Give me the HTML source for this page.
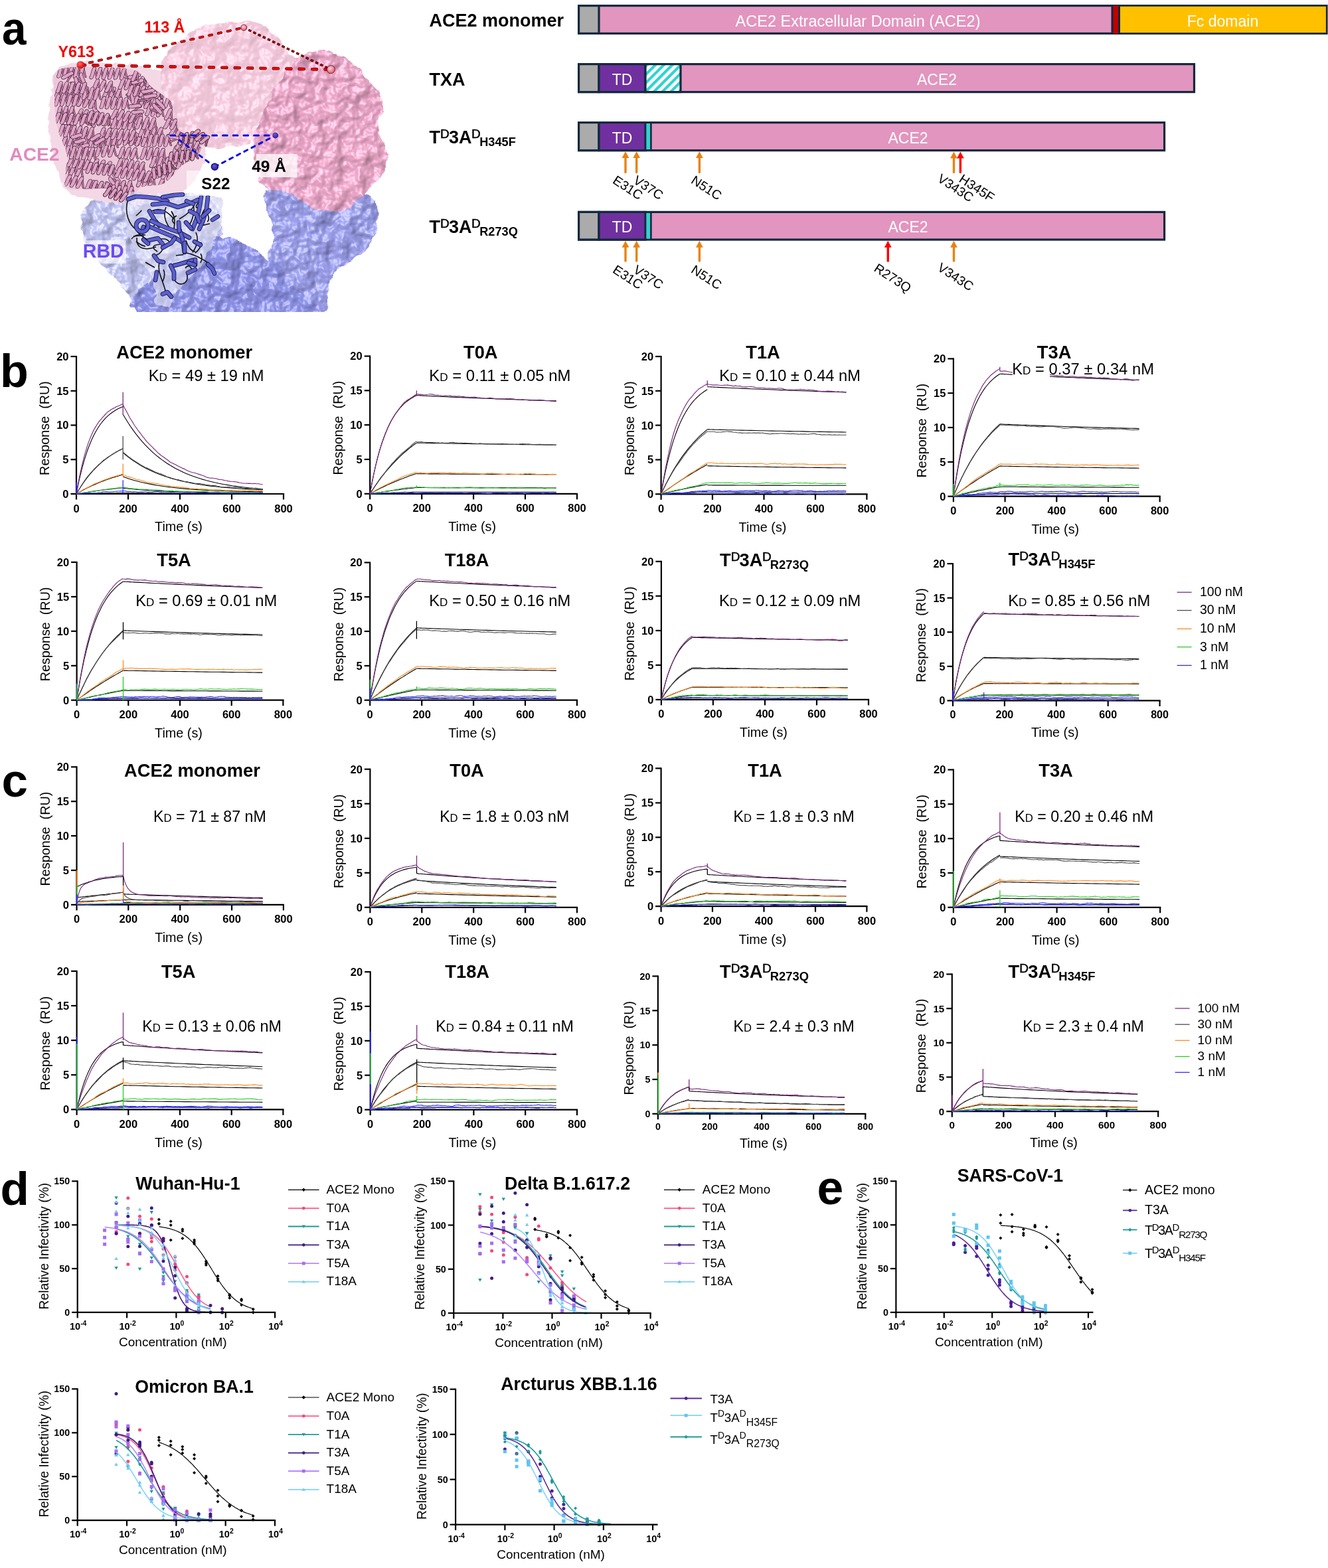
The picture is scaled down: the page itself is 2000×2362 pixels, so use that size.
<!DOCTYPE html>
<html><head><meta charset="utf-8"><title>Figure</title>
<style>html,body{margin:0;padding:0;background:#fff;} svg{display:block;}</style></head>
<body><svg width="2000" height="2362" viewBox="0 0 2000 2362" font-family="'Liberation Sans', Arial, Helvetica, sans-serif"><defs>
<pattern id="hatch" patternUnits="userSpaceOnUse" width="9" height="9" patternTransform="rotate(45)">
<rect width="9" height="9" fill="#fff"/><rect width="4.2" height="9" fill="#2FD2CF"/></pattern>
</defs><defs>
<filter id="surf" x="-10%" y="-10%" width="120%" height="120%">
 <feTurbulence type="fractalNoise" baseFrequency="0.07" numOctaves="2" seed="4" result="n"/>
 <feDisplacementMap in="SourceGraphic" in2="n" scale="10" xChannelSelector="R" yChannelSelector="G" result="shape"/>
 <feTurbulence type="fractalNoise" baseFrequency="0.045" numOctaves="3" seed="9" result="n2"/>
 <feGaussianBlur in="n2" stdDeviation="1.0" result="n3"/>
 <feSpecularLighting in="n3" surfaceScale="9" specularConstant="0.9" specularExponent="35" lighting-color="#ffffff" result="spec">
   <feDistantLight azimuth="225" elevation="50"/></feSpecularLighting>
 <feComposite in="spec" in2="shape" operator="in" result="spec2"/>
 <feDiffuseLighting in="n3" surfaceScale="10" diffuseConstant="1.0" lighting-color="#ffffff" result="diff">
   <feDistantLight azimuth="225" elevation="58"/></feDiffuseLighting>
 <feComposite in="shape" in2="diff" operator="arithmetic" k1="0.75" k2="0.32" k3="0" k4="0" result="lit"/>
 <feComposite in="lit" in2="shape" operator="in" result="lit2"/>
 <feComposite in="spec2" in2="lit2" operator="arithmetic" k1="0" k2="0.35" k3="1" k4="0"/>
</filter>
<filter id="surf2" x="-10%" y="-10%" width="120%" height="120%">
 <feTurbulence type="fractalNoise" baseFrequency="0.07" numOctaves="2" seed="4" result="n"/>
 <feDisplacementMap in="SourceGraphic" in2="n" scale="10" xChannelSelector="R" yChannelSelector="G" result="shape"/>
 <feTurbulence type="fractalNoise" baseFrequency="0.045" numOctaves="3" seed="17" result="n2"/>
 <feGaussianBlur in="n2" stdDeviation="1.0" result="n3"/>
 <feSpecularLighting in="n3" surfaceScale="8" specularConstant="0.8" specularExponent="30" lighting-color="#ffffff" result="spec">
   <feDistantLight azimuth="225" elevation="50"/></feSpecularLighting>
 <feComposite in="spec" in2="shape" operator="in" result="spec2"/>
 <feDiffuseLighting in="n3" surfaceScale="6" diffuseConstant="1.0" lighting-color="#ffffff" result="diff">
   <feDistantLight azimuth="225" elevation="62"/></feDiffuseLighting>
 <feComposite in="shape" in2="diff" operator="arithmetic" k1="0.45" k2="0.58" k3="0" k4="0" result="lit"/>
 <feComposite in="lit" in2="shape" operator="in" result="lit2"/>
 <feComposite in="spec2" in2="lit2" operator="arithmetic" k1="0" k2="0.3" k3="1" k4="0"/>
</filter>
<filter id="wob" x="-10%" y="-10%" width="120%" height="120%">
 <feTurbulence type="fractalNoise" baseFrequency="0.09" numOctaves="2" seed="4" result="n"/>
 <feDisplacementMap in="SourceGraphic" in2="n" scale="9" xChannelSelector="R" yChannelSelector="G"/>
</filter>
</defs>
<path d="M398.0,292.0C400.7,285.0 408.0,279.7 420.0,278.0C432.0,276.3 453.3,280.0 470.0,282.0C486.7,284.0 504.7,287.0 520.0,290.0C535.3,293.0 554.0,291.7 562.0,300.0C570.0,308.3 569.0,328.3 568.0,340.0C567.0,351.7 562.3,361.3 556.0,370.0C549.7,378.7 538.5,385.3 530.0,392.0C521.5,398.7 511.0,402.0 505.0,410.0C499.0,418.0 496.8,430.0 494.0,440.0C491.2,450.0 500.3,465.0 488.0,470.0C475.7,475.0 433.8,483.3 420.0,470.0C406.2,456.7 406.3,409.0 405.0,390.0C403.7,371.0 412.2,367.7 412.0,356.0C411.8,344.3 406.3,330.7 404.0,320.0C401.7,309.3 395.3,299.0 398.0,292.0Z" fill="#9EA1EC" filter="url(#surf)"/>
<path d="M122.0,330.0C123.0,318.3 129.2,308.7 138.0,302.0C146.8,295.3 162.2,293.2 175.0,290.0C187.8,286.8 202.5,283.8 215.0,283.0C227.5,282.2 237.5,283.5 250.0,285.0C262.5,286.5 278.3,289.5 290.0,292.0C301.7,294.5 313.3,293.7 320.0,300.0C326.7,306.3 328.0,320.7 330.0,330.0C332.0,339.3 337.0,347.7 332.0,356.0C327.0,364.3 312.0,369.3 300.0,380.0C288.0,390.7 271.7,408.3 260.0,420.0C248.3,431.7 238.3,441.7 230.0,450.0C221.7,458.3 216.7,471.7 210.0,470.0C203.3,468.3 198.3,450.8 190.0,440.0C181.7,429.2 169.7,416.3 160.0,405.0C150.3,393.7 138.3,384.5 132.0,372.0C125.7,359.5 121.0,341.7 122.0,330.0Z" fill="#C3C6F4" filter="url(#surf)"/>
<path d="M212.0,470.0C171.3,461.7 218.8,434.2 226.0,420.0C233.2,405.8 242.7,395.0 255.0,385.0C267.3,375.0 287.5,364.8 300.0,360.0C312.5,355.2 320.0,355.7 330.0,356.0C340.0,356.3 349.2,357.2 360.0,362.0C370.8,366.8 385.0,378.7 395.0,385.0C405.0,391.3 412.5,392.5 420.0,400.0C427.5,407.5 431.7,418.3 440.0,430.0C448.3,441.7 508.0,463.3 470.0,470.0C432.0,476.7 252.7,478.3 212.0,470.0Z" fill="#9094E8" filter="url(#surf)"/>
<rect x="150" y="470" width="450" height="12" fill="#fff"/>
<path d="M78.0,140.0C79.7,126.7 78.3,117.0 82.0,110.0C85.7,103.0 92.0,101.0 100.0,98.0C108.0,95.0 118.3,92.5 130.0,92.0C141.7,91.5 155.8,93.7 170.0,95.0C184.2,96.3 202.5,97.2 215.0,100.0C227.5,102.8 237.2,105.3 245.0,112.0C252.8,118.7 255.3,130.3 262.0,140.0C268.7,149.7 278.7,160.0 285.0,170.0C291.3,180.0 295.8,189.7 300.0,200.0C304.2,210.3 310.0,221.7 310.0,232.0C310.0,242.3 305.0,253.2 300.0,262.0C295.0,270.8 288.3,278.7 280.0,285.0C271.7,291.3 260.8,296.2 250.0,300.0C239.2,303.8 227.5,307.0 215.0,308.0C202.5,309.0 187.5,307.3 175.0,306.0C162.5,304.7 151.7,302.7 140.0,300.0C128.3,297.3 113.7,296.3 105.0,290.0C96.3,283.7 92.2,272.0 88.0,262.0C83.8,252.0 82.7,242.0 80.0,230.0C77.3,218.0 72.3,205.0 72.0,190.0C71.7,175.0 76.3,153.3 78.0,140.0Z" fill="#F4D8E5" filter="url(#wob)"/>
<path d="M242.0,118.0C241.7,107.7 241.7,97.0 246.0,88.0C250.3,79.0 259.0,71.7 268.0,64.0C277.0,56.3 289.7,47.0 300.0,42.0C310.3,37.0 320.0,35.7 330.0,34.0C340.0,32.3 350.0,31.7 360.0,32.0C370.0,32.3 381.0,32.7 390.0,36.0C399.0,39.3 406.3,44.7 414.0,52.0C421.7,59.3 429.2,72.7 436.0,80.0C442.8,87.3 456.0,89.7 455.0,96.0C454.0,102.3 437.5,110.3 430.0,118.0C422.5,125.7 415.7,133.0 410.0,142.0C404.3,151.0 400.0,162.3 396.0,172.0C392.0,181.7 390.3,192.3 386.0,200.0C381.7,207.7 377.7,214.3 370.0,218.0C362.3,221.7 350.0,221.3 340.0,222.0C330.0,222.7 318.3,223.2 310.0,222.0C301.7,220.8 296.7,218.7 290.0,215.0C283.3,211.3 275.7,206.7 270.0,200.0C264.3,193.3 259.7,183.3 256.0,175.0C252.3,166.7 250.3,159.5 248.0,150.0C245.7,140.5 242.3,128.3 242.0,118.0Z" fill="#F5CBDD" filter="url(#surf2)"/>
<path d="M428.0,112.0C435.8,101.3 441.7,92.0 452.0,86.0C462.3,80.0 477.8,75.0 490.0,76.0C502.2,77.0 513.7,84.3 525.0,92.0C536.3,99.7 549.2,111.3 558.0,122.0C566.8,132.7 576.3,144.3 578.0,156.0C579.7,167.7 567.3,181.0 568.0,192.0C568.7,203.0 580.0,211.7 582.0,222.0C584.0,232.3 583.7,244.3 580.0,254.0C576.3,263.7 566.7,272.3 560.0,280.0C553.3,287.7 546.7,293.7 540.0,300.0C533.3,306.3 528.3,315.0 520.0,318.0C511.7,321.0 498.3,318.7 490.0,318.0C481.7,317.3 476.3,317.0 470.0,314.0C463.7,311.0 458.7,304.0 452.0,300.0C445.3,296.0 436.7,292.3 430.0,290.0C423.3,287.7 418.3,288.3 412.0,286.0C405.7,283.7 396.8,282.0 392.0,276.0C387.2,270.0 384.5,261.0 383.0,250.0C381.5,239.0 381.5,221.7 383.0,210.0C384.5,198.3 388.3,190.0 392.0,180.0C395.7,170.0 399.0,161.3 405.0,150.0C411.0,138.7 420.2,122.7 428.0,112.0Z" fill="#EEAACB" filter="url(#surf)"/>
<clipPath id="ribclip"><path d="M87.0,106.0C97.5,99.5 125.3,100.8 145.0,101.0C164.7,101.2 191.2,102.0 205.0,107.0C218.8,112.0 218.2,122.2 228.0,131.0C237.8,139.8 257.2,149.2 264.0,160.0C270.8,170.8 262.8,187.8 269.0,196.0C275.2,204.2 296.2,202.8 301.0,209.0C305.8,215.2 302.7,226.2 298.0,233.0C293.3,239.8 281.5,242.8 273.0,250.0C264.5,257.2 257.0,270.7 247.0,276.0C237.0,281.3 222.0,277.3 213.0,282.0C204.0,286.7 201.0,300.8 193.0,304.0C185.0,307.2 170.2,304.3 165.0,301.0C159.8,297.7 172.3,286.8 162.0,284.0C151.7,281.2 113.5,288.2 103.0,284.0C92.5,279.8 99.3,267.5 99.0,259.0C98.7,250.5 103.2,244.5 101.0,233.0C98.8,221.5 89.2,205.5 86.0,190.0C82.8,174.5 81.8,154.0 82.0,140.0C82.2,126.0 76.5,112.5 87.0,106.0Z"/></clipPath>
<path d="M87.0,106.0C97.5,99.5 125.3,100.8 145.0,101.0C164.7,101.2 191.2,102.0 205.0,107.0C218.8,112.0 218.2,122.2 228.0,131.0C237.8,139.8 257.2,149.2 264.0,160.0C270.8,170.8 262.8,187.8 269.0,196.0C275.2,204.2 296.2,202.8 301.0,209.0C305.8,215.2 302.7,226.2 298.0,233.0C293.3,239.8 281.5,242.8 273.0,250.0C264.5,257.2 257.0,270.7 247.0,276.0C237.0,281.3 222.0,277.3 213.0,282.0C204.0,286.7 201.0,300.8 193.0,304.0C185.0,307.2 170.2,304.3 165.0,301.0C159.8,297.7 172.3,286.8 162.0,284.0C151.7,281.2 113.5,288.2 103.0,284.0C92.5,279.8 99.3,267.5 99.0,259.0C98.7,250.5 103.2,244.5 101.0,233.0C98.8,221.5 89.2,205.5 86.0,190.0C82.8,174.5 81.8,154.0 82.0,140.0C82.2,126.0 76.5,112.5 87.0,106.0Z" fill="#E8C0D6" opacity="0.7"/>
<g clip-path="url(#ribclip)">
<path d="M226.7 158.7c1.3 0.1 1.5 14.1 2.8 14.2M234.9 159.5c1.3 0.1 1.5 14.1 2.8 14.2M243.2 160.3c1.3 0.1 1.5 14.1 2.8 14.2" fill="none" stroke="#3a2030" stroke-width="3.3" stroke-linecap="round"/>
<path d="M226.7 158.7c1.3 0.1 1.5 14.1 2.8 14.2M234.9 159.5c1.3 0.1 1.5 14.1 2.8 14.2M243.2 160.3c1.3 0.1 1.5 14.1 2.8 14.2" fill="none" stroke="#C27BA2" stroke-width="2.1" stroke-linecap="round"/>
<path d="M221.2 172.2c1.3 0.1 4.1 -13.5 5.4 -13.4M229.5 172.9c1.3 0.1 4.1 -13.5 5.4 -13.4M237.8 173.7c1.3 0.1 4.1 -13.5 5.4 -13.4" fill="none" stroke="#3a2030" stroke-width="5.9" stroke-linecap="round"/>
<path d="M221.2 172.2c1.3 0.1 4.1 -13.5 5.4 -13.4M229.5 172.9c1.3 0.1 4.1 -13.5 5.4 -13.4M237.8 173.7c1.3 0.1 4.1 -13.5 5.4 -13.4" fill="none" stroke="#E2A3C8" stroke-width="4.6" stroke-linecap="round"/>
<path d="M207.0 147.1c1.5 0.2 1.5 13.0 2.9 13.2M216.1 148.3c1.5 0.2 1.5 13.0 2.9 13.2M225.2 149.4c1.5 0.2 1.5 13.0 2.9 13.2M234.2 150.6c1.5 0.2 1.5 13.0 2.9 13.2M243.3 151.7c1.5 0.2 1.5 13.0 2.9 13.2" fill="none" stroke="#3a2030" stroke-width="3.3" stroke-linecap="round"/>
<path d="M207.0 147.1c1.5 0.2 1.5 13.0 2.9 13.2M216.1 148.3c1.5 0.2 1.5 13.0 2.9 13.2M225.2 149.4c1.5 0.2 1.5 13.0 2.9 13.2M234.2 150.6c1.5 0.2 1.5 13.0 2.9 13.2M243.3 151.7c1.5 0.2 1.5 13.0 2.9 13.2" fill="none" stroke="#C27BA2" stroke-width="2.1" stroke-linecap="round"/>
<path d="M200.9 159.1c1.5 0.2 4.7 -12.2 6.1 -12.0M210.0 160.3c1.5 0.2 4.7 -12.2 6.1 -12.0M219.0 161.4c1.5 0.2 4.7 -12.2 6.1 -12.0M228.1 162.6c1.5 0.2 4.7 -12.2 6.1 -12.0M237.2 163.7c1.5 0.2 4.7 -12.2 6.1 -12.0" fill="none" stroke="#3a2030" stroke-width="5.9" stroke-linecap="round"/>
<path d="M200.9 159.1c1.5 0.2 4.7 -12.2 6.1 -12.0M210.0 160.3c1.5 0.2 4.7 -12.2 6.1 -12.0M219.0 161.4c1.5 0.2 4.7 -12.2 6.1 -12.0M228.1 162.6c1.5 0.2 4.7 -12.2 6.1 -12.0M237.2 163.7c1.5 0.2 4.7 -12.2 6.1 -12.0" fill="none" stroke="#E2A3C8" stroke-width="4.6" stroke-linecap="round"/>
<path d="M146.4 241.3c1.6 0.3 0.5 14.3 2.1 14.6M156.2 243.3c1.6 0.3 0.5 14.3 2.1 14.6M165.9 245.3c1.6 0.3 0.5 14.3 2.1 14.6" fill="none" stroke="#3a2030" stroke-width="3.3" stroke-linecap="round"/>
<path d="M146.4 241.3c1.6 0.3 0.5 14.3 2.1 14.6M156.2 243.3c1.6 0.3 0.5 14.3 2.1 14.6M165.9 245.3c1.6 0.3 0.5 14.3 2.1 14.6" fill="none" stroke="#C27BA2" stroke-width="2.1" stroke-linecap="round"/>
<path d="M138.8 254.0c1.6 0.3 6.1 -13.0 7.7 -12.6M148.5 256.0c1.6 0.3 6.1 -13.0 7.7 -12.6M158.2 258.0c1.6 0.3 6.1 -13.0 7.7 -12.6" fill="none" stroke="#3a2030" stroke-width="5.9" stroke-linecap="round"/>
<path d="M138.8 254.0c1.6 0.3 6.1 -13.0 7.7 -12.6M148.5 256.0c1.6 0.3 6.1 -13.0 7.7 -12.6M158.2 258.0c1.6 0.3 6.1 -13.0 7.7 -12.6" fill="none" stroke="#E2A3C8" stroke-width="4.6" stroke-linecap="round"/>
<path d="M245.4 271.0c1.5 0.2 1.8 12.4 3.4 12.6" fill="none" stroke="#3a2030" stroke-width="3.3" stroke-linecap="round"/>
<path d="M245.4 271.0c1.5 0.2 1.8 12.4 3.4 12.6" fill="none" stroke="#C27BA2" stroke-width="2.1" stroke-linecap="round"/>
<path d="M239.0 282.5c1.5 0.2 4.8 -11.6 6.3 -11.4" fill="none" stroke="#3a2030" stroke-width="5.9" stroke-linecap="round"/>
<path d="M239.0 282.5c1.5 0.2 4.8 -11.6 6.3 -11.4" fill="none" stroke="#E2A3C8" stroke-width="4.6" stroke-linecap="round"/>
<path d="M149.7 285.4c-0.8 1.0 -12.2 -5.8 -13.0 -4.8M144.8 291.8c-0.8 1.0 -12.2 -5.8 -13.0 -4.8M139.9 298.2c-0.8 1.0 -12.2 -5.8 -13.0 -4.8" fill="none" stroke="#3a2030" stroke-width="3.3" stroke-linecap="round"/>
<path d="M149.7 285.4c-0.8 1.0 -12.2 -5.8 -13.0 -4.8M144.8 291.8c-0.8 1.0 -12.2 -5.8 -13.0 -4.8M139.9 298.2c-0.8 1.0 -12.2 -5.8 -13.0 -4.8" fill="none" stroke="#C27BA2" stroke-width="2.1" stroke-linecap="round"/>
<path d="M141.6 274.2c-0.8 1.0 8.9 10.2 8.1 11.2M136.7 280.6c-0.8 1.0 8.9 10.2 8.1 11.2M131.8 287.0c-0.8 1.0 8.9 10.2 8.1 11.2" fill="none" stroke="#3a2030" stroke-width="5.9" stroke-linecap="round"/>
<path d="M141.6 274.2c-0.8 1.0 8.9 10.2 8.1 11.2M136.7 280.6c-0.8 1.0 8.9 10.2 8.1 11.2M131.8 287.0c-0.8 1.0 8.9 10.2 8.1 11.2" fill="none" stroke="#E2A3C8" stroke-width="4.6" stroke-linecap="round"/>
<path d="M211.2 208.0c-0.6 1.4 -13.4 -2.4 -13.9 -1.0M207.6 216.5c-0.6 1.4 -13.4 -2.4 -13.9 -1.0" fill="none" stroke="#3a2030" stroke-width="3.3" stroke-linecap="round"/>
<path d="M211.2 208.0c-0.6 1.4 -13.4 -2.4 -13.9 -1.0M207.6 216.5c-0.6 1.4 -13.4 -2.4 -13.9 -1.0" fill="none" stroke="#C27BA2" stroke-width="2.1" stroke-linecap="round"/>
<path d="M200.9 198.6c-0.6 1.4 10.9 8.1 10.3 9.5M197.3 207.0c-0.6 1.4 10.9 8.1 10.3 9.5" fill="none" stroke="#3a2030" stroke-width="5.9" stroke-linecap="round"/>
<path d="M200.9 198.6c-0.6 1.4 10.9 8.1 10.3 9.5M197.3 207.0c-0.6 1.4 10.9 8.1 10.3 9.5" fill="none" stroke="#E2A3C8" stroke-width="4.6" stroke-linecap="round"/>
<path d="M99.4 207.3c1.4 0.1 1.5 13.3 2.9 13.5M108.1 208.2c1.4 0.1 1.5 13.3 2.9 13.5M116.7 209.1c1.4 0.1 1.5 13.3 2.9 13.5" fill="none" stroke="#3a2030" stroke-width="3.3" stroke-linecap="round"/>
<path d="M99.4 207.3c1.4 0.1 1.5 13.3 2.9 13.5M108.1 208.2c1.4 0.1 1.5 13.3 2.9 13.5M116.7 209.1c1.4 0.1 1.5 13.3 2.9 13.5" fill="none" stroke="#C27BA2" stroke-width="2.1" stroke-linecap="round"/>
<path d="M93.7 219.8c1.4 0.1 4.3 -12.7 5.7 -12.6M102.4 220.8c1.4 0.1 4.3 -12.7 5.7 -12.6M111.0 221.7c1.4 0.1 4.3 -12.7 5.7 -12.6" fill="none" stroke="#3a2030" stroke-width="5.9" stroke-linecap="round"/>
<path d="M93.7 219.8c1.4 0.1 4.3 -12.7 5.7 -12.6M102.4 220.8c1.4 0.1 4.3 -12.7 5.7 -12.6M111.0 221.7c1.4 0.1 4.3 -12.7 5.7 -12.6" fill="none" stroke="#E2A3C8" stroke-width="4.6" stroke-linecap="round"/>
<path d="M163.1 132.3c1.4 0.2 0.7 14.7 2.1 15.0M171.8 133.7c1.4 0.2 0.7 14.7 2.1 15.0M180.6 135.0c1.4 0.2 0.7 14.7 2.1 15.0" fill="none" stroke="#3a2030" stroke-width="3.3" stroke-linecap="round"/>
<path d="M163.1 132.3c1.4 0.2 0.7 14.7 2.1 15.0M171.8 133.7c1.4 0.2 0.7 14.7 2.1 15.0M180.6 135.0c1.4 0.2 0.7 14.7 2.1 15.0" fill="none" stroke="#C27BA2" stroke-width="2.1" stroke-linecap="round"/>
<path d="M156.5 145.9c1.4 0.2 5.2 -13.8 6.6 -13.6M165.2 147.2c1.4 0.2 5.2 -13.8 6.6 -13.6M174.0 148.6c1.4 0.2 5.2 -13.8 6.6 -13.6" fill="none" stroke="#3a2030" stroke-width="5.9" stroke-linecap="round"/>
<path d="M156.5 145.9c1.4 0.2 5.2 -13.8 6.6 -13.6M165.2 147.2c1.4 0.2 5.2 -13.8 6.6 -13.6M174.0 148.6c1.4 0.2 5.2 -13.8 6.6 -13.6" fill="none" stroke="#E2A3C8" stroke-width="4.6" stroke-linecap="round"/>
<path d="M151.3 175.7c-0.8 1.1 -13.6 -6.6 -14.5 -5.5M146.2 182.5c-0.8 1.1 -13.6 -6.6 -14.5 -5.5M141.1 189.3c-0.8 1.1 -13.6 -6.6 -14.5 -5.5" fill="none" stroke="#3a2030" stroke-width="3.3" stroke-linecap="round"/>
<path d="M151.3 175.7c-0.8 1.1 -13.6 -6.6 -14.5 -5.5M146.2 182.5c-0.8 1.1 -13.6 -6.6 -14.5 -5.5M141.1 189.3c-0.8 1.1 -13.6 -6.6 -14.5 -5.5" fill="none" stroke="#C27BA2" stroke-width="2.1" stroke-linecap="round"/>
<path d="M142.0 163.3c-0.8 1.1 10.2 11.2 9.3 12.3M136.9 170.1c-0.8 1.1 10.2 11.2 9.3 12.3M131.8 177.0c-0.8 1.1 10.2 11.2 9.3 12.3" fill="none" stroke="#3a2030" stroke-width="5.9" stroke-linecap="round"/>
<path d="M142.0 163.3c-0.8 1.1 10.2 11.2 9.3 12.3M136.9 170.1c-0.8 1.1 10.2 11.2 9.3 12.3M131.8 177.0c-0.8 1.1 10.2 11.2 9.3 12.3" fill="none" stroke="#E2A3C8" stroke-width="4.6" stroke-linecap="round"/>
<path d="M184.2 204.1c1.4 0.1 2.3 12.5 3.7 12.5M193.2 204.6c1.4 0.1 2.3 12.5 3.7 12.5M202.1 205.2c1.4 0.1 2.3 12.5 3.7 12.5M211.1 205.7c1.4 0.1 2.3 12.5 3.7 12.5M220.0 206.3c1.4 0.1 2.3 12.5 3.7 12.5" fill="none" stroke="#3a2030" stroke-width="3.3" stroke-linecap="round"/>
<path d="M184.2 204.1c1.4 0.1 2.3 12.5 3.7 12.5M193.2 204.6c1.4 0.1 2.3 12.5 3.7 12.5M202.1 205.2c1.4 0.1 2.3 12.5 3.7 12.5M211.1 205.7c1.4 0.1 2.3 12.5 3.7 12.5M220.0 206.3c1.4 0.1 2.3 12.5 3.7 12.5" fill="none" stroke="#C27BA2" stroke-width="2.1" stroke-linecap="round"/>
<path d="M179.0 216.1c1.4 0.1 3.8 -12.1 5.2 -12.0M187.9 216.6c1.4 0.1 3.8 -12.1 5.2 -12.0M196.9 217.2c1.4 0.1 3.8 -12.1 5.2 -12.0M205.8 217.7c1.4 0.1 3.8 -12.1 5.2 -12.0M214.8 218.3c1.4 0.1 3.8 -12.1 5.2 -12.0" fill="none" stroke="#3a2030" stroke-width="5.9" stroke-linecap="round"/>
<path d="M179.0 216.1c1.4 0.1 3.8 -12.1 5.2 -12.0M187.9 216.6c1.4 0.1 3.8 -12.1 5.2 -12.0M196.9 217.2c1.4 0.1 3.8 -12.1 5.2 -12.0M205.8 217.7c1.4 0.1 3.8 -12.1 5.2 -12.0M214.8 218.3c1.4 0.1 3.8 -12.1 5.2 -12.0" fill="none" stroke="#E2A3C8" stroke-width="4.6" stroke-linecap="round"/>
<path d="M217.1 190.4c1.4 0.2 0.8 14.5 2.2 14.7M225.7 191.7c1.4 0.2 0.8 14.5 2.2 14.7M234.3 193.0c1.4 0.2 0.8 14.5 2.2 14.7M242.9 194.3c1.4 0.2 0.8 14.5 2.2 14.7" fill="none" stroke="#3a2030" stroke-width="3.3" stroke-linecap="round"/>
<path d="M217.1 190.4c1.4 0.2 0.8 14.5 2.2 14.7M225.7 191.7c1.4 0.2 0.8 14.5 2.2 14.7M234.3 193.0c1.4 0.2 0.8 14.5 2.2 14.7M242.9 194.3c1.4 0.2 0.8 14.5 2.2 14.7" fill="none" stroke="#C27BA2" stroke-width="2.1" stroke-linecap="round"/>
<path d="M210.7 203.8c1.4 0.2 5.0 -13.6 6.4 -13.4M219.3 205.1c1.4 0.2 5.0 -13.6 6.4 -13.4M227.9 206.4c1.4 0.2 5.0 -13.6 6.4 -13.4M236.5 207.7c1.4 0.2 5.0 -13.6 6.4 -13.4" fill="none" stroke="#3a2030" stroke-width="5.9" stroke-linecap="round"/>
<path d="M210.7 203.8c1.4 0.2 5.0 -13.6 6.4 -13.4M219.3 205.1c1.4 0.2 5.0 -13.6 6.4 -13.4M227.9 206.4c1.4 0.2 5.0 -13.6 6.4 -13.4M236.5 207.7c1.4 0.2 5.0 -13.6 6.4 -13.4" fill="none" stroke="#E2A3C8" stroke-width="4.6" stroke-linecap="round"/>
<path d="M145.1 173.8c1.5 0.1 2.1 12.9 3.6 13.1M154.2 174.5c1.5 0.1 2.1 12.9 3.6 13.1M163.3 175.2c1.5 0.1 2.1 12.9 3.6 13.1" fill="none" stroke="#3a2030" stroke-width="3.3" stroke-linecap="round"/>
<path d="M145.1 173.8c1.5 0.1 2.1 12.9 3.6 13.1M154.2 174.5c1.5 0.1 2.1 12.9 3.6 13.1M163.3 175.2c1.5 0.1 2.1 12.9 3.6 13.1" fill="none" stroke="#C27BA2" stroke-width="2.1" stroke-linecap="round"/>
<path d="M139.6 186.1c1.5 0.1 4.1 -12.5 5.5 -12.3M148.7 186.9c1.5 0.1 4.1 -12.5 5.5 -12.3M157.8 187.6c1.5 0.1 4.1 -12.5 5.5 -12.3" fill="none" stroke="#3a2030" stroke-width="5.9" stroke-linecap="round"/>
<path d="M139.6 186.1c1.5 0.1 4.1 -12.5 5.5 -12.3M148.7 186.9c1.5 0.1 4.1 -12.5 5.5 -12.3M157.8 187.6c1.5 0.1 4.1 -12.5 5.5 -12.3" fill="none" stroke="#E2A3C8" stroke-width="4.6" stroke-linecap="round"/>
<path d="M265.8 221.4c1.5 0.1 1.9 14.7 3.3 14.8M274.9 222.1c1.5 0.1 1.9 14.7 3.3 14.8M284.1 222.9c1.5 0.1 1.9 14.7 3.3 14.8M293.2 223.7c1.5 0.1 1.9 14.7 3.3 14.8" fill="none" stroke="#3a2030" stroke-width="3.3" stroke-linecap="round"/>
<path d="M265.8 221.4c1.5 0.1 1.9 14.7 3.3 14.8M274.9 222.1c1.5 0.1 1.9 14.7 3.3 14.8M284.1 222.9c1.5 0.1 1.9 14.7 3.3 14.8M293.2 223.7c1.5 0.1 1.9 14.7 3.3 14.8" fill="none" stroke="#C27BA2" stroke-width="2.1" stroke-linecap="round"/>
<path d="M260.0 235.4c1.5 0.1 4.3 -14.1 5.8 -14.0M269.1 236.2c1.5 0.1 4.3 -14.1 5.8 -14.0M278.3 237.0c1.5 0.1 4.3 -14.1 5.8 -14.0M287.4 237.7c1.5 0.1 4.3 -14.1 5.8 -14.0" fill="none" stroke="#3a2030" stroke-width="5.9" stroke-linecap="round"/>
<path d="M260.0 235.4c1.5 0.1 4.3 -14.1 5.8 -14.0M269.1 236.2c1.5 0.1 4.3 -14.1 5.8 -14.0M278.3 237.0c1.5 0.1 4.3 -14.1 5.8 -14.0M287.4 237.7c1.5 0.1 4.3 -14.1 5.8 -14.0" fill="none" stroke="#E2A3C8" stroke-width="4.6" stroke-linecap="round"/>
<path d="M179.6 274.5c-0.9 1.1 -12.6 -6.4 -13.5 -5.4M174.0 281.3c-0.9 1.1 -12.6 -6.4 -13.5 -5.4M168.5 288.1c-0.9 1.1 -12.6 -6.4 -13.5 -5.4" fill="none" stroke="#3a2030" stroke-width="3.3" stroke-linecap="round"/>
<path d="M179.6 274.5c-0.9 1.1 -12.6 -6.4 -13.5 -5.4M174.0 281.3c-0.9 1.1 -12.6 -6.4 -13.5 -5.4M168.5 288.1c-0.9 1.1 -12.6 -6.4 -13.5 -5.4" fill="none" stroke="#C27BA2" stroke-width="2.1" stroke-linecap="round"/>
<path d="M171.7 262.4c-0.9 1.1 8.8 11.1 7.9 12.2M166.1 269.2c-0.9 1.1 8.8 11.1 7.9 12.2M160.6 276.0c-0.9 1.1 8.8 11.1 7.9 12.2" fill="none" stroke="#3a2030" stroke-width="5.9" stroke-linecap="round"/>
<path d="M171.7 262.4c-0.9 1.1 8.8 11.1 7.9 12.2M166.1 269.2c-0.9 1.1 8.8 11.1 7.9 12.2M160.6 276.0c-0.9 1.1 8.8 11.1 7.9 12.2" fill="none" stroke="#E2A3C8" stroke-width="4.6" stroke-linecap="round"/>
<path d="M143.9 229.6c0.7 1.4 -11.2 8.9 -10.6 10.3" fill="none" stroke="#3a2030" stroke-width="3.3" stroke-linecap="round"/>
<path d="M143.9 229.6c0.7 1.4 -11.2 8.9 -10.6 10.3" fill="none" stroke="#C27BA2" stroke-width="2.1" stroke-linecap="round"/>
<path d="M129.2 231.3c0.7 1.4 14.0 -3.0 14.7 -1.7" fill="none" stroke="#3a2030" stroke-width="5.9" stroke-linecap="round"/>
<path d="M129.2 231.3c0.7 1.4 14.0 -3.0 14.7 -1.7" fill="none" stroke="#E2A3C8" stroke-width="4.6" stroke-linecap="round"/>
<path d="M218.6 118.0c1.6 0.1 2.9 12.4 4.5 12.4" fill="none" stroke="#3a2030" stroke-width="3.3" stroke-linecap="round"/>
<path d="M218.6 118.0c1.6 0.1 2.9 12.4 4.5 12.4" fill="none" stroke="#C27BA2" stroke-width="2.1" stroke-linecap="round"/>
<path d="M213.1 130.0c1.6 0.1 3.9 -12.1 5.5 -12.0" fill="none" stroke="#3a2030" stroke-width="5.9" stroke-linecap="round"/>
<path d="M213.1 130.0c1.6 0.1 3.9 -12.1 5.5 -12.0" fill="none" stroke="#E2A3C8" stroke-width="4.6" stroke-linecap="round"/>
<path d="M186.4 119.3c1.4 0.1 1.6 13.5 3.1 13.7M195.2 120.2c1.4 0.1 1.6 13.5 3.1 13.7M204.1 121.2c1.4 0.1 1.6 13.5 3.1 13.7" fill="none" stroke="#3a2030" stroke-width="3.3" stroke-linecap="round"/>
<path d="M186.4 119.3c1.4 0.1 1.6 13.5 3.1 13.7M195.2 120.2c1.4 0.1 1.6 13.5 3.1 13.7M204.1 121.2c1.4 0.1 1.6 13.5 3.1 13.7" fill="none" stroke="#C27BA2" stroke-width="2.1" stroke-linecap="round"/>
<path d="M180.6 132.1c1.4 0.1 4.4 -12.9 5.8 -12.8M189.4 133.0c1.4 0.1 4.4 -12.9 5.8 -12.8M198.3 133.9c1.4 0.1 4.4 -12.9 5.8 -12.8" fill="none" stroke="#3a2030" stroke-width="5.9" stroke-linecap="round"/>
<path d="M180.6 132.1c1.4 0.1 4.4 -12.9 5.8 -12.8M189.4 133.0c1.4 0.1 4.4 -12.9 5.8 -12.8M198.3 133.9c1.4 0.1 4.4 -12.9 5.8 -12.8" fill="none" stroke="#E2A3C8" stroke-width="4.6" stroke-linecap="round"/>
<path d="M89.1 134.6c1.5 0.1 2.1 13.7 3.6 13.8M98.6 135.4c1.5 0.1 2.1 13.7 3.6 13.8M108.0 136.2c1.5 0.1 2.1 13.7 3.6 13.8M117.4 137.0c1.5 0.1 2.1 13.7 3.6 13.8" fill="none" stroke="#3a2030" stroke-width="3.3" stroke-linecap="round"/>
<path d="M89.1 134.6c1.5 0.1 2.1 13.7 3.6 13.8M98.6 135.4c1.5 0.1 2.1 13.7 3.6 13.8M108.0 136.2c1.5 0.1 2.1 13.7 3.6 13.8M117.4 137.0c1.5 0.1 2.1 13.7 3.6 13.8" fill="none" stroke="#C27BA2" stroke-width="2.1" stroke-linecap="round"/>
<path d="M83.3 147.6c1.5 0.1 4.3 -13.2 5.9 -13.0M92.7 148.4c1.5 0.1 4.3 -13.2 5.9 -13.0M102.1 149.2c1.5 0.1 4.3 -13.2 5.9 -13.0M111.6 150.0c1.5 0.1 4.3 -13.2 5.9 -13.0" fill="none" stroke="#3a2030" stroke-width="5.9" stroke-linecap="round"/>
<path d="M83.3 147.6c1.5 0.1 4.3 -13.2 5.9 -13.0M92.7 148.4c1.5 0.1 4.3 -13.2 5.9 -13.0M102.1 149.2c1.5 0.1 4.3 -13.2 5.9 -13.0M111.6 150.0c1.5 0.1 4.3 -13.2 5.9 -13.0" fill="none" stroke="#E2A3C8" stroke-width="4.6" stroke-linecap="round"/>
<path d="M185.6 223.3c1.5 0.1 1.9 13.6 3.4 13.8M194.7 224.1c1.5 0.1 1.9 13.6 3.4 13.8M203.9 225.0c1.5 0.1 1.9 13.6 3.4 13.8" fill="none" stroke="#3a2030" stroke-width="3.3" stroke-linecap="round"/>
<path d="M185.6 223.3c1.5 0.1 1.9 13.6 3.4 13.8M194.7 224.1c1.5 0.1 1.9 13.6 3.4 13.8M203.9 225.0c1.5 0.1 1.9 13.6 3.4 13.8" fill="none" stroke="#C27BA2" stroke-width="2.1" stroke-linecap="round"/>
<path d="M179.8 236.2c1.5 0.1 4.3 -13.1 5.8 -12.9M188.9 237.1c1.5 0.1 4.3 -13.1 5.8 -12.9M198.1 237.9c1.5 0.1 4.3 -13.1 5.8 -12.9" fill="none" stroke="#3a2030" stroke-width="5.9" stroke-linecap="round"/>
<path d="M179.8 236.2c1.5 0.1 4.3 -13.1 5.8 -12.9M188.9 237.1c1.5 0.1 4.3 -13.1 5.8 -12.9M198.1 237.9c1.5 0.1 4.3 -13.1 5.8 -12.9" fill="none" stroke="#E2A3C8" stroke-width="4.6" stroke-linecap="round"/>
<path d="M131.1 206.8c1.4 0.1 2.4 13.0 3.7 13.1M139.6 207.1c1.4 0.1 2.4 13.0 3.7 13.1M148.1 207.5c1.4 0.1 2.4 13.0 3.7 13.1M156.6 207.8c1.4 0.1 2.4 13.0 3.7 13.1M165.1 208.2c1.4 0.1 2.4 13.0 3.7 13.1M173.6 208.6c1.4 0.1 2.4 13.0 3.7 13.1" fill="none" stroke="#3a2030" stroke-width="3.3" stroke-linecap="round"/>
<path d="M131.1 206.8c1.4 0.1 2.4 13.0 3.7 13.1M139.6 207.1c1.4 0.1 2.4 13.0 3.7 13.1M148.1 207.5c1.4 0.1 2.4 13.0 3.7 13.1M156.6 207.8c1.4 0.1 2.4 13.0 3.7 13.1M165.1 208.2c1.4 0.1 2.4 13.0 3.7 13.1M173.6 208.6c1.4 0.1 2.4 13.0 3.7 13.1" fill="none" stroke="#C27BA2" stroke-width="2.1" stroke-linecap="round"/>
<path d="M126.4 219.5c1.4 0.1 3.4 -12.8 4.8 -12.7M134.9 219.8c1.4 0.1 3.4 -12.8 4.8 -12.7M143.4 220.2c1.4 0.1 3.4 -12.8 4.8 -12.7M151.9 220.6c1.4 0.1 3.4 -12.8 4.8 -12.7M160.4 220.9c1.4 0.1 3.4 -12.8 4.8 -12.7M168.9 221.3c1.4 0.1 3.4 -12.8 4.8 -12.7" fill="none" stroke="#3a2030" stroke-width="5.9" stroke-linecap="round"/>
<path d="M126.4 219.5c1.4 0.1 3.4 -12.8 4.8 -12.7M134.9 219.8c1.4 0.1 3.4 -12.8 4.8 -12.7M143.4 220.2c1.4 0.1 3.4 -12.8 4.8 -12.7M151.9 220.6c1.4 0.1 3.4 -12.8 4.8 -12.7M160.4 220.9c1.4 0.1 3.4 -12.8 4.8 -12.7M168.9 221.3c1.4 0.1 3.4 -12.8 4.8 -12.7" fill="none" stroke="#E2A3C8" stroke-width="4.6" stroke-linecap="round"/>
<path d="M174.9 178.2c1.3 0.1 1.4 13.8 2.7 13.9M183.1 179.1c1.3 0.1 1.4 13.8 2.7 13.9M191.3 179.9c1.3 0.1 1.4 13.8 2.7 13.9M199.5 180.8c1.3 0.1 1.4 13.8 2.7 13.9" fill="none" stroke="#3a2030" stroke-width="3.3" stroke-linecap="round"/>
<path d="M174.9 178.2c1.3 0.1 1.4 13.8 2.7 13.9M183.1 179.1c1.3 0.1 1.4 13.8 2.7 13.9M191.3 179.9c1.3 0.1 1.4 13.8 2.7 13.9M199.5 180.8c1.3 0.1 1.4 13.8 2.7 13.9" fill="none" stroke="#C27BA2" stroke-width="2.1" stroke-linecap="round"/>
<path d="M169.4 191.3c1.3 0.1 4.2 -13.2 5.5 -13.0M177.6 192.1c1.3 0.1 4.2 -13.2 5.5 -13.0M185.8 193.0c1.3 0.1 4.2 -13.2 5.5 -13.0M194.0 193.8c1.3 0.1 4.2 -13.2 5.5 -13.0" fill="none" stroke="#3a2030" stroke-width="5.9" stroke-linecap="round"/>
<path d="M169.4 191.3c1.3 0.1 4.2 -13.2 5.5 -13.0M177.6 192.1c1.3 0.1 4.2 -13.2 5.5 -13.0M185.8 193.0c1.3 0.1 4.2 -13.2 5.5 -13.0M194.0 193.8c1.3 0.1 4.2 -13.2 5.5 -13.0" fill="none" stroke="#E2A3C8" stroke-width="4.6" stroke-linecap="round"/>
<path d="M222.0 128.6c-1.5 0.3 -5.6 -11.2 -7.1 -10.9M212.7 130.5c-1.5 0.3 -5.6 -11.2 -7.1 -10.9" fill="none" stroke="#3a2030" stroke-width="3.3" stroke-linecap="round"/>
<path d="M222.0 128.6c-1.5 0.3 -5.6 -11.2 -7.1 -10.9M212.7 130.5c-1.5 0.3 -5.6 -11.2 -7.1 -10.9" fill="none" stroke="#C27BA2" stroke-width="2.1" stroke-linecap="round"/>
<path d="M224.1 115.8c-1.5 0.3 -0.7 12.5 -2.1 12.8M214.9 117.7c-1.5 0.3 -0.7 12.5 -2.1 12.8" fill="none" stroke="#3a2030" stroke-width="5.9" stroke-linecap="round"/>
<path d="M224.1 115.8c-1.5 0.3 -0.7 12.5 -2.1 12.8M214.9 117.7c-1.5 0.3 -0.7 12.5 -2.1 12.8" fill="none" stroke="#E2A3C8" stroke-width="4.6" stroke-linecap="round"/>
<path d="M175.8 166.1c1.5 0.3 0.6 12.8 2.1 13.1M184.9 168.0c1.5 0.3 0.6 12.8 2.1 13.1M193.9 169.8c1.5 0.3 0.6 12.8 2.1 13.1M203.0 171.6c1.5 0.3 0.6 12.8 2.1 13.1M212.1 173.4c1.5 0.3 0.6 12.8 2.1 13.1" fill="none" stroke="#3a2030" stroke-width="3.3" stroke-linecap="round"/>
<path d="M175.8 166.1c1.5 0.3 0.6 12.8 2.1 13.1M184.9 168.0c1.5 0.3 0.6 12.8 2.1 13.1M193.9 169.8c1.5 0.3 0.6 12.8 2.1 13.1M203.0 171.6c1.5 0.3 0.6 12.8 2.1 13.1M212.1 173.4c1.5 0.3 0.6 12.8 2.1 13.1" fill="none" stroke="#C27BA2" stroke-width="2.1" stroke-linecap="round"/>
<path d="M168.8 177.4c1.5 0.3 5.5 -11.6 7.0 -11.3M177.9 179.2c1.5 0.3 5.5 -11.6 7.0 -11.3M186.9 181.1c1.5 0.3 5.5 -11.6 7.0 -11.3M196.0 182.9c1.5 0.3 5.5 -11.6 7.0 -11.3M205.1 184.7c1.5 0.3 5.5 -11.6 7.0 -11.3" fill="none" stroke="#3a2030" stroke-width="5.9" stroke-linecap="round"/>
<path d="M168.8 177.4c1.5 0.3 5.5 -11.6 7.0 -11.3M177.9 179.2c1.5 0.3 5.5 -11.6 7.0 -11.3M186.9 181.1c1.5 0.3 5.5 -11.6 7.0 -11.3M196.0 182.9c1.5 0.3 5.5 -11.6 7.0 -11.3M205.1 184.7c1.5 0.3 5.5 -11.6 7.0 -11.3" fill="none" stroke="#E2A3C8" stroke-width="4.6" stroke-linecap="round"/>
<path d="M103.1 247.7c1.5 0.3 0.8 15.1 2.3 15.4M112.6 249.3c1.5 0.3 0.8 15.1 2.3 15.4M122.2 250.9c1.5 0.3 0.8 15.1 2.3 15.4" fill="none" stroke="#3a2030" stroke-width="3.3" stroke-linecap="round"/>
<path d="M103.1 247.7c1.5 0.3 0.8 15.1 2.3 15.4M112.6 249.3c1.5 0.3 0.8 15.1 2.3 15.4M122.2 250.9c1.5 0.3 0.8 15.1 2.3 15.4" fill="none" stroke="#C27BA2" stroke-width="2.1" stroke-linecap="round"/>
<path d="M95.9 261.5c1.5 0.3 5.7 -14.0 7.2 -13.8M105.5 263.1c1.5 0.3 5.7 -14.0 7.2 -13.8M115.0 264.7c1.5 0.3 5.7 -14.0 7.2 -13.8" fill="none" stroke="#3a2030" stroke-width="5.9" stroke-linecap="round"/>
<path d="M95.9 261.5c1.5 0.3 5.7 -14.0 7.2 -13.8M105.5 263.1c1.5 0.3 5.7 -14.0 7.2 -13.8M115.0 264.7c1.5 0.3 5.7 -14.0 7.2 -13.8" fill="none" stroke="#E2A3C8" stroke-width="4.6" stroke-linecap="round"/>
<path d="M111.9 187.9c-0.3 1.4 -12.7 0.7 -12.9 2.2M110.3 196.7c-0.3 1.4 -12.7 0.7 -12.9 2.2" fill="none" stroke="#3a2030" stroke-width="3.3" stroke-linecap="round"/>
<path d="M111.9 187.9c-0.3 1.4 -12.7 0.7 -12.9 2.2M110.3 196.7c-0.3 1.4 -12.7 0.7 -12.9 2.2" fill="none" stroke="#C27BA2" stroke-width="2.1" stroke-linecap="round"/>
<path d="M100.6 181.3c-0.3 1.4 11.6 5.2 11.3 6.6M99.0 190.0c-0.3 1.4 11.6 5.2 11.3 6.6" fill="none" stroke="#3a2030" stroke-width="5.9" stroke-linecap="round"/>
<path d="M100.6 181.3c-0.3 1.4 11.6 5.2 11.3 6.6M99.0 190.0c-0.3 1.4 11.6 5.2 11.3 6.6" fill="none" stroke="#E2A3C8" stroke-width="4.6" stroke-linecap="round"/>
<path d="M212.8 265.8c1.4 0.1 2.3 13.8 3.7 13.8M221.5 266.2c1.4 0.1 2.3 13.8 3.7 13.8M230.1 266.6c1.4 0.1 2.3 13.8 3.7 13.8" fill="none" stroke="#3a2030" stroke-width="3.3" stroke-linecap="round"/>
<path d="M212.8 265.8c1.4 0.1 2.3 13.8 3.7 13.8M221.5 266.2c1.4 0.1 2.3 13.8 3.7 13.8M230.1 266.6c1.4 0.1 2.3 13.8 3.7 13.8" fill="none" stroke="#C27BA2" stroke-width="2.1" stroke-linecap="round"/>
<path d="M207.8 279.2c1.4 0.1 3.6 -13.5 5.0 -13.4M216.5 279.6c1.4 0.1 3.6 -13.5 5.0 -13.4M225.2 280.0c1.4 0.1 3.6 -13.5 5.0 -13.4" fill="none" stroke="#3a2030" stroke-width="5.9" stroke-linecap="round"/>
<path d="M207.8 279.2c1.4 0.1 3.6 -13.5 5.0 -13.4M216.5 279.6c1.4 0.1 3.6 -13.5 5.0 -13.4M225.2 280.0c1.4 0.1 3.6 -13.5 5.0 -13.4" fill="none" stroke="#E2A3C8" stroke-width="4.6" stroke-linecap="round"/>
<path d="M150.5 221.1c1.6 0.0 3.3 13.1 4.9 13.1M160.4 221.2c1.6 0.0 3.3 13.1 4.9 13.1M170.3 221.2c1.6 0.0 3.3 13.1 4.9 13.1" fill="none" stroke="#3a2030" stroke-width="3.3" stroke-linecap="round"/>
<path d="M150.5 221.1c1.6 0.0 3.3 13.1 4.9 13.1M160.4 221.2c1.6 0.0 3.3 13.1 4.9 13.1M170.3 221.2c1.6 0.0 3.3 13.1 4.9 13.1" fill="none" stroke="#C27BA2" stroke-width="2.1" stroke-linecap="round"/>
<path d="M145.4 234.2c1.6 0.0 3.4 -13.1 5.0 -13.1M155.3 234.2c1.6 0.0 3.4 -13.1 5.0 -13.1M165.2 234.3c1.6 0.0 3.4 -13.1 5.0 -13.1" fill="none" stroke="#3a2030" stroke-width="5.9" stroke-linecap="round"/>
<path d="M145.4 234.2c1.6 0.0 3.4 -13.1 5.0 -13.1M155.3 234.2c1.6 0.0 3.4 -13.1 5.0 -13.1M165.2 234.3c1.6 0.0 3.4 -13.1 5.0 -13.1" fill="none" stroke="#E2A3C8" stroke-width="4.6" stroke-linecap="round"/>
<path d="M253.9 148.6c1.5 0.1 2.6 12.6 4.1 12.7" fill="none" stroke="#3a2030" stroke-width="3.3" stroke-linecap="round"/>
<path d="M253.9 148.6c1.5 0.1 2.6 12.6 4.1 12.7" fill="none" stroke="#C27BA2" stroke-width="2.1" stroke-linecap="round"/>
<path d="M248.4 160.7c1.5 0.1 4.0 -12.3 5.5 -12.2" fill="none" stroke="#3a2030" stroke-width="5.9" stroke-linecap="round"/>
<path d="M248.4 160.7c1.5 0.1 4.0 -12.3 5.5 -12.2" fill="none" stroke="#E2A3C8" stroke-width="4.6" stroke-linecap="round"/>
<path d="M182.7 240.4c1.3 0.2 0.3 14.6 1.7 14.9M190.9 241.9c1.3 0.2 0.3 14.6 1.7 14.9M199.2 243.3c1.3 0.2 0.3 14.6 1.7 14.9M207.4 244.8c1.3 0.2 0.3 14.6 1.7 14.9M215.7 246.2c1.3 0.2 0.3 14.6 1.7 14.9" fill="none" stroke="#3a2030" stroke-width="3.3" stroke-linecap="round"/>
<path d="M182.7 240.4c1.3 0.2 0.3 14.6 1.7 14.9M190.9 241.9c1.3 0.2 0.3 14.6 1.7 14.9M199.2 243.3c1.3 0.2 0.3 14.6 1.7 14.9M207.4 244.8c1.3 0.2 0.3 14.6 1.7 14.9M215.7 246.2c1.3 0.2 0.3 14.6 1.7 14.9" fill="none" stroke="#C27BA2" stroke-width="2.1" stroke-linecap="round"/>
<path d="M176.1 253.9c1.3 0.2 5.3 -13.6 6.6 -13.4M184.4 255.3c1.3 0.2 5.3 -13.6 6.6 -13.4M192.6 256.7c1.3 0.2 5.3 -13.6 6.6 -13.4M200.8 258.2c1.3 0.2 5.3 -13.6 6.6 -13.4M209.1 259.6c1.3 0.2 5.3 -13.6 6.6 -13.4" fill="none" stroke="#3a2030" stroke-width="5.9" stroke-linecap="round"/>
<path d="M176.1 253.9c1.3 0.2 5.3 -13.6 6.6 -13.4M184.4 255.3c1.3 0.2 5.3 -13.6 6.6 -13.4M192.6 256.7c1.3 0.2 5.3 -13.6 6.6 -13.4M200.8 258.2c1.3 0.2 5.3 -13.6 6.6 -13.4M209.1 259.6c1.3 0.2 5.3 -13.6 6.6 -13.4" fill="none" stroke="#E2A3C8" stroke-width="4.6" stroke-linecap="round"/>
<path d="M142.3 103.6c1.4 0.0 2.8 13.2 4.2 13.2M151.3 103.8c1.4 0.0 2.8 13.2 4.2 13.2M160.4 104.0c1.4 0.0 2.8 13.2 4.2 13.2M169.4 104.2c1.4 0.0 2.8 13.2 4.2 13.2M178.5 104.4c1.4 0.0 2.8 13.2 4.2 13.2M187.5 104.7c1.4 0.0 2.8 13.2 4.2 13.2" fill="none" stroke="#3a2030" stroke-width="3.3" stroke-linecap="round"/>
<path d="M142.3 103.6c1.4 0.0 2.8 13.2 4.2 13.2M151.3 103.8c1.4 0.0 2.8 13.2 4.2 13.2M160.4 104.0c1.4 0.0 2.8 13.2 4.2 13.2M169.4 104.2c1.4 0.0 2.8 13.2 4.2 13.2M178.5 104.4c1.4 0.0 2.8 13.2 4.2 13.2M187.5 104.7c1.4 0.0 2.8 13.2 4.2 13.2" fill="none" stroke="#C27BA2" stroke-width="2.1" stroke-linecap="round"/>
<path d="M137.4 116.5c1.4 0.0 3.4 -13.0 4.8 -13.0M146.5 116.8c1.4 0.0 3.4 -13.0 4.8 -13.0M155.5 117.0c1.4 0.0 3.4 -13.0 4.8 -13.0M164.6 117.2c1.4 0.0 3.4 -13.0 4.8 -13.0M173.6 117.4c1.4 0.0 3.4 -13.0 4.8 -13.0M182.7 117.7c1.4 0.0 3.4 -13.0 4.8 -13.0" fill="none" stroke="#3a2030" stroke-width="5.9" stroke-linecap="round"/>
<path d="M137.4 116.5c1.4 0.0 3.4 -13.0 4.8 -13.0M146.5 116.8c1.4 0.0 3.4 -13.0 4.8 -13.0M155.5 117.0c1.4 0.0 3.4 -13.0 4.8 -13.0M164.6 117.2c1.4 0.0 3.4 -13.0 4.8 -13.0M173.6 117.4c1.4 0.0 3.4 -13.0 4.8 -13.0M182.7 117.7c1.4 0.0 3.4 -13.0 4.8 -13.0" fill="none" stroke="#E2A3C8" stroke-width="4.6" stroke-linecap="round"/>
<path d="M122.8 166.1c1.3 0.2 0.0 15.0 1.3 15.2M130.6 167.6c1.3 0.2 0.0 15.0 1.3 15.2M138.5 169.0c1.3 0.2 0.0 15.0 1.3 15.2M146.4 170.4c1.3 0.2 0.0 15.0 1.3 15.2M154.2 171.9c1.3 0.2 0.0 15.0 1.3 15.2M162.1 173.3c1.3 0.2 0.0 15.0 1.3 15.2" fill="none" stroke="#3a2030" stroke-width="3.3" stroke-linecap="round"/>
<path d="M122.8 166.1c1.3 0.2 0.0 15.0 1.3 15.2M130.6 167.6c1.3 0.2 0.0 15.0 1.3 15.2M138.5 169.0c1.3 0.2 0.0 15.0 1.3 15.2M146.4 170.4c1.3 0.2 0.0 15.0 1.3 15.2M154.2 171.9c1.3 0.2 0.0 15.0 1.3 15.2M162.1 173.3c1.3 0.2 0.0 15.0 1.3 15.2" fill="none" stroke="#C27BA2" stroke-width="2.1" stroke-linecap="round"/>
<path d="M116.2 179.9c1.3 0.2 5.3 -14.0 6.6 -13.8M124.1 181.3c1.3 0.2 5.3 -14.0 6.6 -13.8M131.9 182.7c1.3 0.2 5.3 -14.0 6.6 -13.8M139.8 184.2c1.3 0.2 5.3 -14.0 6.6 -13.8M147.7 185.6c1.3 0.2 5.3 -14.0 6.6 -13.8M155.5 187.0c1.3 0.2 5.3 -14.0 6.6 -13.8" fill="none" stroke="#3a2030" stroke-width="5.9" stroke-linecap="round"/>
<path d="M116.2 179.9c1.3 0.2 5.3 -14.0 6.6 -13.8M124.1 181.3c1.3 0.2 5.3 -14.0 6.6 -13.8M131.9 182.7c1.3 0.2 5.3 -14.0 6.6 -13.8M139.8 184.2c1.3 0.2 5.3 -14.0 6.6 -13.8M147.7 185.6c1.3 0.2 5.3 -14.0 6.6 -13.8M155.5 187.0c1.3 0.2 5.3 -14.0 6.6 -13.8" fill="none" stroke="#E2A3C8" stroke-width="4.6" stroke-linecap="round"/>
<path d="M92.6 100.3c1.3 0.0 2.5 14.7 3.8 14.8M100.7 100.4c1.3 0.0 2.5 14.7 3.8 14.8M108.8 100.6c1.3 0.0 2.5 14.7 3.8 14.8M116.9 100.7c1.3 0.0 2.5 14.7 3.8 14.8M125.0 100.9c1.3 0.0 2.5 14.7 3.8 14.8" fill="none" stroke="#3a2030" stroke-width="3.3" stroke-linecap="round"/>
<path d="M92.6 100.3c1.3 0.0 2.5 14.7 3.8 14.8M100.7 100.4c1.3 0.0 2.5 14.7 3.8 14.8M108.8 100.6c1.3 0.0 2.5 14.7 3.8 14.8M116.9 100.7c1.3 0.0 2.5 14.7 3.8 14.8M125.0 100.9c1.3 0.0 2.5 14.7 3.8 14.8" fill="none" stroke="#C27BA2" stroke-width="2.1" stroke-linecap="round"/>
<path d="M88.2 114.9c1.3 0.0 3.0 -14.6 4.3 -14.6M96.3 115.0c1.3 0.0 3.0 -14.6 4.3 -14.6M104.4 115.2c1.3 0.0 3.0 -14.6 4.3 -14.6M112.6 115.4c1.3 0.0 3.0 -14.6 4.3 -14.6M120.7 115.5c1.3 0.0 3.0 -14.6 4.3 -14.6" fill="none" stroke="#3a2030" stroke-width="5.9" stroke-linecap="round"/>
<path d="M88.2 114.9c1.3 0.0 3.0 -14.6 4.3 -14.6M96.3 115.0c1.3 0.0 3.0 -14.6 4.3 -14.6M104.4 115.2c1.3 0.0 3.0 -14.6 4.3 -14.6M112.6 115.4c1.3 0.0 3.0 -14.6 4.3 -14.6M120.7 115.5c1.3 0.0 3.0 -14.6 4.3 -14.6" fill="none" stroke="#E2A3C8" stroke-width="4.6" stroke-linecap="round"/>
<path d="M283.6 241.5c1.3 0.1 1.7 13.1 3.0 13.2" fill="none" stroke="#3a2030" stroke-width="3.3" stroke-linecap="round"/>
<path d="M283.6 241.5c1.3 0.1 1.7 13.1 3.0 13.2" fill="none" stroke="#C27BA2" stroke-width="2.1" stroke-linecap="round"/>
<path d="M278.7 254.0c1.3 0.1 3.7 -12.7 5.0 -12.6" fill="none" stroke="#3a2030" stroke-width="5.9" stroke-linecap="round"/>
<path d="M278.7 254.0c1.3 0.1 3.7 -12.7 5.0 -12.6" fill="none" stroke="#E2A3C8" stroke-width="4.6" stroke-linecap="round"/>
<path d="M212.4 177.7c1.6 0.1 2.1 15.1 3.7 15.3M222.3 178.5c1.6 0.1 2.1 15.1 3.7 15.3M232.2 179.3c1.6 0.1 2.1 15.1 3.7 15.3" fill="none" stroke="#3a2030" stroke-width="3.3" stroke-linecap="round"/>
<path d="M212.4 177.7c1.6 0.1 2.1 15.1 3.7 15.3M222.3 178.5c1.6 0.1 2.1 15.1 3.7 15.3M232.2 179.3c1.6 0.1 2.1 15.1 3.7 15.3" fill="none" stroke="#C27BA2" stroke-width="2.1" stroke-linecap="round"/>
<path d="M206.2 192.1c1.6 0.1 4.6 -14.6 6.2 -14.4M216.1 193.0c1.6 0.1 4.6 -14.6 6.2 -14.4M226.0 193.8c1.6 0.1 4.6 -14.6 6.2 -14.4" fill="none" stroke="#3a2030" stroke-width="5.9" stroke-linecap="round"/>
<path d="M206.2 192.1c1.6 0.1 4.6 -14.6 6.2 -14.4M216.1 193.0c1.6 0.1 4.6 -14.6 6.2 -14.4M226.0 193.8c1.6 0.1 4.6 -14.6 6.2 -14.4" fill="none" stroke="#E2A3C8" stroke-width="4.6" stroke-linecap="round"/>
<path d="M208.9 113.3c0.8 1.3 -9.5 9.8 -8.7 11.1M213.9 121.3c0.8 1.3 -9.5 9.8 -8.7 11.1" fill="none" stroke="#3a2030" stroke-width="3.3" stroke-linecap="round"/>
<path d="M208.9 113.3c0.8 1.3 -9.5 9.8 -8.7 11.1M213.9 121.3c0.8 1.3 -9.5 9.8 -8.7 11.1" fill="none" stroke="#C27BA2" stroke-width="2.1" stroke-linecap="round"/>
<path d="M195.1 116.4c0.8 1.3 13.0 -4.4 13.8 -3.1M200.1 124.4c0.8 1.3 13.0 -4.4 13.8 -3.1" fill="none" stroke="#3a2030" stroke-width="5.9" stroke-linecap="round"/>
<path d="M195.1 116.4c0.8 1.3 13.0 -4.4 13.8 -3.1M200.1 124.4c0.8 1.3 13.0 -4.4 13.8 -3.1" fill="none" stroke="#E2A3C8" stroke-width="4.6" stroke-linecap="round"/>
<path d="M156.5 194.6c1.5 0.1 2.1 12.4 3.6 12.5M165.6 195.3c1.5 0.1 2.1 12.4 3.6 12.5M174.7 196.0c1.5 0.1 2.1 12.4 3.6 12.5M183.7 196.7c1.5 0.1 2.1 12.4 3.6 12.5M192.8 197.4c1.5 0.1 2.1 12.4 3.6 12.5M201.9 198.1c1.5 0.1 2.1 12.4 3.6 12.5" fill="none" stroke="#3a2030" stroke-width="3.3" stroke-linecap="round"/>
<path d="M156.5 194.6c1.5 0.1 2.1 12.4 3.6 12.5M165.6 195.3c1.5 0.1 2.1 12.4 3.6 12.5M174.7 196.0c1.5 0.1 2.1 12.4 3.6 12.5M183.7 196.7c1.5 0.1 2.1 12.4 3.6 12.5M192.8 197.4c1.5 0.1 2.1 12.4 3.6 12.5M201.9 198.1c1.5 0.1 2.1 12.4 3.6 12.5" fill="none" stroke="#C27BA2" stroke-width="2.1" stroke-linecap="round"/>
<path d="M151.0 206.3c1.5 0.1 4.0 -11.9 5.5 -11.8M160.1 207.0c1.5 0.1 4.0 -11.9 5.5 -11.8M169.2 207.7c1.5 0.1 4.0 -11.9 5.5 -11.8M178.3 208.5c1.5 0.1 4.0 -11.9 5.5 -11.8M187.3 209.2c1.5 0.1 4.0 -11.9 5.5 -11.8M196.4 209.9c1.5 0.1 4.0 -11.9 5.5 -11.8" fill="none" stroke="#3a2030" stroke-width="5.9" stroke-linecap="round"/>
<path d="M151.0 206.3c1.5 0.1 4.0 -11.9 5.5 -11.8M160.1 207.0c1.5 0.1 4.0 -11.9 5.5 -11.8M169.2 207.7c1.5 0.1 4.0 -11.9 5.5 -11.8M178.3 208.5c1.5 0.1 4.0 -11.9 5.5 -11.8M187.3 209.2c1.5 0.1 4.0 -11.9 5.5 -11.8M196.4 209.9c1.5 0.1 4.0 -11.9 5.5 -11.8" fill="none" stroke="#E2A3C8" stroke-width="4.6" stroke-linecap="round"/>
<path d="M284.8 189.0c0.7 1.3 -10.0 8.9 -9.3 10.2M289.1 197.0c0.7 1.3 -10.0 8.9 -9.3 10.2M293.4 205.0c0.7 1.3 -10.0 8.9 -9.3 10.2" fill="none" stroke="#3a2030" stroke-width="3.3" stroke-linecap="round"/>
<path d="M284.8 189.0c0.7 1.3 -10.0 8.9 -9.3 10.2M289.1 197.0c0.7 1.3 -10.0 8.9 -9.3 10.2M293.4 205.0c0.7 1.3 -10.0 8.9 -9.3 10.2" fill="none" stroke="#C27BA2" stroke-width="2.1" stroke-linecap="round"/>
<path d="M271.2 191.1c0.7 1.3 13.0 -3.4 13.6 -2.1M275.5 199.1c0.7 1.3 13.0 -3.4 13.6 -2.1M279.8 207.2c0.7 1.3 13.0 -3.4 13.6 -2.1" fill="none" stroke="#3a2030" stroke-width="5.9" stroke-linecap="round"/>
<path d="M271.2 191.1c0.7 1.3 13.0 -3.4 13.6 -2.1M275.5 199.1c0.7 1.3 13.0 -3.4 13.6 -2.1M279.8 207.2c0.7 1.3 13.0 -3.4 13.6 -2.1" fill="none" stroke="#E2A3C8" stroke-width="4.6" stroke-linecap="round"/>
<path d="M243.7 146.5c-1.4 0.5 -7.6 -10.9 -9.0 -10.4" fill="none" stroke="#3a2030" stroke-width="3.3" stroke-linecap="round"/>
<path d="M243.7 146.5c-1.4 0.5 -7.6 -10.9 -9.0 -10.4" fill="none" stroke="#C27BA2" stroke-width="2.1" stroke-linecap="round"/>
<path d="M243.4 132.8c-1.4 0.5 1.6 13.2 0.3 13.7" fill="none" stroke="#3a2030" stroke-width="5.9" stroke-linecap="round"/>
<path d="M243.4 132.8c-1.4 0.5 1.6 13.2 0.3 13.7" fill="none" stroke="#E2A3C8" stroke-width="4.6" stroke-linecap="round"/>
<path d="M91.3 162.1c1.4 0.0 3.0 13.4 4.4 13.5M100.3 162.1c1.4 0.0 3.0 13.4 4.4 13.5M109.3 162.1c1.4 0.0 3.0 13.4 4.4 13.5" fill="none" stroke="#3a2030" stroke-width="3.3" stroke-linecap="round"/>
<path d="M91.3 162.1c1.4 0.0 3.0 13.4 4.4 13.5M100.3 162.1c1.4 0.0 3.0 13.4 4.4 13.5M109.3 162.1c1.4 0.0 3.0 13.4 4.4 13.5" fill="none" stroke="#C27BA2" stroke-width="2.1" stroke-linecap="round"/>
<path d="M86.8 175.5c1.4 0.0 3.1 -13.4 4.5 -13.4M95.8 175.5c1.4 0.0 3.1 -13.4 4.5 -13.4M104.7 175.6c1.4 0.0 3.1 -13.4 4.5 -13.4" fill="none" stroke="#3a2030" stroke-width="5.9" stroke-linecap="round"/>
<path d="M86.8 175.5c1.4 0.0 3.1 -13.4 4.5 -13.4M95.8 175.5c1.4 0.0 3.1 -13.4 4.5 -13.4M104.7 175.6c1.4 0.0 3.1 -13.4 4.5 -13.4" fill="none" stroke="#E2A3C8" stroke-width="4.6" stroke-linecap="round"/>
<path d="M199.9 153.5c-1.3 0.5 -7.8 -11.4 -9.1 -10.8" fill="none" stroke="#3a2030" stroke-width="3.3" stroke-linecap="round"/>
<path d="M199.9 153.5c-1.3 0.5 -7.8 -11.4 -9.1 -10.8" fill="none" stroke="#C27BA2" stroke-width="2.1" stroke-linecap="round"/>
<path d="M198.8 139.4c-1.3 0.5 2.3 13.6 1.0 14.1" fill="none" stroke="#3a2030" stroke-width="5.9" stroke-linecap="round"/>
<path d="M198.8 139.4c-1.3 0.5 2.3 13.6 1.0 14.1" fill="none" stroke="#E2A3C8" stroke-width="4.6" stroke-linecap="round"/>
<path d="M177.4 274.1c1.5 0.0 3.1 13.6 4.6 13.6M186.8 274.2c1.5 0.0 3.1 13.6 4.6 13.6M196.2 274.2c1.5 0.0 3.1 13.6 4.6 13.6" fill="none" stroke="#3a2030" stroke-width="3.3" stroke-linecap="round"/>
<path d="M177.4 274.1c1.5 0.0 3.1 13.6 4.6 13.6M186.8 274.2c1.5 0.0 3.1 13.6 4.6 13.6M196.2 274.2c1.5 0.0 3.1 13.6 4.6 13.6" fill="none" stroke="#C27BA2" stroke-width="2.1" stroke-linecap="round"/>
<path d="M172.5 287.6c1.5 0.0 3.3 -13.5 4.8 -13.5M182.0 287.7c1.5 0.0 3.3 -13.5 4.8 -13.5M191.4 287.7c1.5 0.0 3.3 -13.5 4.8 -13.5" fill="none" stroke="#3a2030" stroke-width="5.9" stroke-linecap="round"/>
<path d="M172.5 287.6c1.5 0.0 3.3 -13.5 4.8 -13.5M182.0 287.7c1.5 0.0 3.3 -13.5 4.8 -13.5M191.4 287.7c1.5 0.0 3.3 -13.5 4.8 -13.5" fill="none" stroke="#E2A3C8" stroke-width="4.6" stroke-linecap="round"/>
<path d="M242.6 133.0c1.3 0.3 -0.2 14.2 1.1 14.5" fill="none" stroke="#3a2030" stroke-width="3.3" stroke-linecap="round"/>
<path d="M242.6 133.0c1.3 0.3 -0.2 14.2 1.1 14.5" fill="none" stroke="#C27BA2" stroke-width="2.1" stroke-linecap="round"/>
<path d="M235.7 145.7c1.3 0.3 5.7 -13.0 7.0 -12.7" fill="none" stroke="#3a2030" stroke-width="5.9" stroke-linecap="round"/>
<path d="M235.7 145.7c1.3 0.3 5.7 -13.0 7.0 -12.7" fill="none" stroke="#E2A3C8" stroke-width="4.6" stroke-linecap="round"/>
<path d="M228.1 204.6c1.3 0.0 2.8 14.0 4.1 14.0M236.5 204.6c1.3 0.0 2.8 14.0 4.1 14.0M244.9 204.7c1.3 0.0 2.8 14.0 4.1 14.0M253.3 204.7c1.3 0.0 2.8 14.0 4.1 14.0" fill="none" stroke="#3a2030" stroke-width="3.3" stroke-linecap="round"/>
<path d="M228.1 204.6c1.3 0.0 2.8 14.0 4.1 14.0M236.5 204.6c1.3 0.0 2.8 14.0 4.1 14.0M244.9 204.7c1.3 0.0 2.8 14.0 4.1 14.0M253.3 204.7c1.3 0.0 2.8 14.0 4.1 14.0" fill="none" stroke="#C27BA2" stroke-width="2.1" stroke-linecap="round"/>
<path d="M223.8 218.5c1.3 0.0 2.9 -14.0 4.3 -14.0M232.2 218.6c1.3 0.0 2.9 -14.0 4.3 -14.0M240.6 218.6c1.3 0.0 2.9 -14.0 4.3 -14.0M249.0 218.7c1.3 0.0 2.9 -14.0 4.3 -14.0" fill="none" stroke="#3a2030" stroke-width="5.9" stroke-linecap="round"/>
<path d="M223.8 218.5c1.3 0.0 2.9 -14.0 4.3 -14.0M232.2 218.6c1.3 0.0 2.9 -14.0 4.3 -14.0M240.6 218.6c1.3 0.0 2.9 -14.0 4.3 -14.0M249.0 218.7c1.3 0.0 2.9 -14.0 4.3 -14.0" fill="none" stroke="#E2A3C8" stroke-width="4.6" stroke-linecap="round"/>
<path d="M257.0 165.6c1.5 0.3 0.8 14.3 2.3 14.5" fill="none" stroke="#3a2030" stroke-width="3.3" stroke-linecap="round"/>
<path d="M257.0 165.6c1.5 0.3 0.8 14.3 2.3 14.5" fill="none" stroke="#C27BA2" stroke-width="2.1" stroke-linecap="round"/>
<path d="M250.0 178.6c1.5 0.3 5.5 -13.2 7.0 -13.0" fill="none" stroke="#3a2030" stroke-width="5.9" stroke-linecap="round"/>
<path d="M250.0 178.6c1.5 0.3 5.5 -13.2 7.0 -13.0" fill="none" stroke="#E2A3C8" stroke-width="4.6" stroke-linecap="round"/>
<path d="M224.4 139.9c-0.2 1.5 -14.3 1.2 -14.5 2.7M223.0 149.4c-0.2 1.5 -14.3 1.2 -14.5 2.7" fill="none" stroke="#3a2030" stroke-width="3.3" stroke-linecap="round"/>
<path d="M224.4 139.9c-0.2 1.5 -14.3 1.2 -14.5 2.7M223.0 149.4c-0.2 1.5 -14.3 1.2 -14.5 2.7" fill="none" stroke="#C27BA2" stroke-width="2.1" stroke-linecap="round"/>
<path d="M211.4 133.1c-0.2 1.5 13.3 5.3 13.1 6.8M209.9 142.6c-0.2 1.5 13.3 5.3 13.1 6.8" fill="none" stroke="#3a2030" stroke-width="5.9" stroke-linecap="round"/>
<path d="M211.4 133.1c-0.2 1.5 13.3 5.3 13.1 6.8M209.9 142.6c-0.2 1.5 13.3 5.3 13.1 6.8" fill="none" stroke="#E2A3C8" stroke-width="4.6" stroke-linecap="round"/>
<path d="M147.4 121.6c1.6 0.2 1.5 13.6 3.1 13.8M157.3 123.0c1.6 0.2 1.5 13.6 3.1 13.8M167.2 124.4c1.6 0.2 1.5 13.6 3.1 13.8" fill="none" stroke="#3a2030" stroke-width="3.3" stroke-linecap="round"/>
<path d="M147.4 121.6c1.6 0.2 1.5 13.6 3.1 13.8M157.3 123.0c1.6 0.2 1.5 13.6 3.1 13.8M167.2 124.4c1.6 0.2 1.5 13.6 3.1 13.8" fill="none" stroke="#C27BA2" stroke-width="2.1" stroke-linecap="round"/>
<path d="M140.6 134.0c1.6 0.2 5.2 -12.6 6.8 -12.4M150.4 135.4c1.6 0.2 5.2 -12.6 6.8 -12.4M160.3 136.8c1.6 0.2 5.2 -12.6 6.8 -12.4" fill="none" stroke="#3a2030" stroke-width="5.9" stroke-linecap="round"/>
<path d="M140.6 134.0c1.6 0.2 5.2 -12.6 6.8 -12.4M150.4 135.4c1.6 0.2 5.2 -12.6 6.8 -12.4M160.3 136.8c1.6 0.2 5.2 -12.6 6.8 -12.4" fill="none" stroke="#E2A3C8" stroke-width="4.6" stroke-linecap="round"/>
<path d="M171.5 280.9c1.4 0.1 1.8 14.9 3.2 15.0M180.5 281.7c1.4 0.1 1.8 14.9 3.2 15.0M189.5 282.5c1.4 0.1 1.8 14.9 3.2 15.0M198.5 283.3c1.4 0.1 1.8 14.9 3.2 15.0" fill="none" stroke="#3a2030" stroke-width="3.3" stroke-linecap="round"/>
<path d="M171.5 280.9c1.4 0.1 1.8 14.9 3.2 15.0M180.5 281.7c1.4 0.1 1.8 14.9 3.2 15.0M189.5 282.5c1.4 0.1 1.8 14.9 3.2 15.0M198.5 283.3c1.4 0.1 1.8 14.9 3.2 15.0" fill="none" stroke="#C27BA2" stroke-width="2.1" stroke-linecap="round"/>
<path d="M165.7 295.1c1.4 0.1 4.3 -14.3 5.8 -14.2M174.7 295.9c1.4 0.1 4.3 -14.3 5.8 -14.2M183.7 296.7c1.4 0.1 4.3 -14.3 5.8 -14.2M192.7 297.5c1.4 0.1 4.3 -14.3 5.8 -14.2" fill="none" stroke="#3a2030" stroke-width="5.9" stroke-linecap="round"/>
<path d="M165.7 295.1c1.4 0.1 4.3 -14.3 5.8 -14.2M174.7 295.9c1.4 0.1 4.3 -14.3 5.8 -14.2M183.7 296.7c1.4 0.1 4.3 -14.3 5.8 -14.2M192.7 297.5c1.4 0.1 4.3 -14.3 5.8 -14.2" fill="none" stroke="#E2A3C8" stroke-width="4.6" stroke-linecap="round"/>
<path d="M88.9 171.6c1.6 0.1 2.6 13.1 4.1 13.2M98.8 172.2c1.6 0.1 2.6 13.1 4.1 13.2M108.6 172.8c1.6 0.1 2.6 13.1 4.1 13.2M118.5 173.5c1.6 0.1 2.6 13.1 4.1 13.2M128.3 174.1c1.6 0.1 2.6 13.1 4.1 13.2" fill="none" stroke="#3a2030" stroke-width="3.3" stroke-linecap="round"/>
<path d="M88.9 171.6c1.6 0.1 2.6 13.1 4.1 13.2M98.8 172.2c1.6 0.1 2.6 13.1 4.1 13.2M108.6 172.8c1.6 0.1 2.6 13.1 4.1 13.2M118.5 173.5c1.6 0.1 2.6 13.1 4.1 13.2M128.3 174.1c1.6 0.1 2.6 13.1 4.1 13.2" fill="none" stroke="#C27BA2" stroke-width="2.1" stroke-linecap="round"/>
<path d="M83.2 184.2c1.6 0.1 4.1 -12.7 5.7 -12.6M93.1 184.8c1.6 0.1 4.1 -12.7 5.7 -12.6M102.9 185.4c1.6 0.1 4.1 -12.7 5.7 -12.6M112.8 186.0c1.6 0.1 4.1 -12.7 5.7 -12.6M122.6 186.6c1.6 0.1 4.1 -12.7 5.7 -12.6" fill="none" stroke="#3a2030" stroke-width="5.9" stroke-linecap="round"/>
<path d="M83.2 184.2c1.6 0.1 4.1 -12.7 5.7 -12.6M93.1 184.8c1.6 0.1 4.1 -12.7 5.7 -12.6M102.9 185.4c1.6 0.1 4.1 -12.7 5.7 -12.6M112.8 186.0c1.6 0.1 4.1 -12.7 5.7 -12.6M122.6 186.6c1.6 0.1 4.1 -12.7 5.7 -12.6" fill="none" stroke="#E2A3C8" stroke-width="4.6" stroke-linecap="round"/>
<path d="M157.2 147.9c1.3 0.1 2.3 13.8 3.6 13.9M165.5 148.2c1.3 0.1 2.3 13.8 3.6 13.9M173.7 148.5c1.3 0.1 2.3 13.8 3.6 13.9M182.0 148.8c1.3 0.1 2.3 13.8 3.6 13.9M190.3 149.1c1.3 0.1 2.3 13.8 3.6 13.9" fill="none" stroke="#3a2030" stroke-width="3.3" stroke-linecap="round"/>
<path d="M157.2 147.9c1.3 0.1 2.3 13.8 3.6 13.9M165.5 148.2c1.3 0.1 2.3 13.8 3.6 13.9M173.7 148.5c1.3 0.1 2.3 13.8 3.6 13.9M182.0 148.8c1.3 0.1 2.3 13.8 3.6 13.9M190.3 149.1c1.3 0.1 2.3 13.8 3.6 13.9" fill="none" stroke="#C27BA2" stroke-width="2.1" stroke-linecap="round"/>
<path d="M152.5 161.4c1.3 0.1 3.3 -13.6 4.7 -13.6M160.8 161.7c1.3 0.1 3.3 -13.6 4.7 -13.6M169.1 162.1c1.3 0.1 3.3 -13.6 4.7 -13.6M177.4 162.4c1.3 0.1 3.3 -13.6 4.7 -13.6M185.6 162.7c1.3 0.1 3.3 -13.6 4.7 -13.6" fill="none" stroke="#3a2030" stroke-width="5.9" stroke-linecap="round"/>
<path d="M152.5 161.4c1.3 0.1 3.3 -13.6 4.7 -13.6M160.8 161.7c1.3 0.1 3.3 -13.6 4.7 -13.6M169.1 162.1c1.3 0.1 3.3 -13.6 4.7 -13.6M177.4 162.4c1.3 0.1 3.3 -13.6 4.7 -13.6M185.6 162.7c1.3 0.1 3.3 -13.6 4.7 -13.6" fill="none" stroke="#E2A3C8" stroke-width="4.6" stroke-linecap="round"/>
<path d="M109.3 236.8c1.3 0.2 0.4 13.5 1.7 13.8M117.4 238.3c1.3 0.2 0.4 13.5 1.7 13.8M125.5 239.7c1.3 0.2 0.4 13.5 1.7 13.8M133.6 241.2c1.3 0.2 0.4 13.5 1.7 13.8" fill="none" stroke="#3a2030" stroke-width="3.3" stroke-linecap="round"/>
<path d="M109.3 236.8c1.3 0.2 0.4 13.5 1.7 13.8M117.4 238.3c1.3 0.2 0.4 13.5 1.7 13.8M125.5 239.7c1.3 0.2 0.4 13.5 1.7 13.8M133.6 241.2c1.3 0.2 0.4 13.5 1.7 13.8" fill="none" stroke="#C27BA2" stroke-width="2.1" stroke-linecap="round"/>
<path d="M102.9 249.0c1.3 0.2 5.2 -12.5 6.4 -12.3M111.0 250.5c1.3 0.2 5.2 -12.5 6.4 -12.3M119.1 252.0c1.3 0.2 5.2 -12.5 6.4 -12.3M127.2 253.5c1.3 0.2 5.2 -12.5 6.4 -12.3" fill="none" stroke="#3a2030" stroke-width="5.9" stroke-linecap="round"/>
<path d="M102.9 249.0c1.3 0.2 5.2 -12.5 6.4 -12.3M111.0 250.5c1.3 0.2 5.2 -12.5 6.4 -12.3M119.1 252.0c1.3 0.2 5.2 -12.5 6.4 -12.3M127.2 253.5c1.3 0.2 5.2 -12.5 6.4 -12.3" fill="none" stroke="#E2A3C8" stroke-width="4.6" stroke-linecap="round"/>
<path d="M272.8 210.4c1.3 0.2 0.5 13.8 1.8 14.0M281.2 211.9c1.3 0.2 0.5 13.8 1.8 14.0M289.6 213.4c1.3 0.2 0.5 13.8 1.8 14.0M298.0 214.9c1.3 0.2 0.5 13.8 1.8 14.0" fill="none" stroke="#3a2030" stroke-width="3.3" stroke-linecap="round"/>
<path d="M272.8 210.4c1.3 0.2 0.5 13.8 1.8 14.0M281.2 211.9c1.3 0.2 0.5 13.8 1.8 14.0M289.6 213.4c1.3 0.2 0.5 13.8 1.8 14.0M298.0 214.9c1.3 0.2 0.5 13.8 1.8 14.0" fill="none" stroke="#C27BA2" stroke-width="2.1" stroke-linecap="round"/>
<path d="M266.3 222.9c1.3 0.2 5.2 -12.8 6.6 -12.5M274.7 224.4c1.3 0.2 5.2 -12.8 6.6 -12.5M283.1 225.9c1.3 0.2 5.2 -12.8 6.6 -12.5M291.5 227.4c1.3 0.2 5.2 -12.8 6.6 -12.5" fill="none" stroke="#3a2030" stroke-width="5.9" stroke-linecap="round"/>
<path d="M266.3 222.9c1.3 0.2 5.2 -12.8 6.6 -12.5M274.7 224.4c1.3 0.2 5.2 -12.8 6.6 -12.5M283.1 225.9c1.3 0.2 5.2 -12.8 6.6 -12.5M291.5 227.4c1.3 0.2 5.2 -12.8 6.6 -12.5" fill="none" stroke="#E2A3C8" stroke-width="4.6" stroke-linecap="round"/>
<path d="M268.2 208.0c0.2 1.5 -12.0 4.6 -11.9 6.1" fill="none" stroke="#3a2030" stroke-width="3.3" stroke-linecap="round"/>
<path d="M268.2 208.0c0.2 1.5 -12.0 4.6 -11.9 6.1" fill="none" stroke="#C27BA2" stroke-width="2.1" stroke-linecap="round"/>
<path d="M255.3 204.7c0.2 1.5 12.7 1.9 12.9 3.4" fill="none" stroke="#3a2030" stroke-width="5.9" stroke-linecap="round"/>
<path d="M255.3 204.7c0.2 1.5 12.7 1.9 12.9 3.4" fill="none" stroke="#E2A3C8" stroke-width="4.6" stroke-linecap="round"/>
<path d="M210.2 159.3c0.7 1.4 -10.3 8.5 -9.7 9.9M214.4 168.3c0.7 1.4 -10.3 8.5 -9.7 9.9" fill="none" stroke="#3a2030" stroke-width="3.3" stroke-linecap="round"/>
<path d="M210.2 159.3c0.7 1.4 -10.3 8.5 -9.7 9.9M214.4 168.3c0.7 1.4 -10.3 8.5 -9.7 9.9" fill="none" stroke="#C27BA2" stroke-width="2.1" stroke-linecap="round"/>
<path d="M196.4 160.2c0.7 1.4 13.2 -2.3 13.8 -0.9M200.5 169.2c0.7 1.4 13.2 -2.3 13.8 -0.9" fill="none" stroke="#3a2030" stroke-width="5.9" stroke-linecap="round"/>
<path d="M196.4 160.2c0.7 1.4 13.2 -2.3 13.8 -0.9M200.5 169.2c0.7 1.4 13.2 -2.3 13.8 -0.9" fill="none" stroke="#E2A3C8" stroke-width="4.6" stroke-linecap="round"/>
<path d="M95.1 189.8c1.4 0.1 1.7 14.3 3.1 14.4M103.8 190.6c1.4 0.1 1.7 14.3 3.1 14.4M112.6 191.4c1.4 0.1 1.7 14.3 3.1 14.4M121.3 192.2c1.4 0.1 1.7 14.3 3.1 14.4M130.0 193.0c1.4 0.1 1.7 14.3 3.1 14.4M138.8 193.9c1.4 0.1 1.7 14.3 3.1 14.4" fill="none" stroke="#3a2030" stroke-width="3.3" stroke-linecap="round"/>
<path d="M95.1 189.8c1.4 0.1 1.7 14.3 3.1 14.4M103.8 190.6c1.4 0.1 1.7 14.3 3.1 14.4M112.6 191.4c1.4 0.1 1.7 14.3 3.1 14.4M121.3 192.2c1.4 0.1 1.7 14.3 3.1 14.4M130.0 193.0c1.4 0.1 1.7 14.3 3.1 14.4M138.8 193.9c1.4 0.1 1.7 14.3 3.1 14.4" fill="none" stroke="#C27BA2" stroke-width="2.1" stroke-linecap="round"/>
<path d="M89.4 203.4c1.4 0.1 4.3 -13.7 5.7 -13.6M98.1 204.2c1.4 0.1 4.3 -13.7 5.7 -13.6M106.9 205.0c1.4 0.1 4.3 -13.7 5.7 -13.6M115.6 205.8c1.4 0.1 4.3 -13.7 5.7 -13.6M124.3 206.6c1.4 0.1 4.3 -13.7 5.7 -13.6M133.1 207.5c1.4 0.1 4.3 -13.7 5.7 -13.6" fill="none" stroke="#3a2030" stroke-width="5.9" stroke-linecap="round"/>
<path d="M89.4 203.4c1.4 0.1 4.3 -13.7 5.7 -13.6M98.1 204.2c1.4 0.1 4.3 -13.7 5.7 -13.6M106.9 205.0c1.4 0.1 4.3 -13.7 5.7 -13.6M115.6 205.8c1.4 0.1 4.3 -13.7 5.7 -13.6M124.3 206.6c1.4 0.1 4.3 -13.7 5.7 -13.6M133.1 207.5c1.4 0.1 4.3 -13.7 5.7 -13.6" fill="none" stroke="#E2A3C8" stroke-width="4.6" stroke-linecap="round"/>
<path d="M235.5 252.5c1.3 0.3 0.2 13.2 1.5 13.4M243.6 254.1c1.3 0.3 0.2 13.2 1.5 13.4M251.7 255.8c1.3 0.3 0.2 13.2 1.5 13.4M259.8 257.4c1.3 0.3 0.2 13.2 1.5 13.4" fill="none" stroke="#3a2030" stroke-width="3.3" stroke-linecap="round"/>
<path d="M235.5 252.5c1.3 0.3 0.2 13.2 1.5 13.4M243.6 254.1c1.3 0.3 0.2 13.2 1.5 13.4M251.7 255.8c1.3 0.3 0.2 13.2 1.5 13.4M259.8 257.4c1.3 0.3 0.2 13.2 1.5 13.4" fill="none" stroke="#C27BA2" stroke-width="2.1" stroke-linecap="round"/>
<path d="M228.9 264.3c1.3 0.3 5.3 -12.1 6.6 -11.8M237.0 265.9c1.3 0.3 5.3 -12.1 6.6 -11.8M245.1 267.5c1.3 0.3 5.3 -12.1 6.6 -11.8M253.2 269.2c1.3 0.3 5.3 -12.1 6.6 -11.8" fill="none" stroke="#3a2030" stroke-width="5.9" stroke-linecap="round"/>
<path d="M228.9 264.3c1.3 0.3 5.3 -12.1 6.6 -11.8M237.0 265.9c1.3 0.3 5.3 -12.1 6.6 -11.8M245.1 267.5c1.3 0.3 5.3 -12.1 6.6 -11.8M253.2 269.2c1.3 0.3 5.3 -12.1 6.6 -11.8" fill="none" stroke="#E2A3C8" stroke-width="4.6" stroke-linecap="round"/>
<path d="M88.3 144.5c1.5 0.0 3.0 13.1 4.5 13.1M97.5 144.6c1.5 0.0 3.0 13.1 4.5 13.1M106.6 144.6c1.5 0.0 3.0 13.1 4.5 13.1M115.7 144.7c1.5 0.0 3.0 13.1 4.5 13.1" fill="none" stroke="#3a2030" stroke-width="3.3" stroke-linecap="round"/>
<path d="M88.3 144.5c1.5 0.0 3.0 13.1 4.5 13.1M97.5 144.6c1.5 0.0 3.0 13.1 4.5 13.1M106.6 144.6c1.5 0.0 3.0 13.1 4.5 13.1M115.7 144.7c1.5 0.0 3.0 13.1 4.5 13.1" fill="none" stroke="#C27BA2" stroke-width="2.1" stroke-linecap="round"/>
<path d="M83.7 157.6c1.5 0.0 3.1 -13.0 4.6 -13.0M92.8 157.6c1.5 0.0 3.1 -13.0 4.6 -13.0M102.0 157.7c1.5 0.0 3.1 -13.0 4.6 -13.0M111.1 157.7c1.5 0.0 3.1 -13.0 4.6 -13.0" fill="none" stroke="#3a2030" stroke-width="5.9" stroke-linecap="round"/>
<path d="M83.7 157.6c1.5 0.0 3.1 -13.0 4.6 -13.0M92.8 157.6c1.5 0.0 3.1 -13.0 4.6 -13.0M102.0 157.7c1.5 0.0 3.1 -13.0 4.6 -13.0M111.1 157.7c1.5 0.0 3.1 -13.0 4.6 -13.0" fill="none" stroke="#E2A3C8" stroke-width="4.6" stroke-linecap="round"/>
<path d="M121.7 203.5c0.8 1.2 -8.2 9.3 -7.4 10.6M126.8 211.0c0.8 1.2 -8.2 9.3 -7.4 10.6M131.9 218.6c0.8 1.2 -8.2 9.3 -7.4 10.6" fill="none" stroke="#3a2030" stroke-width="3.3" stroke-linecap="round"/>
<path d="M121.7 203.5c0.8 1.2 -8.2 9.3 -7.4 10.6M126.8 211.0c0.8 1.2 -8.2 9.3 -7.4 10.6M131.9 218.6c0.8 1.2 -8.2 9.3 -7.4 10.6" fill="none" stroke="#C27BA2" stroke-width="2.1" stroke-linecap="round"/>
<path d="M109.1 206.5c0.8 1.2 11.7 -4.2 12.5 -3.0M114.3 214.0c0.8 1.2 11.7 -4.2 12.5 -3.0M119.4 221.6c0.8 1.2 11.7 -4.2 12.5 -3.0" fill="none" stroke="#3a2030" stroke-width="5.9" stroke-linecap="round"/>
<path d="M109.1 206.5c0.8 1.2 11.7 -4.2 12.5 -3.0M114.3 214.0c0.8 1.2 11.7 -4.2 12.5 -3.0M119.4 221.6c0.8 1.2 11.7 -4.2 12.5 -3.0" fill="none" stroke="#E2A3C8" stroke-width="4.6" stroke-linecap="round"/>
<path d="M137.1 246.7c1.3 0.1 1.4 12.9 2.8 13.0M145.4 247.6c1.3 0.1 1.4 12.9 2.8 13.0M153.7 248.6c1.3 0.1 1.4 12.9 2.8 13.0M161.9 249.5c1.3 0.1 1.4 12.9 2.8 13.0M170.2 250.4c1.3 0.1 1.4 12.9 2.8 13.0" fill="none" stroke="#3a2030" stroke-width="3.3" stroke-linecap="round"/>
<path d="M137.1 246.7c1.3 0.1 1.4 12.9 2.8 13.0M145.4 247.6c1.3 0.1 1.4 12.9 2.8 13.0M153.7 248.6c1.3 0.1 1.4 12.9 2.8 13.0M161.9 249.5c1.3 0.1 1.4 12.9 2.8 13.0M170.2 250.4c1.3 0.1 1.4 12.9 2.8 13.0" fill="none" stroke="#C27BA2" stroke-width="2.1" stroke-linecap="round"/>
<path d="M131.6 258.8c1.3 0.1 4.2 -12.3 5.5 -12.1M139.9 259.8c1.3 0.1 4.2 -12.3 5.5 -12.1M148.1 260.7c1.3 0.1 4.2 -12.3 5.5 -12.1M156.4 261.6c1.3 0.1 4.2 -12.3 5.5 -12.1M164.7 262.5c1.3 0.1 4.2 -12.3 5.5 -12.1" fill="none" stroke="#3a2030" stroke-width="5.9" stroke-linecap="round"/>
<path d="M131.6 258.8c1.3 0.1 4.2 -12.3 5.5 -12.1M139.9 259.8c1.3 0.1 4.2 -12.3 5.5 -12.1M148.1 260.7c1.3 0.1 4.2 -12.3 5.5 -12.1M156.4 261.6c1.3 0.1 4.2 -12.3 5.5 -12.1M164.7 262.5c1.3 0.1 4.2 -12.3 5.5 -12.1" fill="none" stroke="#E2A3C8" stroke-width="4.6" stroke-linecap="round"/>
<path d="M264.3 190.1c1.3 0.3 0.4 12.8 1.7 13.1M272.7 191.8c1.3 0.3 0.4 12.8 1.7 13.1" fill="none" stroke="#3a2030" stroke-width="3.3" stroke-linecap="round"/>
<path d="M264.3 190.1c1.3 0.3 0.4 12.8 1.7 13.1M272.7 191.8c1.3 0.3 0.4 12.8 1.7 13.1" fill="none" stroke="#C27BA2" stroke-width="2.1" stroke-linecap="round"/>
<path d="M257.6 201.5c1.3 0.3 5.3 -11.6 6.7 -11.4M266.0 203.2c1.3 0.3 5.3 -11.6 6.7 -11.4" fill="none" stroke="#3a2030" stroke-width="5.9" stroke-linecap="round"/>
<path d="M257.6 201.5c1.3 0.3 5.3 -11.6 6.7 -11.4M266.0 203.2c1.3 0.3 5.3 -11.6 6.7 -11.4" fill="none" stroke="#E2A3C8" stroke-width="4.6" stroke-linecap="round"/>
<path d="M205.9 107.2c1.3 0.2 0.8 14.1 2.2 14.3" fill="none" stroke="#3a2030" stroke-width="3.3" stroke-linecap="round"/>
<path d="M205.9 107.2c1.3 0.2 0.8 14.1 2.2 14.3" fill="none" stroke="#C27BA2" stroke-width="2.1" stroke-linecap="round"/>
<path d="M199.7 120.3c1.3 0.2 4.9 -13.3 6.2 -13.1" fill="none" stroke="#3a2030" stroke-width="5.9" stroke-linecap="round"/>
<path d="M199.7 120.3c1.3 0.2 4.9 -13.3 6.2 -13.1" fill="none" stroke="#E2A3C8" stroke-width="4.6" stroke-linecap="round"/>
<path d="M125.1 145.1c1.4 0.3 0.3 14.3 1.7 14.6M133.9 146.8c1.4 0.3 0.3 14.3 1.7 14.6M142.8 148.5c1.4 0.3 0.3 14.3 1.7 14.6" fill="none" stroke="#3a2030" stroke-width="3.3" stroke-linecap="round"/>
<path d="M125.1 145.1c1.4 0.3 0.3 14.3 1.7 14.6M133.9 146.8c1.4 0.3 0.3 14.3 1.7 14.6M142.8 148.5c1.4 0.3 0.3 14.3 1.7 14.6" fill="none" stroke="#C27BA2" stroke-width="2.1" stroke-linecap="round"/>
<path d="M118.0 158.0c1.4 0.3 5.7 -13.2 7.1 -12.9M126.9 159.7c1.4 0.3 5.7 -13.2 7.1 -12.9M135.7 161.4c1.4 0.3 5.7 -13.2 7.1 -12.9" fill="none" stroke="#3a2030" stroke-width="5.9" stroke-linecap="round"/>
<path d="M118.0 158.0c1.4 0.3 5.7 -13.2 7.1 -12.9M126.9 159.7c1.4 0.3 5.7 -13.2 7.1 -12.9M135.7 161.4c1.4 0.3 5.7 -13.2 7.1 -12.9" fill="none" stroke="#E2A3C8" stroke-width="4.6" stroke-linecap="round"/>
<path d="M126.3 125.6c-1.2 1.0 -10.7 -8.2 -12.0 -7.2M118.5 131.7c-1.2 1.0 -10.7 -8.2 -12.0 -7.2" fill="none" stroke="#3a2030" stroke-width="3.3" stroke-linecap="round"/>
<path d="M126.3 125.6c-1.2 1.0 -10.7 -8.2 -12.0 -7.2M118.5 131.7c-1.2 1.0 -10.7 -8.2 -12.0 -7.2" fill="none" stroke="#C27BA2" stroke-width="2.1" stroke-linecap="round"/>
<path d="M122.1 112.3c-1.2 1.0 5.4 12.4 4.2 13.3M114.3 118.4c-1.2 1.0 5.4 12.4 4.2 13.3" fill="none" stroke="#3a2030" stroke-width="5.9" stroke-linecap="round"/>
<path d="M122.1 112.3c-1.2 1.0 5.4 12.4 4.2 13.3M114.3 118.4c-1.2 1.0 5.4 12.4 4.2 13.3" fill="none" stroke="#E2A3C8" stroke-width="4.6" stroke-linecap="round"/>
<path d="M131.0 133.0c1.3 0.1 2.0 14.9 3.3 15.0M139.4 133.6c1.3 0.1 2.0 14.9 3.3 15.0M147.8 134.1c1.3 0.1 2.0 14.9 3.3 15.0" fill="none" stroke="#3a2030" stroke-width="3.3" stroke-linecap="round"/>
<path d="M131.0 133.0c1.3 0.1 2.0 14.9 3.3 15.0M139.4 133.6c1.3 0.1 2.0 14.9 3.3 15.0M147.8 134.1c1.3 0.1 2.0 14.9 3.3 15.0" fill="none" stroke="#C27BA2" stroke-width="2.1" stroke-linecap="round"/>
<path d="M125.9 147.6c1.3 0.1 3.8 -14.6 5.1 -14.5M134.3 148.1c1.3 0.1 3.8 -14.6 5.1 -14.5M142.7 148.6c1.3 0.1 3.8 -14.6 5.1 -14.5" fill="none" stroke="#3a2030" stroke-width="5.9" stroke-linecap="round"/>
<path d="M125.9 147.6c1.3 0.1 3.8 -14.6 5.1 -14.5M134.3 148.1c1.3 0.1 3.8 -14.6 5.1 -14.5M142.7 148.6c1.3 0.1 3.8 -14.6 5.1 -14.5" fill="none" stroke="#E2A3C8" stroke-width="4.6" stroke-linecap="round"/>
<path d="M105.4 265.7c1.4 0.3 0.8 13.7 2.2 14.0M114.4 267.2c1.4 0.3 0.8 13.7 2.2 14.0M123.4 268.8c1.4 0.3 0.8 13.7 2.2 14.0" fill="none" stroke="#3a2030" stroke-width="3.3" stroke-linecap="round"/>
<path d="M105.4 265.7c1.4 0.3 0.8 13.7 2.2 14.0M114.4 267.2c1.4 0.3 0.8 13.7 2.2 14.0M123.4 268.8c1.4 0.3 0.8 13.7 2.2 14.0" fill="none" stroke="#C27BA2" stroke-width="2.1" stroke-linecap="round"/>
<path d="M98.6 278.1c1.4 0.3 5.4 -12.7 6.8 -12.4M107.6 279.6c1.4 0.3 5.4 -12.7 6.8 -12.4M116.6 281.2c1.4 0.3 5.4 -12.7 6.8 -12.4" fill="none" stroke="#3a2030" stroke-width="5.9" stroke-linecap="round"/>
<path d="M98.6 278.1c1.4 0.3 5.4 -12.7 6.8 -12.4M107.6 279.6c1.4 0.3 5.4 -12.7 6.8 -12.4M116.6 281.2c1.4 0.3 5.4 -12.7 6.8 -12.4" fill="none" stroke="#E2A3C8" stroke-width="4.6" stroke-linecap="round"/>
<path d="M181.8 252.8c1.4 0.2 0.8 13.4 2.2 13.6M190.4 254.2c1.4 0.2 0.8 13.4 2.2 13.6M199.0 255.6c1.4 0.2 0.8 13.4 2.2 13.6M207.6 257.0c1.4 0.2 0.8 13.4 2.2 13.6M216.2 258.5c1.4 0.2 0.8 13.4 2.2 13.6M224.9 259.9c1.4 0.2 0.8 13.4 2.2 13.6" fill="none" stroke="#3a2030" stroke-width="3.3" stroke-linecap="round"/>
<path d="M181.8 252.8c1.4 0.2 0.8 13.4 2.2 13.6M190.4 254.2c1.4 0.2 0.8 13.4 2.2 13.6M199.0 255.6c1.4 0.2 0.8 13.4 2.2 13.6M207.6 257.0c1.4 0.2 0.8 13.4 2.2 13.6M216.2 258.5c1.4 0.2 0.8 13.4 2.2 13.6M224.9 259.9c1.4 0.2 0.8 13.4 2.2 13.6" fill="none" stroke="#C27BA2" stroke-width="2.1" stroke-linecap="round"/>
<path d="M175.3 265.0c1.4 0.2 5.0 -12.4 6.4 -12.2M184.0 266.4c1.4 0.2 5.0 -12.4 6.4 -12.2M192.6 267.8c1.4 0.2 5.0 -12.4 6.4 -12.2M201.2 269.2c1.4 0.2 5.0 -12.4 6.4 -12.2M209.8 270.6c1.4 0.2 5.0 -12.4 6.4 -12.2M218.4 272.0c1.4 0.2 5.0 -12.4 6.4 -12.2" fill="none" stroke="#3a2030" stroke-width="5.9" stroke-linecap="round"/>
<path d="M175.3 265.0c1.4 0.2 5.0 -12.4 6.4 -12.2M184.0 266.4c1.4 0.2 5.0 -12.4 6.4 -12.2M192.6 267.8c1.4 0.2 5.0 -12.4 6.4 -12.2M201.2 269.2c1.4 0.2 5.0 -12.4 6.4 -12.2M209.8 270.6c1.4 0.2 5.0 -12.4 6.4 -12.2M218.4 272.0c1.4 0.2 5.0 -12.4 6.4 -12.2" fill="none" stroke="#E2A3C8" stroke-width="4.6" stroke-linecap="round"/>
<path d="M103.3 222.0c1.5 0.1 2.2 15.0 3.6 15.1M112.5 222.6c1.5 0.1 2.2 15.0 3.6 15.1M121.6 223.2c1.5 0.1 2.2 15.0 3.6 15.1M130.8 223.8c1.5 0.1 2.2 15.0 3.6 15.1M140.0 224.4c1.5 0.1 2.2 15.0 3.6 15.1" fill="none" stroke="#3a2030" stroke-width="3.3" stroke-linecap="round"/>
<path d="M103.3 222.0c1.5 0.1 2.2 15.0 3.6 15.1M112.5 222.6c1.5 0.1 2.2 15.0 3.6 15.1M121.6 223.2c1.5 0.1 2.2 15.0 3.6 15.1M130.8 223.8c1.5 0.1 2.2 15.0 3.6 15.1M140.0 224.4c1.5 0.1 2.2 15.0 3.6 15.1" fill="none" stroke="#C27BA2" stroke-width="2.1" stroke-linecap="round"/>
<path d="M97.8 236.5c1.5 0.1 4.1 -14.6 5.5 -14.6M106.9 237.1c1.5 0.1 4.1 -14.6 5.5 -14.6M116.1 237.7c1.5 0.1 4.1 -14.6 5.5 -14.6M125.3 238.3c1.5 0.1 4.1 -14.6 5.5 -14.6M134.4 238.9c1.5 0.1 4.1 -14.6 5.5 -14.6" fill="none" stroke="#3a2030" stroke-width="5.9" stroke-linecap="round"/>
<path d="M97.8 236.5c1.5 0.1 4.1 -14.6 5.5 -14.6M106.9 237.1c1.5 0.1 4.1 -14.6 5.5 -14.6M116.1 237.7c1.5 0.1 4.1 -14.6 5.5 -14.6M125.3 238.3c1.5 0.1 4.1 -14.6 5.5 -14.6M134.4 238.9c1.5 0.1 4.1 -14.6 5.5 -14.6" fill="none" stroke="#E2A3C8" stroke-width="4.6" stroke-linecap="round"/>
<path d="M239.0 129.0c-1.4 0.3 -5.7 -14.0 -7.1 -13.7M230.5 130.7c-1.4 0.3 -5.7 -14.0 -7.1 -13.7" fill="none" stroke="#3a2030" stroke-width="3.3" stroke-linecap="round"/>
<path d="M239.0 129.0c-1.4 0.3 -5.7 -14.0 -7.1 -13.7M230.5 130.7c-1.4 0.3 -5.7 -14.0 -7.1 -13.7" fill="none" stroke="#C27BA2" stroke-width="2.1" stroke-linecap="round"/>
<path d="M240.4 113.6c-1.4 0.3 -0.1 15.1 -1.4 15.4M231.9 115.3c-1.4 0.3 -0.1 15.1 -1.4 15.4" fill="none" stroke="#3a2030" stroke-width="5.9" stroke-linecap="round"/>
<path d="M240.4 113.6c-1.4 0.3 -0.1 15.1 -1.4 15.4M231.9 115.3c-1.4 0.3 -0.1 15.1 -1.4 15.4" fill="none" stroke="#E2A3C8" stroke-width="4.6" stroke-linecap="round"/>
<path d="M108.3 110.3c1.0 1.0 -7.8 11.9 -6.8 13.0" fill="none" stroke="#3a2030" stroke-width="3.3" stroke-linecap="round"/>
<path d="M108.3 110.3c1.0 1.0 -7.8 11.9 -6.8 13.0" fill="none" stroke="#C27BA2" stroke-width="2.1" stroke-linecap="round"/>
<path d="M95.1 116.8c1.0 1.0 12.2 -7.5 13.2 -6.5" fill="none" stroke="#3a2030" stroke-width="5.9" stroke-linecap="round"/>
<path d="M95.1 116.8c1.0 1.0 12.2 -7.5 13.2 -6.5" fill="none" stroke="#E2A3C8" stroke-width="4.6" stroke-linecap="round"/>
<path d="M246.3 162.4c-0.7 1.1 -13.6 -5.4 -14.4 -4.3M241.7 169.5c-0.7 1.1 -13.6 -5.4 -14.4 -4.3" fill="none" stroke="#3a2030" stroke-width="3.3" stroke-linecap="round"/>
<path d="M246.3 162.4c-0.7 1.1 -13.6 -5.4 -14.4 -4.3M241.7 169.5c-0.7 1.1 -13.6 -5.4 -14.4 -4.3" fill="none" stroke="#C27BA2" stroke-width="2.1" stroke-linecap="round"/>
<path d="M236.5 151.1c-0.7 1.1 10.5 10.2 9.8 11.3M231.9 158.1c-0.7 1.1 10.5 10.2 9.8 11.3" fill="none" stroke="#3a2030" stroke-width="5.9" stroke-linecap="round"/>
<path d="M236.5 151.1c-0.7 1.1 10.5 10.2 9.8 11.3M231.9 158.1c-0.7 1.1 10.5 10.2 9.8 11.3" fill="none" stroke="#E2A3C8" stroke-width="4.6" stroke-linecap="round"/>
<path d="M255.0 180.3c1.5 0.2 1.7 12.4 3.2 12.6M264.5 181.5c1.5 0.2 1.7 12.4 3.2 12.6" fill="none" stroke="#3a2030" stroke-width="3.3" stroke-linecap="round"/>
<path d="M255.0 180.3c1.5 0.2 1.7 12.4 3.2 12.6M264.5 181.5c1.5 0.2 1.7 12.4 3.2 12.6" fill="none" stroke="#C27BA2" stroke-width="2.1" stroke-linecap="round"/>
<path d="M248.7 191.7c1.5 0.2 4.8 -11.6 6.3 -11.4M258.2 192.9c1.5 0.2 4.8 -11.6 6.3 -11.4" fill="none" stroke="#3a2030" stroke-width="5.9" stroke-linecap="round"/>
<path d="M248.7 191.7c1.5 0.2 4.8 -11.6 6.3 -11.4M258.2 192.9c1.5 0.2 4.8 -11.6 6.3 -11.4" fill="none" stroke="#E2A3C8" stroke-width="4.6" stroke-linecap="round"/>
<path d="M302.6 224.4c1.3 0.1 1.5 14.9 2.8 15.0" fill="none" stroke="#3a2030" stroke-width="3.3" stroke-linecap="round"/>
<path d="M302.6 224.4c1.3 0.1 1.5 14.9 2.8 15.0" fill="none" stroke="#C27BA2" stroke-width="2.1" stroke-linecap="round"/>
<path d="M297.3 238.7c1.3 0.1 4.0 -14.4 5.3 -14.3" fill="none" stroke="#3a2030" stroke-width="5.9" stroke-linecap="round"/>
<path d="M297.3 238.7c1.3 0.1 4.0 -14.4 5.3 -14.3" fill="none" stroke="#E2A3C8" stroke-width="4.6" stroke-linecap="round"/>
<path d="M219.1 223.5c1.4 0.1 1.8 14.8 3.3 15.0M228.0 224.3c1.4 0.1 1.8 14.8 3.3 15.0M236.9 225.0c1.4 0.1 1.8 14.8 3.3 15.0M245.9 225.7c1.4 0.1 1.8 14.8 3.3 15.0" fill="none" stroke="#3a2030" stroke-width="3.3" stroke-linecap="round"/>
<path d="M219.1 223.5c1.4 0.1 1.8 14.8 3.3 15.0M228.0 224.3c1.4 0.1 1.8 14.8 3.3 15.0M236.9 225.0c1.4 0.1 1.8 14.8 3.3 15.0M245.9 225.7c1.4 0.1 1.8 14.8 3.3 15.0" fill="none" stroke="#C27BA2" stroke-width="2.1" stroke-linecap="round"/>
<path d="M213.4 237.8c1.4 0.1 4.2 -14.3 5.7 -14.2M222.3 238.5c1.4 0.1 4.2 -14.3 5.7 -14.2M231.3 239.2c1.4 0.1 4.2 -14.3 5.7 -14.2M240.2 239.9c1.4 0.1 4.2 -14.3 5.7 -14.2" fill="none" stroke="#3a2030" stroke-width="5.9" stroke-linecap="round"/>
<path d="M213.4 237.8c1.4 0.1 4.2 -14.3 5.7 -14.2M222.3 238.5c1.4 0.1 4.2 -14.3 5.7 -14.2M231.3 239.2c1.4 0.1 4.2 -14.3 5.7 -14.2M240.2 239.9c1.4 0.1 4.2 -14.3 5.7 -14.2" fill="none" stroke="#E2A3C8" stroke-width="4.6" stroke-linecap="round"/>
<path d="M149.4 203.8c1.0 0.9 -6.0 11.0 -5.0 11.9M155.7 209.5c1.0 0.9 -6.0 11.0 -5.0 11.9" fill="none" stroke="#3a2030" stroke-width="3.3" stroke-linecap="round"/>
<path d="M149.4 203.8c1.0 0.9 -6.0 11.0 -5.0 11.9M155.7 209.5c1.0 0.9 -6.0 11.0 -5.0 11.9" fill="none" stroke="#C27BA2" stroke-width="2.1" stroke-linecap="round"/>
<path d="M138.1 210.1c1.0 0.9 10.3 -7.2 11.3 -6.3M144.4 215.8c1.0 0.9 10.3 -7.2 11.3 -6.3" fill="none" stroke="#3a2030" stroke-width="5.9" stroke-linecap="round"/>
<path d="M138.1 210.1c1.0 0.9 10.3 -7.2 11.3 -6.3M144.4 215.8c1.0 0.9 10.3 -7.2 11.3 -6.3" fill="none" stroke="#E2A3C8" stroke-width="4.6" stroke-linecap="round"/>
<path d="M198.9 130.2c1.4 0.1 2.3 12.7 3.8 12.7M207.9 130.7c1.4 0.1 2.3 12.7 3.8 12.7M217.0 131.2c1.4 0.1 2.3 12.7 3.8 12.7M226.0 131.8c1.4 0.1 2.3 12.7 3.8 12.7" fill="none" stroke="#3a2030" stroke-width="3.3" stroke-linecap="round"/>
<path d="M198.9 130.2c1.4 0.1 2.3 12.7 3.8 12.7M207.9 130.7c1.4 0.1 2.3 12.7 3.8 12.7M217.0 131.2c1.4 0.1 2.3 12.7 3.8 12.7M226.0 131.8c1.4 0.1 2.3 12.7 3.8 12.7" fill="none" stroke="#C27BA2" stroke-width="2.1" stroke-linecap="round"/>
<path d="M193.7 142.4c1.4 0.1 3.8 -12.3 5.2 -12.2M202.7 142.9c1.4 0.1 3.8 -12.3 5.2 -12.2M211.7 143.5c1.4 0.1 3.8 -12.3 5.2 -12.2M220.8 144.0c1.4 0.1 3.8 -12.3 5.2 -12.2" fill="none" stroke="#3a2030" stroke-width="5.9" stroke-linecap="round"/>
<path d="M193.7 142.4c1.4 0.1 3.8 -12.3 5.2 -12.2M202.7 142.9c1.4 0.1 3.8 -12.3 5.2 -12.2M211.7 143.5c1.4 0.1 3.8 -12.3 5.2 -12.2M220.8 144.0c1.4 0.1 3.8 -12.3 5.2 -12.2" fill="none" stroke="#E2A3C8" stroke-width="4.6" stroke-linecap="round"/>
<path d="M136.1 272.7c1.4 0.2 0.5 15.3 1.9 15.5M144.7 274.1c1.4 0.2 0.5 15.3 1.9 15.5M153.4 275.5c1.4 0.2 0.5 15.3 1.9 15.5M162.1 276.9c1.4 0.2 0.5 15.3 1.9 15.5" fill="none" stroke="#3a2030" stroke-width="3.3" stroke-linecap="round"/>
<path d="M136.1 272.7c1.4 0.2 0.5 15.3 1.9 15.5M144.7 274.1c1.4 0.2 0.5 15.3 1.9 15.5M153.4 275.5c1.4 0.2 0.5 15.3 1.9 15.5M162.1 276.9c1.4 0.2 0.5 15.3 1.9 15.5" fill="none" stroke="#C27BA2" stroke-width="2.1" stroke-linecap="round"/>
<path d="M129.3 286.7c1.4 0.2 5.4 -14.3 6.8 -14.1M138.0 288.2c1.4 0.2 5.4 -14.3 6.8 -14.1M146.6 289.6c1.4 0.2 5.4 -14.3 6.8 -14.1M155.3 291.0c1.4 0.2 5.4 -14.3 6.8 -14.1" fill="none" stroke="#3a2030" stroke-width="5.9" stroke-linecap="round"/>
<path d="M129.3 286.7c1.4 0.2 5.4 -14.3 6.8 -14.1M138.0 288.2c1.4 0.2 5.4 -14.3 6.8 -14.1M146.6 289.6c1.4 0.2 5.4 -14.3 6.8 -14.1M155.3 291.0c1.4 0.2 5.4 -14.3 6.8 -14.1" fill="none" stroke="#E2A3C8" stroke-width="4.6" stroke-linecap="round"/>
<path d="M277.9 278.1c-0.9 1.0 -12.4 -7.2 -13.3 -6.2M272.2 284.5c-0.9 1.0 -12.4 -7.2 -13.3 -6.2M266.4 290.9c-0.9 1.0 -12.4 -7.2 -13.3 -6.2" fill="none" stroke="#3a2030" stroke-width="3.3" stroke-linecap="round"/>
<path d="M277.9 278.1c-0.9 1.0 -12.4 -7.2 -13.3 -6.2M272.2 284.5c-0.9 1.0 -12.4 -7.2 -13.3 -6.2M266.4 290.9c-0.9 1.0 -12.4 -7.2 -13.3 -6.2" fill="none" stroke="#C27BA2" stroke-width="2.1" stroke-linecap="round"/>
<path d="M270.3 265.5c-0.9 1.0 8.5 11.6 7.6 12.6M264.6 271.9c-0.9 1.0 8.5 11.6 7.6 12.6M258.8 278.3c-0.9 1.0 8.5 11.6 7.6 12.6" fill="none" stroke="#3a2030" stroke-width="5.9" stroke-linecap="round"/>
<path d="M270.3 265.5c-0.9 1.0 8.5 11.6 7.6 12.6M264.6 271.9c-0.9 1.0 8.5 11.6 7.6 12.6M258.8 278.3c-0.9 1.0 8.5 11.6 7.6 12.6" fill="none" stroke="#E2A3C8" stroke-width="4.6" stroke-linecap="round"/>
<path d="M233.4 237.9c1.6 0.1 2.7 12.6 4.3 12.6M243.4 238.4c1.6 0.1 2.7 12.6 4.3 12.6M253.3 238.9c1.6 0.1 2.7 12.6 4.3 12.6M263.2 239.4c1.6 0.1 2.7 12.6 4.3 12.6M273.2 239.9c1.6 0.1 2.7 12.6 4.3 12.6" fill="none" stroke="#3a2030" stroke-width="3.3" stroke-linecap="round"/>
<path d="M233.4 237.9c1.6 0.1 2.7 12.6 4.3 12.6M243.4 238.4c1.6 0.1 2.7 12.6 4.3 12.6M253.3 238.9c1.6 0.1 2.7 12.6 4.3 12.6M263.2 239.4c1.6 0.1 2.7 12.6 4.3 12.6M273.2 239.9c1.6 0.1 2.7 12.6 4.3 12.6" fill="none" stroke="#C27BA2" stroke-width="2.1" stroke-linecap="round"/>
<path d="M227.8 250.0c1.6 0.1 4.0 -12.2 5.6 -12.1M237.7 250.5c1.6 0.1 4.0 -12.2 5.6 -12.1M247.7 251.1c1.6 0.1 4.0 -12.2 5.6 -12.1M257.6 251.6c1.6 0.1 4.0 -12.2 5.6 -12.1M267.6 252.1c1.6 0.1 4.0 -12.2 5.6 -12.1" fill="none" stroke="#3a2030" stroke-width="5.9" stroke-linecap="round"/>
<path d="M227.8 250.0c1.6 0.1 4.0 -12.2 5.6 -12.1M237.7 250.5c1.6 0.1 4.0 -12.2 5.6 -12.1M247.7 251.1c1.6 0.1 4.0 -12.2 5.6 -12.1M257.6 251.6c1.6 0.1 4.0 -12.2 5.6 -12.1M267.6 252.1c1.6 0.1 4.0 -12.2 5.6 -12.1" fill="none" stroke="#E2A3C8" stroke-width="4.6" stroke-linecap="round"/>
<path d="M230.5 136.3c0.5 1.2 -12.4 8.2 -11.9 9.4M233.7 143.8c0.5 1.2 -12.4 8.2 -11.9 9.4" fill="none" stroke="#3a2030" stroke-width="3.3" stroke-linecap="round"/>
<path d="M230.5 136.3c0.5 1.2 -12.4 8.2 -11.9 9.4M233.7 143.8c0.5 1.2 -12.4 8.2 -11.9 9.4" fill="none" stroke="#C27BA2" stroke-width="2.1" stroke-linecap="round"/>
<path d="M215.4 138.2c0.5 1.2 14.6 -3.1 15.1 -1.9M218.6 145.7c0.5 1.2 14.6 -3.1 15.1 -1.9" fill="none" stroke="#3a2030" stroke-width="5.9" stroke-linecap="round"/>
<path d="M215.4 138.2c0.5 1.2 14.6 -3.1 15.1 -1.9M218.6 145.7c0.5 1.2 14.6 -3.1 15.1 -1.9" fill="none" stroke="#E2A3C8" stroke-width="4.6" stroke-linecap="round"/>
<path d="M91.7 125.1c1.5 0.1 2.6 12.9 4.0 12.9M100.8 125.5c1.5 0.1 2.6 12.9 4.0 12.9M109.9 125.8c1.5 0.1 2.6 12.9 4.0 12.9M118.9 126.2c1.5 0.1 2.6 12.9 4.0 12.9M128.0 126.6c1.5 0.1 2.6 12.9 4.0 12.9" fill="none" stroke="#3a2030" stroke-width="3.3" stroke-linecap="round"/>
<path d="M91.7 125.1c1.5 0.1 2.6 12.9 4.0 12.9M100.8 125.5c1.5 0.1 2.6 12.9 4.0 12.9M109.9 125.8c1.5 0.1 2.6 12.9 4.0 12.9M118.9 126.2c1.5 0.1 2.6 12.9 4.0 12.9M128.0 126.6c1.5 0.1 2.6 12.9 4.0 12.9" fill="none" stroke="#C27BA2" stroke-width="2.1" stroke-linecap="round"/>
<path d="M86.7 137.7c1.5 0.1 3.6 -12.6 5.1 -12.6M95.7 138.0c1.5 0.1 3.6 -12.6 5.1 -12.6M104.8 138.4c1.5 0.1 3.6 -12.6 5.1 -12.6M113.9 138.8c1.5 0.1 3.6 -12.6 5.1 -12.6M123.0 139.1c1.5 0.1 3.6 -12.6 5.1 -12.6" fill="none" stroke="#3a2030" stroke-width="5.9" stroke-linecap="round"/>
<path d="M86.7 137.7c1.5 0.1 3.6 -12.6 5.1 -12.6M95.7 138.0c1.5 0.1 3.6 -12.6 5.1 -12.6M104.8 138.4c1.5 0.1 3.6 -12.6 5.1 -12.6M113.9 138.8c1.5 0.1 3.6 -12.6 5.1 -12.6M123.0 139.1c1.5 0.1 3.6 -12.6 5.1 -12.6" fill="none" stroke="#E2A3C8" stroke-width="4.6" stroke-linecap="round"/>
</g>
<path d="M258.4 231.5c1.3 -0.2 4.5 11.5 5.8 11.3M266.8 230.4c1.3 -0.2 4.5 11.5 5.8 11.3M275.3 229.2c1.3 -0.2 4.5 11.5 5.8 11.3M283.7 228.1c1.3 -0.2 4.5 11.5 5.8 11.3M292.1 227.0c1.3 -0.2 4.5 11.5 5.8 11.3" fill="none" stroke="#2a1822" stroke-width="3.6" stroke-linecap="round"/>
<path d="M258.4 231.5c1.3 -0.2 4.5 11.5 5.8 11.3M266.8 230.4c1.3 -0.2 4.5 11.5 5.8 11.3M275.3 229.2c1.3 -0.2 4.5 11.5 5.8 11.3M283.7 228.1c1.3 -0.2 4.5 11.5 5.8 11.3M292.1 227.0c1.3 -0.2 4.5 11.5 5.8 11.3" fill="none" stroke="#A8628A" stroke-width="2.2" stroke-linecap="round"/>
<path d="M255.8 243.9c1.3 -0.2 1.3 -12.3 2.6 -12.5M264.2 242.8c1.3 -0.2 1.3 -12.3 2.6 -12.5M272.6 241.7c1.3 -0.2 1.3 -12.3 2.6 -12.5M281.1 240.6c1.3 -0.2 1.3 -12.3 2.6 -12.5M289.5 239.5c1.3 -0.2 1.3 -12.3 2.6 -12.5" fill="none" stroke="#2a1822" stroke-width="6.2" stroke-linecap="round"/>
<path d="M255.8 243.9c1.3 -0.2 1.3 -12.3 2.6 -12.5M264.2 242.8c1.3 -0.2 1.3 -12.3 2.6 -12.5M272.6 241.7c1.3 -0.2 1.3 -12.3 2.6 -12.5M281.1 240.6c1.3 -0.2 1.3 -12.3 2.6 -12.5M289.5 239.5c1.3 -0.2 1.3 -12.3 2.6 -12.5" fill="none" stroke="#DE9DC3" stroke-width="4.6" stroke-linecap="round"/>
<path d="M231.6 254.8c1.3 -0.5 7.3 9.9 8.6 9.4M239.4 251.5c1.3 -0.5 7.3 9.9 8.6 9.4M247.3 248.2c1.3 -0.5 7.3 9.9 8.6 9.4M255.1 244.9c1.3 -0.5 7.3 9.9 8.6 9.4" fill="none" stroke="#2a1822" stroke-width="3.6" stroke-linecap="round"/>
<path d="M231.6 254.8c1.3 -0.5 7.3 9.9 8.6 9.4M239.4 251.5c1.3 -0.5 7.3 9.9 8.6 9.4M247.3 248.2c1.3 -0.5 7.3 9.9 8.6 9.4M255.1 244.9c1.3 -0.5 7.3 9.9 8.6 9.4" fill="none" stroke="#A8628A" stroke-width="2.2" stroke-linecap="round"/>
<path d="M232.3 267.5c1.3 -0.5 -2.0 -12.2 -0.7 -12.7M240.2 264.2c1.3 -0.5 -2.0 -12.2 -0.7 -12.7M248.0 260.9c1.3 -0.5 -2.0 -12.2 -0.7 -12.7M255.8 257.6c1.3 -0.5 -2.0 -12.2 -0.7 -12.7" fill="none" stroke="#2a1822" stroke-width="6.2" stroke-linecap="round"/>
<path d="M232.3 267.5c1.3 -0.5 -2.0 -12.2 -0.7 -12.7M240.2 264.2c1.3 -0.5 -2.0 -12.2 -0.7 -12.7M248.0 260.9c1.3 -0.5 -2.0 -12.2 -0.7 -12.7M255.8 257.6c1.3 -0.5 -2.0 -12.2 -0.7 -12.7" fill="none" stroke="#DE9DC3" stroke-width="4.6" stroke-linecap="round"/>
<path d="M273.2 203.4c1.3 -0.2 4.8 11.4 6.2 11.1M281.6 202.0c1.3 -0.2 4.8 11.4 6.2 11.1M290.0 200.6c1.3 -0.2 4.8 11.4 6.2 11.1" fill="none" stroke="#2a1822" stroke-width="3.6" stroke-linecap="round"/>
<path d="M273.2 203.4c1.3 -0.2 4.8 11.4 6.2 11.1M281.6 202.0c1.3 -0.2 4.8 11.4 6.2 11.1M290.0 200.6c1.3 -0.2 4.8 11.4 6.2 11.1" fill="none" stroke="#A8628A" stroke-width="2.2" stroke-linecap="round"/>
<path d="M271.0 215.9c1.3 -0.2 0.9 -12.3 2.2 -12.5M279.4 214.5c1.3 -0.2 0.9 -12.3 2.2 -12.5M287.8 213.1c1.3 -0.2 0.9 -12.3 2.2 -12.5" fill="none" stroke="#2a1822" stroke-width="6.2" stroke-linecap="round"/>
<path d="M271.0 215.9c1.3 -0.2 0.9 -12.3 2.2 -12.5M279.4 214.5c1.3 -0.2 0.9 -12.3 2.2 -12.5M287.8 213.1c1.3 -0.2 0.9 -12.3 2.2 -12.5" fill="none" stroke="#DE9DC3" stroke-width="4.6" stroke-linecap="round"/>
<path d="M166.0 283.7c1.3 0.4 -1.2 12.3 0.1 12.7M174.0 286.5c1.3 0.4 -1.2 12.3 0.1 12.7M182.0 289.2c1.3 0.4 -1.2 12.3 0.1 12.7M190.1 292.0c1.3 0.4 -1.2 12.3 0.1 12.7" fill="none" stroke="#2a1822" stroke-width="3.6" stroke-linecap="round"/>
<path d="M166.0 283.7c1.3 0.4 -1.2 12.3 0.1 12.7M174.0 286.5c1.3 0.4 -1.2 12.3 0.1 12.7M182.0 289.2c1.3 0.4 -1.2 12.3 0.1 12.7M190.1 292.0c1.3 0.4 -1.2 12.3 0.1 12.7" fill="none" stroke="#A8628A" stroke-width="2.2" stroke-linecap="round"/>
<path d="M158.1 293.7c1.3 0.4 6.6 -10.4 7.9 -10.0M166.1 296.4c1.3 0.4 6.6 -10.4 7.9 -10.0M174.1 299.2c1.3 0.4 6.6 -10.4 7.9 -10.0M182.2 301.9c1.3 0.4 6.6 -10.4 7.9 -10.0" fill="none" stroke="#2a1822" stroke-width="6.2" stroke-linecap="round"/>
<path d="M158.1 293.7c1.3 0.4 6.6 -10.4 7.9 -10.0M166.1 296.4c1.3 0.4 6.6 -10.4 7.9 -10.0M174.1 299.2c1.3 0.4 6.6 -10.4 7.9 -10.0M182.2 301.9c1.3 0.4 6.6 -10.4 7.9 -10.0" fill="none" stroke="#DE9DC3" stroke-width="4.6" stroke-linecap="round"/>
<path d="M298.8 197.3c1.1 0.7 -4.1 11.6 -3.0 12.4M306.0 201.9c1.1 0.7 -4.1 11.6 -3.0 12.4M313.1 206.6c1.1 0.7 -4.1 11.6 -3.0 12.4" fill="none" stroke="#2a1822" stroke-width="3.6" stroke-linecap="round"/>
<path d="M298.8 197.3c1.1 0.7 -4.1 11.6 -3.0 12.4M306.0 201.9c1.1 0.7 -4.1 11.6 -3.0 12.4M313.1 206.6c1.1 0.7 -4.1 11.6 -3.0 12.4" fill="none" stroke="#A8628A" stroke-width="2.2" stroke-linecap="round"/>
<path d="M288.7 205.0c1.1 0.7 9.0 -8.5 10.1 -7.7M295.8 209.7c1.1 0.7 9.0 -8.5 10.1 -7.7M303.0 214.3c1.1 0.7 9.0 -8.5 10.1 -7.7" fill="none" stroke="#2a1822" stroke-width="6.2" stroke-linecap="round"/>
<path d="M288.7 205.0c1.1 0.7 9.0 -8.5 10.1 -7.7M295.8 209.7c1.1 0.7 9.0 -8.5 10.1 -7.7M303.0 214.3c1.1 0.7 9.0 -8.5 10.1 -7.7" fill="none" stroke="#DE9DC3" stroke-width="4.6" stroke-linecap="round"/>
<path d="M190.0,296.0C197.0,289.3 216.3,291.7 230.0,291.0C243.7,290.3 259.5,291.3 272.0,292.0C284.5,292.7 294.8,293.7 305.0,295.0C315.2,296.3 328.7,292.3 333.0,300.0C337.3,307.7 334.3,327.3 331.0,341.0C327.7,354.7 320.3,369.2 313.0,382.0C305.7,394.8 295.5,407.8 287.0,418.0C278.5,428.2 267.0,436.0 262.0,443.0C257.0,450.0 261.3,457.3 257.0,460.0C252.7,462.7 240.3,465.2 236.0,459.0C231.7,452.8 235.2,434.2 231.0,423.0C226.8,411.8 216.8,402.2 211.0,392.0C205.2,381.8 199.8,372.2 196.0,362.0C192.2,351.8 189.0,342.0 188.0,331.0C187.0,320.0 183.0,302.7 190.0,296.0Z" fill="#DADCF4" opacity="0.72" filter="url(#surf2)"/>
<path d="M193,300 C186,320 195,340 206,346" fill="none" stroke="#111" stroke-width="1.6"/>
<path d="M206,358 C205,372 214,379 235,372" fill="none" stroke="#111" stroke-width="1.6"/>
<path d="M240,395 C236,410 246,422 250,442" fill="none" stroke="#111" stroke-width="1.6"/>
<path d="M262,420 C268,434 287,428 281,412" fill="none" stroke="#111" stroke-width="1.6"/>
<path d="M276,380 C290,382 306,390 319,400" fill="none" stroke="#111" stroke-width="1.6"/>
<path d="M258,318 C266,330 262,340 262,346" fill="none" stroke="#111" stroke-width="1.6"/>
<path d="M290,305 C296,320 287,336 285,340" fill="none" stroke="#111" stroke-width="1.6"/>
<path d="M250,312 C244,326 252,340 258,346" fill="none" stroke="#111" stroke-width="1.6"/>
<path d="M270,330 C284,322 290,315 293,308" fill="none" stroke="#111" stroke-width="1.6"/>
<path d="M280,362 C284,374 288,378 294,379" fill="none" stroke="#111" stroke-width="1.6"/>
<path d="M206,348 C212,356 220,360 224,362" fill="none" stroke="#111" stroke-width="1.6"/>
<path d="M295,350 C300,362 296,372 290,380" fill="none" stroke="#111" stroke-width="1.6"/>
<path d="M228,318 C240,312 252,318 262,330" fill="none" stroke="#111" stroke-width="1.6"/>
<path d="M246,369 C246,378 240,384 232,385" fill="none" stroke="#111" stroke-width="1.6"/>
<path d="M302,382 Q306,388 302,396" fill="none" stroke="#111" stroke-width="1.6"/>
<path d="M304,307 Q296,324 290,321" fill="none" stroke="#111" stroke-width="1.6"/>
<path d="M209,351 Q222,339 224,335" fill="none" stroke="#111" stroke-width="1.6"/>
<path d="M315,318 Q310,315 307,330" fill="none" stroke="#111" stroke-width="1.6"/>
<path d="M201,356 Q218,354 216,356" fill="none" stroke="#111" stroke-width="1.6"/>
<path d="M305,326 Q302,323 310,313" fill="none" stroke="#111" stroke-width="1.6"/>
<path d="M219,395 Q224,398 233,403" fill="none" stroke="#111" stroke-width="1.6"/>
<path d="M205,364 Q213,370 219,371" fill="none" stroke="#111" stroke-width="1.6"/>
<path d="M257,442 Q249,437 244,443" fill="none" stroke="#111" stroke-width="1.6"/>
<path d="M312,334 Q316,332 313,323" fill="none" stroke="#111" stroke-width="1.6"/>
<path d="M298,342 Q309,338 316,337" fill="none" stroke="#111" stroke-width="1.6"/>
<path d="M224,344 Q238,338 237,332" fill="none" stroke="#111" stroke-width="1.6"/>
<path d="M256,366 Q252,357 236,361" fill="none" stroke="#111" stroke-width="1.6"/>
<path d="M303,300 Q289,315 301,313" fill="none" stroke="#111" stroke-width="1.6"/>
<path d="M219,354 Q205,351 198,360" fill="none" stroke="#111" stroke-width="1.6"/>
<path d="M241,368 Q223,370 237,379" fill="none" stroke="#111" stroke-width="1.6"/>
<path d="M294,381 Q303,374 303,365" fill="none" stroke="#111" stroke-width="1.6"/>
<path d="M212,318 Q216,315 205,325" fill="none" stroke="#111" stroke-width="1.6"/>
<path d="M263,337 Q255,331 266,325" fill="none" stroke="#111" stroke-width="1.6"/>
<path d="M279,404 Q285,396 289,407" fill="none" stroke="#111" stroke-width="1.6"/>
<path d="M245,424 Q250,413 246,406" fill="none" stroke="#111" stroke-width="1.6"/>
<path d="M265,385 Q278,383 275,384" fill="none" stroke="#111" stroke-width="1.6"/>
<path d="M193,300 L205,296 L222,297 L238,299 L252,303" fill="none" stroke="#15153a" stroke-width="6.6" stroke-linejoin="round" stroke-linecap="round"/>
<path d="M193,300 L205,296 L222,297 L238,299 L252,303" fill="none" stroke="#5B5FD2" stroke-width="4.8" stroke-linejoin="round" stroke-linecap="round"/>
<path d="M245,297 L262,294 L275,293" fill="none" stroke="#15153a" stroke-width="6.6" stroke-linejoin="round" stroke-linecap="round"/>
<path d="M245,297 L262,294 L275,293" fill="none" stroke="#5B5FD2" stroke-width="4.8" stroke-linejoin="round" stroke-linecap="round"/>
<path d="M230,308 L250,306 L268,312 L290,305 L298,301" fill="none" stroke="#15153a" stroke-width="6.6" stroke-linejoin="round" stroke-linecap="round"/>
<path d="M230,308 L250,306 L268,312 L290,305 L298,301" fill="none" stroke="#5B5FD2" stroke-width="4.8" stroke-linejoin="round" stroke-linecap="round"/>
<path d="M225,318 L233,332 L240,340" fill="none" stroke="#15153a" stroke-width="6.6" stroke-linejoin="round" stroke-linecap="round"/>
<path d="M225,318 L233,332 L240,340" fill="none" stroke="#5B5FD2" stroke-width="4.8" stroke-linejoin="round" stroke-linecap="round"/>
<path d="M222,340 L245,350 L262,357 L275,365" fill="none" stroke="#15153a" stroke-width="6.6" stroke-linejoin="round" stroke-linecap="round"/>
<path d="M222,340 L245,350 L262,357 L275,365" fill="none" stroke="#5B5FD2" stroke-width="4.8" stroke-linejoin="round" stroke-linecap="round"/>
<path d="M228,333 L250,343 L270,350 L285,358" fill="none" stroke="#15153a" stroke-width="6.6" stroke-linejoin="round" stroke-linecap="round"/>
<path d="M228,333 L250,343 L270,350 L285,358" fill="none" stroke="#5B5FD2" stroke-width="4.8" stroke-linejoin="round" stroke-linecap="round"/>
<path d="M303,297 L300,315 L296,330 L290,345" fill="none" stroke="#15153a" stroke-width="6.6" stroke-linejoin="round" stroke-linecap="round"/>
<path d="M303,297 L300,315 L296,330 L290,345" fill="none" stroke="#5B5FD2" stroke-width="4.8" stroke-linejoin="round" stroke-linecap="round"/>
<path d="M313,297 L311,315 L306,332 L300,345" fill="none" stroke="#15153a" stroke-width="6.6" stroke-linejoin="round" stroke-linecap="round"/>
<path d="M313,297 L311,315 L306,332 L300,345" fill="none" stroke="#5B5FD2" stroke-width="4.8" stroke-linejoin="round" stroke-linecap="round"/>
<path d="M270,345 L275,360 L278,380" fill="none" stroke="#15153a" stroke-width="6.6" stroke-linejoin="round" stroke-linecap="round"/>
<path d="M270,345 L275,360 L278,380" fill="none" stroke="#5B5FD2" stroke-width="4.8" stroke-linejoin="round" stroke-linecap="round"/>
<path d="M224,362 L238,359 L246,369" fill="none" stroke="#15153a" stroke-width="6.6" stroke-linejoin="round" stroke-linecap="round"/>
<path d="M224,362 L238,359 L246,369" fill="none" stroke="#5B5FD2" stroke-width="4.8" stroke-linejoin="round" stroke-linecap="round"/>
<path d="M245,373 L258,366 L263,359" fill="none" stroke="#15153a" stroke-width="6.6" stroke-linejoin="round" stroke-linecap="round"/>
<path d="M245,373 L258,366 L263,359" fill="none" stroke="#5B5FD2" stroke-width="4.8" stroke-linejoin="round" stroke-linecap="round"/>
<path d="M232,385 L238,393 L246,395" fill="none" stroke="#15153a" stroke-width="6.6" stroke-linejoin="round" stroke-linecap="round"/>
<path d="M232,385 L238,393 L246,395" fill="none" stroke="#5B5FD2" stroke-width="4.8" stroke-linejoin="round" stroke-linecap="round"/>
<path d="M262,400 L270,398 L280,395 L290,392" fill="none" stroke="#15153a" stroke-width="6.6" stroke-linejoin="round" stroke-linecap="round"/>
<path d="M262,400 L270,398 L280,395 L290,392" fill="none" stroke="#5B5FD2" stroke-width="4.8" stroke-linejoin="round" stroke-linecap="round"/>
<path d="M257,400 L262,410 L262,420" fill="none" stroke="#15153a" stroke-width="6.6" stroke-linejoin="round" stroke-linecap="round"/>
<path d="M257,400 L262,410 L262,420" fill="none" stroke="#5B5FD2" stroke-width="4.8" stroke-linejoin="round" stroke-linecap="round"/>
<path d="M313,398 L320,405 L323,412" fill="none" stroke="#15153a" stroke-width="6.6" stroke-linejoin="round" stroke-linecap="round"/>
<path d="M313,398 L320,405 L323,412" fill="none" stroke="#5B5FD2" stroke-width="4.8" stroke-linejoin="round" stroke-linecap="round"/>
<path d="M245,443 L252,440 L258,447" fill="none" stroke="#15153a" stroke-width="6.6" stroke-linejoin="round" stroke-linecap="round"/>
<path d="M245,443 L252,440 L258,447" fill="none" stroke="#5B5FD2" stroke-width="4.8" stroke-linejoin="round" stroke-linecap="round"/>
<path d="M286,318 L296,323 L300,334" fill="none" stroke="#15153a" stroke-width="6.6" stroke-linejoin="round" stroke-linecap="round"/>
<path d="M286,318 L296,323 L300,334" fill="none" stroke="#5B5FD2" stroke-width="4.8" stroke-linejoin="round" stroke-linecap="round"/>
<path d="M294,406 L283,411" fill="none" stroke="#15153a" stroke-width="6.6" stroke-linejoin="round" stroke-linecap="round"/>
<path d="M294,406 L283,411" fill="none" stroke="#5B5FD2" stroke-width="4.8" stroke-linejoin="round" stroke-linecap="round"/>
<path d="M269,335 L270,348" fill="none" stroke="#15153a" stroke-width="6.6" stroke-linejoin="round" stroke-linecap="round"/>
<path d="M269,335 L270,348" fill="none" stroke="#5B5FD2" stroke-width="4.8" stroke-linejoin="round" stroke-linecap="round"/>
<path d="M223,367 L216,361" fill="none" stroke="#15153a" stroke-width="6.6" stroke-linejoin="round" stroke-linecap="round"/>
<path d="M223,367 L216,361" fill="none" stroke="#5B5FD2" stroke-width="4.8" stroke-linejoin="round" stroke-linecap="round"/>
<path d="M294,399 L294,391" fill="none" stroke="#15153a" stroke-width="6.6" stroke-linejoin="round" stroke-linecap="round"/>
<path d="M294,399 L294,391" fill="none" stroke="#5B5FD2" stroke-width="4.8" stroke-linejoin="round" stroke-linecap="round"/>
<path d="M320,331 L328,326" fill="none" stroke="#15153a" stroke-width="6.6" stroke-linejoin="round" stroke-linecap="round"/>
<path d="M320,331 L328,326" fill="none" stroke="#5B5FD2" stroke-width="4.8" stroke-linejoin="round" stroke-linecap="round"/>
<path d="M288,344 L280,335" fill="none" stroke="#15153a" stroke-width="6.6" stroke-linejoin="round" stroke-linecap="round"/>
<path d="M288,344 L280,335" fill="none" stroke="#5B5FD2" stroke-width="4.8" stroke-linejoin="round" stroke-linecap="round"/>
<path d="M302,369 L293,364" fill="none" stroke="#15153a" stroke-width="6.6" stroke-linejoin="round" stroke-linecap="round"/>
<path d="M302,369 L293,364" fill="none" stroke="#5B5FD2" stroke-width="4.8" stroke-linejoin="round" stroke-linecap="round"/>
<path d="M284,396 L293,399" fill="none" stroke="#15153a" stroke-width="6.6" stroke-linejoin="round" stroke-linecap="round"/>
<path d="M284,396 L293,399" fill="none" stroke="#5B5FD2" stroke-width="4.8" stroke-linejoin="round" stroke-linecap="round"/>
<path d="M216,342 L213,351" fill="none" stroke="#15153a" stroke-width="6.6" stroke-linejoin="round" stroke-linecap="round"/>
<path d="M216,342 L213,351" fill="none" stroke="#5B5FD2" stroke-width="4.8" stroke-linejoin="round" stroke-linecap="round"/>
<path d="M236,410 L234,422" fill="none" stroke="#15153a" stroke-width="6.6" stroke-linejoin="round" stroke-linecap="round"/>
<path d="M236,410 L234,422" fill="none" stroke="#5B5FD2" stroke-width="4.8" stroke-linejoin="round" stroke-linecap="round"/>
<path d="M246,319 L234,319" fill="none" stroke="#15153a" stroke-width="6.6" stroke-linejoin="round" stroke-linecap="round"/>
<path d="M246,319 L234,319" fill="none" stroke="#5B5FD2" stroke-width="4.8" stroke-linejoin="round" stroke-linecap="round"/>
<path d="M278,366 L278,379" fill="none" stroke="#15153a" stroke-width="6.6" stroke-linejoin="round" stroke-linecap="round"/>
<path d="M278,366 L278,379" fill="none" stroke="#5B5FD2" stroke-width="4.8" stroke-linejoin="round" stroke-linecap="round"/>
<path d="M291,307 L281,303" fill="none" stroke="#15153a" stroke-width="6.6" stroke-linejoin="round" stroke-linecap="round"/>
<path d="M291,307 L281,303" fill="none" stroke="#5B5FD2" stroke-width="4.8" stroke-linejoin="round" stroke-linecap="round"/>
<path d="M315,317 L305,326" fill="none" stroke="#15153a" stroke-width="6.6" stroke-linejoin="round" stroke-linecap="round"/>
<path d="M315,317 L305,326" fill="none" stroke="#5B5FD2" stroke-width="4.8" stroke-linejoin="round" stroke-linecap="round"/>
<circle cx="214" cy="340" r="9" fill="none" stroke="#15153a" stroke-width="6.6"/><circle cx="214" cy="340" r="9" fill="none" stroke="#5B5FD2" stroke-width="4.8"/>
<rect x="281" y="257" width="53" height="38" fill="#fff" opacity="0.6"/>
<rect x="385.6" y="232" width="62" height="35" fill="#fff" opacity="0.75"/>
<rect x="119.5" y="362" width="70" height="35" fill="#fff" opacity="0.6"/>
<line x1="121" y1="97.5" x2="367" y2="41.5" stroke="#400" stroke-width="3.8" stroke-dasharray="4.6 9.6" stroke-linecap="round"/>
<line x1="121" y1="97.5" x2="367" y2="41.5" stroke="#E00" stroke-width="2.6" stroke-dasharray="4.6 9.6" stroke-linecap="round"/>
<line x1="121" y1="98" x2="498" y2="104.7" stroke="#400" stroke-width="4.6" stroke-dasharray="7 12.4" stroke-linecap="round"/>
<line x1="121" y1="98" x2="498" y2="104.7" stroke="#E00" stroke-width="3.4" stroke-dasharray="7 12.4" stroke-linecap="round"/>
<line x1="367" y1="41.5" x2="498" y2="104.7" stroke="#200" stroke-width="3.4" stroke-dasharray="4.5 3.5"/>
<line x1="367" y1="41.5" x2="498" y2="104.7" stroke="#A00" stroke-width="2" stroke-dasharray="4.5 3.5"/>
<line x1="257" y1="204" x2="414.8" y2="204" stroke="#1010E0" stroke-width="3" stroke-dasharray="6.8 8.9" stroke-linecap="round"/>
<line x1="270" y1="211" x2="323.4" y2="251.3" stroke="#1010E0" stroke-width="3" stroke-dasharray="5.5 7" stroke-linecap="round"/>
<line x1="323.4" y1="251.3" x2="414.8" y2="204" stroke="#1010E0" stroke-width="3" stroke-dasharray="5.5 7" stroke-linecap="round"/>
<defs><radialGradient id="sr" cx="0.4" cy="0.35" r="0.7"><stop offset="0" stop-color="#ff6a6a"/><stop offset="1" stop-color="#c00"/></radialGradient><radialGradient id="sp" cx="0.4" cy="0.35" r="0.7"><stop offset="0" stop-color="#ffd0dc"/><stop offset="1" stop-color="#e05070"/></radialGradient><radialGradient id="sb" cx="0.4" cy="0.35" r="0.7"><stop offset="0" stop-color="#6a5acd"/><stop offset="1" stop-color="#2a1a8a"/></radialGradient></defs>
<circle cx="121.3" cy="97.7" r="5.8" fill="url(#sr)"/>
<circle cx="367.3" cy="41.5" r="4.5" fill="url(#sp)" stroke="#600" stroke-width="0.8"/>
<circle cx="498.4" cy="104.7" r="6" fill="url(#sp)" stroke="#600" stroke-width="0.8"/>
<circle cx="414.8" cy="203.9" r="4.5" fill="url(#sb)"/>
<circle cx="323.4" cy="251.3" r="5" fill="url(#sb)" stroke="#1010a0" stroke-width="1.5"/>
<text x="87.5" y="86.1" font-size="23.3" font-weight="bold" fill="#F00000">Y613</text>
<text x="217.5" y="49.2" font-size="23.3" font-weight="bold" fill="#F00000">113 Å</text>
<text x="14.3" y="241.8" font-size="28.2" font-weight="bold" fill="#E08CBE">ACE2</text>
<text x="124.8" y="387.7" font-size="28.6" font-weight="bold" fill="#6D4CF0">RBD</text>
<text x="303.3" y="284.5" font-size="24.2" font-weight="bold">S22</text>
<text x="379.2" y="259.4" font-size="24.5" font-weight="bold">49 Å</text>
<text x="646.5" y="39.5" font-size="27" font-weight="bold">ACE2 monomer</text>
<text x="646.5" y="129" font-size="27" font-weight="bold">TXA</text>
<text x="646.5" y="215.8" font-size="27" font-weight="bold">T<tspan font-size="19" font-weight="normal" stroke="#000" stroke-width="0.45" dy="-8">D</tspan><tspan dy="8" dx="-0.8">3A</tspan><tspan font-size="19" font-weight="normal" stroke="#000" stroke-width="0.45" dy="-8" dx="-0.5">D</tspan><tspan font-size="18.2" dy="11.8" dx="-1.5">H345F</tspan></text>
<text x="646.5" y="350.8" font-size="27" font-weight="bold">T<tspan font-size="19" font-weight="normal" stroke="#000" stroke-width="0.45" dy="-8">D</tspan><tspan dy="8" dx="-0.8">3A</tspan><tspan font-size="19" font-weight="normal" stroke="#000" stroke-width="0.45" dy="-8" dx="-0.5">D</tspan><tspan font-size="18.2" dy="11.8" dx="-1.5">R273Q</tspan></text>
<rect x="871.6" y="8.6" width="1126.4" height="41.8" fill="#E295BF" stroke="#13293D" stroke-width="3.2"/>
<rect x="871.6" y="8.6" width="30.4" height="41.8" fill="#ABABAB" stroke="#13293D" stroke-width="3.2"/>
<rect x="1676" y="8.6" width="8" height="41.8" fill="#C00000"/>
<line x1="1675" y1="8.6" x2="1675" y2="50.4" stroke="#13293D" stroke-width="3"/>
<line x1="1685.5" y1="8.6" x2="1685.5" y2="50.4" stroke="#13293D" stroke-width="3"/>
<rect x="1687" y="9.8" width="309.8" height="39.4" fill="#FFC000"/>
<text x="1292" y="39.8" font-size="23" fill="#fff" text-anchor="middle" textLength="369" lengthAdjust="spacingAndGlyphs">ACE2 Extracellular Domain (ACE2)</text>
<text x="1841.5" y="39.8" font-size="23" fill="#fff" text-anchor="middle" textLength="107.5" lengthAdjust="spacingAndGlyphs">Fc domain</text>
<rect x="871.6" y="96.6" width="926.9" height="42" fill="#E295BF" stroke="#13293D" stroke-width="3.2"/>
<rect x="871.6" y="96.6" width="30.4" height="42" fill="#ABABAB" stroke="#13293D" stroke-width="3.2"/>
<rect x="902" y="96.6" width="70" height="42" fill="#7030A0" stroke="#13293D" stroke-width="3.2"/>
<rect x="972" y="96.6" width="53" height="42.0" fill="url(#hatch)" stroke="#13293D" stroke-width="3.2"/>
<text x="937" y="128" font-size="23" fill="#fff" text-anchor="middle">TD</text>
<text x="1411" y="128" font-size="23" fill="#fff" text-anchor="middle">ACE2</text>
<rect x="871.6" y="184.6" width="882" height="42" fill="#E295BF" stroke="#13293D" stroke-width="3.2"/>
<rect x="871.6" y="184.6" width="30.4" height="42" fill="#ABABAB" stroke="#13293D" stroke-width="3.2"/>
<rect x="902" y="184.6" width="70" height="42" fill="#7030A0" stroke="#13293D" stroke-width="3.2"/>
<rect x="973.6" y="186.2" width="5.4" height="38.8" fill="#2FD2CF"/>
<line x1="980.4" y1="184.6" x2="980.4" y2="226.6" stroke="#13293D" stroke-width="2.6"/>
<text x="937" y="216" font-size="23" fill="#fff" text-anchor="middle">TD</text>
<text x="1367.5" y="216" font-size="23" fill="#fff" text-anchor="middle">ACE2</text>
<rect x="871.6" y="319.4" width="882" height="41.6" fill="#E295BF" stroke="#13293D" stroke-width="3.2"/>
<rect x="871.6" y="319.4" width="30.4" height="41.6" fill="#ABABAB" stroke="#13293D" stroke-width="3.2"/>
<rect x="902" y="319.4" width="70" height="41.6" fill="#7030A0" stroke="#13293D" stroke-width="3.2"/>
<rect x="973.6" y="321" width="5.4" height="38.4" fill="#2FD2CF"/>
<line x1="980.4" y1="319.4" x2="980.4" y2="361" stroke="#13293D" stroke-width="2.6"/>
<text x="937" y="350.4" font-size="23" fill="#fff" text-anchor="middle">TD</text>
<text x="1367.5" y="350.4" font-size="23" fill="#fff" text-anchor="middle">ACE2</text>
<path d="M936.6,238.0 L942.0,228.0 L947.4,238.0 Z" fill="#E8820F"/>
<line x1="942.0" y1="235.0" x2="942.0" y2="259.5" stroke="#E8820F" stroke-width="3.4" stroke-linecap="round"/>
<path d="M953.3000000000001,238.0 L958.7,228.0 L964.1,238.0 Z" fill="#E8820F"/>
<line x1="958.7" y1="235.0" x2="958.7" y2="259.5" stroke="#E8820F" stroke-width="3.4" stroke-linecap="round"/>
<path d="M1048.0,238.0 L1053.4,228.0 L1058.8000000000002,238.0 Z" fill="#E8820F"/>
<line x1="1053.4" y1="235.0" x2="1053.4" y2="259.5" stroke="#E8820F" stroke-width="3.4" stroke-linecap="round"/>
<path d="M936.6,372.8 L942.0,362.8 L947.4,372.8 Z" fill="#E8820F"/>
<line x1="942.0" y1="369.8" x2="942.0" y2="393.0" stroke="#E8820F" stroke-width="3.4" stroke-linecap="round"/>
<path d="M953.3000000000001,372.8 L958.7,362.8 L964.1,372.8 Z" fill="#E8820F"/>
<line x1="958.7" y1="369.8" x2="958.7" y2="393.0" stroke="#E8820F" stroke-width="3.4" stroke-linecap="round"/>
<path d="M1048.0,372.8 L1053.4,362.8 L1058.8000000000002,372.8 Z" fill="#E8820F"/>
<line x1="1053.4" y1="369.8" x2="1053.4" y2="393.0" stroke="#E8820F" stroke-width="3.4" stroke-linecap="round"/>
<path d="M1431.1,238.5 L1436.5,228.5 L1441.9,238.5 Z" fill="#E8820F"/>
<line x1="1436.5" y1="235.5" x2="1436.5" y2="259.5" stroke="#E8820F" stroke-width="3.4" stroke-linecap="round"/>
<path d="M1441.0,238.5 L1446.4,228.5 L1451.8000000000002,238.5 Z" fill="#FF0000"/>
<line x1="1446.4" y1="235.5" x2="1446.4" y2="259.5" stroke="#FF0000" stroke-width="3.4" stroke-linecap="round"/>
<path d="M1331.8999999999999,372.8 L1337.3,362.8 L1342.7,372.8 Z" fill="#FF0000"/>
<line x1="1337.3" y1="369.8" x2="1337.3" y2="393.0" stroke="#FF0000" stroke-width="3.4" stroke-linecap="round"/>
<path d="M1431.1,372.8 L1436.5,362.8 L1441.9,372.8 Z" fill="#E8820F"/>
<line x1="1436.5" y1="369.8" x2="1436.5" y2="393.0" stroke="#E8820F" stroke-width="3.4" stroke-linecap="round"/>
<text x="921.5" y="275" font-size="19.5" transform="rotate(33 921.5 275)">E31C</text>
<text x="952.5" y="275" font-size="19.5" transform="rotate(33 952.5 275)">V37C</text>
<text x="1039.5" y="275" font-size="19.5" transform="rotate(33 1039.5 275)">N51C</text>
<text x="921.5" y="409.8" font-size="19.5" transform="rotate(33 921.5 409.8)">E31C</text>
<text x="952.5" y="409.8" font-size="19.5" transform="rotate(33 952.5 409.8)">V37C</text>
<text x="1039.5" y="409.8" font-size="19.5" transform="rotate(33 1039.5 409.8)">N51C</text>
<text x="1410.5" y="272.5" font-size="19.5" transform="rotate(33 1410.5 272.5)">V343C</text>
<text x="1443" y="273" font-size="19.5" transform="rotate(33 1443 273)">H345F</text>
<text x="1315" y="407.5" font-size="19.5" transform="rotate(33 1315 407.5)">R273Q</text>
<text x="1410.5" y="406.5" font-size="19.5" transform="rotate(33 1410.5 406.5)">V343C</text>
<line x1="115" y1="536" x2="115" y2="745.1" stroke="#000" stroke-width="2.2"/>
<line x1="113.9" y1="744" x2="428.1" y2="744" stroke="#000" stroke-width="2.2"/>
<line x1="106.5" y1="744" x2="115" y2="744" stroke="#000" stroke-width="2.2"/>
<text x="103.5" y="749.9" font-size="16.5" font-weight="bold" text-anchor="end">0</text>
<line x1="106.5" y1="692.2" x2="115" y2="692.2" stroke="#000" stroke-width="2.2"/>
<text x="103.5" y="698.2" font-size="16.5" font-weight="bold" text-anchor="end">5</text>
<line x1="106.5" y1="640.5" x2="115" y2="640.5" stroke="#000" stroke-width="2.2"/>
<text x="103.5" y="646.4" font-size="16.5" font-weight="bold" text-anchor="end">10</text>
<line x1="106.5" y1="588.8" x2="115" y2="588.8" stroke="#000" stroke-width="2.2"/>
<text x="103.5" y="594.7" font-size="16.5" font-weight="bold" text-anchor="end">15</text>
<line x1="106.5" y1="537" x2="115" y2="537" stroke="#000" stroke-width="2.2"/>
<text x="103.5" y="542.9" font-size="16.5" font-weight="bold" text-anchor="end">20</text>
<line x1="115" y1="744" x2="115" y2="752.5" stroke="#000" stroke-width="2.2"/>
<text x="115" y="771.5" font-size="16.5" font-weight="bold" text-anchor="middle">0</text>
<line x1="193" y1="744" x2="193" y2="752.5" stroke="#000" stroke-width="2.2"/>
<text x="193" y="771.5" font-size="16.5" font-weight="bold" text-anchor="middle">200</text>
<line x1="271" y1="744" x2="271" y2="752.5" stroke="#000" stroke-width="2.2"/>
<text x="271" y="771.5" font-size="16.5" font-weight="bold" text-anchor="middle">400</text>
<line x1="349" y1="744" x2="349" y2="752.5" stroke="#000" stroke-width="2.2"/>
<text x="349" y="771.5" font-size="16.5" font-weight="bold" text-anchor="middle">600</text>
<line x1="427" y1="744" x2="427" y2="752.5" stroke="#000" stroke-width="2.2"/>
<text x="427" y="771.5" font-size="16.5" font-weight="bold" text-anchor="middle">800</text>
<text x="269" y="800.3" font-size="19.8" text-anchor="middle">Time (s)</text>
<text x="74.3" y="645" font-size="19.8" text-anchor="middle" transform="rotate(-90 74.3 645)">Response  (RU)</text>
<path d="M115 744l1.4-7.2 1.4-6.8 1.4-6.5 1.4-6.2 1.4-5.8 1.4-5.6 3-10.7 2.9-9.6 2.9-8.6 3-7.8 2.9-6.9 3-6.2 2.9-5.6 3-5 2.9-4.5 2.9-4 3-3.6 2.9-3.3 3-2.9 2.9-2.6 2.9-2.3 3-2.1 2.9-1.9 3-1.7 2.9-1.5 3-1.3 2.9-1.2" fill="none" stroke="#000" stroke-width="1.1" stroke-linejoin="round"/>
<path d="M185.2 623.9l1.4 2.5 1.4 2.4 1.5 2.4 1.4 2.3 1.4 2.2 1.4 2.3 1.4 2.1 1.4 2.2 1.5 2 1.4 2.1 1.4 2 3.9 5.2 6.6 8.3 6.6 7.4 6.6 6.8 6.6 6.2 6.5 5.5 6.6 5.1 6.6 4.6 6.6 4.1 6.6 3.8 6.6 3.4 6.6 3.1 6.6 2.8 6.6 2.5 6.6 2.3 6.5 2.1 6.6 1.9 6.6 1.7 6.6 1.6 6.6 1.4 6.6 1.3 6.6 1.1 6.6 1.1 6.6 .9 6.6 .9 6.5 .8 6.6 .7 6.6 .6 6.6 .6 6.6 .6" fill="none" stroke="#000" stroke-width="1.1" stroke-linejoin="round"/>
<path d="M115 744l1.4-2.4 1.4-2.4 1.4-2.2 1.4-2.3 1.4-2.1 1.4-2.2 3-4.2 2.9-4.1 2.9-3.8 3-3.6 2.9-3.4 3-3.3 2.9-3 3-2.9 2.9-2.8 2.9-2.6 3-2.5 2.9-2.3 3-2.2 2.9-2.1 2.9-2 3-1.9 2.9-1.8 3-1.7 2.9-1.6 3-1.5 2.9-1.4" fill="none" stroke="#000" stroke-width="1.1" stroke-linejoin="round"/>
<path d="M185.2 681.9l1.4 1.2 1.4 1.2 1.5 1.2 1.4 1.1 1.4 1.1 1.4 1.1 1.4 1.1 1.4 1.1 1.5 1 1.4 1 1.4 1 3.9 2.6 6.6 4.1 6.6 3.7 6.6 3.4 6.6 3 6.5 2.8 6.6 2.5 6.6 2.2 6.6 2.1 6.6 1.8 6.6 1.7 6.6 1.6 6.6 1.3 6.6 1.3 6.6 1.2 6.5 1 6.6 .9 6.6 .9 6.6 .7 6.6 .7 6.6 .7 6.6 .6 6.6 .5 6.6 .4 6.6 .5 6.5 .4 6.6 .3 6.6 .3 6.6 .3 6.6 .3" fill="none" stroke="#000" stroke-width="1.1" stroke-linejoin="round"/>
<path d="M115 744l1.4-.8 1.4-.9 1.4-.8 1.4-.8 1.4-.7 1.4-.8 3-1.6 2.9-1.5 2.9-1.5 3-1.4 2.9-1.4 3-1.3 2.9-1.3 3-1.3 2.9-1.2 2.9-1.1 3-1.2 2.9-1.1 3-1 2.9-1 2.9-1 3-1 2.9-.9 3-.9 2.9-.8 3-.9 2.9-.8" fill="none" stroke="#000" stroke-width="1.1" stroke-linejoin="round"/>
<path d="M185.2 718.1l1.4 .5 1.4 .5 1.5 .5 1.4 .5 1.4 .5 1.4 .4 1.4 .5 1.4 .4 1.5 .5 1.4 .4 1.4 .4 3.9 1.1 6.6 1.7 6.6 1.5 6.6 1.4 6.6 1.2 6.5 1.1 6.6 1.1 6.6 .9 6.6 .8 6.6 .8 6.6 .7 6.6 .6 6.6 .5 6.6 .5 6.6 .5 6.5 .4 6.6 .4 6.6 .3 6.6 .3 6.6 .3 6.6 .2 6.6 .2 6.6 .2 6.6 .2 6.6 .2 6.5 .1 6.6 .2 6.6 .1 6.6 .1 6.6 .1" fill="none" stroke="#000" stroke-width="1.1" stroke-linejoin="round"/>
<path d="M115 744l1.4-.2 1.4-.3 1.4-.2 1.4-.2 1.4-.3 1.4-.2 3-.4 2.9-.5 2.9-.4 3-.5 2.9-.4 3-.4 2.9-.4 3-.4 2.9-.4 2.9-.4 3-.4 2.9-.3 3-.4 2.9-.3 2.9-.4 3-.3 2.9-.4 3-.3 2.9-.3 3-.3 2.9-.3" fill="none" stroke="#000" stroke-width="1.1" stroke-linejoin="round"/>
<path d="M185.2 735.2l1.4 .2 1.4 .1 1.5 .2 1.4 .1 1.4 .2 1.4 .1 1.4 .2 1.4 .1 1.5 .1 1.4 .2 1.4 .1 3.9 .4 6.6 .5 6.6 .5 6.6 .4 6.6 .4 6.5 .4 6.6 .3 6.6 .3 6.6 .3 6.6 .2 6.6 .2 6.6 .2 6.6 .2 6.6 .1 6.6 .2 6.5 .1 6.6 .1 6.6 .1 6.6 .1 6.6 .1 6.6 .1 6.6 .1 6.6 0 6.6 .1 6.6 .1 6.5 0 6.6 0 6.6 .1 6.6 0 6.6 0" fill="none" stroke="#000" stroke-width="1.1" stroke-linejoin="round"/>
<path d="M115 744l1.4 0 1.4-.1 1.4 0 1.4-.1 1.4 0 1.4 0 3-.1 2.9-.1 2.9-.1 3 0 2.9-.1 3-.1 2.9 0 3-.1 2.9-.1 2.9 0 3-.1 2.9-.1 3 0 2.9-.1 2.9 0 3-.1 2.9 0 3-.1 2.9-.1 3 0 2.9-.1" fill="none" stroke="#000" stroke-width="1.1" stroke-linejoin="round"/>
<path d="M185.2 742.4l1.4 .1 1.4 0 1.5 0 1.4 0 1.4 0 1.4 .1 1.4 0 1.4 0 1.5 0 1.4 0 1.4 0 3.9 .1 6.6 .1 6.6 0 6.6 .1 6.6 0 6.5 .1 6.6 0 6.6 .1 6.6 0 6.6 .1 6.6 0 6.6 0 6.6 0 6.6 .1 6.6 0 6.5 0 6.6 0 6.6 .1 6.6 0 6.6 0 6.6 0 6.6 0 6.6 0 6.6 0 6.6 0 6.5 .1 6.6 0 6.6 0 6.6 0 6.6 0" fill="none" stroke="#000" stroke-width="1.1" stroke-linejoin="round"/>
<path d="M115 744l2.1-11.9 2-10.9 2.1-10 2.1-9.2 2-8.7 2.1-7.9 2.1-7 2-6.8 2.1-6 2-5.2 2.1-4.9 2.1-4.7 2-4.2 2.1-3.5 2.1-3.4 2-3.1 2.1-2.7 2.1-2.2 2-2.7 2.1-2.1 2.1-2.4 2-2.2 2.1-2 2.1-1.2 2-1.6 2.1-1.2 2-1.2 2.1-.9 2.1-1.4 2-.8 2.1-.8 2.1-.9 2-1 2.1-.8" fill="none" stroke="#7E2A82" stroke-width="1.15" stroke-linejoin="round"/>
<path d="M185.2 609.4l2 4.3 2.1 3.9 2 3.7 2 3.7 2 4 2.1 3.3 2 3.1 2 3.6 2 3 2.1 2.7 2 3.1 2 2.7 2 2.3 2.1 3.1 2 2.5 2 2.3 2 2.8 2.1 2.3 2 2 2 2.1 2 1.9 2.1 2.1 2 2.1 2 1.9 2 2 2.1 2.2 2 1.7 2 1.7 2 1.4 2.1 1.3 2 1.5 2 1.5 2 1.3 2.1 1.8 2 1.6 2 1.1 2 .8 2.1 1.2 2 .8 2 1.1 2 1.1 2.1 1 2 1.2 2 .9 2 .8 2.1 .9 2 1.2 2 1 2 .7 2.1 1 2 .5 2 .6 2 .5 2.1 .5 2 .7 2 .6 2 .8 2.1 .5 2 .9 2 .4 2 1.1 2 .9 2.1 .7 2 .4 2 .5 2-.3 2.1 .2 2 .5 2 .2 2 .4 2.1 .8 2 .3 2 .1 2 .3 2.1 .6 2 .3 2 .3 2 .6 2.1 .3 2 .3 2 .1 2 .2 2.1 .1 2 .4 2 .1 2 .8 2.1 .4 2 .2 2 .5 2 0 2.1 .2 2-.2 2 .4 2-.3 2.1 .3 2 .1 2 .1 2-.3 2.1 .3 2 .2 2-.1 2 .6 2.1 .4 2 .1" fill="none" stroke="#7E2A82" stroke-width="1.15" stroke-linejoin="round"/>
<path d="M115 743.9l2.1-3.5 2-3.4 2.1-3 2.1-3.5 2-3.1 2.1-3.3 2.1-2.9 2-2.9 2.1-2.3 2-2.5 2.1-2.3 2.1-2.2 2-2.3 2.1-2 2.1-2 2-2.3 2.1-1.8 2.1-1.7 2-2 2.1-2 2.1-1.2 2-1.6 2.1-1.5 2.1-1.1 2-1.3 2.1-1.5 2-1.3 2.1-1.2 2.1-1.5 2-.9 2.1-1 2.1-.9 2-1.1 2.1-.8" fill="none" stroke="#4D4D4D" stroke-width="1.15" stroke-linejoin="round"/>
<path d="M185.2 680.9l2 1.7 2.1 1.8 2 1.5 2 1.9 2 1.4 2.1 1.6 2 1.5 2 1.3 2 1.1 2.1 1.4 2 1.1 2 1.4 2 1.4 2.1 1.2 2 1.1 2 1.2 2 .9 2.1 .7 2 1 2 1 2 1 2.1 .8 2 1.2 2 .9 2 .9 2.1 .6 2 .7 2 .3 2 1.1 2.1 1 2 .7 2 1.2 2 .9 2.1 .3 2 .6 2 1 2 .4 2.1 .6 2 .7 2 .2 2 .3 2.1 .8 2 .5 2 .6 2 .7 2.1 .2 2 .2 2 .4 2 .4 2.1 .2 2 .6 2 .5 2 .4 2.1 .3 2 .1 2 .1 2-.1 2.1 .5 2 .1 2 .3 2 .4 2 .8 2.1 .1 2 .2 2 .3 2 .2 2.1 0 2 0 2 .3 2 .6 2.1 .3 2 .5 2 .9 2 .2 2.1-.4 2 .1 2 0 2-.2 2.1-.1 2 .4 2 .1 2 0 2.1-.1 2 .2 2 .1 2 .1 2.1 .3 2 0 2 .4 2 0 2.1 .3 2 0 2 .2 2 .2 2.1 0 2-.4 2 .2 2-.1 2.1-.2 2 .8 2 .3 2 0 2.1 .2 2 .1" fill="none" stroke="#4D4D4D" stroke-width="1.15" stroke-linejoin="round"/>
<path d="M115 744.2l2.1-1.3 2-1.4 2.1-1.2 2.1-1.3 2-1.4 2.1-1.1 2.1-.9 2-.8 2.1-1.2 2-1 2.1-1.2 2.1-1.1 2-1.2 2.1-.8 2.1-.7 2-.8 2.1-.8 2.1-1 2-.9 2.1-.8 2.1-.8 2-.6 2.1-.8 2.1-.7 2-.8 2.1-.7 2-.6 2.1-.5 2.1-.7 2-.6 2.1-.6 2.1-.7 2-.6 2.1-.5" fill="none" stroke="#FF8A1F" stroke-width="1.15" stroke-linejoin="round"/>
<path d="M185.2 715.3l2 .9 2.1 .6 2 .9 2 .4 2 .5 2.1 .6 2 .8 2 .5 2 .7 2.1 1 2 .5 2 .2 2 .6 2.1 .5 2 .5 2 .6 2 .9 2.1 .6 2 .2 2 .4 2 .4 2.1 0 2 .2 2 .5 2 0 2.1 .5 2 .7 2 .5 2 .4 2.1 .4 2 .2 2 .3 2 .2 2.1 .4 2 .4 2 .5 2 .1 2.1 0 2 .3 2 .2 2 .2 2.1 .3 2 .2 2-.1 2 .1 2.1 .2 2 .4 2 .2 2 .7 2.1 .5 2 0 2-.2 2 .3 2.1 .1 2 0 2 .4 2 .1 2.1-.2 2-.1 2 .2 2 .1 2 .3 2.1 .4 2 .3 2 0 2 .1 2.1-.1 2 0 2-.2 2 .1 2.1-.1 2 .2 2 .3 2 .3 2.1 .2 2 .3 2 0 2 0 2.1 0 2-.2 2 .1 2 .3 2.1 0 2 0 2 .3 2-.4 2.1 0 2 .2 2 .2 2-.1 2.1 .1 2 .4 2-.3 2-.2 2.1 0 2 .1 2-.1 2 .3 2.1-.2 2 .2 2-.2 2 .1 2.1-.1 2 .4" fill="none" stroke="#FF8A1F" stroke-width="1.15" stroke-linejoin="round"/>
<path d="M115 744.3l2.1-.5 2-.2 2.1-.5 2.1-.6 2-.3 2.1-.1 2.1-.5 2-.1 2.1-.2 2-.4 2.1-.3 2.1-.3 2-.1 2.1-.4 2.1-.5 2-.1 2.1-.5 2.1-.3 2-.2 2.1-.3 2.1-.4 2-.4 2.1-.3 2.1-.4 2-.1 2.1-.3 2-.1 2.1-.3 2.1-.3 2-.2 2.1-.2 2.1-.2 2-.2 2.1-.2" fill="none" stroke="#2DC92D" stroke-width="1.15" stroke-linejoin="round"/>
<path d="M185.2 734.2l2 .2 2.1 .4 2 .1 2 .5 2 .3 2.1 .2 2-.2 2 .5 2 .2 2.1 0 2 .3 2 .3 2 0 2.1 .1 2 0 2 .1 2 .1 2.1 .2 2 .2 2 .4 2-.2 2.1 .2 2 0 2-.1 2-.1 2.1 .3 2-.2 2 .3 2 .3 2.1 .3 2 .3 2 .2 2-.1 2.1 0 2 .1 2 0 2 0 2.1 .6 2-.2 2 .1 2-.2 2.1 .5 2-.3 2 .3 2 .1 2.1 0 2-.2 2 .1 2 0 2.1 .1 2 .3 2 .2 2 0 2.1 0 2-.1 2 0 2 .1 2.1-.2 2-.2 2-.1 2 .2 2 0 2.1 .3 2 .4 2 .1 2 0 2.1 0 2-.1 2-.1 2 .1 2.1 0 2 .2 2 .1 2 .1 2.1 0 2-.1 2 .1 2 0 2.1 .1 2 .2 2 .1 2 .1 2.1 0 2-.2 2 0 2 0 2.1-.2 2 .2 2 .1 2 0 2.1 0 2 .1 2-.1 2-.1 2.1 0 2 .1 2-.2 2 .2 2.1 0 2 0 2-.1 2 0 2.1-.2 2 .1" fill="none" stroke="#2DC92D" stroke-width="1.15" stroke-linejoin="round"/>
<path d="M115 744l2.1-.2 2-.2 2.1 0 2.1-.2 2-.3 2.1-.2 2.1-.1 2-.2 2.1-.1 2 0 2.1 .3 2.1-.1 2-.1 2.1 .1 2.1 0 2-.7 2.1 0 2.1-.3 2-.6 2.1-.4 2.1 .1 2-.2 2.1 .1 2.1 .3 2 0 2.1-.2 2-.1 2.1-.4 2.1-.1 2 0 2.1-.2 2.1-.2 2 .1 2.1-.2" fill="none" stroke="#2F2FFF" stroke-width="1.15" stroke-linejoin="round"/>
<path d="M185.2 739.7l2 0 2.1 .2 2 .5 2 0 2 0 2.1 .1 2 .2 2-.1 2 .2 2.1 .2 2 .4 2-.2 2-.1 2.1-.1 2 .1 2-.3 2-.1 2.1 .6 2 .1 2-.1 2-.1 2.1-.1 2-.4 2-.1 2 .1 2.1 0 2 .4 2 .2 2 0 2.1-.2 2 .1 2 0 2 0 2.1 0 2 .3 2-.2 2 .2 2.1 .1 2 .2 2-.1 2 .1 2.1 .1 2 .1 2 0 2 .2 2.1 .4 2-.3 2-.2 2 0 2.1 0 2-.3 2 .2 2-.1 2.1 .3 2 0 2 .2 2 .1 2.1 0 2-.1 2 0 2 .1 2-.1 2.1 0 2 .2 2-.1 2-.1 2.1-.4 2-.1 2-.1 2 0 2.1-.1 2 .4 2 .4 2 0 2.1 0 2 .3 2 .3 2 0 2.1 0 2 .2 2-.1 2-.3 2.1-.2 2 .1 2-.1 2 .1 2.1 .1 2 .2 2-.2 2 .1 2.1 0 2 0 2-.1 2 .1 2.1 .2 2 0 2 0 2-.3 2.1 0 2-.2 2-.3 2-.3 2.1 .4 2 .1" fill="none" stroke="#2F2FFF" stroke-width="1.15" stroke-linejoin="round"/>
<line x1="185.2" y1="625" x2="185.2" y2="590.8" stroke="#7E2A82" stroke-width="1.3"/>
<line x1="185.2" y1="692.2" x2="185.2" y2="657.1" stroke="#4D4D4D" stroke-width="1.3"/>
<line x1="185.2" y1="718.1" x2="185.2" y2="698.5" stroke="#FF8A1F" stroke-width="1.3"/>
<line x1="185.2" y1="744" x2="185.2" y2="723.3" stroke="#2F2FFF" stroke-width="1.3"/>
<line x1="115.4" y1="744" x2="115.4" y2="726.4" stroke="#2F2FFF" stroke-width="1.6"/>
<text x="277.7" y="539.6" font-size="27.3" font-weight="bold" text-anchor="middle">ACE2 monomer</text>
<text x="223.8" y="573.8" font-size="23.2" textLength="173.7" lengthAdjust="spacingAndGlyphs">K<tspan font-size="16.7">D</tspan> = 49 ± 19 nM</text>
<line x1="557.2" y1="535.5" x2="557.2" y2="744.9" stroke="#000" stroke-width="2.2"/>
<line x1="556.1" y1="743.8" x2="870.1" y2="743.8" stroke="#000" stroke-width="2.2"/>
<line x1="548.7" y1="743.8" x2="557.2" y2="743.8" stroke="#000" stroke-width="2.2"/>
<text x="545.7" y="749.7" font-size="16.5" font-weight="bold" text-anchor="end">0</text>
<line x1="548.7" y1="692" x2="557.2" y2="692" stroke="#000" stroke-width="2.2"/>
<text x="545.7" y="697.9" font-size="16.5" font-weight="bold" text-anchor="end">5</text>
<line x1="548.7" y1="640.1" x2="557.2" y2="640.1" stroke="#000" stroke-width="2.2"/>
<text x="545.7" y="646.1" font-size="16.5" font-weight="bold" text-anchor="end">10</text>
<line x1="548.7" y1="588.3" x2="557.2" y2="588.3" stroke="#000" stroke-width="2.2"/>
<text x="545.7" y="594.3" font-size="16.5" font-weight="bold" text-anchor="end">15</text>
<line x1="548.7" y1="536.5" x2="557.2" y2="536.5" stroke="#000" stroke-width="2.2"/>
<text x="545.7" y="542.4" font-size="16.5" font-weight="bold" text-anchor="end">20</text>
<line x1="557.2" y1="743.8" x2="557.2" y2="752.3" stroke="#000" stroke-width="2.2"/>
<text x="557.2" y="771.3" font-size="16.5" font-weight="bold" text-anchor="middle">0</text>
<line x1="635.2" y1="743.8" x2="635.2" y2="752.3" stroke="#000" stroke-width="2.2"/>
<text x="635.2" y="771.3" font-size="16.5" font-weight="bold" text-anchor="middle">200</text>
<line x1="713.1" y1="743.8" x2="713.1" y2="752.3" stroke="#000" stroke-width="2.2"/>
<text x="713.1" y="771.3" font-size="16.5" font-weight="bold" text-anchor="middle">400</text>
<line x1="791" y1="743.8" x2="791" y2="752.3" stroke="#000" stroke-width="2.2"/>
<text x="791" y="771.3" font-size="16.5" font-weight="bold" text-anchor="middle">600</text>
<line x1="869" y1="743.8" x2="869" y2="752.3" stroke="#000" stroke-width="2.2"/>
<text x="869" y="771.3" font-size="16.5" font-weight="bold" text-anchor="middle">800</text>
<text x="711.1" y="800.1" font-size="19.8" text-anchor="middle">Time (s)</text>
<text x="516.5" y="644.6" font-size="19.8" text-anchor="middle" transform="rotate(-90 516.5 644.6)">Response  (RU)</text>
<path d="M557.2 743.8l1.4-7.9 1.4-7.5 1.4-7.1 1.4-6.8 1.4-6.4 1.4-6.2 3-11.8 2.9-10.8 2.9-9.6 3-8.7 2.9-7.8 3-7.1 2.9-6.3 2.9-5.7 3-5.2 2.9-4.6 3-4.2 2.9-3.7 2.9-3.4 3-3.1 2.9-2.7 3-2.5 2.9-2.2 2.9-2 3-1.8 2.9-1.7 3-1.4" fill="none" stroke="#000" stroke-width="1.1" stroke-linejoin="round"/>
<path d="M627.4 595.6l1.4 .1 1.4 0 1.4 .1 1.4 .1 1.4 0 1.5 .1 1.4 .1 1.4 .1 1.4 0 1.4 .1 1.4 .1 3.9 .1 6.6 .4 6.6 .3 6.6 .3 6.6 .3 6.6 .3 6.6 .3 6.5 .3 6.6 .2 6.6 .3 6.6 .3 6.6 .3 6.6 .2 6.6 .3 6.5 .2 6.6 .3 6.6 .2 6.6 .3 6.6 .2 6.6 .2 6.6 .3 6.5 .2 6.6 .2 6.6 .2 6.6 .3 6.6 .2 6.6 .2 6.5 .2 6.6 .2 6.6 .2" fill="none" stroke="#000" stroke-width="1.1" stroke-linejoin="round"/>
<path d="M557.2 743.8l1.4-2.2 1.4-2.2 1.4-2.1 1.4-2.1 1.4-2.1 1.4-2 3-4.2 2.9-4.1 2.9-3.9 3-3.7 2.9-3.7 3-3.5 2.9-3.4 2.9-3.3 3-3.2 2.9-3.1 3-3 2.9-2.9 2.9-2.7 3-2.7 2.9-2.7 3-2.5 2.9-2.4 2.9-2.4 3-2.3 2.9-2.2 3-2.1" fill="none" stroke="#000" stroke-width="1.1" stroke-linejoin="round"/>
<path d="M627.4 667.1l1.4 0 1.4 .1 1.4 0 1.4 0 1.4 0 1.5 .1 1.4 0 1.4 0 1.4 0 1.4 .1 1.4 0 3.9 .1 6.6 .1 6.6 .1 6.6 .1 6.6 .1 6.6 .1 6.6 .1 6.5 .2 6.6 .1 6.6 .1 6.6 .1 6.6 .1 6.6 .1 6.6 .1 6.5 .1 6.6 0 6.6 .1 6.6 .1 6.6 .1 6.6 .1 6.6 .1 6.5 .1 6.6 .1 6.6 0 6.6 .1 6.6 .1 6.6 .1 6.5 .1 6.6 0 6.6 .1" fill="none" stroke="#000" stroke-width="1.1" stroke-linejoin="round"/>
<path d="M557.2 743.8l1.4-.8 1.4-.7 1.4-.8 1.4-.7 1.4-.8 1.4-.7 3-1.5 2.9-1.5 2.9-1.5 3-1.4 2.9-1.4 3-1.4 2.9-1.3 2.9-1.3 3-1.3 2.9-1.3 3-1.2 2.9-1.2 2.9-1.2 3-1.1 2.9-1.2 3-1.1 2.9-1.1 2.9-1 3-1.1 2.9-1 3-1" fill="none" stroke="#000" stroke-width="1.1" stroke-linejoin="round"/>
<path d="M627.4 713.7l1.4 .1 1.4 0 1.4 0 1.4 0 1.4 0 1.5 0 1.4 0 1.4 0 1.4 0 1.4 0 1.4 0 3.9 .1 6.6 0 6.6 0 6.6 .1 6.6 0 6.6 .1 6.6 0 6.5 0 6.6 .1 6.6 0 6.6 0 6.6 .1 6.6 0 6.6 0 6.5 .1 6.6 0 6.6 0 6.6 .1 6.6 0 6.6 0 6.6 0 6.5 .1 6.6 0 6.6 0 6.6 .1 6.6 0 6.6 0 6.5 0 6.6 .1 6.6 0" fill="none" stroke="#000" stroke-width="1.1" stroke-linejoin="round"/>
<path d="M557.2 743.8l1.4-.2 1.4-.2 1.4-.3 1.4-.2 1.4-.2 1.4-.2 3-.5 2.9-.4 2.9-.4 3-.5 2.9-.4 3-.4 2.9-.4 2.9-.4 3-.4 2.9-.4 3-.4 2.9-.3 2.9-.4 3-.4 2.9-.3 3-.4 2.9-.3 2.9-.4 3-.3 2.9-.3 3-.3" fill="none" stroke="#000" stroke-width="1.1" stroke-linejoin="round"/>
<path d="M627.4 734.5l1.4 0 1.4 0 1.4 0 1.4 0 1.4 0 1.5 0 1.4 0 1.4 0 1.4 0 1.4 0 1.4 0 3.9 0 6.6 .1 6.6 0 6.6 0 6.6 0 6.6 0 6.6 0 6.5 .1 6.6 0 6.6 0 6.6 0 6.6 0 6.6 0 6.6 .1 6.5 0 6.6 0 6.6 0 6.6 0 6.6 0 6.6 .1 6.6 0 6.5 0 6.6 0 6.6 0 6.6 0 6.6 0 6.6 .1 6.5 0 6.6 0 6.6 0" fill="none" stroke="#000" stroke-width="1.1" stroke-linejoin="round"/>
<path d="M557.2 743.8l1.4-.1 1.4 0 1.4-.1 1.4 0 1.4-.1 1.4-.1 3-.1 2.9-.1 2.9-.1 3-.1 2.9-.1 3-.2 2.9-.1 2.9-.1 3-.1 2.9-.1 3-.1 2.9-.1 2.9-.1 3-.1 2.9-.1 3-.1 2.9-.1 2.9-.1 3-.1 2.9-.1 3-.1" fill="none" stroke="#000" stroke-width="1.1" stroke-linejoin="round"/>
<path d="M627.4 741.2l1.4 0 1.4 0 1.4 0 1.4 0 1.4 0 1.5 0 1.4 0 1.4 0 1.4 0 1.4 0 1.4 0 3.9 0 6.6 0 6.6 0 6.6 0 6.6 0 6.6 0 6.6 0 6.5 0 6.6 0 6.6 0 6.6 0 6.6 0 6.6 0 6.6 0 6.5 0 6.6 0 6.6 0 6.6 0 6.6 0 6.6 0 6.6 0 6.5 0 6.6 0 6.6 0 6.6 0 6.6 0 6.6 0 6.5 0 6.6 0 6.6 0" fill="none" stroke="#000" stroke-width="1.1" stroke-linejoin="round"/>
<path d="M557.2 743.7l2.1-11.4 2-10.6 2.1-9.7 2.1-9.6 2-8.5 2.1-8 2-7.3 2.1-6.6 2.1-6.2 2-5.6 2.1-5.6 2.1-5.1 2-5.2 2.1-4.1 2.1-4.3 2-3.6 2.1-3.5 2-3.3 2.1-3.5 2.1-2.4 2-3.1 2.1-2.7 2.1-2.7 2-2.6 2.1-2.5 2-1.4 2.1-1.6 2.1-1.2 2-1.1 2.1-1.5 2.1-1.3 2-1.5 2.1-1.4 2.1-1.2" fill="none" stroke="#7E2A82" stroke-width="1.15" stroke-linejoin="round"/>
<path d="M627.4 593.7l2 .2 2 .2 2-.1 2 .3 2.1 .4 2 .1 2-.2 2-.4 2.1-.2 2-.3 2 .2 2 .2 2.1 .5 2 .4 2 .3 2 0 2.1 .4 2 .2 2 .3 2 .1 2.1-.3 2 .1 2 .1 2-.2 2-.1 2.1 .8 2 .1 2-.1 2 .2 2.1 .2 2-.4 2 .2 2 .3 2.1 .2 2-.1 2 .7 2 .1 2.1 .3 2-.2 2 .3 2-.5 2.1 .3 2-.2 2 .3 2 .4 2 .2 2.1 0 2 .6 2 .1 2 .3 2.1 .3 2-.1 2-.4 2-.2 2.1-.2 2 .3 2 .3 2 .3 2.1 .6 2 0 2-.1 2 .3 2-.2 2.1-.1 2 .1 2 0 2-.4 2.1 .2 2-.1 2 0 2 .1 2.1 .1 2 .4 2 .3 2 .2 2.1 .1 2 .4 2-.4 2 0 2.1 .3 2 .4 2-.1 2 .4 2 .2 2.1-.1 2-.1 2-.1 2 .2 2.1-.1 2 0 2-.5 2 .3 2.1 0 2 .3 2 .1 2 .7 2.1 0 2 0 2 .1 2 .4 2 0 2.1 .3 2 .1 2-.1" fill="none" stroke="#7E2A82" stroke-width="1.15" stroke-linejoin="round"/>
<path d="M557.2 744.1l2.1-3.3 2-3 2.1-3.3 2.1-3.3 2-3.1 2.1-3 2-3 2.1-3 2.1-2.5 2-2.5 2.1-2.5 2.1-2.9 2-2.5 2.1-2.7 2.1-2.5 2-2.6 2.1-2 2-2.1 2.1-2.4 2.1-2.3 2-1.9 2.1-2.1 2.1-2.1 2-1.7 2.1-1.7 2-1.6 2.1-1.8 2.1-1.7 2-1.6 2.1-1.9 2.1-2 2-1.8 2.1-1.6 2.1-1.5" fill="none" stroke="#4D4D4D" stroke-width="1.15" stroke-linejoin="round"/>
<path d="M627.4 665.8l2-.1 2 0 2-.1 2-.1 2.1 .5 2 .2 2 0 2 0 2.1 .4 2-.2 2 .1 2 .1 2.1 .2 2 .1 2 .1 2-.1 2.1 .2 2 .1 2-.3 2 .3 2.1 .1 2 .1 2-.2 2-.2 2-.5 2.1 .1 2-.2 2 .2 2 .4 2.1 .1 2 .2 2 0 2 .1 2.1-.2 2 .3 2-.1 2 .2 2.1-.1 2 .3 2 0 2 0 2.1 .4 2 0 2 0 2 .1 2-.1 2.1-.4 2 .2 2 .3 2 .1 2.1-.2 2 .5 2-.3 2 .1 2.1 .2 2 0 2-.2 2 .4 2.1 0 2-.2 2 0 2 .1 2-.2 2.1-.2 2 .3 2 .2 2 0 2.1 .1 2 .3 2-.1 2 .1 2.1 .1 2 0 2-.2 2 0 2.1-.1 2-.2 2-.2 2-.1 2.1 .2 2 0 2 .3 2-.2 2 .2 2.1 .2 2 .3 2-.1 2 .2 2.1 .2 2-.3 2-.2 2 0 2.1 .2 2 0 2 .4 2 0 2.1 .3 2-.2 2 .3 2-.2 2 0 2.1 .1 2 .1 2 0" fill="none" stroke="#4D4D4D" stroke-width="1.15" stroke-linejoin="round"/>
<path d="M557.2 744.2l2.1-1.3 2-1.4 2.1-1.3 2.1-1.6 2-1.2 2.1-1 2-1.1 2.1-1.3 2.1-.8 2-1.1 2.1-1 2.1-1 2-.7 2.1-1.3 2.1-.9 2-1.1 2.1-.8 2-1.2 2.1-.8 2.1-1 2-1.1 2.1-1.1 2.1-1.2 2-.9 2.1-.8 2-.5 2.1-.9 2.1-.5 2-.7 2.1-.9 2.1-.5 2-.7 2.1-.7 2.1-.8" fill="none" stroke="#FF8A1F" stroke-width="1.15" stroke-linejoin="round"/>
<path d="M627.4 712.1l2 .1 2 .1 2-.4 2 .4 2.1 .2 2 .1 2 .3 2 .2 2.1-.4 2-.1 2-.2 2-.1 2.1-.2 2 .4 2-.1 2 0 2.1-.5 2 .1 2 0 2 .1 2.1 .1 2 .3 2 0 2 0 2-.4 2.1 .5 2 0 2 0 2 .1 2.1 .4 2-.2 2 .2 2 .2 2.1-.4 2-.3 2 .1 2 0 2.1 .1 2 .3 2 .3 2 0 2.1-.3 2-.1 2 .2 2 .1 2 .2 2.1 .2 2 .6 2-.2 2 0 2.1-.3 2-.4 2-.5 2 .3 2.1-.2 2-.1 2 .5 2 .3 2.1-.1 2 .4 2 0 2 .3 2 0 2.1 .1 2-.2 2 .2 2-.4 2.1-.1 2-.2 2 .4 2 0 2.1 .2 2 0 2 .1 2-.1 2.1 .1 2-.2 2 0 2 .2 2.1-.5 2-.4 2 .3 2 .1 2-.5 2.1 .2 2 .4 2-.2 2 .2 2.1 .4 2 .3 2-.1 2 .1 2.1 0 2 .1 2 0 2 .3 2.1 0 2-.3 2-.2 2 0 2-.2 2.1 0 2 .2 2 0" fill="none" stroke="#FF8A1F" stroke-width="1.15" stroke-linejoin="round"/>
<path d="M557.2 743.7l2.1-.1 2-.6 2.1-.4 2.1-.3 2-.1 2.1-.5 2-.1 2.1-.2 2.1-.7 2-.2 2.1-.1 2.1-.2 2-.1 2.1-.1 2.1-.6 2-.8 2.1-.2 2-.5 2.1-.6 2.1-.2 2-.2 2.1-.7 2.1-.7 2-.3 2.1-.2 2-.3 2.1-.2 2.1 .2 2 .1 2.1-.2 2.1-.1 2-.1 2.1-.4 2.1-.4" fill="none" stroke="#2DC92D" stroke-width="1.15" stroke-linejoin="round"/>
<path d="M627.4 733.7l2 0 2 .1 2-.1 2 .3 2.1-.1 2 .2 2 .2 2 .3 2.1 .1 2-.1 2 0 2-.1 2.1-.2 2 0 2 .2 2-.1 2.1 .2 2 .2 2-.1 2 .2 2.1 .1 2-.4 2-.1 2 .4 2-.3 2.1 0 2 .1 2 .2 2-.1 2.1 .2 2 .1 2-.1 2-.4 2.1-.1 2 0 2-.3 2-.1 2.1-.1 2 0 2-.1 2 .2 2.1 .1 2 .4 2 .2 2 .1 2 0 2.1 .5 2-.1 2 .1 2-.3 2.1-.2 2-.2 2-.1 2 .1 2.1 .1 2 .2 2-.1 2-.2 2.1-.2 2 .4 2 .1 2 .3 2 .5 2.1-.2 2-.3 2 .2 2-.4 2.1-.3 2 .2 2 .2 2-.2 2.1 .1 2 .1 2-.2 2-.3 2.1-.3 2-.1 2 0 2 .4 2.1 .3 2 .1 2 .3 2 0 2-.2 2.1 .2 2-.2 2-.2 2 .2 2.1-.2 2-.3 2 .1 2 .6 2.1 .1 2 .2 2 .4 2 0 2.1-.6 2 0 2 .1 2-.4 2 .1 2.1 .4 2-.1 2-.1" fill="none" stroke="#2DC92D" stroke-width="1.15" stroke-linejoin="round"/>
<path d="M557.2 743.8l2.1-.2 2 0 2.1 .1 2.1 0 2-.3 2.1 .1 2-.2 2.1-.2 2.1-.4 2 .1 2.1-.4 2.1 0 2 0 2.1 .3 2.1-.4 2 0 2.1-.1 2 0 2.1 .1 2.1 0 2 .1 2.1-.2 2.1-.3 2-.3 2.1-.2 2 0 2.1 .4 2.1 .2 2 .4 2.1-.1 2.1 .1 2-.5 2.1-.2 2.1-.3" fill="none" stroke="#2F2FFF" stroke-width="1.15" stroke-linejoin="round"/>
<path d="M627.4 741.7l2 0 2 .1 2 .1 2 .2 2.1 .3 2 0 2-.3 2 .3 2.1 0 2 0 2 0 2 .1 2.1-.2 2-.1 2 .1 2-.1 2.1 .2 2-.1 2 .1 2 .2 2.1 .3 2-.2 2-.1 2 0 2-.5 2.1 .2 2-.2 2-.1 2 .1 2.1 .1 2 0 2 .1 2-.1 2.1-.1 2-.3 2-.3 2 .3 2.1 .2 2 .3 2 .3 2 0 2.1-.3 2 .2 2-.3 2 .1 2 .3 2.1 .1 2 .2 2 .3 2 0 2.1-.1 2 .3 2 .1 2 .1 2.1-.2 2-.2 2-.6 2 .1 2.1-.2 2-.1 2 .1 2 .4 2-.5 2.1-.1 2 .4 2 .1 2-.1 2.1 .3 2 .1 2 0 2-.3 2.1 0 2 .1 2-.3 2-.2 2.1 .4 2 .1 2-.2 2 .2 2.1 .5 2-.3 2-.1 2-.2 2 .2 2.1-.7 2 .1 2 0 2 .1 2.1-.5 2 .4 2 0 2 0 2.1 .3 2 .6 2-.4 2-.3 2.1-.2 2 0 2-.6 2 .2 2-.1 2.1 .3 2-.2 2 .3" fill="none" stroke="#2F2FFF" stroke-width="1.15" stroke-linejoin="round"/>
<line x1="627.4" y1="596.6" x2="627.4" y2="588.3" stroke="#7E2A82" stroke-width="1.3"/>
<line x1="627.4" y1="735.5" x2="627.4" y2="731.4" stroke="#2DC92D" stroke-width="1.3"/>
<text x="723.8" y="539.6" font-size="27.3" font-weight="bold" text-anchor="middle">T0A</text>
<text x="646.2" y="573.8" font-size="23.2" textLength="213.3" lengthAdjust="spacingAndGlyphs">K<tspan font-size="16.7">D</tspan> = 0.11 ± 0.05 nM</text>
<line x1="995.6" y1="536" x2="995.6" y2="745.4" stroke="#000" stroke-width="2.2"/>
<line x1="994.5" y1="744.3" x2="1306.5" y2="744.3" stroke="#000" stroke-width="2.2"/>
<line x1="987.1" y1="744.3" x2="995.6" y2="744.3" stroke="#000" stroke-width="2.2"/>
<text x="984.1" y="750.2" font-size="16.5" font-weight="bold" text-anchor="end">0</text>
<line x1="987.1" y1="692.5" x2="995.6" y2="692.5" stroke="#000" stroke-width="2.2"/>
<text x="984.1" y="698.4" font-size="16.5" font-weight="bold" text-anchor="end">5</text>
<line x1="987.1" y1="640.6" x2="995.6" y2="640.6" stroke="#000" stroke-width="2.2"/>
<text x="984.1" y="646.6" font-size="16.5" font-weight="bold" text-anchor="end">10</text>
<line x1="987.1" y1="588.8" x2="995.6" y2="588.8" stroke="#000" stroke-width="2.2"/>
<text x="984.1" y="594.8" font-size="16.5" font-weight="bold" text-anchor="end">15</text>
<line x1="987.1" y1="537" x2="995.6" y2="537" stroke="#000" stroke-width="2.2"/>
<text x="984.1" y="542.9" font-size="16.5" font-weight="bold" text-anchor="end">20</text>
<line x1="995.6" y1="744.3" x2="995.6" y2="752.8" stroke="#000" stroke-width="2.2"/>
<text x="995.6" y="771.8" font-size="16.5" font-weight="bold" text-anchor="middle">0</text>
<line x1="1073" y1="744.3" x2="1073" y2="752.8" stroke="#000" stroke-width="2.2"/>
<text x="1073" y="771.8" font-size="16.5" font-weight="bold" text-anchor="middle">200</text>
<line x1="1150.5" y1="744.3" x2="1150.5" y2="752.8" stroke="#000" stroke-width="2.2"/>
<text x="1150.5" y="771.8" font-size="16.5" font-weight="bold" text-anchor="middle">400</text>
<line x1="1228" y1="744.3" x2="1228" y2="752.8" stroke="#000" stroke-width="2.2"/>
<text x="1228" y="771.8" font-size="16.5" font-weight="bold" text-anchor="middle">600</text>
<line x1="1305.4" y1="744.3" x2="1305.4" y2="752.8" stroke="#000" stroke-width="2.2"/>
<text x="1305.4" y="771.8" font-size="16.5" font-weight="bold" text-anchor="middle">800</text>
<text x="1148.5" y="800.6" font-size="19.8" text-anchor="middle">Time (s)</text>
<text x="954.9" y="645.1" font-size="19.8" text-anchor="middle" transform="rotate(-90 954.9 645.1)">Response  (RU)</text>
<path d="M995.6 744.3l1.4-7.9 1.4-7.5 1.4-7.2 1.4-6.8 1.4-6.6 1.4-6.2 2.9-12.2 2.9-11.1 2.9-10.1 2.9-9.1 3-8.3 2.9-7.6 2.9-6.8 2.9-6.2 3-5.7 2.9-5.1 2.9-4.7 2.9-4.2 2.9-3.8 3-3.5 2.9-3.2 2.9-2.9 2.9-2.6 2.9-2.4 3-2.1 2.9-2 2.9-1.7" fill="none" stroke="#000" stroke-width="1.1" stroke-linejoin="round"/>
<path d="M1065.3 582.6l1.4 .1 1.4 .1 1.4 0 1.4 .1 1.4 .1 1.5 0 1.4 .1 1.4 .1 1.4 0 1.4 .1 1.4 .1 3.9 .2 6.5 .3 6.6 .3 6.5 .3 6.5 .3 6.6 .3 6.5 .3 6.6 .3 6.5 .3 6.6 .2 6.5 .3 6.5 .3 6.6 .2 6.5 .3 6.6 .3 6.5 .2 6.6 .3 6.5 .2 6.5 .2 6.6 .3 6.5 .2 6.6 .2 6.5 .2 6.6 .3 6.5 .2 6.5 .2 6.6 .2 6.5 .2 6.6 .2 6.5 .2" fill="none" stroke="#000" stroke-width="1.1" stroke-linejoin="round"/>
<path d="M995.6 744.3l1.4-3.1 1.4-2.9 1.4-3 1.4-2.9 1.4-2.8 1.4-2.7 2.9-5.6 2.9-5.4 2.9-5.2 2.9-4.9 3-4.8 2.9-4.5 2.9-4.4 2.9-4.2 3-4 2.9-3.8 2.9-3.7 2.9-3.6 2.9-3.3 3-3.3 2.9-3.1 2.9-3 2.9-2.9 2.9-2.7 3-2.7 2.9-2.5 2.9-2.4" fill="none" stroke="#000" stroke-width="1.1" stroke-linejoin="round"/>
<path d="M1065.3 646.9l1.4 0 1.4 0 1.4 .1 1.4 0 1.4 0 1.5 .1 1.4 0 1.4 .1 1.4 0 1.4 0 1.4 .1 3.9 .1 6.5 .1 6.6 .2 6.5 .1 6.5 .2 6.6 .1 6.5 .2 6.6 .1 6.5 .1 6.6 .2 6.5 .1 6.5 .2 6.6 .1 6.5 .1 6.6 .1 6.5 .2 6.6 .1 6.5 .1 6.5 .1 6.6 .1 6.5 .2 6.6 .1 6.5 .1 6.6 .1 6.5 .1 6.5 .1 6.6 .1 6.5 .1 6.6 .1 6.5 .1" fill="none" stroke="#000" stroke-width="1.1" stroke-linejoin="round"/>
<path d="M995.6 744.3l1.4-1 1.4-1.1 1.4-1 1.4-1 1.4-1 1.4-1 2.9-2.1 2.9-2 2.9-2 2.9-2 3-2 2.9-1.9 2.9-2 2.9-1.9 3-1.8 2.9-1.9 2.9-1.8 2.9-1.8 2.9-1.8 3-1.8 2.9-1.7 2.9-1.7 2.9-1.7 2.9-1.7 3-1.6 2.9-1.7 2.9-1.6" fill="none" stroke="#000" stroke-width="1.1" stroke-linejoin="round"/>
<path d="M1065.3 701.8l1.4 0 1.4 .1 1.4 0 1.4 0 1.4 0 1.5 .1 1.4 0 1.4 0 1.4 0 1.4 .1 1.4 0 3.9 .1 6.5 .1 6.6 .1 6.5 .1 6.5 .1 6.6 .1 6.5 .2 6.6 .1 6.5 .1 6.6 .1 6.5 .1 6.5 .1 6.6 .1 6.5 .1 6.6 .1 6.5 .1 6.6 0 6.5 .1 6.5 .1 6.6 .1 6.5 .1 6.6 .1 6.5 .1 6.6 0 6.5 .1 6.5 .1 6.6 .1 6.5 .1 6.6 0 6.5 .1" fill="none" stroke="#000" stroke-width="1.1" stroke-linejoin="round"/>
<path d="M995.6 744.3l1.4-.3 1.4-.4 1.4-.3 1.4-.3 1.4-.4 1.4-.3 2.9-.7 2.9-.6 2.9-.7 2.9-.6 3-.7 2.9-.6 2.9-.6 2.9-.6 3-.7 2.9-.6 2.9-.6 2.9-.5 2.9-.6 3-.6 2.9-.6 2.9-.5 2.9-.6 2.9-.5 3-.6 2.9-.5 2.9-.5" fill="none" stroke="#000" stroke-width="1.1" stroke-linejoin="round"/>
<path d="M1065.3 730.8l1.4 0 1.4 0 1.4 0 1.4 0 1.4 0 1.5 .1 1.4 0 1.4 0 1.4 0 1.4 0 1.4 0 3.9 0 6.5 0 6.6 0 6.5 0 6.5 .1 6.6 0 6.5 0 6.6 0 6.5 0 6.6 .1 6.5 0 6.5 0 6.6 0 6.5 0 6.6 0 6.5 .1 6.6 0 6.5 0 6.5 0 6.6 0 6.5 0 6.6 0 6.5 .1 6.6 0 6.5 0 6.5 0 6.6 0 6.5 0 6.6 0 6.5 0" fill="none" stroke="#000" stroke-width="1.1" stroke-linejoin="round"/>
<path d="M995.6 744.3l1.4-.1 1.4-.1 1.4 0 1.4-.1 1.4-.1 1.4-.1 2.9-.2 2.9-.1 2.9-.2 2.9-.2 3-.1 2.9-.2 2.9-.1 2.9-.2 3-.1 2.9-.2 2.9-.1 2.9-.2 2.9-.1 3-.2 2.9-.1 2.9-.2 2.9-.1 2.9-.1 3-.2 2.9-.1 2.9-.1" fill="none" stroke="#000" stroke-width="1.1" stroke-linejoin="round"/>
<path d="M1065.3 741.2l1.4 0 1.4 0 1.4 0 1.4 0 1.4 0 1.5 0 1.4 0 1.4 0 1.4 0 1.4 0 1.4 0 3.9 0 6.5 0 6.6 0 6.5 0 6.5 0 6.6 0 6.5 0 6.6 0 6.5 0 6.6 0 6.5 0 6.5 0 6.6 0 6.5 0 6.6 0 6.5 0 6.6 0 6.5 0 6.5 0 6.6 0 6.5 0 6.6 0 6.5 0 6.6 0 6.5 0 6.5 0 6.6 0 6.5 0 6.6 0 6.5 0" fill="none" stroke="#000" stroke-width="1.1" stroke-linejoin="round"/>
<path d="M995.6 744.8l2.1-13.1 2.1-12.6 2.1-11.6 2.1-10.7 2.2-10.3 2.1-9.8 2.1-8.7 2.1-8 2.1-7.5 2.1-6.5 2.1-5.8 2.1-5.6 2.2-5.1 2.1-4.6 2.1-4.4 2.1-4.2 2.1-4 2.1-3.7 2.1-3.3 2.1-3.1 2.2-2.6 2.1-2.1 2.1-2.8 2.1-2.6 2.1-2.3 2.1-2 2.1-2.1 2.1-1.3 2.2-1.2 2.1-1.3 2.1-1.5 2.1-1 2.1-1.2" fill="none" stroke="#7E2A82" stroke-width="1.15" stroke-linejoin="round"/>
<path d="M1065.3 578.5l2 .5 2.1 .2 2 .6 2 0 2.1 .3 2-.2 2 0 2 .1 2.1 .3 2 .2 2 0 2.1-.1 2-.3 2 .1 2.1-.3 2 .6 2 .1 2 .5 2.1 .5 2 0 2-.5 2.1 .7 2-.1 2-.3 2.1 .6 2 .7 2 .1 2.1 .1 2 0 2-.1 2-.1 2.1-.4 2 .3 2 .1 2.1 .7 2 .4 2 .3 2.1 .2 2 .1 2-.2 2 .1 2.1 .4 2 0 2 .3 2.1 0 2-.2 2 .2 2.1 .2 2 0 2 .3 2 0 2.1-.5 2-.2 2 .2 2.1 .1 2 .5 2 .8 2.1 .4 2 .2 2 .2 2-.2 2.1 0 2 0 2 .2 2.1-.2 2 .1 2-.3 2.1 0 2-.4 2 .4 2.1 .1 2-.1 2 .5 2 .2 2.1-.3 2 .2 2 .4 2.1-.3 2 .4 2 .4 2.1 .3 2 .4 2 .4 2 0 2.1 .2 2-.2 2 .3 2.1-.4 2-.2 2 0 2.1 .3 2-.2 2 .4 2 .2 2.1 .6 2-.1 2-.5 2.1 .5 2 0 2-.3 2.1 .3 2 .6 2-.2" fill="none" stroke="#7E2A82" stroke-width="1.15" stroke-linejoin="round"/>
<path d="M995.6 744.2l2.1-4.7 2.1-4.3 2.1-3.8 2.1-4.3 2.2-3.9 2.1-3.8 2.1-3.6 2.1-3.8 2.1-3.3 2.1-3.6 2.1-3 2.1-2.8 2.2-3 2.1-3 2.1-2.7 2.1-3.1 2.1-3.1 2.1-2.4 2.1-3.1 2.1-2.6 2.2-2.4 2.1-2.6 2.1-2.4 2.1-1.9 2.1-2.4 2.1-1.9 2.1-2 2.1-2.1 2.2-1.9 2.1-1.6 2.1-1.9 2.1-1.8 2.1-1.7" fill="none" stroke="#4D4D4D" stroke-width="1.15" stroke-linejoin="round"/>
<path d="M1065.3 650.3l2-.1 2.1 0 2 0 2 0 2.1 0 2 .5 2 .4 2-.1 2.1 0 2 0 2-.4 2.1-.3 2 .2 2-.5 2.1 0 2 .4 2 0 2 0 2.1 .6 2 .2 2 0 2.1 .6 2 .2 2-.1 2.1 .2 2 .3 2-.2 2.1 0 2 0 2 .2 2-.4 2.1 .2 2 .1 2-.2 2.1 0 2 .3 2-.4 2.1 .1 2 .3 2-.1 2-.2 2.1 .6 2 .2 2 .2 2.1 .3 2 .4 2-.2 2.1-.2 2 0 2-.2 2-.1 2.1 0 2 .1 2-.5 2.1 .1 2 .2 2-.1 2.1 .3 2 .3 2-.1 2 .1 2.1 .1 2-.4 2 .2 2.1 .2 2 .1 2 .2 2.1 .3 2-.4 2 .1 2.1 0 2 0 2-.1 2 .4 2.1-.1 2-.4 2-.1 2.1-.3 2 .1 2 0 2.1 .7 2 .1 2 .3 2 .1 2.1 .6 2-.4 2 .1 2.1 .1 2 0 2-.3 2.1 .2 2 .2 2 .1 2-.1 2.1 0 2 .2 2-.1 2.1 0 2 .1 2-.1 2.1 .1 2 0 2-.2" fill="none" stroke="#4D4D4D" stroke-width="1.15" stroke-linejoin="round"/>
<path d="M995.6 744l2.1-1.8 2.1-1.4 2.1-1 2.1-1.2 2.2-1.5 2.1-1.4 2.1-1.7 2.1-1.9 2.1-1.3 2.1-1.7 2.1-1.3 2.1-1.4 2.2-1.4 2.1-1.6 2.1-1.1 2.1-1.5 2.1-1.5 2.1-1.6 2.1-1.7 2.1-1.5 2.2-1.4 2.1-1.1 2.1-1.3 2.1-.9 2.1-1.7 2.1-1.4 2.1-1.3 2.1-1.2 2.2-1.9 2.1-1 2.1-1.6 2.1-1.3 2.1-1.2" fill="none" stroke="#FF8A1F" stroke-width="1.15" stroke-linejoin="round"/>
<path d="M1065.3 697.2l2 0 2.1-.2 2 0 2 .2 2.1 .5 2 0 2 .2 2 .3 2.1-.1 2-.2 2-.1 2.1 .6 2-.2 2 0 2.1 .2 2 .1 2 0 2-.1 2.1 .3 2-.3 2 .4 2.1-.6 2 .2 2-.2 2.1 .3 2-.2 2-.2 2.1 .1 2 .3 2-.1 2 .1 2.1 .2 2-.4 2 0 2.1 .3 2-.4 2 0 2.1 .2 2-.3 2-.1 2 .2 2.1 .5 2 .4 2 .1 2.1 0 2-.4 2-.3 2.1-.1 2 0 2-.4 2 .4 2.1 .2 2-.1 2-.1 2.1 .4 2 .3 2-.4 2.1 0 2 .5 2 0 2 0 2.1 .2 2 0 2-.4 2.1-.2 2 .2 2 0 2.1-.1 2 .1 2 0 2.1-.2 2 .3 2 0 2 .3 2.1 .6 2-.3 2 0 2.1 .2 2 .1 2-.1 2.1 .4 2-.1 2-.1 2 .2 2.1-.4 2 .1 2 .1 2.1 0 2-.4 2 .4 2.1-.5 2-.1 2 .1 2 0 2.1-.5 2 .4 2-.3 2.1 .2 2-.2 2 .5 2.1 0 2 .2 2-.2" fill="none" stroke="#FF8A1F" stroke-width="1.15" stroke-linejoin="round"/>
<path d="M995.6 743.9l2.1-1 2.1-.7 2.1 0 2.1-.7 2.2-.3 2.1-.3 2.1-.7 2.1-.6 2.1-.3 2.1-.8 2.1-.3 2.1-.2 2.2-.7 2.1-.2 2.1-.4 2.1-.5 2.1-.6 2.1-.4 2.1-.7 2.1-.7 2.2-.5 2.1-.4 2.1-.2 2.1-.4 2.1-.5 2.1-.3 2.1-.6 2.1-.9 2.2-.8 2.1-.7 2.1-.5 2.1-.5 2.1-.2" fill="none" stroke="#2DC92D" stroke-width="1.15" stroke-linejoin="round"/>
<path d="M1065.3 727.7l2-.2 2.1 0 2-.4 2 0 2.1-.1 2 .2 2-.1 2 .2 2.1 .1 2 0 2 .1 2.1-.2 2 .1 2-.2 2.1 .2 2 0 2 0 2 0 2.1 .4 2 .1 2 .1 2.1-.1 2-.1 2-.4 2.1 .1 2-.1 2 .3 2.1-.3 2 .3 2-.3 2 0 2.1 .3 2 .4 2-.1 2.1 .5 2 0 2-.3 2.1 .1 2 .2 2-.7 2 .1 2.1-.1 2-.4 2-.1 2.1 .1 2 .1 2 .2 2.1 .3 2-.1 2 0 2-.1 2.1 0 2 .1 2-.1 2.1 .4 2 .1 2 0 2.1 0 2 .1 2 0 2-.5 2.1-.2 2-.2 2 0 2.1-.5 2 .3 2 .3 2.1 0 2-.1 2 .2 2.1 .1 2-.4 2 .2 2-.1 2.1 .5 2-.4 2 .5 2.1-.2 2 0 2-.4 2.1 .5 2 0 2 .3 2 .1 2.1 .3 2-.2 2 .1 2.1-.2 2 .2 2-.1 2.1-.4 2 .3 2-.1 2 0 2.1 0 2 .4 2-.3 2.1 .2 2-.2 2 .1 2.1-.2 2 0 2-.2" fill="none" stroke="#2DC92D" stroke-width="1.15" stroke-linejoin="round"/>
<path d="M995.6 744.6l2.1-.3 2.1-.3 2.1 0 2.1-.4 2.2-.7 2.1 .1 2.1 0 2.1-.4 2.1-.3 2.1 .2 2.1-.2 2.1-.1 2.2 .2 2.1 .4 2.1-.3 2.1-.2 2.1 0 2.1-.4 2.1-.4 2.1-.1 2.2-.5 2.1-.5 2.1 .1 2.1-.3 2.1 0 2.1-.4 2.1-.1 2.1 0 2.2-.1 2.1-.4 2.1 .1 2.1-.1 2.1-.3" fill="none" stroke="#2F2FFF" stroke-width="1.15" stroke-linejoin="round"/>
<path d="M1065.3 738.6l2 .1 2.1 .2 2 .3 2 .2 2.1-.6 2 0 2 .2 2 .1 2.1 0 2 .8 2 .2 2.1-.4 2-.1 2 0 2.1 0 2-.3 2 0 2 .2 2.1 .2 2 0 2 0 2.1 .2 2-.1 2-.3 2.1-.1 2 .1 2-.1 2.1-.3 2 0 2-.1 2 .3 2.1 0 2 .1 2-.1 2.1 0 2-.6 2 0 2.1 .2 2 .3 2 0 2 .5 2.1-.3 2-.2 2 .2 2.1 .3 2-.3 2 .3 2.1 .6 2-.3 2-.3 2 .2 2.1-.5 2-.5 2 .3 2.1 0 2 .1 2 .6 2.1-.1 2 0 2 .1 2-.5 2.1-.3 2-.1 2-.2 2.1-.1 2 0 2 .2 2.1-.2 2 .3 2 .1 2.1 .5 2 .1 2 .3 2-.5 2.1 .1 2-.3 2 .1 2.1 .2 2 .5 2-.2 2.1 .4 2-.1 2-.1 2-.1 2.1 .2 2-.1 2-.3 2.1 .2 2-.4 2-.3 2.1-.1 2 .5 2-.4 2 0 2.1 .2 2 0 2-.4 2.1 .2 2-.1 2 0 2.1-.2 2 .2 2 .1" fill="none" stroke="#2F2FFF" stroke-width="1.15" stroke-linejoin="round"/>
<path d="M995.6 744.3l2.1 .3 2.1-.1 2.1-.3 2.1-.1 2.2-.2 2.1-.5 2.1-.2 2.1-.4 2.1 .2 2.1-.3 2.1-.2 2.1 .1 2.2 .1 2.1-.1 2.1 .3 2.1-.2 2.1 .1 2.1-.3 2.1-.3 2.1-.2 2.2 .2 2.1-.3 2.1 .1 2.1-.1 2.1-.1 2.1-.4 2.1-.1 2.1 0 2.2 .3 2.1-.1 2.1 0 2.1-.2 2.1 0" fill="none" stroke="#2F2FFF" stroke-width="1.15" stroke-linejoin="round"/>
<path d="M1065.3 740.9l2 .6 2.1 0 2 .2 2 .1 2.1-.3 2-.4 2 .1 2-.2 2.1 .1 2 .4 2-.3 2.1 .3 2-.3 2 .2 2.1 .1 2 .1 2-.3 2 .5 2.1 0 2 .2 2 .2 2.1 0 2 .1 2-.2 2.1-.2 2 0 2 .1 2.1-.5 2 .1 2 0 2 0 2.1-.2 2 .6 2-.1 2.1 .3 2 .2 2 .5 2.1 0 2 .4 2 .1 2-.1 2.1 .1 2-.6 2-.1 2.1 0 2 .2 2-.1 2.1 .5 2 .2 2 0 2-.1 2.1 .2 2-.2 2 .1 2.1 0 2-.3 2-.4 2.1 .1 2 .1 2 .4 2 .6 2.1 0 2 .2 2-.3 2.1-.1 2-.3 2-.1 2.1 0 2 .1 2 0 2.1-.1 2 .5 2 .1 2 .2 2.1 .2 2 .1 2-.7 2.1 0 2-.4 2-.2 2.1 .3 2 .5 2-.1 2 .3 2.1-.3 2 .2 2-.1 2.1-.1 2 0 2 .4 2.1-.5 2 .1 2 0 2-.2 2.1 .4 2-.1 2-.4 2.1 0 2-.1 2-.1 2.1 .4 2 .4 2 .2" fill="none" stroke="#2F2FFF" stroke-width="1.15" stroke-linejoin="round"/>
<line x1="1065.3" y1="581.6" x2="1065.3" y2="573.3" stroke="#7E2A82" stroke-width="1.3"/>
<text x="1149" y="539.6" font-size="27.3" font-weight="bold" text-anchor="middle">T1A</text>
<text x="1083.2" y="573.8" font-size="23.2" textLength="212.7" lengthAdjust="spacingAndGlyphs">K<tspan font-size="16.7">D</tspan> = 0.10 ± 0.44 nM</text>
<line x1="1435.9" y1="539.4" x2="1435.9" y2="748.8" stroke="#000" stroke-width="2.2"/>
<line x1="1434.8" y1="747.7" x2="1747.8" y2="747.7" stroke="#000" stroke-width="2.2"/>
<line x1="1427.4" y1="747.7" x2="1435.9" y2="747.7" stroke="#000" stroke-width="2.2"/>
<text x="1424.4" y="753.6" font-size="16.5" font-weight="bold" text-anchor="end">0</text>
<line x1="1427.4" y1="695.9" x2="1435.9" y2="695.9" stroke="#000" stroke-width="2.2"/>
<text x="1424.4" y="701.8" font-size="16.5" font-weight="bold" text-anchor="end">5</text>
<line x1="1427.4" y1="644" x2="1435.9" y2="644" stroke="#000" stroke-width="2.2"/>
<text x="1424.4" y="650" font-size="16.5" font-weight="bold" text-anchor="end">10</text>
<line x1="1427.4" y1="592.2" x2="1435.9" y2="592.2" stroke="#000" stroke-width="2.2"/>
<text x="1424.4" y="598.2" font-size="16.5" font-weight="bold" text-anchor="end">15</text>
<line x1="1427.4" y1="540.4" x2="1435.9" y2="540.4" stroke="#000" stroke-width="2.2"/>
<text x="1424.4" y="546.3" font-size="16.5" font-weight="bold" text-anchor="end">20</text>
<line x1="1435.9" y1="747.7" x2="1435.9" y2="756.2" stroke="#000" stroke-width="2.2"/>
<text x="1435.9" y="775.2" font-size="16.5" font-weight="bold" text-anchor="middle">0</text>
<line x1="1513.6" y1="747.7" x2="1513.6" y2="756.2" stroke="#000" stroke-width="2.2"/>
<text x="1513.6" y="775.2" font-size="16.5" font-weight="bold" text-anchor="middle">200</text>
<line x1="1591.3" y1="747.7" x2="1591.3" y2="756.2" stroke="#000" stroke-width="2.2"/>
<text x="1591.3" y="775.2" font-size="16.5" font-weight="bold" text-anchor="middle">400</text>
<line x1="1669" y1="747.7" x2="1669" y2="756.2" stroke="#000" stroke-width="2.2"/>
<text x="1669" y="775.2" font-size="16.5" font-weight="bold" text-anchor="middle">600</text>
<line x1="1746.7" y1="747.7" x2="1746.7" y2="756.2" stroke="#000" stroke-width="2.2"/>
<text x="1746.7" y="775.2" font-size="16.5" font-weight="bold" text-anchor="middle">800</text>
<text x="1589.3" y="804" font-size="19.8" text-anchor="middle">Time (s)</text>
<text x="1395.2" y="648.5" font-size="19.8" text-anchor="middle" transform="rotate(-90 1395.2 648.5)">Response  (RU)</text>
<path d="M1435.9 747.7l1.4-9.5 1.4-9.1 1.4-8.6 1.4-8.2 1.4-7.9 1.4-7.5 2.9-14.5 3-13.2 2.9-11.9 2.9-10.8 2.9-9.7 3-8.8 2.9-8 2.9-7.2 3-6.5 2.9-5.9 2.9-5.3 3-4.8 2.9-4.4 2.9-3.9 2.9-3.5 3-3.3 2.9-2.9 2.9-2.6 3-2.4 2.9-2.1 2.9-2" fill="none" stroke="#000" stroke-width="1.1" stroke-linejoin="round"/>
<path d="M1505.8 563.2l1.4 .1 1.5 .1 1.4 0 1.4 .1 1.4 .1 1.4 .1 1.4 .1 1.4 0 1.4 .1 1.5 .1 1.4 .1 3.9 .2 6.5 .3 6.6 .4 6.5 .3 6.6 .4 6.6 .3 6.5 .3 6.6 .4 6.6 .3 6.5 .3 6.6 .3 6.6 .3 6.5 .3 6.6 .3 6.6 .3 6.5 .3 6.6 .2 6.5 .3 6.6 .3 6.6 .2 6.5 .3 6.6 .2 6.6 .3 6.5 .2 6.6 .3 6.6 .2 6.5 .3 6.6 .2 6.6 .2 6.5 .2" fill="none" stroke="#000" stroke-width="1.1" stroke-linejoin="round"/>
<path d="M1435.9 747.7l1.4-3.4 1.4-3.4 1.4-3.2 1.4-3.2 1.4-3.2 1.4-3.1 2.9-6.2 3-6 2.9-5.8 2.9-5.5 2.9-5.3 3-5.1 2.9-4.9 2.9-4.7 3-4.4 2.9-4.3 2.9-4.2 3-3.9 2.9-3.8 2.9-3.6 2.9-3.5 3-3.4 2.9-3.2 2.9-3 3-3 2.9-2.8 2.9-2.7" fill="none" stroke="#000" stroke-width="1.1" stroke-linejoin="round"/>
<path d="M1505.8 638.9l1.4 0 1.5 .1 1.4 0 1.4 .1 1.4 .1 1.4 0 1.4 .1 1.4 0 1.4 .1 1.5 0 1.4 .1 3.9 .2 6.5 .2 6.6 .3 6.5 .2 6.6 .3 6.6 .2 6.5 .2 6.6 .3 6.6 .2 6.5 .2 6.6 .2 6.6 .3 6.5 .2 6.6 .2 6.6 .2 6.5 .2 6.6 .2 6.5 .2 6.6 .2 6.6 .2 6.5 .2 6.6 .1 6.6 .2 6.5 .2 6.6 .2 6.6 .1 6.5 .2 6.6 .2 6.6 .1 6.5 .2" fill="none" stroke="#000" stroke-width="1.1" stroke-linejoin="round"/>
<path d="M1435.9 747.7l1.4-1.1 1.4-1 1.4-1 1.4-1.1 1.4-1 1.4-1 2.9-2.1 3-2.1 2.9-2.1 2.9-2 2.9-2.1 3-2 2.9-1.9 2.9-2 3-1.9 2.9-1.9 2.9-1.8 3-1.9 2.9-1.8 2.9-1.8 2.9-1.8 3-1.7 2.9-1.8 2.9-1.7 3-1.7 2.9-1.7 2.9-1.6" fill="none" stroke="#000" stroke-width="1.1" stroke-linejoin="round"/>
<path d="M1505.8 702.1l1.4 0 1.5 0 1.4 .1 1.4 0 1.4 0 1.4 .1 1.4 0 1.4 0 1.4 0 1.5 .1 1.4 0 3.9 .1 6.5 .1 6.6 .1 6.5 .1 6.6 .1 6.6 .1 6.5 .1 6.6 .1 6.6 .2 6.5 .1 6.6 .1 6.6 .1 6.5 .1 6.6 .1 6.6 .1 6.5 0 6.6 .1 6.5 .1 6.6 .1 6.6 .1 6.5 .1 6.6 .1 6.6 .1 6.5 0 6.6 .1 6.6 .1 6.5 .1 6.6 .1 6.6 0 6.5 .1" fill="none" stroke="#000" stroke-width="1.1" stroke-linejoin="round"/>
<path d="M1435.9 747.7l1.4-.3 1.4-.4 1.4-.3 1.4-.3 1.4-.4 1.4-.3 2.9-.7 3-.6 2.9-.7 2.9-.6 2.9-.7 3-.6 2.9-.6 2.9-.6 3-.7 2.9-.6 2.9-.6 3-.5 2.9-.6 2.9-.6 2.9-.6 3-.5 2.9-.6 2.9-.5 3-.6 2.9-.5 2.9-.5" fill="none" stroke="#000" stroke-width="1.1" stroke-linejoin="round"/>
<path d="M1505.8 733.2l1.4 0 1.5 0 1.4 0 1.4 0 1.4 0 1.4 0 1.4 .1 1.4 0 1.4 0 1.5 0 1.4 0 3.9 0 6.5 0 6.6 .1 6.5 0 6.6 .1 6.6 0 6.5 0 6.6 .1 6.6 0 6.5 0 6.6 .1 6.6 0 6.5 0 6.6 .1 6.6 0 6.5 0 6.6 .1 6.5 0 6.6 0 6.6 .1 6.5 0 6.6 0 6.6 0 6.5 .1 6.6 0 6.6 0 6.5 .1 6.6 0 6.6 0 6.5 0" fill="none" stroke="#000" stroke-width="1.1" stroke-linejoin="round"/>
<path d="M1435.9 747.7l1.4-.1 1.4-.1 1.4-.1 1.4-.1 1.4-.1 1.4-.1 2.9-.3 3-.2 2.9-.2 2.9-.2 2.9-.2 3-.2 2.9-.2 2.9-.2 3-.2 2.9-.2 2.9-.2 3-.2 2.9-.2 2.9-.1 2.9-.2 3-.2 2.9-.2 2.9-.2 3-.1 2.9-.2 2.9-.2" fill="none" stroke="#000" stroke-width="1.1" stroke-linejoin="round"/>
<path d="M1505.8 743l1.4 0 1.5 0 1.4 0 1.4 .1 1.4 0 1.4 0 1.4 0 1.4 0 1.4 0 1.5 0 1.4 0 3.9 0 6.5 0 6.6 0 6.5 .1 6.6 0 6.6 0 6.5 0 6.6 0 6.6 0 6.5 .1 6.6 0 6.6 0 6.5 0 6.6 0 6.6 0 6.5 .1 6.6 0 6.5 0 6.6 0 6.6 0 6.5 0 6.6 0 6.6 .1 6.5 0 6.6 0 6.6 0 6.5 0 6.6 0 6.6 0 6.5 .1" fill="none" stroke="#000" stroke-width="1.1" stroke-linejoin="round"/>
<path d="M1435.9 747.8l2.1-15.2 2.1-14.2 2.2-12.9 2.1-12.3 2.1-11.2 2.1-10.5 2.1-9.6 2.2-9.7 2.1-8.2 2.1-7.5 2.1-7.2 2.1-7 2.1-6.2 2.2-6 2.1-5.4 2.1-5 2.1-4.5 2.1-3.7 2.2-4.1 2.1-4 2.1-3.5 2.1-3 2.1-3.2 2.2-2.7 2.1-2.1 2.1-2.5 2.1-1.9 2.1-1.7 2.2-1.6 2.1-1.9 2.1-1.2 2.1-1.5 2.1-1.5" fill="none" stroke="#7E2A82" stroke-width="1.15" stroke-linejoin="round"/>
<path d="M1505.8 559.3l2.1-.2 2 0 2-.3 2.1 .1 2 .4 2.1 .5 2 .5 2 .5 2.1 .1 2 .2 2 .4 2.1-.1 2 0 2 0 2.1 .1 2 0 2.1 .2 2 .1 2 .5 2.1 .2 2 0 2 0 2.1-.1 2 .4 2 .1 2.1 .4 2 .2 2.1 .5 2-.1 2-.1 2.1 .1 2 .4 2-.2 2.1-.2 2 .4 2.1 .1 2 0 2 .2 2.1 .4 2 .1 2 .4 2.1 .1 2 .3 2 .1 2.1 0 2 .1 2.1 .7 2 .2 2 .5 2.1 .1 2-.2 2-.6 2.1 .2 2-.2 2.1 .2 2 .5 2 .2 2.1 .3 2-.2 2 .1 2.1-.1 2 0 2 0 2.1 .4 2 0 2.1 .1 2 .1 2 .2 2.1 .2 2-.1 2 .4 2.1 .2 2-.3 2.1-.2 2 .3 2 .1 2.1-.3 2 .3 2 .2 2.1 .2 2 .3 2 .8 2.1 .1 2 .1 2.1 .2 2 0 2 .2 2.1 .2 2 .4 2-.1 2.1-.3 2-.7 2.1-.1 2 0 2 .4 2.1 .9 2 .8 2 .3 2.1-.2 2-.2 2-.6 2.1 0 2 0" fill="none" stroke="#7E2A82" stroke-width="1.15" stroke-linejoin="round"/>
<path d="M1435.9 747.3l2.1-4.9 2.1-4.9 2.2-4.5 2.1-4.8 2.1-4.5 2.1-4.7 2.1-4.1 2.2-4.4 2.1-3.6 2.1-3.7 2.1-3.6 2.1-4 2.1-3.4 2.2-3.6 2.1-3.4 2.1-3.2 2.1-3 2.1-3 2.2-3 2.1-2.8 2.1-2.8 2.1-2.7 2.1-2.4 2.2-2.6 2.1-2.3 2.1-2.4 2.1-2.5 2.1-2.2 2.2-1.8 2.1-2.3 2.1-1.7 2.1-1.9 2.1-2.3" fill="none" stroke="#4D4D4D" stroke-width="1.15" stroke-linejoin="round"/>
<path d="M1505.8 640l2.1 .1 2 .1 2-.1 2.1 .3 2 .1 2.1 0 2 0 2 .3 2.1 .1 2 .1 2 .1 2.1 .2 2 .1 2-.2 2.1-.3 2 .2 2.1 0 2-.1 2 .6 2.1 .5 2 .2 2-.1 2.1 .2 2-.3 2 .2 2.1-.1 2 .5 2.1 0 2 .2 2 .1 2.1 0 2-.4 2-.1 2.1-.2 2-.2 2.1 .1 2 .1 2 0 2.1 .2 2 .2 2 .2 2.1 .4 2 .2 2 .2 2.1 .5 2 .3 2.1 .5 2 .1 2-.1 2.1 0 2-.2 2-.4 2.1 0 2-.2 2.1-.6 2 .4 2 .1 2.1 0 2 .3 2 .2 2.1 0 2 .4 2 .3 2.1 .3 2 .2 2.1 .2 2 .2 2-.2 2.1-.1 2 0 2 .2 2.1 0 2 .3 2.1 0 2 .3 2-.5 2.1-.1 2 0 2 .1 2.1-.2 2 .3 2-.1 2.1-.1 2 .1 2.1 .2 2-.2 2 .1 2.1 0 2 0 2-.1 2.1 .2 2 0 2.1 .2 2 .5 2 0 2.1 .1 2 .5 2 .1 2.1-.2 2-.1 2 0 2.1-.2 2 .1" fill="none" stroke="#4D4D4D" stroke-width="1.15" stroke-linejoin="round"/>
<path d="M1435.9 748l2.1-2.1 2.1-1.5 2.2-1.5 2.1-1.6 2.1-1.6 2.1-1.2 2.1-1.5 2.2-2 2.1-1.9 2.1-1.3 2.1-1.8 2.1-1.9 2.1-1.8 2.2-1.3 2.1-1.8 2.1-1.5 2.1-1.7 2.1-.9 2.2-1.5 2.1-1.4 2.1-.9 2.1-1.6 2.1-1.5 2.2-1.1 2.1-1.5 2.1-1.4 2.1-.8 2.1-1.3 2.2-1.3 2.1-1.3 2.1-1.7 2.1-1.6 2.1-1.3" fill="none" stroke="#FF8A1F" stroke-width="1.15" stroke-linejoin="round"/>
<path d="M1505.8 698.9l2.1 .2 2 0 2 .1 2.1-.1 2 .1 2.1-.2 2 .3 2-.2 2.1 .4 2 0 2 0 2.1-.1 2-.1 2-.2 2.1 .2 2-.2 2.1 0 2 .2 2 .1 2.1 .1 2 .3 2 0 2.1-.3 2-.2 2-.1 2.1-.4 2 0 2.1 .3 2 .1 2-.1 2.1-.1 2 0 2 .3 2.1-.1 2 .2 2.1 .5 2 .6 2-.4 2.1 .1 2-.2 2-.2 2.1-.8 2 .2 2 0 2.1 .3 2 .3 2.1 .1 2 0 2 .4 2.1-.2 2 0 2 .4 2.1 0 2-.2 2.1 .4 2 .2 2-.5 2.1 .4 2-.1 2-.4 2.1-.3 2 .6 2-.2 2.1 0 2 0 2.1 .3 2 0 2-.3 2.1-.1 2 .1 2 0 2.1-.3 2 .2 2.1 .1 2 .3 2-.1 2.1 .1 2 .2 2 .2 2.1-.2 2 .1 2-.1 2.1 .1 2 0 2.1 0 2-.1 2-.2 2.1 0 2 .3 2 .1 2.1-.1 2-.1 2.1-.3 2-.1 2-.1 2.1 .2 2 .7 2-.4 2.1-.2 2 .1 2-.3 2.1-.2 2 .5" fill="none" stroke="#FF8A1F" stroke-width="1.15" stroke-linejoin="round"/>
<path d="M1435.9 747.1l2.1-.4 2.1-.3 2.2-.5 2.1-.8 2.1-.4 2.1-.8 2.1-.8 2.2-.2 2.1-.5 2.1-.6 2.1-.6 2.1-.5 2.1-.9 2.2-.3 2.1-.5 2.1-.2 2.1-.6 2.1-.7 2.2-.3 2.1-.3 2.1-.9 2.1-.5 2.1-.2 2.2-.3 2.1-.6 2.1 0 2.1-.2 2.1-.4 2.2-.7 2.1-.5 2.1-1.2 2.1-.6 2.1-.4" fill="none" stroke="#2DC92D" stroke-width="1.15" stroke-linejoin="round"/>
<path d="M1505.8 730.5l2.1 .1 2 .2 2 .3 2.1 .3 2 0 2.1-.1 2 0 2 .1 2.1 .1 2-.2 2 0 2.1-.4 2-.4 2-.2 2.1-.1 2 .3 2.1-.2 2 0 2 0 2.1 .3 2-.3 2 .7 2.1 .4 2-.2 2-.2 2.1 .2 2-.5 2.1 0 2 .1 2 .1 2.1 .1 2 .1 2 0 2.1-.3 2 0 2.1-.5 2 .3 2-.3 2.1 .6 2 .1 2 .4 2.1-.4 2 .4 2-.4 2.1-.1 2 0 2.1 0 2-.3 2 .6 2.1-.5 2-.1 2 .2 2.1 .3 2 0 2.1 .5 2 0 2 0 2.1 .1 2-.3 2-.5 2.1 .2 2 0 2-.4 2.1-.2 2 .3 2.1 0 2 .2 2 .5 2.1 .2 2 0 2-.2 2.1-.3 2-.3 2.1-.1 2 .1 2 .5 2.1 .2 2 .2 2 .2 2.1-.1 2-.2 2 .1 2.1-.1 2-.2 2.1 .1 2-.3 2-.2 2.1 .2 2 0 2-.5 2.1 .3 2-.3 2.1-.4 2-.3 2 .5 2.1-.5 2 .2 2 .3 2.1 .4 2-.3 2 .4 2.1 0 2-.1" fill="none" stroke="#2DC92D" stroke-width="1.15" stroke-linejoin="round"/>
<path d="M1435.9 747.6l2.1 0 2.1-.4 2.2-.4 2.1-.3 2.1-.1 2.1-.7 2.1-.1 2.2-.5 2.1 .2 2.1-.5 2.1 .1 2.1 .1 2.1 .2 2.2-.6 2.1-.1 2.1-.2 2.1-.6 2.1-.6 2.2-.1 2.1-.2 2.1-.3 2.1-.3 2.1 .1 2.2 .1 2.1-.5 2.1-.5 2.1 .2 2.1 .2 2.2-.1 2.1 .2 2.1 .1 2.1-.4 2.1-.7" fill="none" stroke="#2F2FFF" stroke-width="1.15" stroke-linejoin="round"/>
<path d="M1505.8 740.5l2.1 0 2 .1 2 .2 2.1 .1 2-.6 2.1-.2 2 0 2 .2 2.1 0 2 .8 2 .3 2.1 0 2-.4 2 0 2.1-.1 2 .1 2.1 .1 2 .1 2 0 2.1-.3 2-.2 2-.4 2.1 0 2 0 2 .5 2.1 .2 2 0 2.1-.2 2 0 2-.5 2.1-.2 2 .2 2 .4 2.1-.1 2 .1 2.1-.1 2 0 2-.2 2.1 .2 2 .2 2-.4 2.1-.1 2 .1 2-.2 2.1-.3 2 .3 2.1 0 2 .2 2 .4 2.1 .6 2-.3 2 .5 2.1-.3 2 0 2.1-.2 2 .2 2-.3 2.1 0 2-.5 2-.2 2.1-.2 2 .1 2 0 2.1 .3 2 .2 2.1 .2 2-.1 2 .1 2.1-.1 2 0 2 .2 2.1-.2 2 .4 2.1 .2 2-.4 2 .3 2.1 .3 2-.4 2 .2 2.1-.2 2 0 2-.4 2.1-.2 2-.4 2.1 .5 2-.5 2 .4 2.1 .1 2 .4 2 0 2.1-.1 2 0 2.1 .3 2-.3 2 .2 2.1 0 2-.3 2 .3 2.1 0 2-.1 2 .3 2.1 .1 2-.3" fill="none" stroke="#2F2FFF" stroke-width="1.15" stroke-linejoin="round"/>
<path d="M1435.9 747.6l2.1 0 2.1-.3 2.2-.1 2.1-.4 2.1 .2 2.1-.2 2.1 .3 2.2-.2 2.1-.2 2.1-.6 2.1-.4 2.1-.4 2.1 0 2.2 0 2.1 .3 2.1-.1 2.1-.3 2.1 0 2.2 .1 2.1-.3 2.1 .1 2.1 .1 2.1-.5 2.2-.2 2.1 .2 2.1 .1 2.1 .2 2.1 0 2.2 0 2.1 0 2.1-.1 2.1-.4 2.1 0" fill="none" stroke="#2F2FFF" stroke-width="1.15" stroke-linejoin="round"/>
<path d="M1505.8 743.9l2.1 .4 2 0 2 .5 2.1 0 2-.1 2.1-.2 2-.4 2-.3 2.1 0 2 .1 2 0 2.1 .3 2-.1 2 .4 2.1-.2 2-.1 2.1 .1 2 .1 2 .1 2.1 .4 2-.2 2 .2 2.1 .3 2-.2 2-.1 2.1 .7 2 .5 2.1 0 2 .1 2 0 2.1-.3 2-.4 2-.4 2.1 .5 2 0 2.1 .2 2 .3 2 .2 2.1-.3 2 0 2 .2 2.1-.1 2-.5 2 .2 2.1 .3 2-.3 2.1-.1 2 .3 2 0 2.1-.4 2 .2 2 .3 2.1 .3 2-.2 2.1 .1 2-.2 2-.2 2.1-.3 2 0 2 0 2.1 .4 2 .3 2 .1 2.1 .3 2 .2 2.1-.2 2-.1 2 .2 2.1-.5 2 .5 2-.2 2.1-.5 2 0 2.1 .2 2-.5 2-.2 2.1 .7 2 0 2 .1 2.1 0 2 .4 2-.4 2.1 .2 2-.1 2.1 .3 2 .2 2 .1 2.1 0 2 .3 2-.4 2.1-.1 2 .3 2.1-.2 2-.1 2 .2 2.1 0 2-.3 2 .2 2.1 0 2 .1 2-.3 2.1 .1 2 0" fill="none" stroke="#2F2FFF" stroke-width="1.15" stroke-linejoin="round"/>
<line x1="1505.8" y1="559.1" x2="1505.8" y2="552.8" stroke="#7E2A82" stroke-width="1.3"/>
<line x1="1505.8" y1="735.3" x2="1505.8" y2="727" stroke="#2DC92D" stroke-width="1.3"/>
<line x1="1436.3" y1="747.7" x2="1436.3" y2="729" stroke="#2DC92D" stroke-width="1.6"/>
<rect x="1525" y="543" width="56" height="28" fill="#fff"/>
<text x="1587.6" y="539.6" font-size="27.3" font-weight="bold" text-anchor="middle">T3A</text>
<text x="1524.2" y="563.9" font-size="23.2" textLength="213.8" lengthAdjust="spacingAndGlyphs">K<tspan font-size="16.7">D</tspan> = 0.37 ± 0.34 nM</text>
<line x1="115.6" y1="845.9" x2="115.6" y2="1055.8" stroke="#000" stroke-width="2.2"/>
<line x1="114.5" y1="1054.7" x2="427.5" y2="1054.7" stroke="#000" stroke-width="2.2"/>
<line x1="107.1" y1="1054.7" x2="115.6" y2="1054.7" stroke="#000" stroke-width="2.2"/>
<text x="104.1" y="1060.6" font-size="16.5" font-weight="bold" text-anchor="end">0</text>
<line x1="107.1" y1="1002.8" x2="115.6" y2="1002.8" stroke="#000" stroke-width="2.2"/>
<text x="104.1" y="1008.7" font-size="16.5" font-weight="bold" text-anchor="end">5</text>
<line x1="107.1" y1="950.8" x2="115.6" y2="950.8" stroke="#000" stroke-width="2.2"/>
<text x="104.1" y="956.7" font-size="16.5" font-weight="bold" text-anchor="end">10</text>
<line x1="107.1" y1="898.9" x2="115.6" y2="898.9" stroke="#000" stroke-width="2.2"/>
<text x="104.1" y="904.8" font-size="16.5" font-weight="bold" text-anchor="end">15</text>
<line x1="107.1" y1="846.9" x2="115.6" y2="846.9" stroke="#000" stroke-width="2.2"/>
<text x="104.1" y="852.8" font-size="16.5" font-weight="bold" text-anchor="end">20</text>
<line x1="115.6" y1="1054.7" x2="115.6" y2="1063.2" stroke="#000" stroke-width="2.2"/>
<text x="115.6" y="1082.2" font-size="16.5" font-weight="bold" text-anchor="middle">0</text>
<line x1="193.3" y1="1054.7" x2="193.3" y2="1063.2" stroke="#000" stroke-width="2.2"/>
<text x="193.3" y="1082.2" font-size="16.5" font-weight="bold" text-anchor="middle">200</text>
<line x1="271" y1="1054.7" x2="271" y2="1063.2" stroke="#000" stroke-width="2.2"/>
<text x="271" y="1082.2" font-size="16.5" font-weight="bold" text-anchor="middle">400</text>
<line x1="348.7" y1="1054.7" x2="348.7" y2="1063.2" stroke="#000" stroke-width="2.2"/>
<text x="348.7" y="1082.2" font-size="16.5" font-weight="bold" text-anchor="middle">600</text>
<line x1="426.4" y1="1054.7" x2="426.4" y2="1063.2" stroke="#000" stroke-width="2.2"/>
<text x="426.4" y="1082.2" font-size="16.5" font-weight="bold" text-anchor="middle">800</text>
<text x="269" y="1111" font-size="19.8" text-anchor="middle">Time (s)</text>
<text x="74.9" y="955.3" font-size="19.8" text-anchor="middle" transform="rotate(-90 74.9 955.3)">Response  (RU)</text>
<path d="M115.6 1054.7l1.4-8.9 1.4-8.6 1.4-8.1 1.4-7.8 1.4-7.4 1.4-7.1 2.9-13.9 3-12.5 2.9-11.4 2.9-10.4 2.9-9.4 3-8.6 2.9-7.8 2.9-7 3-6.4 2.9-5.8 2.9-5.3 3-4.8 2.9-4.4 2.9-3.9 2.9-3.6 3-3.3 2.9-2.9 2.9-2.7 3-2.5 2.9-2.2 2.9-2" fill="none" stroke="#000" stroke-width="1.1" stroke-linejoin="round"/>
<path d="M185.5 876l1.4 .1 1.5 .1 1.4 0 1.4 .1 1.4 .1 1.4 .1 1.4 .1 1.4 0 1.4 .1 1.5 .1 1.4 .1 3.9 .2 6.5 .3 6.6 .4 6.5 .3 6.6 .4 6.6 .3 6.5 .3 6.6 .4 6.6 .3 6.5 .3 6.6 .3 6.6 .3 6.5 .3 6.6 .3 6.6 .3 6.5 .3 6.6 .2 6.5 .3 6.6 .3 6.6 .2 6.5 .3 6.6 .3 6.6 .2 6.5 .2 6.6 .3 6.6 .2 6.5 .3 6.6 .2 6.6 .2 6.5 .2" fill="none" stroke="#000" stroke-width="1.1" stroke-linejoin="round"/>
<path d="M115.6 1054.7l1.4-3.3 1.4-3.2 1.4-3.2 1.4-3.1 1.4-3 1.4-3 2.9-6 3-5.8 2.9-5.6 2.9-5.3 2.9-5.1 3-4.9 2.9-4.7 2.9-4.5 3-4.3 2.9-4.2 2.9-4 3-3.8 2.9-3.6 2.9-3.5 2.9-3.4 3-3.2 2.9-3.1 2.9-3 3-2.8 2.9-2.7 2.9-2.6" fill="none" stroke="#000" stroke-width="1.1" stroke-linejoin="round"/>
<path d="M185.5 949.8l1.4 0 1.5 .1 1.4 0 1.4 .1 1.4 0 1.4 .1 1.4 0 1.4 .1 1.4 0 1.5 .1 1.4 0 3.9 .2 6.5 .2 6.6 .3 6.5 .2 6.6 .2 6.6 .2 6.5 .3 6.6 .2 6.6 .2 6.5 .2 6.6 .2 6.6 .2 6.5 .2 6.6 .2 6.6 .2 6.5 .2 6.6 .2 6.5 .1 6.6 .2 6.6 .2 6.5 .2 6.6 .1 6.6 .2 6.5 .2 6.6 .1 6.6 .2 6.5 .1 6.6 .2 6.6 .1 6.5 .2" fill="none" stroke="#000" stroke-width="1.1" stroke-linejoin="round"/>
<path d="M115.6 1054.7l1.4-1 1.4-1.1 1.4-1 1.4-1 1.4-1 1.4-1 2.9-2.1 3-2 2.9-2 2.9-2.1 2.9-1.9 3-2 2.9-1.9 2.9-1.9 3-1.9 2.9-1.8 2.9-1.9 3-1.8 2.9-1.8 2.9-1.7 2.9-1.8 3-1.7 2.9-1.7 2.9-1.7 3-1.6 2.9-1.7 2.9-1.6" fill="none" stroke="#000" stroke-width="1.1" stroke-linejoin="round"/>
<path d="M185.5 1010l1.4 .1 1.5 0 1.4 0 1.4 0 1.4 .1 1.4 0 1.4 0 1.4 0 1.4 .1 1.5 0 1.4 0 3.9 .1 6.5 .1 6.6 .1 6.5 .1 6.6 .2 6.6 .1 6.5 .1 6.6 .1 6.6 .1 6.5 .1 6.6 .1 6.6 .1 6.5 .1 6.6 .1 6.6 .1 6.5 .1 6.6 .1 6.5 .1 6.6 .1 6.6 0 6.5 .1 6.6 .1 6.6 .1 6.5 .1 6.6 .1 6.6 0 6.5 .1 6.6 .1 6.6 .1 6.5 0" fill="none" stroke="#000" stroke-width="1.1" stroke-linejoin="round"/>
<path d="M115.6 1054.7l1.4-.3 1.4-.4 1.4-.3 1.4-.3 1.4-.4 1.4-.3 2.9-.7 3-.6 2.9-.7 2.9-.6 2.9-.7 3-.6 2.9-.6 2.9-.7 3-.6 2.9-.6 2.9-.6 3-.6 2.9-.5 2.9-.6 2.9-.6 3-.5 2.9-.6 2.9-.5 3-.6 2.9-.5 2.9-.5" fill="none" stroke="#000" stroke-width="1.1" stroke-linejoin="round"/>
<path d="M185.5 1040.2l1.4 0 1.5 0 1.4 0 1.4 0 1.4 0 1.4 0 1.4 0 1.4 0 1.4 0 1.5 0 1.4 .1 3.9 0 6.5 0 6.6 .1 6.5 0 6.6 0 6.6 .1 6.5 0 6.6 0 6.6 .1 6.5 0 6.6 0 6.6 .1 6.5 0 6.6 0 6.6 .1 6.5 0 6.6 0 6.5 .1 6.6 0 6.6 0 6.5 .1 6.6 0 6.6 0 6.5 0 6.6 .1 6.6 0 6.5 0 6.6 0 6.6 .1 6.5 0" fill="none" stroke="#000" stroke-width="1.1" stroke-linejoin="round"/>
<path d="M115.6 1054.7l1.4-.1 1.4 0 1.4-.1 1.4-.1 1.4-.1 1.4 0 2.9-.2 3-.1 2.9-.2 2.9-.1 2.9-.1 3-.2 2.9-.1 2.9-.1 3-.2 2.9-.1 2.9-.1 3-.1 2.9-.2 2.9-.1 2.9-.1 3-.1 2.9-.2 2.9-.1 3-.1 2.9-.1 2.9-.1" fill="none" stroke="#000" stroke-width="1.1" stroke-linejoin="round"/>
<path d="M185.5 1051.6l1.4 0 1.5 0 1.4 0 1.4 0 1.4 0 1.4 0 1.4 0 1.4 0 1.4 0 1.5 0 1.4 0 3.9 0 6.5 .1 6.6 0 6.5 0 6.6 0 6.6 0 6.5 .1 6.6 0 6.6 0 6.5 0 6.6 0 6.6 0 6.5 .1 6.6 0 6.6 0 6.5 0 6.6 0 6.5 0 6.6 .1 6.6 0 6.5 0 6.6 0 6.6 0 6.5 0 6.6 0 6.6 .1 6.5 0 6.6 0 6.6 0 6.5 0" fill="none" stroke="#000" stroke-width="1.1" stroke-linejoin="round"/>
<path d="M115.6 1055l2.1-13.9 2.1-12.9 2.2-13 2.1-11.2 2.1-10.9 2.1-10.1 2.1-9.4 2.2-8.1 2.1-8.1 2.1-7.2 2.1-6.8 2.1-6.3 2.1-5.8 2.2-5.7 2.1-5 2.1-4.5 2.1-4.2 2.1-4.2 2.2-3.4 2.1-3.3 2.1-3.3 2.1-3.2 2.1-2.8 2.2-3 2.1-2.5 2.1-2.8 2.1-2.2 2.1-2.5 2.2-1.8 2.1-1.8 2.1-1.2 2.1-1.5 2.1-.7" fill="none" stroke="#7E2A82" stroke-width="1.15" stroke-linejoin="round"/>
<path d="M185.5 872.3l2.1-.1 2 .4 2-.7 2.1 .2 2 0 2.1 1 2-.1 2 .6 2.1 0 2 .2 2 0 2.1 0 2-.1 2 .2 2.1 0 2-.3 2.1 .4 2 .5 2 .5 2.1 .1 2 .2 2 .2 2.1 0 2-.2 2 .4 2.1 .4 2 .3 2.1-.4 2 .1 2 .3 2.1 .3 2 .2 2 .4 2.1 0 2 .1 2.1-.1 2 .1 2 .4 2.1 .1 2 0 2-.3 2.1 .2 2 0 2 .2 2.1 .2 2 .9 2.1 .1 2 .1 2 .3 2.1 .1 2-.3 2-.3 2.1 .1 2 .2 2.1 .2 2 .2 2 .1 2.1 .2 2 0 2 .2 2.1 .5 2 .4 2 0 2.1 .1 2-.2 2.1-.1 2-.3 2 .1 2.1 0 2 .5 2 .2 2.1 .2 2 .5 2.1 .3 2-.2 2 .1 2.1-.2 2 0 2 .2 2.1 .4 2 .1 2 .4 2.1 .1 2-.2 2.1-.1 2-.1 2 .2 2.1 .4 2 .4 2 .4 2.1 0 2 .1 2.1-.5 2 0 2-.2 2.1 .2 2 .1 2 .3 2.1 0 2 .4 2 .1 2.1 .1 2 .2" fill="none" stroke="#7E2A82" stroke-width="1.15" stroke-linejoin="round"/>
<path d="M115.6 1054.3l2.1-4.8 2.1-4.5 2.2-4.3 2.1-4.6 2.1-4.4 2.1-4.7 2.1-4.8 2.2-3.6 2.1-4 2.1-3.8 2.1-3.4 2.1-3.1 2.1-3.6 2.2-3.4 2.1-3.2 2.1-3.1 2.1-3.2 2.1-3.1 2.2-2.6 2.1-2.7 2.1-2.9 2.1-2.5 2.1-2.3 2.2-2.2 2.1-2.3 2.1-1.8 2.1-2.1 2.1-2.3 2.2-1.8 2.1-2.2 2.1-2.2 2.1-1.9 2.1-1.8" fill="none" stroke="#4D4D4D" stroke-width="1.15" stroke-linejoin="round"/>
<path d="M185.5 952.8l2.1 .2 2 .2 2 .3 2.1-.1 2 .1 2.1-.3 2-.2 2 .1 2.1 .1 2 .4 2 .3 2.1 .4 2-.1 2-.2 2.1-.1 2-.1 2.1-.1 2 .3 2 .3 2.1-.2 2 0 2-.1 2.1-.4 2 0 2 0 2.1 .1 2 0 2.1 .2 2 .1 2 .5 2.1 .4 2-.1 2 .2 2.1-.1 2 0 2.1-.5 2 .1 2 .2 2.1-.2 2-.3 2 .3 2.1 .2 2 .1 2 .1 2.1 .3 2-.2 2.1 0 2-.2 2 .3 2.1-.2 2 .3 2-.4 2.1 .3 2 .2 2.1 .5 2 .1 2 .4 2.1-.3 2-.4 2-.2 2.1 .1 2-.2 2 .4 2.1 0 2 .1 2.1-.3 2 .1 2 .3 2.1 .4 2 .3 2 .1 2.1-.1 2-.1 2.1-.1 2-.4 2 .2 2.1 .3 2-.1 2 .1 2.1 .4 2-.3 2-.4 2.1 .3 2-.1 2.1 0 2 .1 2 .4 2.1-.2 2-.2 2 .1 2.1 .1 2 0 2.1-.1 2 .3 2-.3 2.1 0 2 0 2 .1 2.1 .2 2 .4 2 .2 2.1 0 2 .1" fill="none" stroke="#4D4D4D" stroke-width="1.15" stroke-linejoin="round"/>
<path d="M115.6 1055l2.1-1.7 2.1-1.8 2.2-1.3 2.1-2 2.1-1.8 2.1-1.6 2.1-1.6 2.2-1.9 2.1-1.2 2.1-1.9 2.1-1.4 2.1-1.2 2.1-1.7 2.2-1.4 2.1-1 2.1-1.8 2.1-1.9 2.1-1.1 2.2-1.6 2.1-1.5 2.1-1.4 2.1-.7 2.1-1.6 2.2-1.4 2.1-1.3 2.1-1.5 2.1-1.7 2.1-1.3 2.2-1.3 2.1-1 2.1-1.1 2.1-1.1 2.1-1.1" fill="none" stroke="#FF8A1F" stroke-width="1.15" stroke-linejoin="round"/>
<path d="M185.5 1006.9l2.1 .2 2-.3 2-.3 2.1 0 2 0 2.1-.1 2 .1 2 .3 2.1 0 2 .1 2 0 2.1 .4 2 0 2 .2 2.1-.1 2 0 2.1-.4 2 .2 2-.3 2.1 .3 2-.1 2 .3 2.1-.1 2 .2 2-.3 2.1 .5 2 0 2.1 .3 2-.2 2 .6 2.1-.2 2 .4 2-.6 2.1 .5 2-.4 2.1 0 2 0 2 .4 2.1-.3 2 0 2-.2 2.1-.2 2-.1 2 .2 2.1 0 2-.2 2.1-.1 2 0 2 0 2.1 .3 2 .1 2 .2 2.1 .3 2-.1 2.1 0 2-.1 2 .2 2.1-.2 2-.1 2 .1 2.1 .5 2-.5 2-.2 2.1 .3 2 .1 2.1-.2 2-.2 2 .4 2.1 .2 2-.5 2 .2 2.1 .1 2 0 2.1-.4 2 .4 2-.3 2.1 0 2 .4 2 .1 2.1-.4 2 .4 2 .5 2.1-.4 2-.1 2.1 .3 2 .1 2-.2 2.1 .1 2-.1 2 .2 2.1 0 2 0 2.1-.3 2 0 2-.1 2.1-.2 2-.1 2 .1 2.1 0 2-.4 2-.1 2.1 .1 2 .2" fill="none" stroke="#FF8A1F" stroke-width="1.15" stroke-linejoin="round"/>
<path d="M115.6 1054.6l2.1-.6 2.1-.5 2.2-.3 2.1-.3 2.1-.4 2.1-.6 2.1-.7 2.2-.5 2.1-1 2.1-.4 2.1-.4 2.1-.4 2.1-.6 2.2-.2 2.1-.2 2.1-.2 2.1-.1 2.1-.7 2.2-.6 2.1-1 2.1-.6 2.1-.7 2.1-.4 2.2-.4 2.1-.4 2.1-.4 2.1-.4 2.1-.3 2.2-.5 2.1-.3 2.1-.5 2.1-.6 2.1-.4" fill="none" stroke="#2DC92D" stroke-width="1.15" stroke-linejoin="round"/>
<path d="M185.5 1038.4l2.1 .4 2 0 2 .4 2.1 .3 2-.1 2.1-.5 2 .1 2 0 2.1-.2 2-.1 2 .3 2.1 0 2-.5 2-.2 2.1 .1 2-.3 2.1 .2 2 .3 2 0 2.1 .2 2-.1 2-.4 2.1-.2 2 .3 2 0 2.1 .4 2 0 2.1 .1 2-.4 2-.1 2.1-.1 2 .2 2 .1 2.1 .3 2-.2 2.1-.3 2-.1 2 .2 2.1 .3 2 0 2 .1 2.1 .1 2-.1 2-.3 2.1-.2 2 .1 2.1-.1 2 .1 2 0 2.1 .1 2 .1 2 .3 2.1-.1 2-.4 2.1 0 2-.5 2-.2 2.1 0 2 .5 2 .1 2.1 0 2-.1 2-.2 2.1-.3 2-.1 2.1 .2 2 .1 2 0 2.1 0 2-.1 2 0 2.1 .1 2 .2 2.1 .2 2-.1 2 .4 2.1-.1 2-.4 2-.2 2.1 .4 2-.4 2-.2 2.1 .4 2-.2 2.1-.2 2 .1 2-.4 2.1 0 2 .2 2 .1 2.1-.1 2 .4 2.1-.1 2-.1 2 .2 2.1-.1 2 .2 2 .1 2.1 .3 2-.1 2 .2 2.1-.1 2 0" fill="none" stroke="#2DC92D" stroke-width="1.15" stroke-linejoin="round"/>
<path d="M115.6 1055l2.1-.2 2.1 0 2.2-.1 2.1-.3 2.1-.3 2.1 .3 2.1-.3 2.2 0 2.1-.2 2.1-.2 2.1-.5 2.1-.3 2.1-.3 2.2-.6 2.1-.1 2.1-.5 2.1 .1 2.1-.1 2.2 0 2.1 0 2.1 .1 2.1-.4 2.1-.1 2.2-.1 2.1-.2 2.1-.3 2.1 .1 2.1-.5 2.2 .1 2.1-.3 2.1-.2 2.1-.3 2.1 0" fill="none" stroke="#2F2FFF" stroke-width="1.15" stroke-linejoin="round"/>
<path d="M185.5 1049.1l2.1 .5 2-.1 2 .2 2.1 .1 2 .2 2.1-.2 2 .2 2-.1 2.1-.3 2 .1 2-.1 2.1-.3 2 .3 2-.1 2.1-.1 2 0 2.1 .1 2-.5 2 .7 2.1-.3 2-.1 2-.1 2.1 .4 2 .1 2 .2 2.1-.3 2-.1 2.1-.3 2-.4 2 .1 2.1 .3 2 .4 2 .5 2.1 .2 2 .4 2.1-.1 2 0 2-.6 2.1-.2 2-.4 2 0 2.1 .2 2 .6 2 .5 2.1-.4 2 0 2.1 0 2 0 2-.5 2.1 .1 2 .1 2-.1 2.1 .1 2 .2 2.1-.1 2 .3 2 0 2.1-.3 2 .2 2 0 2.1-.2 2-.3 2-.1 2.1-.3 2 0 2.1 .3 2 .3 2 .2 2.1-.2 2-.1 2-.6 2.1-.1 2 0 2.1 .1 2 .3 2 .5 2.1 .2 2-.1 2 .4 2.1-.1 2 .2 2-.3 2.1 .3 2-.3 2.1 .4 2-.2 2 0 2.1 0 2 .1 2-.2 2.1 .4 2 .1 2.1-.2 2 .3 2-.2 2.1-.3 2 .2 2 .1 2.1 0 2-.3 2 .1 2.1-.2 2 0" fill="none" stroke="#2F2FFF" stroke-width="1.15" stroke-linejoin="round"/>
<path d="M115.6 1054.7l2.1 .3 2.1-.3 2.2 .2 2.1 0 2.1-.7 2.1-.4 2.1 .2 2.2 .3 2.1 0 2.1 .2 2.1-.2 2.1-.3 2.1-.4 2.2-.3 2.1-.5 2.1-.2 2.1 .2 2.1-.3 2.2 .3 2.1 .2 2.1 .3 2.1-.4 2.1-.2 2.2-.3 2.1 0 2.1-.6 2.1 0 2.1 .5 2.2 .1 2.1-.2 2.1 0 2.1-.1 2.1-.6" fill="none" stroke="#2F2FFF" stroke-width="1.15" stroke-linejoin="round"/>
<path d="M185.5 1051.8l2.1-.1 2 .1 2 .1 2.1 .1 2-.2 2.1 .2 2 .2 2-.2 2.1 0 2 .1 2-.2 2.1-.5 2-.1 2 0 2.1 .1 2 .3 2.1 0 2 .1 2-.4 2.1 .1 2 .1 2 .1 2.1 0 2 .3 2-.1 2.1-.4 2 .1 2.1 .4 2-.2 2 .1 2.1 .2 2-.2 2-.4 2.1 .2 2 .3 2.1-.1 2 .2 2 .2 2.1 .2 2-.2 2 .3 2.1 .1 2-.2 2-.4 2.1 0 2-.3 2.1 0 2 .2 2 .3 2.1-.6 2 .1 2-.1 2.1 0 2 0 2.1 .7 2 0 2 0 2.1-.5 2-.2 2-.4 2.1 0 2 .3 2 .5 2.1 .1 2 .3 2.1-.2 2 .1 2 .3 2.1 .3 2 .2 2 .4 2.1-.4 2-.3 2.1-.2 2-.5 2-.5 2.1 .4 2-.3 2 0 2.1 .2 2 .1 2 .2 2.1 .4 2 .1 2.1-.1 2 .2 2-.3 2.1-.3 2-.2 2-.1 2.1-.3 2 .1 2.1 .2 2 .3 2 .2 2.1 .3 2-.4 2 0 2.1 .3 2-.2 2-.4 2.1 .3 2 0" fill="none" stroke="#2F2FFF" stroke-width="1.15" stroke-linejoin="round"/>
<line x1="185.5" y1="963.3" x2="185.5" y2="937.3" stroke="#000" stroke-width="1.3"/>
<line x1="185.5" y1="1010" x2="185.5" y2="994.4" stroke="#FF8A1F" stroke-width="1.3"/>
<line x1="185.5" y1="1054.7" x2="185.5" y2="1019.4" stroke="#2DC92D" stroke-width="1.3"/>
<line x1="116" y1="1054.7" x2="116" y2="1028.7" stroke="#2F2FFF" stroke-width="1.6"/>
<line x1="116" y1="1054.7" x2="116" y2="1030.8" stroke="#2DC92D" stroke-width="1.6"/>
<text x="262" y="852.6" font-size="27.3" font-weight="bold" text-anchor="middle">T5A</text>
<text x="204.2" y="913.4" font-size="23.2" textLength="213" lengthAdjust="spacingAndGlyphs">K<tspan font-size="16.7">D</tspan> = 0.69 ± 0.01 nM</text>
<line x1="557.2" y1="846.4" x2="557.2" y2="1055.8" stroke="#000" stroke-width="2.2"/>
<line x1="556.1" y1="1054.7" x2="870.1" y2="1054.7" stroke="#000" stroke-width="2.2"/>
<line x1="548.7" y1="1054.7" x2="557.2" y2="1054.7" stroke="#000" stroke-width="2.2"/>
<text x="545.7" y="1060.6" font-size="16.5" font-weight="bold" text-anchor="end">0</text>
<line x1="548.7" y1="1002.9" x2="557.2" y2="1002.9" stroke="#000" stroke-width="2.2"/>
<text x="545.7" y="1008.8" font-size="16.5" font-weight="bold" text-anchor="end">5</text>
<line x1="548.7" y1="951" x2="557.2" y2="951" stroke="#000" stroke-width="2.2"/>
<text x="545.7" y="957" font-size="16.5" font-weight="bold" text-anchor="end">10</text>
<line x1="548.7" y1="899.2" x2="557.2" y2="899.2" stroke="#000" stroke-width="2.2"/>
<text x="545.7" y="905.2" font-size="16.5" font-weight="bold" text-anchor="end">15</text>
<line x1="548.7" y1="847.4" x2="557.2" y2="847.4" stroke="#000" stroke-width="2.2"/>
<text x="545.7" y="853.3" font-size="16.5" font-weight="bold" text-anchor="end">20</text>
<line x1="557.2" y1="1054.7" x2="557.2" y2="1063.2" stroke="#000" stroke-width="2.2"/>
<text x="557.2" y="1082.2" font-size="16.5" font-weight="bold" text-anchor="middle">0</text>
<line x1="635.2" y1="1054.7" x2="635.2" y2="1063.2" stroke="#000" stroke-width="2.2"/>
<text x="635.2" y="1082.2" font-size="16.5" font-weight="bold" text-anchor="middle">200</text>
<line x1="713.1" y1="1054.7" x2="713.1" y2="1063.2" stroke="#000" stroke-width="2.2"/>
<text x="713.1" y="1082.2" font-size="16.5" font-weight="bold" text-anchor="middle">400</text>
<line x1="791" y1="1054.7" x2="791" y2="1063.2" stroke="#000" stroke-width="2.2"/>
<text x="791" y="1082.2" font-size="16.5" font-weight="bold" text-anchor="middle">600</text>
<line x1="869" y1="1054.7" x2="869" y2="1063.2" stroke="#000" stroke-width="2.2"/>
<text x="869" y="1082.2" font-size="16.5" font-weight="bold" text-anchor="middle">800</text>
<text x="711.1" y="1111" font-size="19.8" text-anchor="middle">Time (s)</text>
<text x="516.5" y="955.5" font-size="19.8" text-anchor="middle" transform="rotate(-90 516.5 955.5)">Response  (RU)</text>
<path d="M557.2 1054.7l1.4-9 1.4-8.5 1.4-8.2 1.4-7.8 1.4-7.4 1.4-7.2 3-13.9 2.9-12.6 2.9-11.4 3-10.4 2.9-9.5 3-8.6 2.9-7.8 2.9-7 3-6.5 2.9-5.8 3-5.3 2.9-4.8 2.9-4.4 3-4 2.9-3.6 3-3.2 2.9-3 2.9-2.7 3-2.5 2.9-2.2 3-2" fill="none" stroke="#000" stroke-width="1.1" stroke-linejoin="round"/>
<path d="M627.4 875.4l1.4 .1 1.4 0 1.4 .1 1.4 .1 1.4 .1 1.5 .1 1.4 0 1.4 .1 1.4 .1 1.4 .1 1.4 .1 3.9 .2 6.6 .3 6.6 .4 6.6 .3 6.6 .4 6.6 .3 6.6 .3 6.5 .3 6.6 .4 6.6 .3 6.6 .3 6.6 .3 6.6 .3 6.6 .3 6.5 .3 6.6 .2 6.6 .3 6.6 .3 6.6 .3 6.6 .2 6.6 .3 6.5 .2 6.6 .3 6.6 .2 6.6 .3 6.6 .2 6.6 .2 6.5 .3 6.6 .2 6.6 .2" fill="none" stroke="#000" stroke-width="1.1" stroke-linejoin="round"/>
<path d="M557.2 1054.7l1.4-3.4 1.4-3.4 1.4-3.2 1.4-3.2 1.4-3.2 1.4-3.1 3-6.2 2.9-6 2.9-5.8 3-5.5 2.9-5.3 3-5.1 2.9-4.9 2.9-4.7 3-4.4 2.9-4.3 3-4.2 2.9-3.9 2.9-3.8 3-3.6 2.9-3.5 3-3.4 2.9-3.2 2.9-3 3-3 2.9-2.8 3-2.7" fill="none" stroke="#000" stroke-width="1.1" stroke-linejoin="round"/>
<path d="M627.4 945.9l1.4 0 1.4 .1 1.4 0 1.4 .1 1.4 0 1.5 .1 1.4 0 1.4 .1 1.4 0 1.4 .1 1.4 .1 3.9 .1 6.6 .2 6.6 .3 6.6 .2 6.6 .2 6.6 .2 6.6 .3 6.5 .2 6.6 .2 6.6 .2 6.6 .2 6.6 .2 6.6 .2 6.6 .2 6.5 .2 6.6 .2 6.6 .2 6.6 .1 6.6 .2 6.6 .2 6.6 .2 6.5 .1 6.6 .2 6.6 .2 6.6 .1 6.6 .2 6.6 .1 6.5 .2 6.6 .1 6.6 .2" fill="none" stroke="#000" stroke-width="1.1" stroke-linejoin="round"/>
<path d="M557.2 1054.7l1.4-1.1 1.4-1.1 1.4-1.1 1.4-1.1 1.4-1 1.4-1.1 3-2.2 2.9-2.2 2.9-2.2 3-2.1 2.9-2.1 3-2.1 2.9-2.1 2.9-2 3-2 2.9-2 3-1.9 2.9-2 2.9-1.9 3-1.8 2.9-1.9 3-1.8 2.9-1.9 2.9-1.7 3-1.8 2.9-1.8 3-1.7" fill="none" stroke="#000" stroke-width="1.1" stroke-linejoin="round"/>
<path d="M627.4 1007l1.4 0 1.4 .1 1.4 0 1.4 0 1.4 .1 1.5 0 1.4 0 1.4 0 1.4 .1 1.4 0 1.4 0 3.9 .1 6.6 .1 6.6 .1 6.6 .1 6.6 .1 6.6 .2 6.6 .1 6.5 .1 6.6 .1 6.6 .1 6.6 .1 6.6 .1 6.6 .1 6.6 .1 6.5 .1 6.6 .1 6.6 .1 6.6 .1 6.6 0 6.6 .1 6.6 .1 6.5 .1 6.6 .1 6.6 .1 6.6 0 6.6 .1 6.6 .1 6.5 .1 6.6 .1 6.6 0" fill="none" stroke="#000" stroke-width="1.1" stroke-linejoin="round"/>
<path d="M557.2 1054.7l1.4-.4 1.4-.3 1.4-.4 1.4-.3 1.4-.4 1.4-.3 3-.7 2.9-.8 2.9-.7 3-.7 2.9-.6 3-.7 2.9-.7 2.9-.7 3-.6 2.9-.7 3-.6 2.9-.6 2.9-.6 3-.7 2.9-.6 3-.6 2.9-.6 2.9-.5 3-.6 2.9-.6 3-.5" fill="none" stroke="#000" stroke-width="1.1" stroke-linejoin="round"/>
<path d="M627.4 1039.2l1.4 0 1.4 0 1.4 0 1.4 0 1.4 0 1.5 0 1.4 0 1.4 0 1.4 0 1.4 0 1.4 0 3.9 .1 6.6 0 6.6 .1 6.6 0 6.6 0 6.6 .1 6.6 0 6.5 0 6.6 .1 6.6 0 6.6 0 6.6 .1 6.6 0 6.6 0 6.5 .1 6.6 0 6.6 0 6.6 .1 6.6 0 6.6 0 6.6 .1 6.5 0 6.6 0 6.6 0 6.6 .1 6.6 0 6.6 0 6.5 0 6.6 .1 6.6 0" fill="none" stroke="#000" stroke-width="1.1" stroke-linejoin="round"/>
<path d="M557.2 1054.7l1.4-.1 1.4-.1 1.4 0 1.4-.1 1.4-.1 1.4-.1 3-.2 2.9-.1 2.9-.2 3-.2 2.9-.1 3-.2 2.9-.1 2.9-.2 3-.1 2.9-.2 3-.1 2.9-.2 2.9-.1 3-.2 2.9-.1 3-.2 2.9-.1 2.9-.1 3-.2 2.9-.1 3-.1" fill="none" stroke="#000" stroke-width="1.1" stroke-linejoin="round"/>
<path d="M627.4 1051.1l1.4 0 1.4 0 1.4 0 1.4 0 1.4 0 1.5 0 1.4 0 1.4 0 1.4 0 1.4 0 1.4 0 3.9 0 6.6 .1 6.6 0 6.6 0 6.6 0 6.6 0 6.6 0 6.5 .1 6.6 0 6.6 0 6.6 0 6.6 0 6.6 0 6.6 .1 6.5 0 6.6 0 6.6 0 6.6 0 6.6 0 6.6 .1 6.6 0 6.5 0 6.6 0 6.6 0 6.6 0 6.6 0 6.6 .1 6.5 0 6.6 0 6.6 0" fill="none" stroke="#000" stroke-width="1.1" stroke-linejoin="round"/>
<path d="M557.2 1054.5l2.1-13.5 2-12.7 2.1-11.8 2.1-11.2 2-10.1 2.1-10 2-8.9 2.1-8.4 2.1-7.6 2-7.5 2.1-6.5 2.1-6.2 2-6 2.1-5.1 2.1-5.4 2-4.7 2.1-4.7 2-3.9 2.1-3.9 2.1-2.9 2-3.5 2.1-3.1 2.1-3.2 2-2.6 2.1-2.7 2-2.4 2.1-2 2.1-1.6 2-2.1 2.1-1.7 2.1-1.3 2-1.9 2.1-1.7 2.1-1.3" fill="none" stroke="#7E2A82" stroke-width="1.15" stroke-linejoin="round"/>
<path d="M627.4 872.4l2-.1 2-.1 2 .1 2 .3 2.1 .2 2 .4 2 .2 2 .3 2.1-.1 2 .3 2 .3 2 .7 2.1-.5 2 .3 2-.1 2 .1 2.1-.4 2 .9 2 .1 2-.2 2.1 .1 2 .3 2-.3 2 .3 2 .5 2.1-.1 2 .1 2 .2 2 0 2.1 .1 2 .3 2-.1 2 .1 2.1 .1 2 .6 2 0 2 .3 2.1 .4 2 .5 2-.2 2 .1 2.1 .5 2 0 2-.3 2-.3 2 .3 2.1 0 2 .1 2-.1 2 .1 2.1 .2 2 .3 2 .2 2 .3 2.1 .4 2 0 2-.2 2-.1 2.1 .1 2-.1 2 .4 2 .2 2-.2 2.1 .4 2 .3 2-.2 2 0 2.1 .7 2 .2 2-.1 2 .1 2.1-.2 2 0 2-.4 2 .4 2.1 .3 2 .5 2 .1 2 .1 2.1-.3 2 .4 2-.3 2 .2 2 .4 2.1 .4 2 .2 2 .3 2-.1 2.1 0 2 0 2-.2 2 .1 2.1 .5 2 0 2 .3 2 .2 2.1 .1 2-.2 2 .4 2 .2 2 .1 2.1 0 2 .1 2-.2" fill="none" stroke="#7E2A82" stroke-width="1.15" stroke-linejoin="round"/>
<path d="M557.2 1054.2l2.1-5 2-4.7 2.1-4.4 2.1-4.1 2-4 2.1-4.2 2-4.2 2.1-4.1 2.1-4.1 2-3.9 2.1-3.6 2.1-3.6 2-3.5 2.1-3.3 2.1-2.9 2-3.2 2.1-3.1 2-2.9 2.1-2.9 2.1-3.4 2-2.5 2.1-2.5 2.1-2.6 2-2.4 2.1-2 2-2.8 2.1-2.5 2.1-2.3 2-2.5 2.1-2 2.1-1.9 2-1.8 2.1-1.8 2.1-1.7" fill="none" stroke="#4D4D4D" stroke-width="1.15" stroke-linejoin="round"/>
<path d="M627.4 948.9l2 0 2-.1 2 .4 2-.1 2.1-.2 2-.1 2 .2 2-.1 2.1 .2 2 .7 2 .2 2 .1 2.1-.2 2-.2 2 .3 2 .2 2.1 .1 2 .5 2 .4 2-.3 2.1 0 2 .2 2-.4 2-.4 2-.1 2.1 .2 2-.2 2 .4 2 .4 2.1 .1 2 0 2-.4 2-.3 2.1 .1 2-.1 2 .4 2 .7 2.1 .3 2 .3 2 .2 2-.1 2.1-.5 2-.3 2-.2 2 .3 2-.1 2.1 .2 2 .5 2 .2 2-.2 2.1 .2 2-.1 2-.4 2 .3 2.1 .2 2 .2 2 .2 2 .5 2.1-.3 2 0 2-.2 2 .1 2 .2 2.1-.1 2 .2 2 0 2-.1 2.1-.3 2 0 2 0 2 0 2.1 .4 2 0 2 .5 2 .1 2.1 .3 2-.3 2-.1 2 .4 2.1 0 2 .2 2-.1 2 .4 2-.4 2.1 .2 2-.2 2 .1 2 0 2.1 .1 2 .3 2 .1 2 0 2.1 .1 2-.1 2 .1 2 .5 2.1 .4 2 .1 2 .2 2-.3 2-.3 2.1-.3 2-.1 2 .1" fill="none" stroke="#4D4D4D" stroke-width="1.15" stroke-linejoin="round"/>
<path d="M557.2 1055.2l2.1-2.1 2-1.2 2.1-1.8 2.1-2.2 2-1.9 2.1-1.1 2-2.1 2.1-1.8 2.1-1.6 2-1.3 2.1-1.9 2.1-1.6 2-1.6 2.1-1.5 2.1-1.7 2-1.1 2.1-1.5 2-1.6 2.1-1.3 2.1-1.6 2-2.1 2.1-1.2 2.1-1.3 2-1.1 2.1-1.4 2-1 2.1-1.8 2.1-1 2-1.4 2.1-1 2.1-1.4 2-1 2.1-1.4 2.1-1.4" fill="none" stroke="#FF8A1F" stroke-width="1.15" stroke-linejoin="round"/>
<path d="M627.4 1004.1l2-.2 2 .1 2 0 2-.2 2.1 0 2 .5 2-.2 2 .2 2.1-.1 2 .3 2 .1 2 .6 2.1 .2 2 .1 2-.5 2-.2 2.1-.4 2-.3 2 .3 2 .1 2.1 0 2 .4 2 .3 2-.3 2 .2 2.1 .1 2-.3 2 .1 2 0 2.1 .1 2 .1 2 .5 2 .1 2.1 .6 2 .3 2-.3 2-.7 2.1 .3 2-.5 2-.4 2 .4 2.1 0 2 0 2 .4 2 .4 2 0 2.1 0 2 0 2 0 2 0 2.1-.2 2 .2 2-.3 2-.1 2.1 .1 2 .2 2-.1 2 .4 2.1-.2 2-.5 2 0 2 .1 2-.4 2.1 .2 2 .5 2 .1 2 0 2.1 .1 2 0 2-.2 2-.4 2.1 0 2 .4 2 0 2 0 2.1 .1 2 .2 2-.1 2 .1 2.1 .4 2 .2 2 .1 2-.2 2 .1 2.1-.2 2 .2 2 .1 2 0 2.1-.1 2-.1 2 0 2-.2 2.1 .5 2 0 2 .2 2-.3 2.1 0 2-.2 2-.2 2-.1 2 0 2.1-.1 2 0 2 .2" fill="none" stroke="#FF8A1F" stroke-width="1.15" stroke-linejoin="round"/>
<path d="M557.2 1054.7l2.1-.5 2-.6 2.1-.8 2.1-.8 2-.5 2.1-.4 2-.5 2.1-.3 2.1-.6 2-.6 2.1-.7 2.1-.7 2-.5 2.1-.3 2.1-.9 2-.8 2.1-.5 2-.7 2.1-.3 2.1-.3 2-.3 2.1-.4 2.1-.3 2-.7 2.1-.3 2-.6 2.1-.7 2.1-.6 2-.2 2.1-.3 2.1-.1 2 0 2.1-.4 2.1-.8" fill="none" stroke="#2DC92D" stroke-width="1.15" stroke-linejoin="round"/>
<path d="M627.4 1036.5l2 0 2 .2 2 .3 2 .4 2.1 .1 2-.2 2 .1 2-.5 2.1-.5 2-.1 2 .3 2-.1 2.1 .3 2 .1 2 0 2-.2 2.1-.3 2 0 2 0 2 .1 2.1 .1 2 .4 2 0 2 .1 2 .1 2.1-.3 2 0 2 .3 2 0 2.1 .2 2 .5 2 .2 2 0 2.1 .1 2-.4 2-.3 2-.4 2.1-.4 2-.1 2 .1 2 0 2.1 .3 2 .3 2-.1 2-.2 2 .1 2.1-.2 2-.2 2 .5 2 .2 2.1 .3 2 .1 2 .3 2-.5 2.1-.1 2 0 2 0 2 .1 2.1 .3 2 0 2-.2 2 .4 2-.2 2.1-.1 2 .1 2-.2 2-.1 2.1-.1 2 .2 2 .1 2 .1 2.1-.3 2 .2 2-.2 2 .3 2.1 .3 2 .1 2-.1 2 .3 2.1 0 2-.3 2-.1 2-.2 2-.4 2.1 .1 2 .1 2 .2 2 .1 2.1 .1 2-.3 2-.3 2-.2 2.1 .1 2 .3 2-.4 2 .4 2.1 .1 2-.4 2 0 2 .4 2 0 2.1 .1 2 .3 2-.1" fill="none" stroke="#2DC92D" stroke-width="1.15" stroke-linejoin="round"/>
<path d="M557.2 1054.2l2.1-.2 2-.4 2.1-.1 2.1 .2 2-.5 2.1 0 2 .1 2.1-.3 2.1-.1 2 .6 2.1-.5 2.1-.1 2-.1 2.1-.3 2.1-.4 2 .2 2.1-.4 2-.7 2.1-.4 2.1-.5 2-.1 2.1-.1 2.1 .5 2-.2 2.1 0 2-.5 2.1-.1 2.1-.3 2 .3 2.1-.3 2.1 .1 2 0 2.1-.3 2.1-.4" fill="none" stroke="#2F2FFF" stroke-width="1.15" stroke-linejoin="round"/>
<path d="M627.4 1048.6l2-.1 2 0 2-.1 2-.2 2.1-.1 2 .6 2 0 2 .2 2.1 .2 2 .2 2-.3 2 0 2.1-.4 2 .2 2 0 2-.4 2.1 0 2-.1 2-.4 2 .2 2.1 .6 2 0 2 .1 2 .2 2-.2 2.1-.3 2 .5 2 .2 2-.4 2.1-.4 2 0 2-.6 2 0 2.1 .5 2 .8 2-.2 2 .4 2.1-.5 2-.2 2-.5 2 .5 2.1-.3 2 .5 2 .1 2 .4 2-.4 2.1 .1 2 0 2 0 2-.5 2.1 0 2 .2 2-.5 2 .1 2.1 .2 2 .3 2 .4 2 .5 2.1-.2 2-.2 2 .1 2-.5 2 .2 2.1 .2 2 0 2-.3 2 .2 2.1-.5 2-.4 2 .2 2 0 2.1 .1 2 .6 2 .2 2-.1 2.1 .1 2-.2 2-.3 2 0 2.1-.3 2 .1 2 .2 2-.3 2 .1 2.1 .1 2 0 2-.7 2 .2 2.1 0 2 .5 2 .1 2 .6 2.1 0 2 0 2-.2 2-.4 2.1 .1 2 .1 2 0 2 .1 2 .2 2.1-.3 2-.1 2 0" fill="none" stroke="#2F2FFF" stroke-width="1.15" stroke-linejoin="round"/>
<path d="M557.2 1054.4l2.1-.1 2 .1 2.1 .1 2.1 .4 2-.1 2.1 .1 2-.4 2.1 0 2.1 0 2 .2 2.1-.5 2.1 .2 2-.5 2.1-.1 2.1-.6 2 .3 2.1-.3 2 .2 2.1-.5 2.1 0 2-.2 2.1-.3 2.1-.4 2 .1 2.1-.1 2-.1 2.1 .2 2.1-.1 2 0 2.1-.1 2.1-.2 2-.1 2.1-.1 2.1-.2" fill="none" stroke="#2F2FFF" stroke-width="1.15" stroke-linejoin="round"/>
<path d="M627.4 1051.6l2-.3 2 .1 2 .7 2-.6 2.1-.1 2 .5 2-.2 2-.1 2.1 .6 2 .1 2-.1 2 .3 2.1-.1 2 0 2-.1 2 0 2.1-.3 2 0 2 .1 2 .2 2.1 .1 2-.2 2-.2 2-.1 2-.4 2.1 .2 2 .1 2 .2 2-.2 2.1 0 2-.1 2 .1 2 .2 2.1 .1 2-.1 2-.7 2-.1 2.1-.2 2 .2 2 0 2 1.1 2.1 .2 2 0 2 .1 2-.1 2-.5 2.1-.1 2 .2 2 .1 2 .5 2.1 .1 2-.2 2-.1 2-.3 2.1-.2 2 .1 2 .4 2 0 2.1-.2 2-.3 2 .1 2-.2 2-.2 2.1 0 2 .5 2 0 2-.1 2.1 0 2 .5 2-.4 2 0 2.1-.4 2 .2 2-.1 2 .2 2.1-.3 2 .3 2 .3 2 0 2.1 .2 2 .3 2 .4 2 0 2 .2 2.1-.1 2-.2 2-.4 2-.2 2.1 .1 2-.3 2 .5 2 .5 2.1-.2 2-.3 2 0 2-.3 2.1-.1 2 .2 2 0 2 .3 2 .1 2.1 .1 2-.1 2 .1" fill="none" stroke="#2F2FFF" stroke-width="1.15" stroke-linejoin="round"/>
<line x1="627.4" y1="962.5" x2="627.4" y2="935.5" stroke="#000" stroke-width="1.3"/>
<line x1="627.4" y1="1041.2" x2="627.4" y2="1034" stroke="#2DC92D" stroke-width="1.3"/>
<line x1="557.6" y1="1054.7" x2="557.6" y2="1023.6" stroke="#2DC92D" stroke-width="1.6"/>
<line x1="557.6" y1="1054.7" x2="557.6" y2="1037.1" stroke="#2F2FFF" stroke-width="1.6"/>
<text x="703" y="852.6" font-size="27.3" font-weight="bold" text-anchor="middle">T18A</text>
<text x="646.2" y="913.4" font-size="23.2" textLength="213.1" lengthAdjust="spacingAndGlyphs">K<tspan font-size="16.7">D</tspan> = 0.50 ± 0.16 nM</text>
<line x1="995.9" y1="844.8" x2="995.9" y2="1055" stroke="#000" stroke-width="2.2"/>
<line x1="994.8" y1="1053.9" x2="1309.1" y2="1053.9" stroke="#000" stroke-width="2.2"/>
<line x1="987.4" y1="1053.9" x2="995.9" y2="1053.9" stroke="#000" stroke-width="2.2"/>
<text x="984.4" y="1059.8" font-size="16.5" font-weight="bold" text-anchor="end">0</text>
<line x1="987.4" y1="1001.9" x2="995.9" y2="1001.9" stroke="#000" stroke-width="2.2"/>
<text x="984.4" y="1007.8" font-size="16.5" font-weight="bold" text-anchor="end">5</text>
<line x1="987.4" y1="949.9" x2="995.9" y2="949.9" stroke="#000" stroke-width="2.2"/>
<text x="984.4" y="955.8" font-size="16.5" font-weight="bold" text-anchor="end">10</text>
<line x1="987.4" y1="897.8" x2="995.9" y2="897.8" stroke="#000" stroke-width="2.2"/>
<text x="984.4" y="903.8" font-size="16.5" font-weight="bold" text-anchor="end">15</text>
<line x1="987.4" y1="845.8" x2="995.9" y2="845.8" stroke="#000" stroke-width="2.2"/>
<text x="984.4" y="851.7" font-size="16.5" font-weight="bold" text-anchor="end">20</text>
<line x1="995.9" y1="1053.9" x2="995.9" y2="1062.4" stroke="#000" stroke-width="2.2"/>
<text x="995.9" y="1081.4" font-size="16.5" font-weight="bold" text-anchor="middle">0</text>
<line x1="1073.9" y1="1053.9" x2="1073.9" y2="1062.4" stroke="#000" stroke-width="2.2"/>
<text x="1073.9" y="1081.4" font-size="16.5" font-weight="bold" text-anchor="middle">200</text>
<line x1="1152" y1="1053.9" x2="1152" y2="1062.4" stroke="#000" stroke-width="2.2"/>
<text x="1152" y="1081.4" font-size="16.5" font-weight="bold" text-anchor="middle">400</text>
<line x1="1230" y1="1053.9" x2="1230" y2="1062.4" stroke="#000" stroke-width="2.2"/>
<text x="1230" y="1081.4" font-size="16.5" font-weight="bold" text-anchor="middle">600</text>
<line x1="1308" y1="1053.9" x2="1308" y2="1062.4" stroke="#000" stroke-width="2.2"/>
<text x="1308" y="1081.4" font-size="16.5" font-weight="bold" text-anchor="middle">800</text>
<text x="1150" y="1110.2" font-size="19.8" text-anchor="middle">Time (s)</text>
<text x="955.2" y="954.4" font-size="19.8" text-anchor="middle" transform="rotate(-90 955.2 954.4)">Response  (RU)</text>
<path d="M995.9 1053.9l.9-4.2 1-4.1 .9-3.9 .9-3.8 1-3.6 .9-3.5 2-6.9 1.9-6.3 2-5.7 2-5.4 1.9-4.9 2-4.5 2-4.1 1.9-3.8 2-3.5 1.9-3.3 2-2.9 2-2.7 1.9-2.5 2-2.3 1.9-2.2 2-1.9 2-1.8 1.9-1.7 2-1.5 2-1.4 1.9-1.2" fill="none" stroke="#000" stroke-width="1.1" stroke-linejoin="round"/>
<path d="M1042.7 960.3l1.4 0 1.5 0 1.4 .1 1.4 0 1.4 0 1.4 .1 1.4 0 1.5 0 1.4 .1 1.4 0 1.4 0 3.9 .1 7.4 .2 7.4 .1 7.4 .2 7.4 .1 7.4 .2 7.4 .1 7.4 .2 7.4 .1 7.4 .2 7.4 .1 7.4 .2 7.4 .1 7.4 .1 7.4 .2 7.4 .1 7.4 .1 7.4 .1 7.4 .1 7.4 .2 7.4 .1 7.4 .1 7.4 .1 7.4 .1 7.4 .1 7.4 .1 7.4 .1 7.4 .1 7.4 .1 7.4 .1" fill="none" stroke="#000" stroke-width="1.1" stroke-linejoin="round"/>
<path d="M995.9 1053.9l.9-1.6 1-1.5 .9-1.6 .9-1.4 1-1.5 .9-1.4 2-2.8 1.9-2.7 2-2.6 2-2.5 1.9-2.3 2-2.2 2-2.1 1.9-2 2-1.9 1.9-1.8 2-1.7 2-1.7 1.9-1.5 2-1.5 1.9-1.4 2-1.4 2-1.2 1.9-1.2 2-1.2 2-1.1 1.9-1" fill="none" stroke="#000" stroke-width="1.1" stroke-linejoin="round"/>
<path d="M1042.7 1007.1l1.4 0 1.5 0 1.4 0 1.4 0 1.4 0 1.4 0 1.4 0 1.5 0 1.4 .1 1.4 0 1.4 0 3.9 0 7.4 0 7.4 .1 7.4 0 7.4 .1 7.4 0 7.4 0 7.4 .1 7.4 0 7.4 0 7.4 .1 7.4 0 7.4 0 7.4 .1 7.4 0 7.4 0 7.4 .1 7.4 0 7.4 0 7.4 .1 7.4 0 7.4 0 7.4 0 7.4 .1 7.4 0 7.4 0 7.4 0 7.4 .1 7.4 0 7.4 0" fill="none" stroke="#000" stroke-width="1.1" stroke-linejoin="round"/>
<path d="M995.9 1053.9l.9-.5 1-.5 .9-.5 .9-.4 1-.5 .9-.5 2-.9 1.9-1 2-.9 2-.9 1.9-.8 2-.9 2-.8 1.9-.8 2-.8 1.9-.8 2-.7 2-.7 1.9-.8 2-.6 1.9-.7 2-.7 2-.6 1.9-.6 2-.7 2-.5 1.9-.6" fill="none" stroke="#000" stroke-width="1.1" stroke-linejoin="round"/>
<path d="M1042.7 1035.2l1.4 0 1.5 0 1.4 0 1.4 0 1.4 0 1.4 0 1.4 0 1.5 0 1.4 0 1.4 0 1.4 0 3.9 0 7.4 0 7.4 .1 7.4 0 7.4 0 7.4 0 7.4 0 7.4 .1 7.4 0 7.4 0 7.4 0 7.4 0 7.4 .1 7.4 0 7.4 0 7.4 0 7.4 0 7.4 0 7.4 0 7.4 .1 7.4 0 7.4 0 7.4 0 7.4 0 7.4 0 7.4 0 7.4 .1 7.4 0 7.4 0 7.4 0" fill="none" stroke="#000" stroke-width="1.1" stroke-linejoin="round"/>
<path d="M995.9 1053.9l.9-.2 1-.1 .9-.2 .9-.1 1-.2 .9-.2 2-.3 1.9-.3 2-.3 2-.3 1.9-.3 2-.3 2-.2 1.9-.3 2-.3 1.9-.2 2-.3 2-.2 1.9-.3 2-.2 1.9-.2 2-.2 2-.2 1.9-.2 2-.3 2-.1 1.9-.2" fill="none" stroke="#000" stroke-width="1.1" stroke-linejoin="round"/>
<path d="M1042.7 1047.7l1.4 0 1.5 0 1.4 0 1.4 0 1.4 0 1.4 0 1.4 0 1.5 0 1.4 0 1.4 0 1.4 0 3.9 0 7.4 0 7.4 .1 7.4 0 7.4 0 7.4 0 7.4 0 7.4 0 7.4 .1 7.4 0 7.4 0 7.4 0 7.4 0 7.4 .1 7.4 0 7.4 0 7.4 0 7.4 0 7.4 0 7.4 0 7.4 .1 7.4 0 7.4 0 7.4 0 7.4 0 7.4 0 7.4 0 7.4 .1 7.4 0 7.4 0" fill="none" stroke="#000" stroke-width="1.1" stroke-linejoin="round"/>
<path d="M995.9 1053.9l.9-.1 1 0 .9-.1 .9-.1 1 0 .9-.1 2-.1 1.9-.2 2-.1 2-.1 1.9-.1 2-.2 2-.1 1.9-.1 2-.1 1.9-.1 2-.1 2-.1 1.9-.1 2-.1 1.9-.1 2-.1 2-.1 1.9-.1 2 0 2-.1 1.9-.1" fill="none" stroke="#000" stroke-width="1.1" stroke-linejoin="round"/>
<path d="M1042.7 1051.3l1.4 0 1.5 0 1.4 0 1.4 0 1.4 0 1.4 0 1.4 0 1.5 0 1.4 0 1.4 0 1.4 0 3.9 .1 7.4 0 7.4 0 7.4 0 7.4 0 7.4 .1 7.4 0 7.4 0 7.4 0 7.4 0 7.4 0 7.4 .1 7.4 0 7.4 0 7.4 0 7.4 0 7.4 0 7.4 .1 7.4 0 7.4 0 7.4 0 7.4 0 7.4 0 7.4 0 7.4 .1 7.4 0 7.4 0 7.4 0 7.4 0 7.4 0" fill="none" stroke="#000" stroke-width="1.1" stroke-linejoin="round"/>
<path d="M995.9 1053.9l2.1-9.4 2.2-8.6 2.1-8.1 2.1-7.3 2.1-6.4 2.2-6.3 2.1-5.3 2.1-5 2.2-4.6 2.1-4.7 2.1-3.6 2.1-3.8 2.2-3.6 2.1-2.8 2.1-2.5 2.1-2.7 2.2-2.5 2.1-2.1 2.1-2.1 2.2-1.7 2.1-1.4 2.1-1.4" fill="none" stroke="#7E2A82" stroke-width="1.15" stroke-linejoin="round"/>
<path d="M1042.7 959.5l2 .3 2.1-.1 2 .3 2-.2 2-.2 2-.1 2 .1 2.1-.3 2 0 2 .2 2 .1 2 .2 2-.2 2.1 .1 2 .2 2 0 2 .2 2 .4 2.1 .2 2-.6 2 .3 2-.2 2 0 2 .2 2.1 .5 2-.2 2 .2 2 0 2 .2 2.1-.3 2 .1 2-.2 2 .1 2-.4 2 .1 2.1-.2 2 .3 2 .3 2 .2 2 0 2-.1 2.1 .4 2-.1 2 0 2 .4 2 .5 2.1-.7 2-.3 2 .4 2-.4 2-.2 2 .2 2.1 .3 2-.2 2 .5 2 .3 2 .1 2.1 .1 2-.3 2 0 2 .4 2 .2 2 0 2.1 .3 2 0 2-.2 2-.3 2 .2 2 0 2.1 .1 2 .1 2 0 2 .4 2 .3 2.1-.1 2-.1 2 .2 2-.4 2 0 2-.3 2.1 0 2 .2 2 .2 2 .1 2 .3 2.1-.1 2 0 2 0 2-.2 2 .4 2 .2 2.1 .1 2 .1 2 .1 2-.1 2 .1 2.1-.4 2-.2 2-.2 2-.1 2-.3 2 .3 2.1-.1 2-.2 2 .1 2 .2 2 .2 2 .9 2.1 .7 2 0 2 0 2 .1 2-.8 2.1-.5 2 0 2 .2" fill="none" stroke="#7E2A82" stroke-width="1.15" stroke-linejoin="round"/>
<path d="M995.9 1053.4l2.1-3.7 2.2-3.3 2.1-3.6 2.1-2.8 2.1-2.5 2.2-2.7 2.1-2.7 2.1-2.4 2.2-2.6 2.1-2.5 2.1-2.2 2.1-1.9 2.2-1.7 2.1-1.8 2.1-1.4 2.1-2 2.2-1.6 2.1-1.4 2.1-1.4 2.2-1.5 2.1-.7 2.1-1.2" fill="none" stroke="#4D4D4D" stroke-width="1.15" stroke-linejoin="round"/>
<path d="M1042.7 1006l2-.1 2.1-.1 2 0 2-.1 2 0 2 0 2 .7 2.1 .2 2 .2 2 .2 2 .2 2-.7 2-.3 2.1-.1 2 0 2-.3 2 .3 2 .1 2.1-.3 2 0 2 .7 2-.2 2 .2 2 .3 2.1-.1 2-.4 2 .1 2-.2 2-.1 2.1 .2 2 .1 2-.1 2 .2 2 .2 2 0 2.1 .3 2 .3 2-.3 2 0 2 0 2-.1 2.1-.2 2 .2 2 0 2 .1 2-.1 2.1 .1 2-.1 2 .3 2 .1 2 0 2-.1 2.1 .4 2-.4 2 0 2 .2 2 .4 2.1-.1 2 .2 2-.2 2-.2 2-.2 2-.4 2.1 0 2 .5 2 .7 2-.5 2 .4 2 0 2.1-.2 2-.3 2 .1 2 0 2-.4 2.1-.1 2 .2 2 .2 2 0 2 .4 2-.3 2.1-.4 2 0 2-.1 2 .1 2 .3 2.1 0 2 0 2-.1 2-.2 2 0 2-.2 2.1 .3 2 .1 2 0 2 0 2 .3 2.1 0 2 .1 2 .1 2 .2 2-.1 2-.1 2.1 .3 2-.3 2-.3 2-.1 2 .4 2-.1 2.1-.1 2 .3 2-.1 2-.4 2-.1 2.1 .3 2 0 2 .2" fill="none" stroke="#4D4D4D" stroke-width="1.15" stroke-linejoin="round"/>
<path d="M995.9 1054l2.1-1.2 2.2-1.2 2.1-1.1 2.1-1.2 2.1-1 2.2-.7 2.1-.7 2.1-.9 2.2-.8 2.1-.8 2.1-1.1 2.1-.9 2.2-1.1 2.1-.9 2.1-.5 2.1-.8 2.2-.7 2.1-.9 2.1-.6 2.2-.9 2.1-.7 2.1-.8" fill="none" stroke="#FF8A1F" stroke-width="1.15" stroke-linejoin="round"/>
<path d="M1042.7 1034.7l2-.3 2.1 0 2-.1 2-.3 2 .2 2 0 2-.1 2.1 0 2 .4 2-.3 2 .3 2 .2 2-.2 2.1-.3 2 .2 2 .1 2-.3 2 .3 2.1 0 2-.3 2-.2 2 .4 2 .3 2 .3 2.1 .3 2 0 2-.4 2 .2 2-.1 2.1-.2 2 .4 2 .1 2-.2 2 .3 2 .1 2.1-.2 2-.1 2 .3 2-.2 2 .2 2 .1 2.1 .1 2-.2 2-.5 2-.3 2 .2 2.1 .1 2-.2 2 .4 2 0 2-.4 2-.1 2.1 .4 2 0 2 .4 2 .5 2 0 2.1-.2 2 .1 2-.1 2-.1 2 .2 2-.1 2.1 .3 2 .1 2-.1 2 0 2 .1 2-.6 2.1 .1 2 0 2 0 2 0 2 .2 2.1-.1 2-.2 2-.3 2-.2 2 0 2 .2 2.1 .2 2 0 2 .6 2-.1 2-.3 2.1 0 2 .3 2-.3 2 .2 2 .1 2 .1 2.1 .2 2-.2 2 .3 2 .3 2 .2 2.1-.2 2 .1 2 0 2-.4 2 0 2-.6 2.1 0 2-.5 2 .3 2-.3 2 .6 2 0 2.1 .2 2 .2 2 .3 2 0 2 .4 2.1 .3 2-.3 2-.2" fill="none" stroke="#FF8A1F" stroke-width="1.15" stroke-linejoin="round"/>
<path d="M995.9 1054.3l2.1-.5 2.2-.2 2.1-.5 2.1-.7 2.1-.3 2.2-.1 2.1-.8 2.1-.6 2.2-.5 2.1-.3 2.1-.8 2.1-.5 2.2-.1 2.1-.2 2.1-.5 2.1 .2 2.2 0 2.1-.4 2.1-.2 2.2 0 2.1-.4 2.1-.1" fill="none" stroke="#2DC92D" stroke-width="1.15" stroke-linejoin="round"/>
<path d="M1042.7 1047.9l2-.4 2.1-.3 2-.5 2-.1 2-.6 2 .2 2 .1 2.1 .1 2 .2 2 .1 2 .4 2 .4 2 .4 2.1-.2 2-.1 2 .1 2-.5 2-.5 2.1 .2 2 .3 2-.3 2 .2 2 .4 2 .1 2.1-.1 2 .3 2 .2 2-.3 2-.2 2.1-.1 2-.5 2 0 2 .1 2 .3 2 .2 2.1 .1 2-.1 2-.3 2-.2 2 .1 2 .1 2.1 .3 2 .1 2 0 2-.1 2 0 2.1-.2 2 .2 2 .1 2 0 2-.5 2 .2 2.1-.2 2-.2 2 0 2 .1 2 0 2.1 .5 2 .3 2 .2 2 .1 2-.1 2-.2 2.1-.2 2 .4 2 .1 2 .3 2 .1 2 .3 2.1-.6 2-.2 2 0 2 0 2-.1 2.1 .4 2 .1 2-.3 2 .1 2 .2 2-1 2.1 .2 2 .4 2 .1 2-.1 2 .7 2.1-.1 2-.1 2-.3 2 .1 2 .1 2 .2 2.1-.1 2-.1 2-.2 2-.1 2-.2 2.1-.1 2-.2 2 .2 2-.1 2-.1 2 .2 2.1 .3 2-.1 2 .2 2 0 2-.4 2-.1 2.1 .1 2-.2 2-.3 2 .4 2 .2 2.1-.2 2 0 2 .5" fill="none" stroke="#2DC92D" stroke-width="1.15" stroke-linejoin="round"/>
<path d="M995.9 1053.7l2.1-.3 2.2-.4 2.1-.1 2.1-.1 2.1-.1 2.2 0 2.1 .1 2.1 0 2.2-.2 2.1-.5 2.1-.5 2.1-.4 2.2-.2 2.1-.3 2.1 .4 2.1 .2 2.2-.3 2.1-.1 2.1 0 2.2-.2 2.1-.2 2.1 .3" fill="none" stroke="#2F2FFF" stroke-width="1.15" stroke-linejoin="round"/>
<path d="M1042.7 1050.9l2 .1 2.1-.2 2-.2 2 .1 2 .2 2-.1 2 .5 2.1 .4 2-.3 2 0 2 .3 2-.2 2-.2 2.1 .2 2 .1 2-.5 2-.4 2 .4 2.1 .1 2-.3 2 .6 2 .3 2-.2 2-.4 2.1 .6 2 .2 2 .2 2-.3 2 .1 2.1-.1 2-.5 2-.3 2 .2 2 0 2-.3 2.1-.2 2 .2 2-.2 2 0 2 .1 2 .4 2.1 0 2 .2 2 0 2-.2 2-.2 2.1-.1 2 .2 2-.1 2 .2 2 .3 2 .3 2.1-.5 2 0 2 0 2 .1 2-.2 2.1 .3 2-.1 2 .1 2 .2 2 0 2 0 2.1 .3 2-.4 2-.8 2 .1 2 .1 2 .3 2.1 .1 2 .3 2 0 2-.3 2-.4 2.1-.2 2 .1 2 .2 2 .3 2 .3 2 .6 2.1 0 2-.3 2-.5 2-.2 2-.3 2.1 .2 2 0 2 .3 2 .1 2-.1 2-.3 2.1 .5 2-.1 2-.1 2 .2 2 .2 2.1-.6 2-.2 2-.3 2 .2 2 0 2 .2 2.1 .5 2 .5 2 .1 2-.5 2 0 2-.3 2.1-.2 2-.2 2 .4 2 .1 2 .2 2.1-.2 2 0 2-.1" fill="none" stroke="#2F2FFF" stroke-width="1.15" stroke-linejoin="round"/>
<text x="1084" y="852.6" font-size="27.3" font-weight="bold">T<tspan font-size="19" font-weight="normal" stroke="#000" stroke-width="0.45" dy="-8">D</tspan><tspan dy="8" dx="-0.8">3A</tspan><tspan font-size="19" font-weight="normal" stroke="#000" stroke-width="0.45" dy="-8" dx="-0.5">D</tspan><tspan font-size="18.4" dy="12" dx="-2">R273Q</tspan></text>
<text x="1083" y="913.4" font-size="23.2" textLength="213.2" lengthAdjust="spacingAndGlyphs">K<tspan font-size="16.7">D</tspan> = 0.12 ± 0.09 nM</text>
<line x1="1435" y1="848.1" x2="1435" y2="1056.5" stroke="#000" stroke-width="2.2"/>
<line x1="1433.9" y1="1055.4" x2="1747.7" y2="1055.4" stroke="#000" stroke-width="2.2"/>
<line x1="1426.5" y1="1055.4" x2="1435" y2="1055.4" stroke="#000" stroke-width="2.2"/>
<text x="1423.5" y="1061.2" font-size="16.1" font-weight="bold" text-anchor="end">0</text>
<line x1="1426.5" y1="1003.8" x2="1435" y2="1003.8" stroke="#000" stroke-width="2.2"/>
<text x="1423.5" y="1009.6" font-size="16.1" font-weight="bold" text-anchor="end">5</text>
<line x1="1426.5" y1="952.2" x2="1435" y2="952.2" stroke="#000" stroke-width="2.2"/>
<text x="1423.5" y="958" font-size="16.1" font-weight="bold" text-anchor="end">10</text>
<line x1="1426.5" y1="900.7" x2="1435" y2="900.7" stroke="#000" stroke-width="2.2"/>
<text x="1423.5" y="906.5" font-size="16.1" font-weight="bold" text-anchor="end">15</text>
<line x1="1426.5" y1="849.1" x2="1435" y2="849.1" stroke="#000" stroke-width="2.2"/>
<text x="1423.5" y="854.9" font-size="16.1" font-weight="bold" text-anchor="end">20</text>
<line x1="1435" y1="1055.4" x2="1435" y2="1063.9" stroke="#000" stroke-width="2.2"/>
<text x="1435" y="1082.2" font-size="16.1" font-weight="bold" text-anchor="middle">0</text>
<line x1="1512.9" y1="1055.4" x2="1512.9" y2="1063.9" stroke="#000" stroke-width="2.2"/>
<text x="1512.9" y="1082.2" font-size="16.1" font-weight="bold" text-anchor="middle">200</text>
<line x1="1590.8" y1="1055.4" x2="1590.8" y2="1063.9" stroke="#000" stroke-width="2.2"/>
<text x="1590.8" y="1082.2" font-size="16.1" font-weight="bold" text-anchor="middle">400</text>
<line x1="1668.7" y1="1055.4" x2="1668.7" y2="1063.9" stroke="#000" stroke-width="2.2"/>
<text x="1668.7" y="1082.2" font-size="16.1" font-weight="bold" text-anchor="middle">600</text>
<line x1="1746.6" y1="1055.4" x2="1746.6" y2="1063.9" stroke="#000" stroke-width="2.2"/>
<text x="1746.6" y="1082.2" font-size="16.1" font-weight="bold" text-anchor="middle">800</text>
<text x="1588.8" y="1110.2" font-size="19.8" text-anchor="middle">Time (s)</text>
<text x="1394.3" y="956.8" font-size="19.8" text-anchor="middle" transform="rotate(-90 1394.3 956.8)">Response  (RU)</text>
<path d="M1435 1055.4l.9-5.9 1-5.7 .9-5.5 .9-5.3 1-5.1 .9-4.8 2-9.6 1.9-8.8 2-8.1 1.9-7.5 2-6.8 2-6.3 1.9-5.8 2-5.3 1.9-4.9 2-4.6 2-4.1 1.9-3.8 2-3.5 1.9-3.2 2-3 1.9-2.7 2-2.5 2-2.3 1.9-2.2 2-1.9 1.9-1.8" fill="none" stroke="#000" stroke-width="1.1" stroke-linejoin="round"/>
<path d="M1481.7 924.4l1.5 0 1.4 .1 1.4 0 1.4 0 1.4 .1 1.4 0 1.5 0 1.4 .1 1.4 0 1.4 0 1.4 .1 3.9 0 7.4 .2 7.4 .2 7.4 .1 7.4 .2 7.4 .1 7.3 .2 7.4 .1 7.4 .2 7.4 .1 7.4 .1 7.4 .2 7.4 .1 7.3 .1 7.4 .2 7.4 .1 7.4 .1 7.4 .1 7.4 .2 7.4 .1 7.4 .1 7.3 .1 7.4 .1 7.4 .1 7.4 .1 7.4 .1 7.4 .1 7.4 .1 7.4 .1 7.3 .1" fill="none" stroke="#000" stroke-width="1.1" stroke-linejoin="round"/>
<path d="M1435 1055.4l.9-2 1-2 .9-2 .9-1.9 1-1.9 .9-1.8 2-3.8 1.9-3.6 2-3.4 1.9-3.3 2-3.2 2-3 1.9-2.9 2-2.8 1.9-2.7 2-2.5 2-2.5 1.9-2.4 2-2.2 1.9-2.2 2-2.1 1.9-2 2-1.9 2-1.8 1.9-1.8 2-1.7 1.9-1.6" fill="none" stroke="#000" stroke-width="1.1" stroke-linejoin="round"/>
<path d="M1481.7 990.4l1.5 0 1.4 0 1.4 .1 1.4 0 1.4 0 1.4 0 1.5 0 1.4 0 1.4 .1 1.4 0 1.4 0 3.9 0 7.4 .1 7.4 .1 7.4 .1 7.4 .1 7.4 0 7.3 .1 7.4 .1 7.4 .1 7.4 0 7.4 .1 7.4 .1 7.4 0 7.3 .1 7.4 .1 7.4 0 7.4 .1 7.4 0 7.4 .1 7.4 .1 7.4 0 7.3 .1 7.4 0 7.4 .1 7.4 0 7.4 .1 7.4 0 7.4 .1 7.4 0 7.3 .1" fill="none" stroke="#000" stroke-width="1.1" stroke-linejoin="round"/>
<path d="M1435 1055.4l.9-.7 1-.7 .9-.6 .9-.7 1-.6 .9-.7 2-1.3 1.9-1.3 2-1.2 1.9-1.3 2-1.2 2-1.1 1.9-1.2 2-1.1 1.9-1 2-1.1 2-1 1.9-1 2-1 1.9-1 2-.9 1.9-.9 2-.9 2-.8 1.9-.9 2-.8 1.9-.8" fill="none" stroke="#000" stroke-width="1.1" stroke-linejoin="round"/>
<path d="M1481.7 1029.6l1.5 0 1.4 0 1.4 0 1.4 0 1.4 0 1.4 0 1.5 0 1.4 0 1.4 0 1.4 .1 1.4 0 3.9 0 7.4 0 7.4 0 7.4 0 7.4 0 7.4 .1 7.3 0 7.4 0 7.4 0 7.4 0 7.4 .1 7.4 0 7.4 0 7.3 0 7.4 0 7.4 0 7.4 .1 7.4 0 7.4 0 7.4 0 7.4 0 7.3 0 7.4 0 7.4 .1 7.4 0 7.4 0 7.4 0 7.4 0 7.4 0 7.3 0" fill="none" stroke="#000" stroke-width="1.1" stroke-linejoin="round"/>
<path d="M1435 1055.4l.9-.2 1-.2 .9-.2 .9-.3 1-.2 .9-.2 2-.4 1.9-.4 2-.4 1.9-.4 2-.4 2-.4 1.9-.3 2-.4 1.9-.3 2-.4 2-.3 1.9-.3 2-.3 1.9-.3 2-.3 1.9-.3 2-.3 2-.3 1.9-.2 2-.3 1.9-.3" fill="none" stroke="#000" stroke-width="1.1" stroke-linejoin="round"/>
<path d="M1481.7 1047.1l1.5 0 1.4 0 1.4 0 1.4 0 1.4 0 1.4 0 1.5 0 1.4 0 1.4 0 1.4 0 1.4 0 3.9 0 7.4 0 7.4 0 7.4 0 7.4 0 7.4 0 7.3 0 7.4 0 7.4 0 7.4 0 7.4 0 7.4 0 7.4 0 7.3 0 7.4 0 7.4 0 7.4 0 7.4 0 7.4 0 7.4 0 7.4 0 7.3 0 7.4 0 7.4 0 7.4 0 7.4 0 7.4 0 7.4 0 7.4 0 7.3 0" fill="none" stroke="#000" stroke-width="1.1" stroke-linejoin="round"/>
<path d="M1435 1055.4l.9-.1 1-.1 .9 0 .9-.1 1-.1 .9-.1 2-.1 1.9-.2 2-.1 1.9-.2 2-.1 2-.2 1.9-.1 2-.1 1.9-.2 2-.1 2-.1 1.9-.1 2-.2 1.9-.1 2-.1 1.9-.1 2-.1 2-.1 1.9-.1 2-.1 1.9-.1" fill="none" stroke="#000" stroke-width="1.1" stroke-linejoin="round"/>
<path d="M1481.7 1052.3l1.5 0 1.4 0 1.4 0 1.4 0 1.4 0 1.4 0 1.5 0 1.4 0 1.4 0 1.4 0 1.4 .1 3.9 0 7.4 0 7.4 0 7.4 0 7.4 0 7.4 .1 7.3 0 7.4 0 7.4 0 7.4 0 7.4 0 7.4 .1 7.4 0 7.3 0 7.4 0 7.4 0 7.4 0 7.4 .1 7.4 0 7.4 0 7.4 0 7.3 0 7.4 0 7.4 0 7.4 .1 7.4 0 7.4 0 7.4 0 7.4 0 7.3 0" fill="none" stroke="#000" stroke-width="1.1" stroke-linejoin="round"/>
<path d="M1435 1055.4l2.1-13.4 2.1-12.4 2.2-11.3 2.1-10 2.1-9.2 2.1-8.4 2.2-7.9 2.1-6.9 2.1-6.6 2.1-5.9 2.2-5.7 2.1-4.8 2.1-4.6 2.1-4.6 2.2-3.5 2.1-3.3 2.1-3 2.1-3 2.2-2.6 2.1-2.6 2.1-2.2 2.1-2.2" fill="none" stroke="#7E2A82" stroke-width="1.15" stroke-linejoin="round"/>
<path d="M1481.7 923.5l2.1 .2 2 .2 2 .2 2.1 .1 2 .1 2-.2 2.1-.2 2 0 2 .4 2.1-.3 2 .2 2 .1 2.1 .1 2-.3 2 .1 2.1-.3 2 .6 2 .2 2.1 .1 2 .2 2 .2 2-.1 2.1-.2 2 .3 2-.1 2.1 .1 2-.1 2 .1 2.1-.5 2 0 2 .2 2.1-.1 2-.2 2 .3 2.1-.3 2 0 2 .1 2.1-.1 2 .3 2 .3 2.1 .5 2 .3 2-.1 2.1 .4 2 .2 2-.5 2.1-.2 2 .1 2 0 2 0 2.1-.1 2 .4 2 .3 2.1-.6 2-.2 2 .1 2.1 .3 2 .1 2 .3 2.1 .3 2 .2 2-1 2.1 0 2 .3 2 0 2.1 .1 2 .6 2 0 2.1-.2 2 0 2 .2 2.1 0 2 0 2 .2 2.1-.1 2-.3 2 .2 2 0 2.1-.4 2 0 2 .2 2.1-.3 2 .2 2 .7 2.1 .2 2 0 2 .1 2.1-.1 2-.3 2 .3 2.1-.1 2 0 2 .1 2.1-.1 2 .3 2 .2 2.1 0 2-.3 2 .1 2.1-.3 2 .2 2 .2 2.1 .2 2 .4 2-.1 2.1-.3 2 0 2 .4 2-.3 2.1 .4 2-.2 2 .1 2.1 0 2 .2 2-.3" fill="none" stroke="#7E2A82" stroke-width="1.15" stroke-linejoin="round"/>
<path d="M1435 1055.1l2.1-5 2.1-4.2 2.2-4 2.1-4 2.1-3.5 2.1-3.4 2.2-3.6 2.1-3.3 2.1-2.8 2.1-3.5 2.2-2.5 2.1-2.6 2.1-2.6 2.1-2.5 2.2-2.6 2.1-2.3 2.1-2.2 2.1-2.2 2.2-2.2 2.1-1.8 2.1-2.1 2.1-1.9" fill="none" stroke="#4D4D4D" stroke-width="1.15" stroke-linejoin="round"/>
<path d="M1481.7 991.4l2.1 0 2-.1 2 .1 2.1 0 2 .4 2-.4 2.1 0 2 .1 2-.1 2.1-.3 2 .6 2 .3 2.1 .1 2 .2 2 .2 2.1-.2 2-.1 2 .1 2.1-.1 2 .1 2 0 2 .2 2.1 .1 2 .4 2-.5 2.1 .2 2-.1 2-.2 2.1-.4 2 .2 2 .1 2.1 .2 2 0 2 0 2.1 0 2-.2 2-.1 2.1-.3 2 0 2-.2 2.1-.1 2 0 2 .1 2.1 0 2 .2 2 .1 2.1-.3 2 .2 2 .1 2 .1 2.1 .1 2 .4 2 .2 2.1 .4 2-.1 2 .3 2.1 0 2-.2 2-.6 2.1-.2 2-.4 2 .2 2.1 .3 2 .3 2 .3 2.1 .5 2-.1 2-.2 2.1-.2 2 .1 2-.4 2.1 .1 2 .1 2 .5 2.1-.1 2-.2 2-.2 2-.1 2.1-.1 2-.3 2 .5 2.1-.1 2 0 2 .1 2.1 0 2-.1 2 .1 2.1 0 2-.2 2 .3 2.1-.1 2 .2 2 .1 2.1 .1 2 .2 2 .2 2.1 .1 2 0 2-.3 2.1 0 2-.1 2 .3 2.1 .2 2 .3 2 .1 2.1 .4 2-.4 2-.2 2 0 2.1-.3 2-.7 2 .1 2.1 .1 2 0 2-.1" fill="none" stroke="#4D4D4D" stroke-width="1.15" stroke-linejoin="round"/>
<path d="M1435 1055.1l2.1-1.9 2.1-1.5 2.2-1.4 2.1-1.4 2.1-1.3 2.1-1.3 2.2-1.4 2.1-1 2.1-1.1 2.1-1.6 2.2-1 2.1-1.2 2.1-1.4 2.1-1.3 2.2-.7 2.1-1.2 2.1-1.2 2.1-1 2.2-1.3 2.1-1.3 2.1-.8 2.1-.7" fill="none" stroke="#FF8A1F" stroke-width="1.15" stroke-linejoin="round"/>
<path d="M1481.7 1027.7l2.1-.3 2-.3 2 0 2.1 0 2-.2 2 .5 2.1 .1 2 .1 2 .3 2.1 .1 2-.4 2 .2 2.1 .2 2 0 2-.1 2.1 .4 2 .2 2-.1 2.1 .2 2 .1 2-.3 2-.4 2.1-.2 2-.3 2-.2 2.1 0 2 .4 2 .1 2.1 .2 2 .2 2 .4 2.1 0 2 .2 2 .3 2.1-.1 2-.1 2-.1 2.1-.1 2-.3 2 .2 2.1 0 2 .4 2 .4 2.1 .5 2-.3 2 .3 2.1-.4 2-.6 2-.3 2 0 2.1-.6 2-.1 2-.2 2.1-.1 2 .4 2 .3 2.1 .2 2 .7 2 .4 2.1-.6 2 .2 2 0 2.1-.1 2-.3 2 .5 2.1 0 2 .2 2 .2 2.1 .1 2-.1 2-.4 2.1-.4 2-.6 2-.2 2.1 .1 2 .6 2 .2 2 .8 2.1 .1 2-.3 2-.3 2.1-.2 2-.3 2 .2 2.1 .4 2 .2 2 0 2.1-.5 2-.1 2 0 2.1 0 2 .3 2 .6 2.1-.2 2-.1 2-.1 2.1 .2 2-.2 2 .3 2.1 0 2 .2 2-.1 2.1 0 2-.2 2 .4 2.1 .1 2-.3 2-.1 2-.2 2.1-.5 2-.3 2 .2 2.1 .1 2 0 2 .4" fill="none" stroke="#FF8A1F" stroke-width="1.15" stroke-linejoin="round"/>
<path d="M1435 1055l2.1-.5 2.1-.6 2.2-.5 2.1-.1 2.1-.4 2.1-.4 2.2-.4 2.1 .1 2.1-.9 2.1-.3 2.2-.5 2.1-.4 2.1-.4 2.1-.2 2.2-.2 2.1-.2 2.1-.4 2.1-.7 2.2-.4 2.1-.6 2.1-.5 2.1-.4" fill="none" stroke="#2DC92D" stroke-width="1.15" stroke-linejoin="round"/>
<path d="M1481.7 1046.4l2.1 .1 2 .1 2 .4 2.1 .2 2-.1 2-.4 2.1-.1 2 0 2-.1 2.1-.1 2 0 2-.1 2.1-.2 2 .5 2-.1 2.1 0 2-.2 2 .1 2.1-.2 2-.1 2 .3 2 .7 2.1 .1 2-.5 2-.1 2.1-.2 2-.2 2-.6 2.1 .4 2 .3 2 .4 2.1-.5 2 .4 2-.4 2.1 0 2-.3 2 .2 2.1 .4 2 0 2-.1 2.1 0 2 0 2-.4 2.1-.1 2 .1 2-.1 2.1 .1 2 .3 2 .4 2 .1 2.1 0 2-.1 2-.4 2.1-.2 2 0 2-.2 2.1 0 2 .1 2 0 2.1 .4 2-.1 2 .2 2.1-.1 2 0 2-.5 2.1 .2 2 0 2-.1 2.1 0 2 .2 2-.1 2.1-.3 2 0 2 0 2.1 .3 2 .1 2 .2 2-.2 2.1-.1 2-.2 2-.3 2.1 0 2 .3 2 .1 2.1 .2 2 .1 2-.1 2.1 0 2 .2 2-.3 2.1-.1 2 .2 2 .2 2.1-.3 2 .3 2 .7 2.1-.1 2-.1 2 .2 2.1-.2 2-.5 2 0 2.1-.1 2 .1 2-.2 2.1-.2 2-.2 2-.2 2 .5 2.1 .3 2 .2 2 .1 2.1 .5 2-.6 2-.2" fill="none" stroke="#2DC92D" stroke-width="1.15" stroke-linejoin="round"/>
<path d="M1435 1055.2l2.1-.4 2.1-.2 2.2 .1 2.1-.3 2.1-.3 2.1 0 2.2-.2 2.1-.4 2.1 0 2.1-.5 2.2-.3 2.1-.7 2.1-.4 2.1-.2 2.2 0 2.1-.6 2.1 .1 2.1 .2 2.2-.4 2.1-.5 2.1 0 2.1-.2" fill="none" stroke="#2F2FFF" stroke-width="1.15" stroke-linejoin="round"/>
<path d="M1481.7 1050.4l2.1 0 2 0 2-.2 2.1-.1 2-.1 2 .2 2.1-.4 2 .2 2 .1 2.1 .1 2-.4 2 .2 2.1-.4 2 .1 2-.2 2.1 .2 2-.3 2 .3 2.1-.2 2 .1 2 0 2 .5 2.1-.2 2 .5 2 .3 2.1-.1 2 .2 2-.2 2.1-.2 2-.3 2 .1 2.1-.4 2 .3 2 .1 2.1 0 2-.2 2-.1 2.1-.3 2-.1 2 0 2.1 .5 2 .1 2 .1 2.1 .1 2-.2 2-.5 2.1 .1 2 0 2-.2 2 .5 2.1 .3 2 .1 2 .1 2.1 .2 2-.2 2 .1 2.1-.1 2 .1 2-.4 2.1-.2 2-.2 2 0 2.1 0 2 .1 2-.1 2.1 .5 2 0 2 0 2.1-.2 2 .5 2-.5 2.1-.2 2 .1 2 .6 2.1-.2 2 .3 2 .1 2 0 2.1-.6 2-.1 2-.1 2.1 .2 2 .1 2 .2 2.1-.2 2-.1 2-.3 2.1 0 2 0 2-.2 2.1 .3 2-.1 2-.4 2.1 .4 2 .7 2-.1 2.1 .1 2 .3 2-.4 2.1-.3 2-.2 2 .1 2.1 0 2-.3 2 .3 2.1-.3 2 .1 2 .1 2 .1 2.1-.2 2 .6 2-.1 2.1 .1 2 .2 2 .1" fill="none" stroke="#2F2FFF" stroke-width="1.15" stroke-linejoin="round"/>
<path d="M1435 1055.5l2.1-.2 2.1-.1 2.2-.6 2.1 0 2.1-.1 2.1 .1 2.2 0 2.1 .2 2.1-.2 2.1-.5 2.2-.3 2.1-.3 2.1-.2 2.1 0 2.2 0 2.1-.2 2.1-.3 2.1 .1 2.2 .2 2.1 .1 2.1 .1 2.1 .1" fill="none" stroke="#2F2FFF" stroke-width="1.15" stroke-linejoin="round"/>
<path d="M1481.7 1053.3l2.1-.1 2 .1 2 .3 2.1-.8 2-.3 2 .2 2.1-.4 2-.4 2 .5 2.1-.2 2 .2 2 .3 2.1 .4 2-.2 2 .8 2.1-.2 2-.2 2-.2 2.1 0 2-.5 2 .2 2 .1 2.1 .1 2-.1 2 .3 2.1-.2 2 .2 2 .1 2.1 .2 2-.1 2 .1 2.1 .2 2 0 2 0 2.1 .1 2 0 2-.2 2.1 0 2-.1 2 .2 2.1 .6 2 .1 2 .2 2.1 .1 2 0 2-.6 2.1 .2 2-.3 2-.1 2 0 2.1 .5 2-.3 2 0 2.1-.2 2-.6 2-.3 2.1 0 2 .1 2 .2 2.1 .4 2 .2 2-.3 2.1 .3 2 0 2-.1 2.1-.2 2 .6 2-.3 2.1 .1 2 .3 2 .1 2.1-.1 2 .1 2-.2 2.1 0 2-.1 2 0 2-.1 2.1 .1 2-.2 2 .3 2.1 0 2 .2 2 0 2.1 0 2-.4 2 0 2.1-.2 2 .3 2 .6 2.1 .3 2 .1 2 .3 2.1 0 2-.4 2 0 2.1 .1 2-.6 2-.4 2.1 .2 2-.3 2-.1 2.1 .1 2 .3 2 .2 2.1 .2 2 0 2 0 2 .1 2.1-.1 2-.1 2-.2 2.1 .1 2-.3 2-.1" fill="none" stroke="#2F2FFF" stroke-width="1.15" stroke-linejoin="round"/>
<line x1="1481.7" y1="1052.3" x2="1481.7" y2="1043" stroke="#2F2FFF" stroke-width="1.3"/>
<line x1="1435.4" y1="1055.4" x2="1435.4" y2="1039.9" stroke="#2F2FFF" stroke-width="1.6"/>
<text x="1518.6" y="852" font-size="27.3" font-weight="bold">T<tspan font-size="19" font-weight="normal" stroke="#000" stroke-width="0.45" dy="-8">D</tspan><tspan dy="8" dx="-0.8">3A</tspan><tspan font-size="19" font-weight="normal" stroke="#000" stroke-width="0.45" dy="-8" dx="-0.5">D</tspan><tspan font-size="18.4" dy="12" dx="-2">H345F</tspan></text>
<text x="1518.2" y="912.8" font-size="23.2" textLength="214.1" lengthAdjust="spacingAndGlyphs">K<tspan font-size="16.7">D</tspan> = 0.85 ± 0.56 nM</text>
<line x1="1772.6" y1="892.2" x2="1794.6" y2="892.2" stroke="#7E2A82" stroke-width="1.3"/>
<text x="1807" y="898.1" font-size="19.5">100 nM</text>
<line x1="1772.6" y1="919.5" x2="1794.6" y2="919.5" stroke="#4D4D4D" stroke-width="1.3"/>
<text x="1807" y="925.4" font-size="19.5">30 nM</text>
<line x1="1772.6" y1="947.3" x2="1794.6" y2="947.3" stroke="#FF8A1F" stroke-width="1.3"/>
<text x="1807" y="953.1" font-size="19.5">10 nM</text>
<line x1="1772.6" y1="974.6" x2="1794.6" y2="974.6" stroke="#2DC92D" stroke-width="1.3"/>
<text x="1807" y="980.5" font-size="19.5">3 nM</text>
<line x1="1772.6" y1="1002.4" x2="1794.6" y2="1002.4" stroke="#2F2FFF" stroke-width="1.3"/>
<text x="1807" y="1008.2" font-size="19.5">1 nM</text>
<line x1="115.5" y1="1154.3" x2="115.5" y2="1364" stroke="#000" stroke-width="2.2"/>
<line x1="114.4" y1="1362.9" x2="428" y2="1362.9" stroke="#000" stroke-width="2.2"/>
<line x1="107" y1="1362.9" x2="115.5" y2="1362.9" stroke="#000" stroke-width="2.2"/>
<text x="104" y="1368.8" font-size="16.5" font-weight="bold" text-anchor="end">0</text>
<line x1="107" y1="1311" x2="115.5" y2="1311" stroke="#000" stroke-width="2.2"/>
<text x="104" y="1316.9" font-size="16.5" font-weight="bold" text-anchor="end">5</text>
<line x1="107" y1="1259.1" x2="115.5" y2="1259.1" stroke="#000" stroke-width="2.2"/>
<text x="104" y="1265" font-size="16.5" font-weight="bold" text-anchor="end">10</text>
<line x1="107" y1="1207.2" x2="115.5" y2="1207.2" stroke="#000" stroke-width="2.2"/>
<text x="104" y="1213.1" font-size="16.5" font-weight="bold" text-anchor="end">15</text>
<line x1="107" y1="1155.3" x2="115.5" y2="1155.3" stroke="#000" stroke-width="2.2"/>
<text x="104" y="1161.2" font-size="16.5" font-weight="bold" text-anchor="end">20</text>
<line x1="115.5" y1="1362.9" x2="115.5" y2="1371.4" stroke="#000" stroke-width="2.2"/>
<text x="115.5" y="1390.4" font-size="16.5" font-weight="bold" text-anchor="middle">0</text>
<line x1="193.3" y1="1362.9" x2="193.3" y2="1371.4" stroke="#000" stroke-width="2.2"/>
<text x="193.3" y="1390.4" font-size="16.5" font-weight="bold" text-anchor="middle">200</text>
<line x1="271.2" y1="1362.9" x2="271.2" y2="1371.4" stroke="#000" stroke-width="2.2"/>
<text x="271.2" y="1390.4" font-size="16.5" font-weight="bold" text-anchor="middle">400</text>
<line x1="349.1" y1="1362.9" x2="349.1" y2="1371.4" stroke="#000" stroke-width="2.2"/>
<text x="349.1" y="1390.4" font-size="16.5" font-weight="bold" text-anchor="middle">600</text>
<line x1="426.9" y1="1362.9" x2="426.9" y2="1371.4" stroke="#000" stroke-width="2.2"/>
<text x="426.9" y="1390.4" font-size="16.5" font-weight="bold" text-anchor="middle">800</text>
<text x="269.2" y="1419.2" font-size="19.8" text-anchor="middle">Time (s)</text>
<text x="74.8" y="1263.6" font-size="19.8" text-anchor="middle" transform="rotate(-90 74.8 1263.6)">Response  (RU)</text>
<path d="M115.5 1335.9l1.4-.7 1.4-.7 1.4-.6 1.4-.7 1.4-.6 1.4-.5 2.9-1.2 3-1 2.9-1 3-.9 2.9-.8 2.9-.7 3-.7 2.9-.7 2.9-.5 3-.6 2.9-.5 2.9-.4 3-.4 2.9-.4 2.9-.4 3-.3 2.9-.3 3-.3 2.9-.2 2.9-.2 3-.3" fill="none" stroke="#000" stroke-width="1.1" stroke-linejoin="round"/>
<path d="M185.6 1346.8l1.4 .1 1.4 0 1.4 .1 1.4 0 1.4 .1 1.5 0 1.4 .1 1.4 0 1.4 .1 1.4 0 1.4 0 3.9 .2 6.6 .2 6.6 .2 6.6 .2 6.5 .2 6.6 .2 6.6 .2 6.6 .2 6.5 .2 6.6 .2 6.6 .2 6.6 .2 6.6 .2 6.5 .1 6.6 .2 6.6 .2 6.6 .2 6.5 .1 6.6 .2 6.6 .2 6.6 .1 6.5 .2 6.6 .1 6.6 .2 6.6 .1 6.6 .2 6.5 .1 6.6 .1 6.6 .2 6.6 .1" fill="none" stroke="#000" stroke-width="1.1" stroke-linejoin="round"/>
<path d="M115.5 1352l1.4-.2 1.4-.1 1.4-.2 1.4-.1 1.4-.2 1.4-.1 2.9-.4 3-.3 2.9-.3 3-.3 2.9-.4 2.9-.3 3-.3 2.9-.3 2.9-.4 3-.3 2.9-.3 2.9-.3 3-.4 2.9-.3 2.9-.3 3-.4 2.9-.3 3-.3 2.9-.3 2.9-.4 3-.3" fill="none" stroke="#000" stroke-width="1.1" stroke-linejoin="round"/>
<path d="M185.6 1355.1l1.4 0 1.4 .1 1.4 0 1.4 0 1.4 0 1.5 0 1.4 .1 1.4 0 1.4 0 1.4 0 1.4 .1 3.9 0 6.6 .1 6.6 .1 6.6 .1 6.5 .1 6.6 .1 6.6 .1 6.6 .1 6.5 .1 6.6 .1 6.6 0 6.6 .1 6.6 .1 6.5 .1 6.6 .1 6.6 0 6.6 .1 6.5 .1 6.6 .1 6.6 0 6.6 .1 6.5 .1 6.6 .1 6.6 0 6.6 .1 6.6 .1 6.5 0 6.6 .1 6.6 0 6.6 .1" fill="none" stroke="#000" stroke-width="1.1" stroke-linejoin="round"/>
<path d="M115.5 1358.2l1.4 0 1.4-.1 1.4 0 1.4-.1 1.4 0 1.4-.1 2.9-.1 3-.1 2.9-.1 3-.1 2.9-.1 2.9-.1 3-.1 2.9-.2 2.9-.1 3-.1 2.9-.1 2.9-.1 3-.1 2.9-.1 2.9-.1 3-.1 2.9-.1 3-.1 2.9-.1 2.9-.2 3-.1" fill="none" stroke="#000" stroke-width="1.1" stroke-linejoin="round"/>
<path d="M185.6 1359.6l1.4 0 1.4 0 1.4 0 1.4 0 1.4 0 1.5 0 1.4 0 1.4 0 1.4 0 1.4 0 1.4 0 3.9 .1 6.6 0 6.6 0 6.6 0 6.5 .1 6.6 0 6.6 0 6.6 0 6.5 .1 6.6 0 6.6 0 6.6 0 6.6 .1 6.5 0 6.6 0 6.6 0 6.6 .1 6.5 0 6.6 0 6.6 0 6.6 0 6.5 .1 6.6 0 6.6 0 6.6 0 6.6 0 6.5 .1 6.6 0 6.6 0 6.6 0" fill="none" stroke="#000" stroke-width="1.1" stroke-linejoin="round"/>
<path d="M115.5 1362.9l1.4 0 1.4-.1 1.4 0 1.4 0 1.4-.1 1.4 0 2.9-.1 3-.1 2.9 0 3-.1 2.9-.1 2.9 0 3-.1 2.9-.1 2.9 0 3-.1 2.9-.1 2.9 0 3-.1 2.9 0 2.9-.1 3-.1 2.9 0 3-.1 2.9 0 2.9-.1 3-.1" fill="none" stroke="#000" stroke-width="1.1" stroke-linejoin="round"/>
<path d="M185.6 1361.7l1.4 0 1.4 0 1.4 0 1.4 0 1.4 0 1.5 0 1.4 0 1.4 0 1.4 0 1.4 0 1.4 0 3.9 0 6.6 0 6.6 0 6.6 0 6.5 0 6.6 0 6.6 0 6.6 0 6.5 0 6.6 0 6.6 .1 6.6 0 6.6 0 6.5 0 6.6 0 6.6 0 6.6 0 6.5 0 6.6 0 6.6 0 6.6 0 6.5 0 6.6 0 6.6 0 6.6 0 6.6 0 6.5 0 6.6 .1 6.6 0 6.6 0" fill="none" stroke="#000" stroke-width="1.1" stroke-linejoin="round"/>
<path d="M115.5 1362.6l2.1-12.6 2-7.6 2.1-4.5 2-2.6 2.1-2.1 2.1-1.4 2-.9 2.1-1 2-.7 2.1-1 2.1-.5 2-1.2 2.1-1 2.1-1 2-.5 2.1-.7 2-.4 2.1-.2 2.1-.3 2-.4 2.1-.6 2-.1 2.1-.3 2.1 0 2-.3 2.1-.2 2-.3 2.1-.2 2.1-.6 2-.3 2.1-.4 2 .1 2.1-.2 2.1-.1" fill="none" stroke="#7E2A82" stroke-width="1.15" stroke-linejoin="round"/>
<path d="M185.6 1320l2 7.4 2 5.4 2 3.8 2 2.8 2.1 2.3 2 1.6 2 1.1 2 .8 2.1 .9 2 .8 2 .2 2 .4 2 .2 2.1 .1 2 .1 2 .3 2 .4 2 .5 2.1 .2 2 .1 2-.1 2 .1 2.1 0 2 .1 2-.2 2 .2 2 0 2.1-.1 2 0 2 .4 2-.1 2-.1 2.1 0 2-.1 2-.2 2 .4 2 .3 2.1 .3 2 .2 2 .1 2 .1 2.1 0 2 .4 2-.1 2 0 2 .1 2.1-.1 2-.3 2 .3 2 .3 2 .2 2.1 0 2 .2 2 0 2 .3 2-.1 2.1 0 2 .2 2 0 2-.3 2.1 .3 2 .2 2-.1 2 .1 2 .3 2.1-.2 2 0 2 .2 2-.1 2-.1 2.1 .2 2 .1 2 0 2-.1 2-.2 2.1 .1 2-.3 2 0 2 .2 2.1 .2 2-.2 2-.1 2 .3 2 0 2.1 .1 2 .2 2 .1 2-.2 2 .3 2.1 0 2 0 2 .4 2 0 2-.1 2.1 0 2 0 2-.5 2 .2 2.1 0 2-.2 2 .2 2 .4 2 0 2.1 0" fill="none" stroke="#7E2A82" stroke-width="1.15" stroke-linejoin="round"/>
<path d="M115.5 1362.9l2.1-4.2 2-2.5 2.1-1.8 2-.8 2.1-.6 2.1-.5 2-.5 2.1-.6 2-.3 2.1-.4 2.1 0 2-.5 2.1 .1 2.1-.5 2-.5 2.1-.4 2-.2 2.1-.2 2.1-.1 2 .2 2.1-.3 2-.2 2.1-.5 2.1-.4 2-.6 2.1-.2 2-.2 2.1-.2 2.1-.1 2-.5 2.1-.2 2-.4 2.1-.5 2.1-.3" fill="none" stroke="#4D4D4D" stroke-width="1.15" stroke-linejoin="round"/>
<path d="M185.6 1344.7l2 3.6 2 2.2 2 1.6 2 1 2.1 .7 2 .4 2 .5 2 .4 2.1 .3 2 .2 2 .2 2 .2 2-.3 2.1 .1 2 0 2 .2 2 0 2 0 2.1-.1 2 0 2 0 2 .1 2.1 .2 2 .4 2 .3 2-.2 2 0 2.1-.2 2 .1 2-.2 2 .3 2-.1 2.1 .4 2-.2 2 .1 2 0 2 0 2.1-.3 2 .1 2-.1 2-.1 2.1 .1 2 0 2 .2 2 .3 2 .3 2.1 0 2 .4 2-.8 2-.1 2-.5 2.1-.2 2 .1 2 .5 2-.2 2 .3 2.1 .1 2-.1 2 .3 2 .4 2.1 0 2 0 2 .2 2-.1 2-.1 2.1 .1 2 0 2-.1 2-.1 2 .2 2.1 .2 2 0 2 .3 2 0 2-.1 2.1 0 2 0 2-.1 2 .1 2.1 .1 2-.1 2-.3 2 .2 2-.1 2.1 0 2-.1 2 .4 2 .1 2-.2 2.1 .1 2 .2 2 .2 2-.2 2 .3 2.1-.3 2-.1 2-.1 2-.2 2.1 0 2 .1 2 .1 2-.1 2 .1 2.1-.1" fill="none" stroke="#4D4D4D" stroke-width="1.15" stroke-linejoin="round"/>
<path d="M115.5 1363l2.1-1.4 2-.7 2.1-.8 2-.3 2.1-.3 2.1-.2 2-.5 2.1 .4 2-.5 2.1 0 2.1 0 2 0 2.1-.8 2.1 .1 2 0 2.1-.3 2-.3 2.1 .3 2.1 0 2-.3 2.1-.5 2 .1 2.1-.6 2.1 0 2-.1 2.1 0 2-.3 2.1 .3 2.1-.4 2-.3 2.1 .1 2-.1 2.1-.4 2.1-.1" fill="none" stroke="#FF8A1F" stroke-width="1.15" stroke-linejoin="round"/>
<path d="M185.6 1354.9l2 1.3 2 .9 2 .6 2 .6 2.1 .3 2 .5 2 .2 2 .3 2.1 .1 2 .2 2 .1 2-.1 2-.1 2.1 0 2-.1 2 0 2-.1 2 0 2.1-.1 2 .1 2 0 2 .3 2.1-.1 2 .2 2-.2 2-.3 2 0 2.1 0 2 0 2-.4 2 0 2 0 2.1-.1 2 0 2 .4 2 .2 2 0 2.1 .3 2 0 2-.1 2 0 2.1 .3 2-.1 2-.3 2 .2 2 0 2.1-.1 2-.1 2 .3 2 .1 2 .1 2.1-.5 2 .2 2 0 2-.2 2-.1 2.1 .1 2 .1 2 .1 2 .1 2.1 0 2 .2 2-.4 2 0 2 .1 2.1 .1 2-.1 2 .1 2-.1 2 0 2.1-.1 2 0 2-.3 2-.1 2-.3 2.1 .3 2 .2 2 .4 2 .1 2.1 .3 2-.1 2 0 2 0 2-.2 2.1-.1 2-.1 2-.2 2-.1 2 .1 2.1 0 2 0 2 .1 2 .2 2-.2 2.1-.2 2-.1 2 .1 2 .2 2.1 .2 2 .2 2 0 2 0 2-.2 2.1-.1" fill="none" stroke="#FF8A1F" stroke-width="1.15" stroke-linejoin="round"/>
<path d="M115.5 1362.8l2.1-.1 2-.2 2.1 0 2 .1 2.1-.1 2.1 .2 2 .2 2.1 0 2-.1 2.1-.1 2.1-.2 2-.1 2.1-.2 2.1 0 2 .1 2.1 .1 2-.2 2.1-.1 2.1 0 2-.2 2.1-.4 2-.2 2.1 .1 2.1-.2 2-.4 2.1 .1 2-.1 2.1 .2 2.1-.2 2 .2 2.1 .2 2 0 2.1-.3 2.1 .1" fill="none" stroke="#2DC92D" stroke-width="1.15" stroke-linejoin="round"/>
<path d="M185.6 1360.7l2 0 2 .1 2 .1 2 .2 2.1 .1 2 0 2-.1 2-.1 2.1 0 2-.3 2-.2 2 .1 2 .2 2.1 .1 2 .4 2 .2 2 0 2 .1 2.1-.2 2-.2 2 .1 2 0 2.1-.3 2 0 2 0 2-.1 2 0 2.1 .1 2 .2 2-.1 2 0 2 0 2.1-.1 2 .1 2-.1 2 .1 2 0 2.1 .3 2-.1 2 .1 2 .1 2.1-.1 2 0 2 0 2 0 2 .1 2.1 0 2 0 2 .3 2 .1 2-.2 2.1-.1 2 0 2-.5 2-.2 2-.2 2.1 0 2-.1 2 .2 2 .1 2.1 0 2 .2 2 0 2 .2 2 0 2.1 0 2 .2 2 0 2-.3 2 .1 2.1 0 2-.3 2 .2 2 .1 2 0 2.1-.1 2 0 2 0 2 0 2.1 0 2 0 2-.1 2-.1 2 .1 2.1 .2 2 0 2 .3 2-.2 2-.1 2.1-.2 2 .3 2 0 2 0 2 .3 2.1 .1 2-.3 2-.1 2 0 2.1-.2 2 0 2 0 2 .2 2 0 2.1 0" fill="none" stroke="#2DC92D" stroke-width="1.15" stroke-linejoin="round"/>
<path d="M115.5 1362.7l2.1 .2 2-.2 2.1 0 2-.2 2.1 .1 2.1-.3 2-.1 2.1 0 2 0 2.1 0 2.1 0 2 .3 2.1 0 2.1-.1 2 .1 2.1 0 2-.1 2.1-.2 2.1-.1 2-.4 2.1 .1 2-.1 2.1 .1 2.1 .1 2 .2 2.1-.1 2-.1 2.1 0 2.1-.3 2-.2 2.1-.2 2 .1 2.1 0 2.1-.1" fill="none" stroke="#2F2FFF" stroke-width="1.15" stroke-linejoin="round"/>
<path d="M185.6 1361.7l2 .1 2 .1 2 0 2-.1 2.1 .1 2-.1 2 0 2 0 2.1 0 2 .1 2-.1 2 .1 2 .2 2.1-.2 2-.2 2 .2 2-.1 2 0 2.1 .2 2 0 2-.2 2-.2 2.1 0 2 0 2 0 2 .3 2 .2 2.1-.1 2 .1 2 .2 2-.3 2 .2 2.1 0 2 0 2-.1 2 .2 2-.3 2.1-.1 2 0 2 0 2-.1 2.1 .3 2-.2 2 0 2-.1 2-.1 2.1-.1 2 .1 2 0 2 .1 2 0 2.1 .1 2 0 2 .1 2-.1 2-.1 2.1-.2 2 .1 2-.1 2 .1 2.1 .3 2 .2 2-.1 2 0 2 .1 2.1-.1 2-.2 2 0 2 .2 2-.3 2.1 .1 2 0 2-.2 2 .2 2 0 2.1-.1 2 0 2 .3 2-.2 2.1 .2 2 0 2 0 2 0 2 0 2.1-.1 2 .1 2 0 2 0 2-.2 2.1 .1 2 .3 2 0 2-.2 2 .2 2.1-.1 2-.3 2-.1 2 .1 2.1-.3 2 0 2-.1 2 .1 2 .1 2.1 .1" fill="none" stroke="#2F2FFF" stroke-width="1.15" stroke-linejoin="round"/>
<line x1="185.6" y1="1321.4" x2="185.6" y2="1269" stroke="#7E2A82" stroke-width="1.3"/>
<line x1="185.6" y1="1346.8" x2="185.6" y2="1320.3" stroke="#000" stroke-width="1.3"/>
<line x1="185.6" y1="1359.8" x2="185.6" y2="1338" stroke="#2F2FFF" stroke-width="1.3"/>
<line x1="185.6" y1="1355.1" x2="185.6" y2="1333.8" stroke="#FF8A1F" stroke-width="1.3"/>
<line x1="115.9" y1="1362.9" x2="115.9" y2="1311" stroke="#FF8A1F" stroke-width="1.6"/>
<line x1="115.9" y1="1362.9" x2="115.9" y2="1333.8" stroke="#2DC92D" stroke-width="1.6"/>
<line x1="115.9" y1="1362.9" x2="115.9" y2="1347.3" stroke="#2F2FFF" stroke-width="1.6"/>
<text x="289.4" y="1169.6" font-size="27.3" font-weight="bold" text-anchor="middle">ACE2 monomer</text>
<text x="231.1" y="1237.7" font-size="23.2" textLength="169.6" lengthAdjust="spacingAndGlyphs">K<tspan font-size="16.7">D</tspan> = 71 ± 87 nM</text>
<line x1="557.4" y1="1157.7" x2="557.4" y2="1367.9" stroke="#000" stroke-width="2.2"/>
<line x1="556.3" y1="1366.8" x2="870.1" y2="1366.8" stroke="#000" stroke-width="2.2"/>
<line x1="548.9" y1="1366.8" x2="557.4" y2="1366.8" stroke="#000" stroke-width="2.2"/>
<text x="545.9" y="1372.7" font-size="16.5" font-weight="bold" text-anchor="end">0</text>
<line x1="548.9" y1="1314.8" x2="557.4" y2="1314.8" stroke="#000" stroke-width="2.2"/>
<text x="545.9" y="1320.7" font-size="16.5" font-weight="bold" text-anchor="end">5</text>
<line x1="548.9" y1="1262.8" x2="557.4" y2="1262.8" stroke="#000" stroke-width="2.2"/>
<text x="545.9" y="1268.7" font-size="16.5" font-weight="bold" text-anchor="end">10</text>
<line x1="548.9" y1="1210.7" x2="557.4" y2="1210.7" stroke="#000" stroke-width="2.2"/>
<text x="545.9" y="1216.7" font-size="16.5" font-weight="bold" text-anchor="end">15</text>
<line x1="548.9" y1="1158.7" x2="557.4" y2="1158.7" stroke="#000" stroke-width="2.2"/>
<text x="545.9" y="1164.6" font-size="16.5" font-weight="bold" text-anchor="end">20</text>
<line x1="557.4" y1="1366.8" x2="557.4" y2="1375.3" stroke="#000" stroke-width="2.2"/>
<text x="557.4" y="1394.3" font-size="16.5" font-weight="bold" text-anchor="middle">0</text>
<line x1="635.3" y1="1366.8" x2="635.3" y2="1375.3" stroke="#000" stroke-width="2.2"/>
<text x="635.3" y="1394.3" font-size="16.5" font-weight="bold" text-anchor="middle">200</text>
<line x1="713.2" y1="1366.8" x2="713.2" y2="1375.3" stroke="#000" stroke-width="2.2"/>
<text x="713.2" y="1394.3" font-size="16.5" font-weight="bold" text-anchor="middle">400</text>
<line x1="791.1" y1="1366.8" x2="791.1" y2="1375.3" stroke="#000" stroke-width="2.2"/>
<text x="791.1" y="1394.3" font-size="16.5" font-weight="bold" text-anchor="middle">600</text>
<line x1="869" y1="1366.8" x2="869" y2="1375.3" stroke="#000" stroke-width="2.2"/>
<text x="869" y="1394.3" font-size="16.5" font-weight="bold" text-anchor="middle">800</text>
<text x="711.2" y="1423.1" font-size="19.8" text-anchor="middle">Time (s)</text>
<text x="516.7" y="1267.2" font-size="19.8" text-anchor="middle" transform="rotate(-90 516.7 1267.2)">Response  (RU)</text>
<path d="M557.4 1366.8l1.4-3.9 1.4-3.7 1.4-3.4 1.4-3.2 1.4-3 1.4-2.9 3-5.3 2.9-4.7 2.9-4.2 3-3.6 2.9-3.1 2.9-2.7 3-2.5 2.9-2.1 3-1.8 2.9-1.6 2.9-1.4 3-1.2 2.9-1.1 2.9-1 3-.8 2.9-.7 3-.6 2.9-.6 2.9-.5 3-.4 2.9-.3" fill="none" stroke="#000" stroke-width="1.1" stroke-linejoin="round"/>
<path d="M627.5 1315.8l1.4 .1 1.4 .2 1.5 .1 1.4 .1 1.4 .1 1.4 .1 1.4 .2 1.4 .1 1.5 .1 1.4 .1 1.4 .1 3.9 .3 6.6 .6 6.5 .5 6.6 .5 6.6 .5 6.6 .4 6.6 .5 6.6 .4 6.5 .5 6.6 .4 6.6 .4 6.6 .4 6.6 .4 6.5 .4 6.6 .4 6.6 .3 6.6 .4 6.6 .3 6.5 .4 6.6 .3 6.6 .3 6.6 .4 6.6 .3 6.6 .3 6.5 .2 6.6 .3 6.6 .3 6.6 .3 6.6 .2 6.5 .3" fill="none" stroke="#000" stroke-width="1.1" stroke-linejoin="round"/>
<path d="M557.4 1366.8l1.4-1.7 1.4-1.6 1.4-1.5 1.4-1.5 1.4-1.5 1.4-1.4 3-2.8 2.9-2.7 2.9-2.5 3-2.3 2.9-2.1 2.9-2.1 3-1.8 2.9-1.8 3-1.7 2.9-1.5 2.9-1.5 3-1.3 2.9-1.3 2.9-1.2 3-1.1 2.9-1 3-1 2.9-.9 2.9-.8 3-.8 2.9-.7" fill="none" stroke="#000" stroke-width="1.1" stroke-linejoin="round"/>
<path d="M627.5 1326.2l1.4 .1 1.4 .1 1.5 .1 1.4 .1 1.4 .1 1.4 .1 1.4 .1 1.4 .1 1.5 .1 1.4 .1 1.4 0 3.9 .3 6.6 .4 6.5 .4 6.6 .4 6.6 .4 6.6 .4 6.6 .3 6.6 .4 6.5 .4 6.6 .3 6.6 .4 6.6 .3 6.6 .3 6.5 .4 6.6 .3 6.6 .3 6.6 .3 6.6 .3 6.5 .3 6.6 .3 6.6 .2 6.6 .3 6.6 .3 6.6 .2 6.5 .3 6.6 .3 6.6 .2 6.6 .3 6.6 .2 6.5 .2" fill="none" stroke="#000" stroke-width="1.1" stroke-linejoin="round"/>
<path d="M557.4 1366.8l1.4-.6 1.4-.6 1.4-.7 1.4-.6 1.4-.6 1.4-.5 3-1.2 2.9-1.2 2.9-1.1 3-1.1 2.9-1 2.9-1 3-1 2.9-.9 3-.9 2.9-.9 2.9-.8 3-.9 2.9-.8 2.9-.7 3-.8 2.9-.7 3-.7 2.9-.7 2.9-.6 3-.6 2.9-.7" fill="none" stroke="#000" stroke-width="1.1" stroke-linejoin="round"/>
<path d="M627.5 1346l1.4 0 1.4 .1 1.5 0 1.4 .1 1.4 0 1.4 .1 1.4 0 1.4 0 1.5 .1 1.4 0 1.4 .1 3.9 .1 6.6 .2 6.5 .2 6.6 .2 6.6 .2 6.6 .2 6.6 .1 6.6 .2 6.5 .2 6.6 .2 6.6 .1 6.6 .2 6.6 .2 6.5 .1 6.6 .2 6.6 .2 6.6 .1 6.6 .2 6.5 .1 6.6 .2 6.6 .1 6.6 .1 6.6 .2 6.6 .1 6.5 .2 6.6 .1 6.6 .1 6.6 .1 6.6 .2 6.5 .1" fill="none" stroke="#000" stroke-width="1.1" stroke-linejoin="round"/>
<path d="M557.4 1366.8l1.4-.2 1.4-.2 1.4-.2 1.4-.2 1.4-.2 1.4-.2 3-.4 2.9-.4 2.9-.4 3-.3 2.9-.4 2.9-.3 3-.3 2.9-.3 3-.3 2.9-.3 2.9-.3 3-.3 2.9-.3 2.9-.2 3-.3 2.9-.2 3-.2 2.9-.3 2.9-.2 3-.2 2.9-.2" fill="none" stroke="#000" stroke-width="1.1" stroke-linejoin="round"/>
<path d="M627.5 1359.5l1.4 0 1.4 0 1.5 .1 1.4 0 1.4 0 1.4 0 1.4 0 1.4 0 1.5 0 1.4 .1 1.4 0 3.9 0 6.6 .1 6.5 0 6.6 .1 6.6 0 6.6 .1 6.6 0 6.6 .1 6.5 0 6.6 .1 6.6 .1 6.6 0 6.6 .1 6.5 0 6.6 0 6.6 .1 6.6 0 6.6 .1 6.5 0 6.6 .1 6.6 0 6.6 .1 6.6 0 6.6 0 6.5 .1 6.6 0 6.6 .1 6.6 0 6.6 0 6.5 .1" fill="none" stroke="#000" stroke-width="1.1" stroke-linejoin="round"/>
<path d="M557.4 1366.8l1.4-.1 1.4-.1 1.4-.1 1.4-.1 1.4 0 1.4-.1 3-.2 2.9-.2 2.9-.1 3-.2 2.9-.1 2.9-.2 3-.1 2.9-.1 3-.2 2.9-.1 2.9-.1 3-.1 2.9-.1 2.9-.1 3-.2 2.9-.1 3-.1 2.9-.1 2.9 0 3-.1 2.9-.1" fill="none" stroke="#000" stroke-width="1.1" stroke-linejoin="round"/>
<path d="M627.5 1363.7l1.4 0 1.4 0 1.5 0 1.4 0 1.4 0 1.4 0 1.4 0 1.4 0 1.5 0 1.4 0 1.4 0 3.9 0 6.6 .1 6.5 0 6.6 0 6.6 0 6.6 0 6.6 .1 6.6 0 6.5 0 6.6 0 6.6 0 6.6 0 6.6 .1 6.5 0 6.6 0 6.6 0 6.6 0 6.6 0 6.5 .1 6.6 0 6.6 0 6.6 0 6.6 0 6.6 0 6.5 0 6.6 0 6.6 .1 6.6 0 6.6 0 6.5 0" fill="none" stroke="#000" stroke-width="1.1" stroke-linejoin="round"/>
<path d="M557.4 1366.6l2.1-6.4 2-5.5 2.1-5.4 2-4.3 2.1-4.1 2.1-3.2 2-3.4 2.1-3 2.1-2.9 2-2.5 2.1-2.5 2-2.5 2.1-1.8 2.1-1.8 2-1.6 2.1-1.7 2.1-1.2 2-1.1 2.1-.8 2-.8 2.1-1 2.1-.7 2-.6 2.1-.9 2.1-.6 2-.4 2.1-.2 2-.3 2.1-.4 2.1-.3 2-.3 2.1-.8 2-.4 2.1-.1" fill="none" stroke="#7E2A82" stroke-width="1.15" stroke-linejoin="round"/>
<path d="M627.5 1304.2l2 2 2.1 1.7 2 1.2 2 1 2 1.2 2 1.1 2.1 .6 2 .7 2 .9 2 .5 2.1 .5 2 .5 2 .2 2 .3 2-.1 2.1 .1 2 .3 2 .2 2 .2 2.1 .2 2 .4 2 0 2 .2 2 .2 2.1 .4 2 .2 2 .2 2 .2 2.1 .2 2 .2 2 .4 2 0 2 .2 2.1-.1 2 .3 2-.5 2 .3 2.1 .2 2 .4 2-.2 2 .7 2.1 0 2 .3 2 0 2 .4 2-.1 2.1 .4 2 .1 2 .1 2 .3 2.1 .4 2 0 2 .2 2 .1 2 0 2.1 .2 2 .2 2-.3 2 .3 2.1 .1 2-.1 2 0 2 .3 2 .1 2.1 .2 2 .4 2 .1 2 0 2.1 0 2-.3 2 .1 2 .2 2 .3 2.1-.1 2 .6 2 0 2 0 2.1 0 2 0 2-.3 2 0 2 .3 2.1 0 2 .5 2 .3 2 .2 2.1 0 2 .1 2-.2 2-.1 2 .1 2.1 .3 2 0 2 .2 2 .2 2.1 .2 2-.3 2 .4 2 .1 2.1 .2 2 .2 2 .2 2-.1 2 .2" fill="none" stroke="#7E2A82" stroke-width="1.15" stroke-linejoin="round"/>
<path d="M557.4 1366.9l2.1-2.2 2-2.4 2.1-2.4 2-2.2 2.1-2 2.1-2.1 2-1.6 2.1-1.6 2.1-1.5 2-1.5 2.1-1.9 2-1.7 2.1-1.5 2.1-1.6 2-1.5 2.1-.9 2.1-1.1 2-1.5 2.1-.9 2-1 2.1-1.1 2.1-.7 2-.8 2.1-1 2.1-.8 2-.6 2.1-1 2-.8 2.1-.8 2.1-.6 2-.9 2.1-.6 2-.5 2.1-.5" fill="none" stroke="#4D4D4D" stroke-width="1.15" stroke-linejoin="round"/>
<path d="M627.5 1325.1l2 .7 2.1 .3 2 .1 2 .6 2 .4 2 .1 2.1 .3 2 .7 2 .4 2 .3 2.1 .6 2 .6 2-.1 2 .2 2 .1 2.1-.1 2 .1 2 .3 2 .1 2.1 .2 2 .4 2-.1 2 .1 2 0 2.1 .2 2 .1 2 .4 2 .1 2.1 .5 2-.2 2 0 2-.2 2-.2 2.1-.2 2 .2 2 .3 2 .4 2.1 .4 2 .4 2 .3 2 0 2.1 .2 2-.2 2 .2 2 .1 2 0 2.1 .1 2 .2 2-.3 2 .1 2.1 .3 2-.1 2 .5 2 0 2 0 2.1 .1 2 .1 2-.3 2 .1 2.1 .3 2 0 2 .2 2 .1 2 .3 2.1-.5 2 0 2-.1 2 .2 2.1 0 2 .7 2-.1 2 0 2 0 2.1 .3 2-.3 2-.1 2 .1 2.1-.1 2-.3 2 .3 2 .4 2 .2 2.1 .1 2 .3 2 .1 2 .1 2.1 .1 2 .2 2 .2 2-.1 2 0 2.1 0 2-.3 2-.2 2 .3 2.1 .1 2-.2 2 .1 2 .2 2.1-.1 2 0 2-.1 2 .1 2 0" fill="none" stroke="#4D4D4D" stroke-width="1.15" stroke-linejoin="round"/>
<path d="M557.4 1366.7l2.1-.8 2-1.2 2.1-1.2 2-.6 2.1-1.2 2.1-.8 2-.6 2.1-.7 2.1-1.1 2-.7 2.1-.9 2-1.1 2.1-.9 2.1-.9 2-1 2.1-.8 2.1-.1 2-.5 2.1-.3 2-.2 2.1-.6 2.1-.9 2-.5 2.1-.7 2.1-.5 2-.1 2.1-.9 2-.8 2.1-.5 2.1-.6 2-.7 2.1-.4 2-.4 2.1-.5" fill="none" stroke="#FF8A1F" stroke-width="1.15" stroke-linejoin="round"/>
<path d="M627.5 1343l2 .1 2.1 .2 2 .1 2 .2 2 .2 2 .4 2.1 0 2 .6 2 0 2 0 2.1-.1 2-.1 2-.6 2 .1 2 .3 2.1 0 2 .2 2 .8 2 .2 2.1-.5 2-.2 2-.1 2-.1 2 .1 2.1 .2 2 .6 2 .4 2-.3 2.1 .1 2-.1 2-.2 2-.4 2 .5 2.1 0 2 .1 2-.1 2 .4 2.1-.2 2 .3 2 .5 2 .2 2.1-.3 2 .1 2 .2 2-.3 2 0 2.1 .4 2 .6 2-.3 2 0 2.1 .1 2 .3 2-.1 2 .1 2 0 2.1 .1 2-.2 2-.2 2 .3 2.1 .2 2 .3 2 0 2 .2 2-.2 2.1-.1 2 .1 2-.2 2 .1 2.1 .2 2 0 2-.3 2 .7 2-.3 2.1-.1 2 0 2 .7 2-.2 2.1 .2 2 .3 2 .1 2-.2 2-.3 2.1 0 2 .2 2 .4 2 .1 2.1 .2 2 0 2-.2 2-.2 2 .2 2.1 .5 2 .3 2 0 2 .2 2.1 0 2-.5 2-.4 2 .2 2.1 .1 2 0 2-.2 2 .4 2 0" fill="none" stroke="#FF8A1F" stroke-width="1.15" stroke-linejoin="round"/>
<path d="M557.4 1366.5l2.1-.5 2-.2 2.1-.5 2-.4 2.1-.2 2.1-.3 2-.3 2.1-.2 2.1 0 2-.4 2.1 0 2-.4 2.1-.1 2.1-.3 2-.1 2.1-.3 2.1-.2 2-.4 2.1-.2 2 0 2.1-.4 2.1-.1 2-.2 2.1-.1 2.1-.7 2 .1 2.1-.3 2-.4 2.1-.6 2.1-.2 2-.5 2.1 .2 2 0 2.1 .1" fill="none" stroke="#2DC92D" stroke-width="1.15" stroke-linejoin="round"/>
<path d="M627.5 1358.5l2-.1 2.1 0 2 .3 2 0 2 0 2 .3 2.1-.1 2-.2 2 .1 2 .2 2.1-.4 2 0 2 0 2 .3 2 0 2.1 .2 2 .3 2 .1 2 0 2.1 0 2-.3 2 0 2-.1 2-.2 2.1 0 2 .5 2-.1 2 .1 2.1 0 2 .1 2-.4 2 .1 2-.1 2.1-.1 2 0 2 .1 2 0 2.1 0 2 .3 2 0 2-.1 2.1 .1 2 0 2-.2 2 .4 2 .1 2.1-.2 2 .2 2 .4 2-.2 2.1 .2 2-.1 2-.1 2-.2 2 .1 2.1-.1 2 .4 2 .1 2 .1 2.1 0 2-.2 2 .2 2-.2 2 .2 2.1 .1 2-.1 2 .2 2-.3 2.1 .2 2-.2 2-.1 2 0 2 .5 2.1-.5 2 0 2 .5 2-.3 2.1-.1 2 .2 2-.2 2 0 2 0 2.1-.3 2-.3 2 .3 2-.1 2.1 .2 2 .3 2 .3 2 .1 2 .3 2.1 .2 2 .1 2-.1 2-.3 2.1-.2 2-.2 2-.2 2-.1 2.1 .2 2-.1 2-.3 2 .1 2 .2" fill="none" stroke="#2DC92D" stroke-width="1.15" stroke-linejoin="round"/>
<path d="M557.4 1367.2l2.1-.3 2-.1 2.1-.5 2-.1 2.1-.6 2.1-.2 2-.4 2.1 .4 2.1-.5 2 0 2.1 .1 2 .2 2.1-.3 2.1 .2 2 .3 2.1-.3 2.1-.1 2 0 2.1-.2 2-.8 2.1-.1 2.1 0 2-.5 2.1 0 2.1 .3 2 .1 2.1-.1 2 0 2.1-.3 2.1 .1 2-.2 2.1-.1 2 0 2.1 .1" fill="none" stroke="#2F2FFF" stroke-width="1.15" stroke-linejoin="round"/>
<path d="M627.5 1363.8l2 .2 2.1 0 2 .1 2-.1 2 0 2 0 2.1 .1 2-.1 2 .1 2 0 2.1-.1 2 .1 2-.3 2-.2 2 0 2.1-.1 2-.2 2 .3 2 .1 2.1-.4 2 0 2-.1 2 .1 2-.1 2.1 .1 2 .1 2 0 2-.3 2.1 0 2 .1 2 .1 2 .1 2 .3 2.1-.3 2 .2 2 0 2-.1 2.1 0 2 .4 2 .2 2 0 2.1 .3 2-.2 2 .1 2 0 2 0 2.1 0 2 .2 2-.2 2-.2 2.1 0 2 .1 2-.1 2 .3 2 .1 2.1 .1 2-.1 2 .2 2-.1 2.1-.3 2 .1 2-.1 2-.2 2-.2 2.1 .2 2 .1 2 .2 2-.4 2.1 .1 2 .2 2-.2 2-.3 2 .7 2.1 0 2-.1 2 0 2 .1 2.1-.1 2 .2 2 .4 2-.1 2 .3 2.1 0 2-.4 2-.3 2 .1 2.1-.2 2-.2 2 .3 2 0 2-.1 2.1 0 2 .3 2 .1 2-.2 2.1 .4 2-.1 2-.3 2-.4 2.1 .2 2-.3 2 .4 2 .1 2 .4" fill="none" stroke="#2F2FFF" stroke-width="1.15" stroke-linejoin="round"/>
<line x1="627.5" y1="1305.4" x2="627.5" y2="1288.8" stroke="#7E2A82" stroke-width="1.3"/>
<line x1="627.5" y1="1315.8" x2="627.5" y2="1306.5" stroke="#000" stroke-width="1.3"/>
<text x="703" y="1169.6" font-size="27.3" font-weight="bold" text-anchor="middle">T0A</text>
<text x="662.2" y="1237.7" font-size="23.2" textLength="195" lengthAdjust="spacingAndGlyphs">K<tspan font-size="16.7">D</tspan> = 1.8 ± 0.03 nM</text>
<line x1="995.6" y1="1156.4" x2="995.6" y2="1366.3" stroke="#000" stroke-width="2.2"/>
<line x1="994.5" y1="1365.2" x2="1306.5" y2="1365.2" stroke="#000" stroke-width="2.2"/>
<line x1="987.1" y1="1365.2" x2="995.6" y2="1365.2" stroke="#000" stroke-width="2.2"/>
<text x="984.1" y="1371.1" font-size="16.5" font-weight="bold" text-anchor="end">0</text>
<line x1="987.1" y1="1313.2" x2="995.6" y2="1313.2" stroke="#000" stroke-width="2.2"/>
<text x="984.1" y="1319.2" font-size="16.5" font-weight="bold" text-anchor="end">5</text>
<line x1="987.1" y1="1261.3" x2="995.6" y2="1261.3" stroke="#000" stroke-width="2.2"/>
<text x="984.1" y="1267.2" font-size="16.5" font-weight="bold" text-anchor="end">10</text>
<line x1="987.1" y1="1209.4" x2="995.6" y2="1209.4" stroke="#000" stroke-width="2.2"/>
<text x="984.1" y="1215.3" font-size="16.5" font-weight="bold" text-anchor="end">15</text>
<line x1="987.1" y1="1157.4" x2="995.6" y2="1157.4" stroke="#000" stroke-width="2.2"/>
<text x="984.1" y="1163.3" font-size="16.5" font-weight="bold" text-anchor="end">20</text>
<line x1="995.6" y1="1365.2" x2="995.6" y2="1373.7" stroke="#000" stroke-width="2.2"/>
<text x="995.6" y="1392.7" font-size="16.5" font-weight="bold" text-anchor="middle">0</text>
<line x1="1073" y1="1365.2" x2="1073" y2="1373.7" stroke="#000" stroke-width="2.2"/>
<text x="1073" y="1392.7" font-size="16.5" font-weight="bold" text-anchor="middle">200</text>
<line x1="1150.5" y1="1365.2" x2="1150.5" y2="1373.7" stroke="#000" stroke-width="2.2"/>
<text x="1150.5" y="1392.7" font-size="16.5" font-weight="bold" text-anchor="middle">400</text>
<line x1="1228" y1="1365.2" x2="1228" y2="1373.7" stroke="#000" stroke-width="2.2"/>
<text x="1228" y="1392.7" font-size="16.5" font-weight="bold" text-anchor="middle">600</text>
<line x1="1305.4" y1="1365.2" x2="1305.4" y2="1373.7" stroke="#000" stroke-width="2.2"/>
<text x="1305.4" y="1392.7" font-size="16.5" font-weight="bold" text-anchor="middle">800</text>
<text x="1148.5" y="1421.5" font-size="19.8" text-anchor="middle">Time (s)</text>
<text x="954.9" y="1265.8" font-size="19.8" text-anchor="middle" transform="rotate(-90 954.9 1265.8)">Response  (RU)</text>
<path d="M995.6 1365.2l1.4-3.6 1.4-3.4 1.4-3.2 1.4-3 1.4-2.8 1.4-2.7 2.9-5 2.9-4.3 2.9-3.8 2.9-3.4 3-2.9 2.9-2.6 2.9-2.2 2.9-2 3-1.7 2.9-1.5 2.9-1.3 2.9-1.1 2.9-1 3-.9 2.9-.8 2.9-.6 2.9-.6 2.9-.5 3-.5 2.9-.4 2.9-.3" fill="none" stroke="#000" stroke-width="1.1" stroke-linejoin="round"/>
<path d="M1065.3 1317.4l1.4 .1 1.4 .1 1.4 .1 1.4 0 1.4 .1 1.5 .1 1.4 .1 1.4 .1 1.4 .1 1.4 0 1.4 .1 3.9 .2 6.5 .4 6.6 .4 6.5 .3 6.5 .4 6.6 .3 6.5 .4 6.6 .3 6.5 .3 6.6 .3 6.5 .3 6.5 .3 6.6 .3 6.5 .3 6.6 .3 6.5 .3 6.6 .3 6.5 .2 6.5 .3 6.6 .3 6.5 .2 6.6 .3 6.5 .2 6.6 .2 6.5 .3 6.5 .2 6.6 .2 6.5 .2 6.6 .2 6.5 .3" fill="none" stroke="#000" stroke-width="1.1" stroke-linejoin="round"/>
<path d="M995.6 1365.2l1.4-1.6 1.4-1.5 1.4-1.5 1.4-1.4 1.4-1.4 1.4-1.4 2.9-2.6 2.9-2.5 2.9-2.4 2.9-2.2 3-2 2.9-2 2.9-1.8 2.9-1.6 3-1.6 2.9-1.5 2.9-1.3 2.9-1.3 2.9-1.2 3-1.1 2.9-1.1 2.9-1 2.9-.9 2.9-.8 3-.8 2.9-.8 2.9-.7" fill="none" stroke="#000" stroke-width="1.1" stroke-linejoin="round"/>
<path d="M1065.3 1327.8l1.4 .1 1.4 0 1.4 .1 1.4 .1 1.4 0 1.5 .1 1.4 .1 1.4 .1 1.4 0 1.4 .1 1.4 .1 3.9 .1 6.5 .4 6.6 .3 6.5 .3 6.5 .2 6.6 .3 6.5 .3 6.6 .3 6.5 .3 6.6 .2 6.5 .3 6.5 .2 6.6 .3 6.5 .2 6.6 .3 6.5 .2 6.6 .2 6.5 .2 6.5 .3 6.6 .2 6.5 .2 6.6 .2 6.5 .2 6.6 .2 6.5 .2 6.5 .2 6.6 .2 6.5 .1 6.6 .2 6.5 .2" fill="none" stroke="#000" stroke-width="1.1" stroke-linejoin="round"/>
<path d="M995.6 1365.2l1.4-.6 1.4-.5 1.4-.6 1.4-.5 1.4-.6 1.4-.5 2.9-1.1 2.9-1 2.9-1 2.9-1 3-.9 2.9-.9 2.9-.9 2.9-.8 3-.9 2.9-.8 2.9-.7 2.9-.8 2.9-.7 3-.7 2.9-.7 2.9-.6 2.9-.6 2.9-.6 3-.6 2.9-.6 2.9-.5" fill="none" stroke="#000" stroke-width="1.1" stroke-linejoin="round"/>
<path d="M1065.3 1346l1.4 0 1.4 .1 1.4 0 1.4 0 1.4 .1 1.5 0 1.4 0 1.4 .1 1.4 0 1.4 0 1.4 .1 3.9 .1 6.5 .1 6.6 .2 6.5 .1 6.5 .2 6.6 .1 6.5 .2 6.6 .1 6.5 .2 6.6 .1 6.5 .1 6.5 .2 6.6 .1 6.5 .1 6.6 .2 6.5 .1 6.6 .1 6.5 .1 6.5 .1 6.6 .2 6.5 .1 6.6 .1 6.5 .1 6.6 .1 6.5 .1 6.5 .1 6.6 .1 6.5 .1 6.6 .1 6.5 .1" fill="none" stroke="#000" stroke-width="1.1" stroke-linejoin="round"/>
<path d="M995.6 1365.2l1.4-.2 1.4-.2 1.4-.3 1.4-.2 1.4-.2 1.4-.2 2.9-.4 2.9-.4 2.9-.4 2.9-.4 3-.4 2.9-.3 2.9-.4 2.9-.3 3-.3 2.9-.4 2.9-.3 2.9-.3 2.9-.2 3-.3 2.9-.3 2.9-.2 2.9-.3 2.9-.2 3-.3 2.9-.2 2.9-.2" fill="none" stroke="#000" stroke-width="1.1" stroke-linejoin="round"/>
<path d="M1065.3 1357.9l1.4 0 1.4 .1 1.4 0 1.4 0 1.4 0 1.5 0 1.4 0 1.4 0 1.4 0 1.4 .1 1.4 0 3.9 0 6.5 .1 6.6 0 6.5 .1 6.5 0 6.6 .1 6.5 .1 6.6 0 6.5 .1 6.6 0 6.5 .1 6.5 0 6.6 .1 6.5 0 6.6 .1 6.5 0 6.6 .1 6.5 0 6.5 0 6.6 .1 6.5 0 6.6 .1 6.5 0 6.6 .1 6.5 0 6.5 0 6.6 .1 6.5 0 6.6 0 6.5 .1" fill="none" stroke="#000" stroke-width="1.1" stroke-linejoin="round"/>
<path d="M995.6 1365.2l1.4-.1 1.4-.1 1.4-.1 1.4-.1 1.4 0 1.4-.1 2.9-.2 2.9-.2 2.9-.1 2.9-.2 3-.1 2.9-.2 2.9-.1 2.9-.1 3-.2 2.9-.1 2.9-.1 2.9-.1 2.9-.1 3-.1 2.9-.2 2.9-.1 2.9-.1 2.9 0 3-.1 2.9-.1 2.9-.1" fill="none" stroke="#000" stroke-width="1.1" stroke-linejoin="round"/>
<path d="M1065.3 1362.1l1.4 0 1.4 0 1.4 0 1.4 0 1.4 0 1.5 0 1.4 0 1.4 0 1.4 0 1.4 0 1.4 0 3.9 0 6.5 .1 6.6 0 6.5 0 6.5 0 6.6 0 6.5 .1 6.6 0 6.5 0 6.6 0 6.5 0 6.5 0 6.6 .1 6.5 0 6.6 0 6.5 0 6.6 0 6.5 0 6.5 .1 6.6 0 6.5 0 6.6 0 6.5 0 6.6 0 6.5 0 6.5 .1 6.6 0 6.5 0 6.6 0 6.5 0" fill="none" stroke="#000" stroke-width="1.1" stroke-linejoin="round"/>
<path d="M995.6 1365.2l2.1-5.9 2.1-5.4 2.1-4.8 2.1-4.3 2.2-4 2.1-3.8 2.1-3.4 2.1-3.2 2.1-3 2.1-2.1 2.1-2.1 2.1-1.9 2.2-1.6 2.1-1.7 2.1-1.9 2.1-1.4 2.1-1.3 2.1-1.4 2.1-.9 2.1-.7 2.2-1 2.1-.9 2.1-.7 2.1-.7 2.1-.8 2.1-.3 2.1-.2 2.1-.2 2.2 0 2.1-.3 2.1-.5 2.1-.5 2.1-.2" fill="none" stroke="#7E2A82" stroke-width="1.15" stroke-linejoin="round"/>
<path d="M1065.3 1304.8l2 2.1 2.1 1.5 2 1.6 2 .9 2.1 1 2 .6 2 .8 2 .8 2.1 .8 2 .5 2 .6 2.1 .3 2 .1 2 0 2.1 .1 2 0 2 .6 2 .2 2.1 .3 2 .3 2 .5 2.1-.3 2 .1 2 0 2.1 .2 2-.2 2 .1 2.1 .1 2 .1 2 .1 2 .3 2.1 .2 2 .4 2 .4 2.1 .1 2 .2 2 .3 2.1 .1 2 .2 2 .2 2 .4 2.1-.1 2 .2 2 0 2.1 0 2-.2 2 .4 2.1-.2 2 .1 2 .1 2-.2 2.1 .2 2 .4 2 .1 2.1 .1 2 .5 2 .1 2.1 0 2-.2 2 .4 2-.1 2.1-.1 2-.1 2 0 2.1 0 2 .3 2 .3 2.1 .5 2 .3 2-.1 2.1 .1 2 .2 2 .2 2-.1 2.1 0 2 .1 2-.1 2.1 0 2 .3 2 .5 2.1 0 2 .1 2 .1 2 .4 2.1-.2 2 0 2 .4 2.1-.2 2-.4 2 .3 2.1 .5 2-.5 2 .3 2 .1 2.1 0 2-.1 2 .1 2.1 .3 2 0 2 .3 2.1 .1 2 .2 2-.1" fill="none" stroke="#7E2A82" stroke-width="1.15" stroke-linejoin="round"/>
<path d="M995.6 1365.5l2.1-2.1 2.1-2.3 2.1-2.3 2.1-2.1 2.2-2.4 2.1-2.1 2.1-1.7 2.1-1.3 2.1-1.1 2.1-1.2 2.1-1.3 2.1-1.1 2.2-1.4 2.1-1.3 2.1-1.4 2.1-1.2 2.1-1.3 2.1-1.1 2.1-1.2 2.1-.7 2.2-.8 2.1-.6 2.1-1 2.1-.9 2.1-.9 2.1-.8 2.1-1.1 2.1-.8 2.2-.5 2.1-.4 2.1-.3 2.1-.5 2.1-.2" fill="none" stroke="#4D4D4D" stroke-width="1.15" stroke-linejoin="round"/>
<path d="M1065.3 1327.4l2 .8 2.1 .6 2 .4 2 .1 2.1 0 2 .1 2 .3 2 .5 2.1 .4 2-.1 2 0 2.1 .2 2-.1 2 0 2.1 .7 2 .2 2 .3 2 .3 2.1-.1 2 .4 2 .4 2.1 .3 2 .2 2 .5 2.1-.2 2 .1 2-.1 2.1 0 2 .3 2 .1 2 .3 2.1-.1 2 .2 2-.2 2.1 .1 2-.1 2 0 2.1-.2 2 .5 2-.1 2 .5 2.1 .2 2 .2 2-.1 2.1 .2 2-.4 2-.2 2.1 .1 2-.5 2-.1 2 .1 2.1 .5 2-.3 2 .4 2.1 .3 2 0 2 .1 2.1 .3 2 .2 2 .3 2 .1 2.1-.5 2-.2 2-.1 2.1-.2 2-.1 2 .1 2.1 .2 2 .2 2 .1 2.1-.1 2-.1 2 .2 2 .3 2.1-.2 2 .2 2 .5 2.1-.3 2-.3 2 .4 2.1 .3 2 .1 2 .4 2 0 2.1 .1 2-.3 2 .3 2.1-.1 2 .2 2-.3 2.1-.2 2-.2 2 .1 2-.4 2.1 .1 2 .2 2-.1 2.1-.4 2 .2 2 0 2.1 0 2 .1 2 .3" fill="none" stroke="#4D4D4D" stroke-width="1.15" stroke-linejoin="round"/>
<path d="M995.6 1365.5l2.1-1 2.1-.8 2.1-1.1 2.1-.9 2.2-.8 2.1-.5 2.1-.9 2.1-.8 2.1-.6 2.1-.9 2.1-1 2.1-.6 2.2-.3 2.1-.6 2.1-.5 2.1-.8 2.1-.5 2.1-.8 2.1-.6 2.1-.6 2.2-.3 2.1-.4 2.1-.1 2.1-.8 2.1-.6 2.1-.4 2.1-.9 2.1-1.1 2.2 0 2.1-.4 2.1-.7 2.1-.3 2.1-.3" fill="none" stroke="#FF8A1F" stroke-width="1.15" stroke-linejoin="round"/>
<path d="M1065.3 1345l2 .1 2.1 .2 2 .1 2 .2 2.1 .1 2 .3 2-.3 2 .2 2.1-.1 2 .4 2-.2 2.1 .1 2-.4 2-.2 2.1-.1 2-.1 2 .2 2 .2 2.1 .3 2-.1 2 0 2.1-.1 2 .1 2-.2 2.1 .4 2 .2 2 .4 2.1 .2 2 .2 2-.2 2 .1 2.1-.6 2 0 2-.2 2.1 0 2 .3 2 .6 2.1-.2 2 .6 2 .1 2-.2 2.1 .1 2 .2 2 0 2.1 .1 2 0 2 .1 2.1 0 2-.8 2 0 2-.1 2.1-.1 2 .3 2 .5 2.1-.1 2 .1 2-.1 2.1-.1 2-.3 2 .6 2-.1 2.1 .1 2 0 2 .6 2.1 0 2 .2 2 .1 2.1 .3 2 0 2-.2 2.1-.2 2 .1 2 0 2 0 2.1-.3 2 .1 2 0 2.1-.2 2-.5 2 .3 2.1 .3 2 0 2 .3 2 .5 2.1 .4 2-.1 2 .2 2.1-.1 2-.1 2 .1 2.1 .3 2-.1 2 0 2-.1 2.1-.1 2 .2 2 .1 2.1 .2 2 .2 2 .2 2.1-.4 2-.1 2 0" fill="none" stroke="#FF8A1F" stroke-width="1.15" stroke-linejoin="round"/>
<path d="M995.6 1364.8l2.1-.3 2.1-.4 2.1-.4 2.1 .1 2.2-.2 2.1-.3 2.1-.5 2.1-.5 2.1-.3 2.1-.6 2.1-.3 2.1 0 2.2 .2 2.1-.1 2.1 0 2.1-.3 2.1-.6 2.1-.4 2.1-.2 2.1-.4 2.2-.4 2.1 .1 2.1-.4 2.1-.5 2.1-.2 2.1 0 2.1 .1 2.1-.3 2.2-.1 2.1-.2 2.1-.1 2.1-.5 2.1 .1" fill="none" stroke="#2DC92D" stroke-width="1.15" stroke-linejoin="round"/>
<path d="M1065.3 1357.1l2-.1 2.1 .2 2-.4 2 0 2.1-.2 2 .3 2-.2 2 0 2.1 0 2 .5 2-.1 2.1 0 2 .4 2 .3 2.1-.3 2 .1 2 0 2 0 2.1 0 2 .2 2-.4 2.1 .3 2-.2 2-.3 2.1 0 2 .1 2-.1 2.1-.1 2 .3 2 .2 2 .6 2.1 .1 2 .1 2-.4 2.1-.5 2-.4 2 0 2.1-.1 2-.1 2 .4 2-.1 2.1 0 2 .1 2 .1 2.1 0 2 .3 2-.1 2.1-.1 2 .2 2-.1 2-.2 2.1 .2 2-.2 2-.1 2.1-.2 2-.1 2-.2 2.1 .2 2 0 2 .4 2-.3 2.1 .2 2-.1 2-.2 2.1 .1 2 .6 2 .1 2.1 .2 2 .4 2-.1 2.1-.3 2-.2 2-.1 2-.2 2.1 .2 2 .1 2 0 2.1 .2 2 0 2-.2 2.1 .2 2 .2 2-.1 2 .2 2.1-.1 2-.1 2-.2 2.1-.1 2 0 2-.3 2.1 .4 2-.2 2 0 2-.1 2.1 .4 2-.2 2 .3 2.1 .3 2 .1 2 .2 2.1-.2 2-.2 2-.2" fill="none" stroke="#2DC92D" stroke-width="1.15" stroke-linejoin="round"/>
<path d="M995.6 1365.7l2.1 0 2.1-.2 2.1 0 2.1-.7 2.2-.5 2.1-.2 2.1-.4 2.1-.1 2.1-.2 2.1 .3 2.1 0 2.1 .4 2.2-.3 2.1-.3 2.1-.5 2.1 .1 2.1-.2 2.1 .1 2.1 .2 2.1-.1 2.2-.5 2.1 .3 2.1-.3 2.1 .1 2.1 .2 2.1-.2 2.1-.4 2.1 .3 2.2 .1 2.1-.2 2.1 0 2.1-.1 2.1-.2" fill="none" stroke="#2F2FFF" stroke-width="1.15" stroke-linejoin="round"/>
<path d="M1065.3 1362l2-.3 2.1 .1 2 0 2 0 2.1-.1 2 .3 2-.1 2 .3 2.1 .2 2 0 2 .1 2.1 0 2-.1 2 0 2.1 0 2-.1 2-.2 2 .1 2.1 0 2 .1 2-.2 2.1 .3 2 .1 2-.1 2.1 0 2 0 2-.1 2.1 .3 2 .1 2 .5 2-.1 2.1-.1 2-.4 2-.2 2.1-.6 2 .1 2 .3 2.1 .4 2 .2 2 .3 2-.2 2.1-.3 2-.1 2-.2 2.1-.1 2 .3 2 .5 2.1 .1 2 .3 2 .1 2-.1 2.1-.3 2 0 2-.3 2.1 .1 2-.2 2 .3 2.1-.1 2 .1 2 0 2 .4 2.1-.4 2 .1 2 0 2.1-.3 2-.2 2 .1 2.1-.3 2 .1 2 .3 2.1 0 2-.1 2 .1 2 .1 2.1-.1 2 0 2 .3 2.1 .2 2-.1 2 .1 2.1-.1 2 .1 2-.2 2 .3 2.1-.6 2 .2 2 0 2.1-.1 2-.4 2 .9 2.1-.2 2-.3 2 .3 2 .1 2.1-.2 2 .2 2 .2 2.1-.1 2 .3 2-.4 2.1-.1 2-.1 2 0" fill="none" stroke="#2F2FFF" stroke-width="1.15" stroke-linejoin="round"/>
<line x1="1065.3" y1="1307" x2="1065.3" y2="1300.8" stroke="#7E2A82" stroke-width="1.3"/>
<line x1="1065.3" y1="1317.4" x2="1065.3" y2="1309.1" stroke="#000" stroke-width="1.3"/>
<text x="1152" y="1169.6" font-size="27.3" font-weight="bold" text-anchor="middle">T1A</text>
<text x="1104.6" y="1237.7" font-size="23.2" textLength="182.2" lengthAdjust="spacingAndGlyphs">K<tspan font-size="16.7">D</tspan> = 1.8 ± 0.3 nM</text>
<line x1="1435.9" y1="1158.5" x2="1435.9" y2="1367.9" stroke="#000" stroke-width="2.2"/>
<line x1="1434.8" y1="1366.8" x2="1748.3" y2="1366.8" stroke="#000" stroke-width="2.2"/>
<line x1="1427.4" y1="1366.8" x2="1435.9" y2="1366.8" stroke="#000" stroke-width="2.2"/>
<text x="1424.4" y="1372.7" font-size="16.5" font-weight="bold" text-anchor="end">0</text>
<line x1="1427.4" y1="1315" x2="1435.9" y2="1315" stroke="#000" stroke-width="2.2"/>
<text x="1424.4" y="1320.9" font-size="16.5" font-weight="bold" text-anchor="end">5</text>
<line x1="1427.4" y1="1263.2" x2="1435.9" y2="1263.2" stroke="#000" stroke-width="2.2"/>
<text x="1424.4" y="1269.1" font-size="16.5" font-weight="bold" text-anchor="end">10</text>
<line x1="1427.4" y1="1211.3" x2="1435.9" y2="1211.3" stroke="#000" stroke-width="2.2"/>
<text x="1424.4" y="1217.3" font-size="16.5" font-weight="bold" text-anchor="end">15</text>
<line x1="1427.4" y1="1159.5" x2="1435.9" y2="1159.5" stroke="#000" stroke-width="2.2"/>
<text x="1424.4" y="1165.4" font-size="16.5" font-weight="bold" text-anchor="end">20</text>
<line x1="1435.9" y1="1366.8" x2="1435.9" y2="1375.3" stroke="#000" stroke-width="2.2"/>
<text x="1435.9" y="1394.3" font-size="16.5" font-weight="bold" text-anchor="middle">0</text>
<line x1="1513.7" y1="1366.8" x2="1513.7" y2="1375.3" stroke="#000" stroke-width="2.2"/>
<text x="1513.7" y="1394.3" font-size="16.5" font-weight="bold" text-anchor="middle">200</text>
<line x1="1591.6" y1="1366.8" x2="1591.6" y2="1375.3" stroke="#000" stroke-width="2.2"/>
<text x="1591.6" y="1394.3" font-size="16.5" font-weight="bold" text-anchor="middle">400</text>
<line x1="1669.4" y1="1366.8" x2="1669.4" y2="1375.3" stroke="#000" stroke-width="2.2"/>
<text x="1669.4" y="1394.3" font-size="16.5" font-weight="bold" text-anchor="middle">600</text>
<line x1="1747.2" y1="1366.8" x2="1747.2" y2="1375.3" stroke="#000" stroke-width="2.2"/>
<text x="1747.2" y="1394.3" font-size="16.5" font-weight="bold" text-anchor="middle">800</text>
<text x="1589.6" y="1423.1" font-size="19.8" text-anchor="middle">Time (s)</text>
<text x="1395.2" y="1267.7" font-size="19.8" text-anchor="middle" transform="rotate(-90 1395.2 1267.7)">Response  (RU)</text>
<path d="M1435.9 1366.8l1.4-6.6 1.4-6.2 1.4-5.9 1.4-5.5 1.4-5.2 1.4-4.9 2.9-9.3 3-8.3 2.9-7.3 2.9-6.4 3-5.6 2.9-5 3-4.4 2.9-3.9 2.9-3.4 3-3 2.9-2.7 2.9-2.3 3-2.1 2.9-1.8 2.9-1.6 3-1.5 2.9-1.2 2.9-1.1 3-1 2.9-.8 2.9-.8" fill="none" stroke="#000" stroke-width="1.1" stroke-linejoin="round"/>
<path d="M1505.9 1266.3l1.5 .1 1.4 0 1.4 .1 1.4 .1 1.4 .1 1.4 .1 1.4 .1 1.5 .1 1.4 .1 1.4 .1 1.4 0 3.9 .3 6.6 .4 6.5 .3 6.6 .4 6.6 .4 6.6 .3 6.5 .4 6.6 .3 6.6 .3 6.6 .4 6.5 .3 6.6 .3 6.6 .3 6.6 .2 6.5 .3 6.6 .3 6.6 .3 6.6 .2 6.5 .3 6.6 .2 6.6 .3 6.6 .2 6.5 .2 6.6 .3 6.6 .2 6.6 .2 6.5 .2 6.6 .2 6.6 .2 6.6 .2" fill="none" stroke="#000" stroke-width="1.1" stroke-linejoin="round"/>
<path d="M1435.9 1366.8l1.4-2.8 1.4-2.7 1.4-2.6 1.4-2.6 1.4-2.5 1.4-2.4 2.9-5 3-4.6 2.9-4.4 2.9-4.2 3-3.9 2.9-3.8 3-3.5 2.9-3.4 2.9-3.1 3-3.1 2.9-2.8 2.9-2.7 3-2.6 2.9-2.4 2.9-2.3 3-2.1 2.9-2.1 2.9-1.9 3-1.9 2.9-1.7 2.9-1.7" fill="none" stroke="#000" stroke-width="1.1" stroke-linejoin="round"/>
<path d="M1505.9 1290.1l1.5 .1 1.4 0 1.4 .1 1.4 .1 1.4 0 1.4 .1 1.4 0 1.5 .1 1.4 .1 1.4 0 1.4 .1 3.9 .1 6.6 .3 6.5 .3 6.6 .3 6.6 .2 6.6 .3 6.5 .2 6.6 .3 6.6 .2 6.6 .3 6.5 .2 6.6 .3 6.6 .2 6.6 .2 6.5 .2 6.6 .3 6.6 .2 6.6 .2 6.5 .2 6.6 .2 6.6 .2 6.6 .2 6.5 .2 6.6 .2 6.6 .2 6.6 .1 6.5 .2 6.6 .2 6.6 .2 6.6 .2" fill="none" stroke="#000" stroke-width="1.1" stroke-linejoin="round"/>
<path d="M1435.9 1366.8l1.4-.9 1.4-.9 1.4-1 1.4-.9 1.4-.9 1.4-.9 2.9-1.8 3-1.8 2.9-1.8 2.9-1.7 3-1.8 2.9-1.7 3-1.6 2.9-1.7 2.9-1.6 3-1.6 2.9-1.5 2.9-1.6 3-1.5 2.9-1.4 2.9-1.5 3-1.4 2.9-1.4 2.9-1.4 3-1.4 2.9-1.3 2.9-1.4" fill="none" stroke="#000" stroke-width="1.1" stroke-linejoin="round"/>
<path d="M1505.9 1328.4l1.5 .1 1.4 0 1.4 0 1.4 .1 1.4 0 1.4 0 1.4 .1 1.5 0 1.4 0 1.4 .1 1.4 0 3.9 .1 6.6 .1 6.5 .1 6.6 .2 6.6 .1 6.6 .1 6.5 .2 6.6 .1 6.6 .1 6.6 .1 6.5 .2 6.6 .1 6.6 .1 6.6 .1 6.5 .1 6.6 .1 6.6 .1 6.6 .1 6.5 .1 6.6 .1 6.6 .1 6.6 .1 6.5 .1 6.6 .1 6.6 .1 6.6 .1 6.5 .1 6.6 .1 6.6 .1 6.6 .1" fill="none" stroke="#000" stroke-width="1.1" stroke-linejoin="round"/>
<path d="M1435.9 1366.8l1.4-.3 1.4-.4 1.4-.3 1.4-.3 1.4-.4 1.4-.3 2.9-.7 3-.6 2.9-.7 2.9-.6 3-.6 2.9-.7 3-.6 2.9-.6 2.9-.6 3-.5 2.9-.6 2.9-.6 3-.5 2.9-.6 2.9-.5 3-.5 2.9-.5 2.9-.5 3-.5 2.9-.5 2.9-.5" fill="none" stroke="#000" stroke-width="1.1" stroke-linejoin="round"/>
<path d="M1505.9 1353.3l1.5 0 1.4 .1 1.4 0 1.4 0 1.4 0 1.4 0 1.4 0 1.5 0 1.4 0 1.4 .1 1.4 0 3.9 0 6.6 .1 6.5 0 6.6 .1 6.6 0 6.6 .1 6.5 0 6.6 .1 6.6 .1 6.6 0 6.5 .1 6.6 0 6.6 .1 6.6 0 6.5 .1 6.6 0 6.6 0 6.6 .1 6.5 0 6.6 .1 6.6 0 6.6 .1 6.5 0 6.6 0 6.6 .1 6.6 0 6.5 .1 6.6 0 6.6 0 6.6 .1" fill="none" stroke="#000" stroke-width="1.1" stroke-linejoin="round"/>
<path d="M1435.9 1366.8l1.4-.1 1.4-.1 1.4-.1 1.4-.1 1.4-.2 1.4-.1 2.9-.2 3-.2 2.9-.2 2.9-.2 3-.2 2.9-.3 3-.2 2.9-.2 2.9-.2 3-.1 2.9-.2 2.9-.2 3-.2 2.9-.2 2.9-.2 3-.1 2.9-.2 2.9-.2 3-.1 2.9-.2 2.9-.2" fill="none" stroke="#000" stroke-width="1.1" stroke-linejoin="round"/>
<path d="M1505.9 1362.7l1.5 0 1.4 0 1.4 0 1.4 0 1.4 0 1.4 0 1.4 0 1.5 0 1.4 0 1.4 0 1.4 0 3.9 0 6.6 0 6.5 .1 6.6 0 6.6 0 6.6 0 6.5 0 6.6 0 6.6 .1 6.6 0 6.5 0 6.6 0 6.6 0 6.6 0 6.5 .1 6.6 0 6.6 0 6.6 0 6.5 0 6.6 0 6.6 .1 6.6 0 6.5 0 6.6 0 6.6 0 6.6 0 6.5 0 6.6 0 6.6 .1 6.6 0" fill="none" stroke="#000" stroke-width="1.1" stroke-linejoin="round"/>
<path d="M1435.9 1366.8l2.1-8.3 2-7.4 2.1-7.3 2-6.5 2.1-6.2 2.1-5.6 2-5.4 2.1-5.4 2-4.6 2.1-4.4 2.1-4.2 2-4 2.1-3.5 2-3.8 2.1-3.1 2.1-3.1 2-2.7 2.1-2.6 2-2.3 2.1-2.3 2.1-2.2 2-2.1 2.1-1.7 2-1.8 2.1-2.3 2.1-1.5 2-1.6 2.1-1.6 2-1.2 2.1-.8 2.1-1.1 2-1.2 2.1-1.1 2-1.1" fill="none" stroke="#7E2A82" stroke-width="1.15" stroke-linejoin="round"/>
<path d="M1505.9 1254.6l2.1 1.8 2 1.4 2 1.6 2 1.5 2 .8 2.1 1.1 2 .8 2 .3 2 .4 2 .1 2.1 .2 2 .5 2 .2 2 0 2 .6 2.1-.1 2-.1 2 .4 2 .1 2.1 .4 2 .8 2 .1 2 .2 2 .7 2.1-.6 2-.2 2 .5 2 .2 2-.2 2.1 0 2 .6 2-.1 2 0 2 .6 2.1 .5 2 0 2 .3 2-.3 2-.3 2.1 0 2-.3 2-.1 2 .2 2 .4 2.1 .3 2 .1 2 .3 2 .3 2-.3 2.1-.2 2 .3 2 .1 2 0 2 .2 2.1 .5 2-.1 2-.2 2 .2 2-.4 2.1-.3 2 .1 2 0 2-.4 2.1 .4 2 .4 2 .2 2 .3 2 .7 2.1 .2 2-.1 2 .1 2 .2 2-.2 2.1 .5 2-.1 2 .1 2-.1 2 .7 2.1-.5 2 .5 2 .2 2 0 2-.2 2.1 .4 2 .2 2 0 2 .1 2-.2 2.1 .1 2-.4 2-.1 2 .2 2 .4 2.1-.4 2 .3 2-.1 2-.1 2-.3 2.1 .5 2-.2 2 .2 2 .1 2 .4 2.1-.1" fill="none" stroke="#7E2A82" stroke-width="1.15" stroke-linejoin="round"/>
<path d="M1435.9 1366.9l2.1-3.9 2-4 2.1-3.6 2-3.4 2.1-3.3 2.1-3.3 2-2.9 2.1-3.3 2-3.2 2.1-3 2.1-2.6 2-2.7 2.1-2.4 2-2.1 2.1-2.2 2.1-2.4 2-2.2 2.1-1.9 2-2 2.1-1.9 2.1-1.6 2-1.6 2.1-2 2-1.7 2.1-1.1 2.1-2 2-1.5 2.1-.5 2-1.5 2.1-1.9 2.1-1.1 2-1.7 2.1-1.7 2-1.2" fill="none" stroke="#4D4D4D" stroke-width="1.15" stroke-linejoin="round"/>
<path d="M1505.9 1292.2l2.1 .1 2-.2 2 0 2 .2 2 .3 2.1 .2 2 .6 2 .1 2 .2 2-.3 2.1 .2 2-.4 2 .4 2-.1 2-.3 2.1-.1 2 .6 2-.2 2-.1 2.1 .4 2 .5 2-.1 2 .6 2-.1 2.1 .3 2-.2 2 0 2-.4 2 .7 2.1-.2 2 0 2 .6 2-.1 2-.4 2.1 .1 2 0 2-.1 2 .2 2 0 2.1 .2 2-.1 2 0 2 .1 2 .2 2.1 .5 2 .7 2 .1 2 .2 2 .2 2.1-.2 2-.2 2 0 2 .1 2 0 2.1 0 2 .1 2 0 2 .1 2 .1 2.1 .2 2-.2 2 .1 2 0 2.1 .3 2 .1 2 .3 2 .1 2 .2 2.1 .2 2 0 2 0 2 0 2-.3 2.1-.1 2 .5 2 .1 2 .5 2 .5 2.1-.2 2-.3 2 .1 2-.1 2-.2 2.1 .6 2 .1 2 0 2-.4 2 .2 2.1-.4 2 .2 2-.1 2 .5 2-.2 2.1 .3 2 .1 2 .2 2-.2 2 .2 2.1-.3 2-.3 2 .5 2 .2 2 .2 2.1 .3" fill="none" stroke="#4D4D4D" stroke-width="1.15" stroke-linejoin="round"/>
<path d="M1435.9 1367.1l2.1-1.3 2-1.2 2.1-1.8 2-1.5 2.1-1.5 2.1-1.7 2-1.7 2.1-1.7 2-1.3 2.1-1 2.1-1.1 2-1.2 2.1-1.2 2-1.6 2.1-1.2 2.1-1.3 2-1 2.1-.8 2-.9 2.1-1.5 2.1-.8 2-.9 2.1-1.7 2-.8 2.1-.9 2.1-1.3 2-1.6 2.1-1 2-1.4 2.1-1.1 2.1-1.3 2-.9 2.1-.9 2-1" fill="none" stroke="#FF8A1F" stroke-width="1.15" stroke-linejoin="round"/>
<path d="M1505.9 1325.9l2.1 .2 2 0 2 .4 2 .2 2 0 2.1-.2 2-.1 2-.1 2 0 2-.2 2.1 .4 2-.3 2 0 2 0 2 0 2.1-.4 2 .1 2 .1 2 .1 2.1 .4 2 .2 2 .2 2 .1 2-.5 2.1 .1 2 0 2-.2 2-.3 2 .3 2.1-.1 2 .2 2 .1 2 .2 2-.1 2.1-.2 2-.2 2 0 2 0 2 .3 2.1 .2 2 .1 2 .1 2-.1 2 .3 2.1 .2 2-.1 2-.1 2 .2 2-.2 2.1 0 2-.3 2 .3 2-.5 2 .1 2.1-.2 2 .4 2-.2 2 .2 2-.3 2.1 .1 2 .1 2-.4 2-.1 2.1 .2 2 0 2-.2 2 .3 2 .1 2.1 .2 2-.1 2 .2 2-.2 2-.1 2.1-.1 2-.1 2-.4 2 .3 2 .5 2.1-.2 2 0 2 .3 2-.3 2-.2 2.1 .5 2 .1 2 0 2-.1 2 0 2.1-.2 2-.1 2 0 2 .6 2 0 2.1 0 2-.1 2-.4 2-.1 2 .2 2.1 .1 2 .4 2 .6 2-.2 2-.2 2.1-.1" fill="none" stroke="#FF8A1F" stroke-width="1.15" stroke-linejoin="round"/>
<path d="M1435.9 1367.1l2.1-.3 2-.7 2.1-.6 2-.5 2.1-.5 2.1-.9 2-.5 2.1-.5 2-.8 2.1-.9 2.1-.5 2-.2 2.1-.6 2-.5 2.1-.1 2.1-.3 2-.3 2.1-.1 2-.7 2.1-.4 2.1-.7 2-1.1 2.1-.5 2 0 2.1-.5 2.1-.1 2 .2 2.1-.1 2-.6 2.1-.5 2.1-.6 2-.4 2.1-.6 2-.4" fill="none" stroke="#2DC92D" stroke-width="1.15" stroke-linejoin="round"/>
<path d="M1505.9 1349.5l2.1 .1 2-.3 2 .4 2-.1 2-.1 2.1 .1 2 .4 2-.4 2 .2 2 .2 2.1-.2 2-.1 2 .5 2 .2 2 .1 2.1 .2 2-.1 2 .1 2-.2 2.1-.1 2-.2 2-.1 2-.4 2 .1 2.1-.1 2 .1 2 .1 2 .4 2 .2 2.1 0 2 0 2 0 2 0 2-.2 2.1 .2 2-.1 2 .1 2-.3 2 .3 2.1 .1 2 .4 2 .1 2 .4 2-.2 2.1-.4 2 .1 2 .2 2-.3 2-.1 2.1 .2 2-.5 2-.3 2 0 2-.1 2.1 0 2 .3 2 .2 2 0 2 .5 2.1 .2 2-.2 2 .1 2-.1 2.1-.1 2 .2 2 .1 2-.2 2-.2 2.1-.1 2-.5 2-.2 2 .4 2 .3 2.1 .2 2 .6 2 .3 2-.7 2 .3 2.1 0 2-.5 2-.3 2 .7 2-.3 2.1 0 2 .3 2 0 2-.2 2 0 2.1-.4 2 .4 2 .2 2-.2 2 .2 2.1 .4 2-.1 2-.1 2 .2 2-.4 2.1-.3 2-.2 2 .1 2-.2 2 .2 2.1 .2" fill="none" stroke="#2DC92D" stroke-width="1.15" stroke-linejoin="round"/>
<path d="M1435.9 1366.8l2.1-.3 2-.4 2.1 .1 2-.6 2.1-.4 2.1-.3 2 .2 2.1-.5 2 0 2.1 .1 2.1 0 2-.5 2.1-.1 2-.3 2.1 0 2.1-.3 2-.2 2.1-.2 2-.3 2.1-.1 2.1-.1 2 .1 2.1-.5 2 .1 2.1-.6 2.1 0 2-.1 2.1-.1 2-.5 2.1 .3 2.1-.2 2-.3 2.1 0 2 0" fill="none" stroke="#2F2FFF" stroke-width="1.15" stroke-linejoin="round"/>
<path d="M1505.9 1360.8l2.1 0 2-.5 2-.5 2 0 2 .2 2.1-.1 2 .4 2 .4 2-.1 2 0 2.1 .1 2 0 2 .1 2-.1 2 0 2.1 0 2 0 2 .3 2 .6 2.1 0 2-.2 2-.1 2-.5 2-.3 2.1 .2 2 .2 2 .2 2-.1 2-.1 2.1-.9 2 0 2-.3 2 .4 2 .3 2.1 .6 2 0 2 .4 2-.1 2 .1 2.1-.1 2 .1 2-.1 2-.1 2 .1 2.1-.4 2 .2 2-.2 2-.4 2 .3 2.1 .4 2 0 2 0 2 .5 2-.6 2.1 0 2-.1 2 .4 2-.2 2 .6 2.1 .2 2-.2 2-.2 2 .3 2.1-.9 2-.6 2 .2 2 .1 2-.3 2.1 .3 2 .5 2 .1 2 0 2-.1 2.1-.1 2-.2 2 .2 2-.1 2 .2 2.1 .3 2-.1 2-.2 2 0 2-.1 2.1-.1 2 .1 2 .5 2-.1 2 .3 2.1 .1 2-.1 2 0 2 .2 2 .4 2.1 .1 2 .1 2-.6 2-.2 2-.4 2.1-.1 2-.3 2 .5 2 .1 2 0 2.1 0" fill="none" stroke="#2F2FFF" stroke-width="1.15" stroke-linejoin="round"/>
<path d="M1435.9 1366.4l2.1 .1 2-.3 2.1-.7 2 .5 2.1-.8 2.1-.5 2-.2 2.1 .4 2-.3 2.1 .8 2.1 0 2 .5 2.1-.5 2 0 2.1-.4 2.1-.4 2-.4 2.1 0 2-.3 2.1 0 2.1 0 2-.3 2.1 .1 2 .1 2.1-.1 2.1-.1 2-.4 2.1-.6 2-.4 2.1-.5 2.1-.1 2 0 2.1 .1 2 0" fill="none" stroke="#2F2FFF" stroke-width="1.15" stroke-linejoin="round"/>
<path d="M1505.9 1362.1l2.1 0 2-.4 2 .2 2 .1 2 .1 2.1-.2 2 0 2-.1 2 .5 2-.2 2.1 .1 2 .6 2 0 2-.5 2 .6 2.1 0 2-.4 2-.1 2 .2 2.1-.3 2 .2 2 0 2 .3 2-.5 2.1-.2 2 .3 2-.2 2-.2 2 .4 2.1 0 2 0 2 .2 2 .5 2 .1 2.1-.2 2-.6 2 .1 2-.2 2-.4 2.1 .3 2 .2 2-.2 2 0 2 0 2.1 .4 2-.2 2 .4 2 0 2 .2 2.1-.5 2 .1 2-.3 2-.2 2-.2 2.1 .1 2 .5 2 .5 2 .6 2 .1 2.1 0 2-.3 2-.5 2-.4 2.1 .2 2 .3 2 .3 2-.2 2-.2 2.1 .1 2-.3 2-.4 2-.1 2 .3 2.1-.3 2-.2 2 .4 2 .4 2-.1 2.1 .2 2-.2 2-.5 2-.1 2 .2 2.1-.3 2 .2 2 .3 2 .1 2 .1 2.1 .2 2 0 2-.3 2-.2 2-.4 2.1 .1 2 .2 2 0 2 0 2 .3 2.1-.2 2-.2 2 .1 2 .1 2-.2 2.1 .1" fill="none" stroke="#2F2FFF" stroke-width="1.15" stroke-linejoin="round"/>
<line x1="1505.9" y1="1256.9" x2="1505.9" y2="1223.8" stroke="#7E2A82" stroke-width="1.3"/>
<line x1="1505.9" y1="1266.3" x2="1505.9" y2="1259" stroke="#000" stroke-width="1.3"/>
<line x1="1505.9" y1="1332.6" x2="1505.9" y2="1323.3" stroke="#FF8A1F" stroke-width="1.3"/>
<line x1="1505.9" y1="1366.8" x2="1505.9" y2="1340.9" stroke="#2DC92D" stroke-width="1.3"/>
<line x1="1436.3" y1="1366.8" x2="1436.3" y2="1311.9" stroke="#2DC92D" stroke-width="1.6"/>
<text x="1590" y="1169.6" font-size="27.3" font-weight="bold" text-anchor="middle">T3A</text>
<text x="1528.2" y="1237.7" font-size="23.2" textLength="209" lengthAdjust="spacingAndGlyphs">K<tspan font-size="16.7">D</tspan> = 0.20 ± 0.46 nM</text>
<line x1="115.6" y1="1461.9" x2="115.6" y2="1672.4" stroke="#000" stroke-width="2.2"/>
<line x1="114.5" y1="1671.3" x2="427.5" y2="1671.3" stroke="#000" stroke-width="2.2"/>
<line x1="107.1" y1="1671.3" x2="115.6" y2="1671.3" stroke="#000" stroke-width="2.2"/>
<text x="104.1" y="1677.2" font-size="16.5" font-weight="bold" text-anchor="end">0</text>
<line x1="107.1" y1="1619.2" x2="115.6" y2="1619.2" stroke="#000" stroke-width="2.2"/>
<text x="104.1" y="1625.1" font-size="16.5" font-weight="bold" text-anchor="end">5</text>
<line x1="107.1" y1="1567.1" x2="115.6" y2="1567.1" stroke="#000" stroke-width="2.2"/>
<text x="104.1" y="1573" font-size="16.5" font-weight="bold" text-anchor="end">10</text>
<line x1="107.1" y1="1515" x2="115.6" y2="1515" stroke="#000" stroke-width="2.2"/>
<text x="104.1" y="1520.9" font-size="16.5" font-weight="bold" text-anchor="end">15</text>
<line x1="107.1" y1="1462.9" x2="115.6" y2="1462.9" stroke="#000" stroke-width="2.2"/>
<text x="104.1" y="1468.8" font-size="16.5" font-weight="bold" text-anchor="end">20</text>
<line x1="115.6" y1="1671.3" x2="115.6" y2="1679.8" stroke="#000" stroke-width="2.2"/>
<text x="115.6" y="1698.8" font-size="16.5" font-weight="bold" text-anchor="middle">0</text>
<line x1="193.3" y1="1671.3" x2="193.3" y2="1679.8" stroke="#000" stroke-width="2.2"/>
<text x="193.3" y="1698.8" font-size="16.5" font-weight="bold" text-anchor="middle">200</text>
<line x1="271" y1="1671.3" x2="271" y2="1679.8" stroke="#000" stroke-width="2.2"/>
<text x="271" y="1698.8" font-size="16.5" font-weight="bold" text-anchor="middle">400</text>
<line x1="348.7" y1="1671.3" x2="348.7" y2="1679.8" stroke="#000" stroke-width="2.2"/>
<text x="348.7" y="1698.8" font-size="16.5" font-weight="bold" text-anchor="middle">600</text>
<line x1="426.4" y1="1671.3" x2="426.4" y2="1679.8" stroke="#000" stroke-width="2.2"/>
<text x="426.4" y="1698.8" font-size="16.5" font-weight="bold" text-anchor="middle">800</text>
<text x="269" y="1727.6" font-size="19.8" text-anchor="middle">Time (s)</text>
<text x="74.9" y="1571.6" font-size="19.8" text-anchor="middle" transform="rotate(-90 74.9 1571.6)">Response  (RU)</text>
<path d="M115.6 1671.3l1.4-6.3 1.4-5.9 1.4-5.5 1.4-5.2 1.4-5 1.4-4.6 2.9-8.8 3-7.9 2.9-6.8 2.9-6.1 2.9-5.4 3-4.7 2.9-4.2 2.9-3.6 3-3.3 2.9-2.8 2.9-2.6 3-2.2 2.9-1.9 2.9-1.8 2.9-1.5 3-1.3 2.9-1.2 2.9-1.1 3-.9 2.9-.8 2.9-.7" fill="none" stroke="#000" stroke-width="1.1" stroke-linejoin="round"/>
<path d="M185.5 1574.4l1.4 .1 1.5 .1 1.4 .1 1.4 .1 1.4 .1 1.4 .1 1.4 .1 1.4 .1 1.4 .1 1.5 .1 1.4 .1 3.9 .3 6.5 .4 6.6 .5 6.5 .4 6.6 .5 6.6 .4 6.5 .4 6.6 .4 6.6 .4 6.5 .4 6.6 .3 6.6 .4 6.5 .4 6.6 .3 6.6 .4 6.5 .3 6.6 .4 6.5 .3 6.6 .3 6.6 .3 6.5 .3 6.6 .3 6.6 .3 6.5 .3 6.6 .3 6.6 .3 6.5 .3 6.6 .2 6.6 .3 6.5 .3" fill="none" stroke="#000" stroke-width="1.1" stroke-linejoin="round"/>
<path d="M115.6 1671.3l1.4-2.6 1.4-2.6 1.4-2.4 1.4-2.4 1.4-2.4 1.4-2.3 2.9-4.6 3-4.4 2.9-4.1 2.9-3.9 2.9-3.7 3-3.5 2.9-3.4 2.9-3.1 3-3 2.9-2.8 2.9-2.7 3-2.5 2.9-2.4 2.9-2.3 2.9-2.2 3-2 2.9-1.9 2.9-1.9 3-1.7 2.9-1.6 2.9-1.6" fill="none" stroke="#000" stroke-width="1.1" stroke-linejoin="round"/>
<path d="M185.5 1597.8l1.4 .1 1.5 .1 1.4 .1 1.4 0 1.4 .1 1.4 .1 1.4 .1 1.4 0 1.4 .1 1.5 .1 1.4 .1 3.9 .2 6.5 .3 6.6 .3 6.5 .4 6.6 .3 6.6 .3 6.5 .3 6.6 .3 6.6 .3 6.5 .3 6.6 .3 6.6 .3 6.5 .3 6.6 .3 6.6 .2 6.5 .3 6.6 .3 6.5 .2 6.6 .3 6.6 .2 6.5 .3 6.6 .2 6.6 .2 6.5 .3 6.6 .2 6.6 .2 6.5 .3 6.6 .2 6.6 .2 6.5 .2" fill="none" stroke="#000" stroke-width="1.1" stroke-linejoin="round"/>
<path d="M115.6 1671.3l1.4-1 1.4-.9 1.4-.9 1.4-1 1.4-.9 1.4-.9 2.9-1.9 3-1.9 2.9-1.8 2.9-1.9 2.9-1.7 3-1.8 2.9-1.7 2.9-1.7 3-1.7 2.9-1.6 2.9-1.6 3-1.6 2.9-1.5 2.9-1.6 2.9-1.5 3-1.5 2.9-1.4 2.9-1.4 3-1.5 2.9-1.3 2.9-1.4" fill="none" stroke="#000" stroke-width="1.1" stroke-linejoin="round"/>
<path d="M185.5 1634.8l1.4 .1 1.5 0 1.4 0 1.4 .1 1.4 0 1.4 0 1.4 .1 1.4 0 1.4 .1 1.5 0 1.4 0 3.9 .1 6.5 .2 6.6 .1 6.5 .2 6.6 .1 6.6 .2 6.5 .1 6.6 .2 6.6 .1 6.5 .2 6.6 .1 6.6 .1 6.5 .2 6.6 .1 6.6 .1 6.5 .1 6.6 .2 6.5 .1 6.6 .1 6.6 .1 6.5 .1 6.6 .2 6.6 .1 6.5 .1 6.6 .1 6.6 .1 6.5 .1 6.6 .1 6.6 .1 6.5 .1" fill="none" stroke="#000" stroke-width="1.1" stroke-linejoin="round"/>
<path d="M115.6 1671.3l1.4-.3 1.4-.3 1.4-.3 1.4-.3 1.4-.3 1.4-.4 2.9-.6 3-.6 2.9-.6 2.9-.6 2.9-.6 3-.6 2.9-.5 2.9-.6 3-.5 2.9-.6 2.9-.5 3-.5 2.9-.5 2.9-.5 2.9-.5 3-.5 2.9-.5 2.9-.5 3-.4 2.9-.5 2.9-.4" fill="none" stroke="#000" stroke-width="1.1" stroke-linejoin="round"/>
<path d="M185.5 1658.8l1.4 0 1.5 0 1.4 0 1.4 .1 1.4 0 1.4 0 1.4 0 1.4 0 1.4 0 1.5 0 1.4 0 3.9 .1 6.5 0 6.6 .1 6.5 .1 6.6 0 6.6 .1 6.5 0 6.6 .1 6.6 0 6.5 .1 6.6 0 6.6 .1 6.5 0 6.6 .1 6.6 0 6.5 .1 6.6 0 6.5 .1 6.6 0 6.6 .1 6.5 0 6.6 0 6.6 .1 6.5 0 6.6 .1 6.6 0 6.5 0 6.6 .1 6.6 0 6.5 .1" fill="none" stroke="#000" stroke-width="1.1" stroke-linejoin="round"/>
<path d="M115.6 1671.3l1.4-.1 1.4-.1 1.4-.1 1.4 0 1.4-.1 1.4-.1 2.9-.2 3-.2 2.9-.1 2.9-.2 2.9-.2 3-.1 2.9-.2 2.9-.1 3-.2 2.9-.1 2.9-.2 3-.1 2.9-.2 2.9-.1 2.9-.2 3-.1 2.9-.1 2.9-.2 3-.1 2.9-.1 2.9-.1" fill="none" stroke="#000" stroke-width="1.1" stroke-linejoin="round"/>
<path d="M185.5 1667.7l1.4 0 1.5 0 1.4 0 1.4 0 1.4 0 1.4 0 1.4 0 1.4 0 1.4 0 1.5 0 1.4 0 3.9 0 6.5 0 6.6 .1 6.5 0 6.6 0 6.6 0 6.5 0 6.6 0 6.6 .1 6.5 0 6.6 0 6.6 0 6.5 0 6.6 0 6.6 .1 6.5 0 6.6 0 6.5 0 6.6 0 6.6 0 6.5 .1 6.6 0 6.6 0 6.5 0 6.6 0 6.6 0 6.5 0 6.6 0 6.6 .1 6.5 0" fill="none" stroke="#000" stroke-width="1.1" stroke-linejoin="round"/>
<path d="M115.6 1671l2.1-7.5 2.1-6.9 2.2-6.7 2.1-5.9 2.1-5.6 2.1-5.4 2.1-5.5 2.2-4.8 2.1-5 2.1-4.7 2.1-4.1 2.1-3.5 2.1-3.6 2.2-3.2 2.1-2.8 2.1-2.9 2.1-3.1 2.1-2.6 2.2-2.1 2.1-2.3 2.1-2.3 2.1-2.2 2.1-1.9 2.2-2.1 2.1-2 2.1-1.4 2.1-1.4 2.1-1.6 2.2-1.7 2.1-1.1 2.1-1.1 2.1-1.1 2.1-1" fill="none" stroke="#7E2A82" stroke-width="1.15" stroke-linejoin="round"/>
<path d="M185.5 1563.8l2.1 1.8 2 1.5 2 1.2 2.1 1.4 2 1 2.1 .2 2 .8 2 .2 2.1 .6 2 .5 2 .8 2.1 0 2 .5 2 .2 2.1 .4 2 .4 2.1 .1 2 .6 2 .3 2.1 .4 2 .4 2 .6 2.1-.3 2-.4 2-.3 2.1 .2 2 0 2.1 .6 2 .4 2 .2 2.1-.2 2 0 2-.1 2.1 .6 2 .8 2.1 .2 2 .2 2-.1 2.1-.2 2-.3 2 .1 2.1 0 2 .4 2 .2 2.1-.1 2 .1 2.1 .3 2 .3 2-.1 2.1 .6 2 .6 2 .2 2.1 0 2 0 2.1-.5 2-.3 2-.3 2.1 .2 2 0 2 .6 2.1 .1 2 .5 2 0 2.1 .1 2 .2 2.1 .1 2 .2 2 .1 2.1 .1 2-.2 2 .2 2.1 .1 2 0 2.1 .3 2-.1 2 .3 2.1-.4 2 .4 2-.3 2.1 .3 2-.3 2 .3 2.1-.2 2 .3 2.1-.3 2 .1 2-.1 2.1-.1 2 .2 2 .1 2.1 .2 2 .4 2.1 .3 2 0 2 0 2.1 .2 2-.3 2 .2 2.1 .3 2 .3 2 .2 2.1 .1 2 .1" fill="none" stroke="#7E2A82" stroke-width="1.15" stroke-linejoin="round"/>
<path d="M115.6 1670.7l2.1-3.6 2.1-3.7 2.2-3.4 2.1-3.2 2.1-3.3 2.1-3.2 2.1-3 2.2-2.8 2.1-3 2.1-2.6 2.1-2.7 2.1-2.6 2.1-2.3 2.2-1.9 2.1-2.4 2.1-2.1 2.1-2.1 2.1-2.4 2.2-2.1 2.1-1.6 2.1-1.8 2.1-1.8 2.1-1.3 2.2-1.5 2.1-1.8 2.1-1.6 2.1-1.2 2.1-1.4 2.2-1.1 2.1-1.4 2.1-.9 2.1-1.1 2.1-1.2" fill="none" stroke="#4D4D4D" stroke-width="1.15" stroke-linejoin="round"/>
<path d="M185.5 1599.2l2.1 .6 2 .6 2 .3 2.1 .5 2 1.4 2.1 .4 2 .3 2-.1 2.1 .4 2-.2 2 0 2.1 .5 2 .3 2 .2 2.1 .2 2 .1 2.1-.2 2 .2 2-.1 2.1 .2 2 .2 2 .1 2.1 .2 2-.1 2 0 2.1 .6 2 .1 2.1 .2 2 0 2 .1 2.1-.3 2-.2 2 .2 2.1 .2 2 .5 2.1 .1 2 .3 2-.1 2.1 .2 2-.1 2 .2 2.1 0 2 .1 2-.4 2.1 0 2 .3 2.1 .2 2 .3 2 .1 2.1-.2 2-.3 2 0 2.1 0 2 .7 2.1 .4 2 .1 2 .5 2.1-.3 2-.4 2-.2 2.1-.3 2-.3 2 .1 2.1 .1 2 0 2.1 .6 2-.1 2-.2 2.1 .2 2 .2 2-.8 2.1 .1 2 0 2.1-.3 2-.2 2 .7 2.1 0 2 .4 2 .3 2.1 .5 2 0 2 .1 2.1 .1 2-.2 2.1 0 2-.1 2 .3 2.1-.3 2 .5 2-.7 2.1 .1 2-.4 2.1-.1 2-.2 2 .5 2.1 .3 2 .2 2 .2 2.1 .2 2 .3 2 0 2.1 .2 2 .1" fill="none" stroke="#4D4D4D" stroke-width="1.15" stroke-linejoin="round"/>
<path d="M115.6 1671.2l2.1-1.5 2.1-1.2 2.2-1.2 2.1-1.4 2.1-1.3 2.1-1.4 2.1-1.7 2.2-1.4 2.1-1.1 2.1-1.5 2.1-1.3 2.1-1 2.1-2 2.2-1.9 2.1-1.3 2.1-1.5 2.1-1.2 2.1-1 2.2-.8 2.1-.9 2.1-.9 2.1-1.4 2.1-1.3 2.2-1.1 2.1-1.5 2.1-1.1 2.1-1 2.1-.7 2.2-1.4 2.1-.8 2.1-1 2.1-.8 2.1-1.1" fill="none" stroke="#FF8A1F" stroke-width="1.15" stroke-linejoin="round"/>
<path d="M185.5 1631.2l2.1 .3 2-.2 2 .1 2.1 .4 2 .4 2.1 .3 2 .5 2-.3 2.1 0 2-.3 2-.2 2.1-.3 2 .3 2-.4 2.1-.2 2-.6 2.1 0 2 .2 2 .4 2.1 .5 2 .7 2-.2 2.1 0 2-.2 2-.2 2.1-.7 2 .5 2.1-.2 2 0 2 .1 2.1 .8 2-.3 2 .4 2.1 .2 2 0 2.1-.4 2 0 2 .1 2.1-.1 2 0 2 .1 2.1 .1 2-.1 2-.1 2.1 .2 2 .3 2.1 .2 2-.2 2 .3 2.1 0 2-.1 2 0 2.1 .2 2-.1 2.1 .3 2-.3 2-.1 2.1 .2 2-.2 2-.4 2.1 .1 2 .3 2-.4 2.1 .3 2 .5 2.1 .1 2-.1 2 .6 2.1 0 2 0 2 .1 2.1 0 2-.1 2.1-.3 2-.3 2 .3 2.1 .1 2 0 2 .1 2.1 .2 2 .1 2-.4 2.1 0 2 .3 2.1-.5 2 .1 2 .1 2.1 .4 2 .1 2 .3 2.1-.4 2 .3 2.1-.5 2-.1 2 .1 2.1-.2 2-.2 2 .3 2.1 .1 2 .4 2 .2 2.1 0 2-.1" fill="none" stroke="#FF8A1F" stroke-width="1.15" stroke-linejoin="round"/>
<path d="M115.6 1671l2.1-.6 2.1-.9 2.2-.2 2.1-.4 2.1 0 2.1-.3 2.1 .2 2.2-.6 2.1-.8 2.1-.8 2.1-.3 2.1-1 2.1-.5 2.2-.4 2.1-.7 2.1-.4 2.1 0 2.1-1 2.2-.3 2.1-.1 2.1-.6 2.1-.5 2.1 .3 2.2-.3 2.1-.6 2.1-.5 2.1-.6 2.1-.3 2.2-.1 2.1-.6 2.1-.3 2.1-.2 2.1-.7" fill="none" stroke="#2DC92D" stroke-width="1.15" stroke-linejoin="round"/>
<path d="M185.5 1655.6l2.1-.1 2 .2 2 .2 2.1-.2 2-.7 2.1 .2 2-.4 2 0 2.1 .1 2 .9 2 0 2.1 .1 2 0 2 .3 2.1-.7 2-.2 2.1 0 2 .1 2 0 2.1 .1 2 0 2-.3 2.1 .1 2 .1 2 .1 2.1 .1 2 .2 2.1-.1 2-.3 2-.2 2.1 .2 2 .2 2 .2 2.1 .1 2 0 2.1 0 2-.1 2-.4 2.1 .1 2 .1 2 0 2.1 0 2 .6 2 0 2.1 .2 2-.2 2.1 0 2-.2 2-.2 2.1-.1 2 0 2-.3 2.1 .2 2 .2 2.1 .2 2-.2 2 .2 2.1-.4 2-.4 2-.1 2.1 .2 2-.1 2 .1 2.1 .1 2-.2 2.1-.2 2 .1 2 0 2.1 .3 2 .2 2 .5 2.1 0 2-.2 2.1-.1 2 0 2-.3 2.1 0 2 .1 2-.3 2.1 0 2 0 2-.1 2.1 0 2 .4 2.1 .1 2 .1 2 0 2.1-.2 2 .1 2-.3 2.1-.2 2-.1 2.1 .2 2-.2 2 0 2.1 .3 2 .1 2 .4 2.1 .5 2 .3 2 .1 2.1 0 2-.3" fill="none" stroke="#2DC92D" stroke-width="1.15" stroke-linejoin="round"/>
<path d="M115.6 1671.1l2.1-.2 2.1-.2 2.2 0 2.1 0 2.1-.3 2.1-.2 2.1 0 2.2-.2 2.1-.3 2.1 0 2.1-.5 2.1-.3 2.1-.5 2.2 .2 2.1-.1 2.1 0 2.1-.3 2.1 .2 2.2-.8 2.1-.3 2.1-.1 2.1 .1 2.1-.5 2.2 .1 2.1-.3 2.1 .3 2.1-.3 2.1 .2 2.2 0 2.1-.3 2.1-.3 2.1 0 2.1-.2" fill="none" stroke="#2F2FFF" stroke-width="1.15" stroke-linejoin="round"/>
<path d="M185.5 1665.8l2.1 .1 2 .2 2 .2 2.1 .4 2-.1 2.1-.1 2 .1 2-.1 2.1 0 2 .8 2-.2 2.1-.4 2 .3 2-.1 2.1-.6 2 .3 2.1 .4 2-.2 2-.1 2.1 .2 2-.1 2-.1 2.1 .1 2-.1 2 .3 2.1-.2 2 .3 2.1-.2 2 0 2-.4 2.1 .3 2-.6 2 .2 2.1 .1 2 .1 2.1 .2 2 .3 2-.4 2.1 .1 2 .2 2-.1 2.1 0 2 .2 2-.1 2.1-.1 2-.1 2.1-.1 2-.2 2 .1 2.1-.2 2 .1 2 0 2.1 .3 2-.1 2.1 .6 2-.3 2 .3 2.1 .2 2-.3 2-.3 2.1-.1 2-.4 2-.3 2.1 .2 2-.1 2.1 .6 2 .3 2 .1 2.1 .1 2 .1 2 .1 2.1-.1 2-.2 2.1 .1 2 .1 2-.6 2.1 .1 2 .5 2-.1 2.1-.1 2 0 2 .3 2.1-.2 2-.1 2.1 .3 2 .3 2-.2 2.1 .1 2-.5 2 0 2.1 .1 2-.2 2.1-.1 2 .4 2-.2 2.1 .2 2 .1 2-.2 2.1-.1 2 .2 2-.2 2.1 .2 2 .2" fill="none" stroke="#2F2FFF" stroke-width="1.15" stroke-linejoin="round"/>
<path d="M115.6 1671.6l2.1-.3 2.1-.1 2.2-.4 2.1 0 2.1 0 2.1 0 2.1-.3 2.2-.2 2.1-.1 2.1-.1 2.1 0 2.1 .1 2.1 .3 2.2 .1 2.1 .1 2.1-.2 2.1-.1 2.1-.6 2.2-.6 2.1-.1 2.1-.2 2.1-.2 2.1 .1 2.2-.1 2.1-.1 2.1 .4 2.1 0 2.1-.3 2.2 .2 2.1 .1 2.1-.2 2.1-.2 2.1 0" fill="none" stroke="#2F2FFF" stroke-width="1.15" stroke-linejoin="round"/>
<path d="M185.5 1667.5l2.1-.1 2 .2 2 0 2.1 .6 2 .2 2.1 0 2-.1 2 0 2.1-.2 2 .2 2-.2 2.1-.2 2 .1 2 .1 2.1-.2 2 .2 2.1 0 2-.4 2-.2 2.1 .3 2-.3 2-.1 2.1 .2 2-.2 2 .1 2.1 .4 2 .3 2.1-.1 2 .5 2-.2 2.1-.4 2-.2 2 .3 2.1-.5 2 .1 2.1 .2 2 .2 2-.2 2.1 .4 2-.1 2 .1 2.1 .2 2 0 2 0 2.1-.3 2 .1 2.1-.1 2 0 2-.3 2.1 .5 2-.1 2-.2 2.1 .3 2 .4 2.1-.5 2 .2 2 .2 2.1-.5 2 0 2 .2 2.1 .3 2 .1 2 .5 2.1-.5 2-.3 2.1-.2 2-.6 2-.3 2.1 .3 2 .1 2-.3 2.1 .5 2 .4 2.1 .2 2 .1 2 .2 2.1-.1 2-.4 2 0 2.1-.2 2 0 2-.1 2.1 .4 2-.2 2.1 .3 2 .2 2 0 2.1-.2 2-.1 2-.2 2.1-.1 2 .1 2.1 .4 2 .4 2-.2 2.1-.5 2-.2 2-.5 2.1-.3 2 .1 2 .6 2.1 .1 2 .1" fill="none" stroke="#2F2FFF" stroke-width="1.15" stroke-linejoin="round"/>
<line x1="185.5" y1="1567.1" x2="185.5" y2="1525.4" stroke="#7E2A82" stroke-width="1.3"/>
<line x1="185.5" y1="1574.4" x2="185.5" y2="1569.2" stroke="#000" stroke-width="1.3"/>
<line x1="185.5" y1="1610.9" x2="185.5" y2="1593.2" stroke="#000" stroke-width="1.3"/>
<line x1="185.5" y1="1632.7" x2="185.5" y2="1624.4" stroke="#FF8A1F" stroke-width="1.3"/>
<line x1="185.5" y1="1671.3" x2="185.5" y2="1634.8" stroke="#2DC92D" stroke-width="1.3"/>
<line x1="116" y1="1671.3" x2="116" y2="1561.9" stroke="#2F2FFF" stroke-width="1.6"/>
<line x1="116" y1="1671.3" x2="116" y2="1572.3" stroke="#2DC92D" stroke-width="1.6"/>
<text x="268.7" y="1473.4" font-size="27.3" font-weight="bold" text-anchor="middle">T5A</text>
<text x="214.2" y="1554.2" font-size="23.2" textLength="209.8" lengthAdjust="spacingAndGlyphs">K<tspan font-size="16.7">D</tspan> = 0.13 ± 0.06 nM</text>
<line x1="557.7" y1="1463" x2="557.7" y2="1672.7" stroke="#000" stroke-width="2.2"/>
<line x1="556.6" y1="1671.6" x2="870.1" y2="1671.6" stroke="#000" stroke-width="2.2"/>
<line x1="549.2" y1="1671.6" x2="557.7" y2="1671.6" stroke="#000" stroke-width="2.2"/>
<text x="546.2" y="1677.5" font-size="16.5" font-weight="bold" text-anchor="end">0</text>
<line x1="549.2" y1="1619.7" x2="557.7" y2="1619.7" stroke="#000" stroke-width="2.2"/>
<text x="546.2" y="1625.6" font-size="16.5" font-weight="bold" text-anchor="end">5</text>
<line x1="549.2" y1="1567.8" x2="557.7" y2="1567.8" stroke="#000" stroke-width="2.2"/>
<text x="546.2" y="1573.7" font-size="16.5" font-weight="bold" text-anchor="end">10</text>
<line x1="549.2" y1="1515.9" x2="557.7" y2="1515.9" stroke="#000" stroke-width="2.2"/>
<text x="546.2" y="1521.8" font-size="16.5" font-weight="bold" text-anchor="end">15</text>
<line x1="549.2" y1="1464" x2="557.7" y2="1464" stroke="#000" stroke-width="2.2"/>
<text x="546.2" y="1469.9" font-size="16.5" font-weight="bold" text-anchor="end">20</text>
<line x1="557.7" y1="1671.6" x2="557.7" y2="1680.1" stroke="#000" stroke-width="2.2"/>
<text x="557.7" y="1699.1" font-size="16.5" font-weight="bold" text-anchor="middle">0</text>
<line x1="635.5" y1="1671.6" x2="635.5" y2="1680.1" stroke="#000" stroke-width="2.2"/>
<text x="635.5" y="1699.1" font-size="16.5" font-weight="bold" text-anchor="middle">200</text>
<line x1="713.4" y1="1671.6" x2="713.4" y2="1680.1" stroke="#000" stroke-width="2.2"/>
<text x="713.4" y="1699.1" font-size="16.5" font-weight="bold" text-anchor="middle">400</text>
<line x1="791.2" y1="1671.6" x2="791.2" y2="1680.1" stroke="#000" stroke-width="2.2"/>
<text x="791.2" y="1699.1" font-size="16.5" font-weight="bold" text-anchor="middle">600</text>
<line x1="869" y1="1671.6" x2="869" y2="1680.1" stroke="#000" stroke-width="2.2"/>
<text x="869" y="1699.1" font-size="16.5" font-weight="bold" text-anchor="middle">800</text>
<text x="711.4" y="1727.9" font-size="19.8" text-anchor="middle">Time (s)</text>
<text x="517" y="1572.3" font-size="19.8" text-anchor="middle" transform="rotate(-90 517 1572.3)">Response  (RU)</text>
<path d="M557.7 1671.6l1.4-6 1.4-5.7 1.4-5.4 1.4-5 1.4-4.8 1.4-4.5 2.9-8.5 3-7.6 2.9-6.6 2.9-5.9 3-5.2 2.9-4.5 3-4 2.9-3.6 2.9-3.1 3-2.8 2.9-2.4 2.9-2.2 3-1.9 2.9-1.6 2.9-1.5 3-1.3 2.9-1.1 2.9-1 3-.9 2.9-.8 2.9-.7" fill="none" stroke="#000" stroke-width="1.1" stroke-linejoin="round"/>
<path d="M627.7 1579.2l1.5 .1 1.4 .1 1.4 .1 1.4 .1 1.4 0 1.4 .1 1.4 .1 1.5 .1 1.4 .1 1.4 .1 1.4 0 3.9 .3 6.6 .3 6.5 .4 6.6 .3 6.6 .4 6.6 .3 6.5 .4 6.6 .3 6.6 .3 6.6 .3 6.5 .3 6.6 .3 6.6 .3 6.6 .3 6.5 .3 6.6 .3 6.6 .3 6.6 .2 6.5 .3 6.6 .3 6.6 .2 6.6 .3 6.5 .2 6.6 .2 6.6 .3 6.6 .2 6.5 .2 6.6 .2 6.6 .3 6.6 .2" fill="none" stroke="#000" stroke-width="1.1" stroke-linejoin="round"/>
<path d="M557.7 1671.6l1.4-2.5 1.4-2.5 1.4-2.4 1.4-2.3 1.4-2.3 1.4-2.2 2.9-4.5 3-4.2 2.9-4 2.9-3.8 3-3.6 2.9-3.4 3-3.2 2.9-3.1 2.9-2.9 3-2.7 2.9-2.6 2.9-2.4 3-2.4 2.9-2.2 2.9-2 3-2 2.9-1.9 2.9-1.8 3-1.6 2.9-1.6 2.9-1.5" fill="none" stroke="#000" stroke-width="1.1" stroke-linejoin="round"/>
<path d="M627.7 1600l1.5 .1 1.4 0 1.4 .1 1.4 .1 1.4 0 1.4 .1 1.4 .1 1.5 0 1.4 .1 1.4 .1 1.4 .1 3.9 .1 6.6 .4 6.5 .3 6.6 .3 6.6 .3 6.6 .3 6.5 .3 6.6 .3 6.6 .2 6.6 .3 6.5 .3 6.6 .3 6.6 .2 6.6 .3 6.5 .2 6.6 .3 6.6 .2 6.6 .3 6.5 .2 6.6 .2 6.6 .3 6.6 .2 6.5 .2 6.6 .2 6.6 .3 6.6 .2 6.5 .2 6.6 .2 6.6 .2 6.6 .2" fill="none" stroke="#000" stroke-width="1.1" stroke-linejoin="round"/>
<path d="M557.7 1671.6l1.4-.9 1.4-.9 1.4-1 1.4-.9 1.4-.9 1.4-.9 2.9-1.8 3-1.8 2.9-1.8 2.9-1.8 3-1.7 2.9-1.7 3-1.7 2.9-1.6 2.9-1.6 3-1.6 2.9-1.6 2.9-1.5 3-1.5 2.9-1.5 2.9-1.4 3-1.5 2.9-1.4 2.9-1.4 3-1.3 2.9-1.4 2.9-1.3" fill="none" stroke="#000" stroke-width="1.1" stroke-linejoin="round"/>
<path d="M627.7 1636.3l1.5 0 1.4 .1 1.4 0 1.4 .1 1.4 0 1.4 0 1.4 .1 1.5 0 1.4 0 1.4 .1 1.4 0 3.9 .1 6.6 .2 6.5 .1 6.6 .2 6.6 .1 6.6 .2 6.5 .1 6.6 .1 6.6 .2 6.6 .1 6.5 .2 6.6 .1 6.6 .1 6.6 .2 6.5 .1 6.6 .1 6.6 .1 6.6 .2 6.5 .1 6.6 .1 6.6 .1 6.6 .1 6.5 .1 6.6 .1 6.6 .1 6.6 .2 6.5 .1 6.6 .1 6.6 .1 6.6 .1" fill="none" stroke="#000" stroke-width="1.1" stroke-linejoin="round"/>
<path d="M557.7 1671.6l1.4-.3 1.4-.3 1.4-.3 1.4-.3 1.4-.3 1.4-.3 2.9-.7 3-.6 2.9-.6 2.9-.6 3-.6 2.9-.5 3-.6 2.9-.6 2.9-.5 3-.5 2.9-.6 2.9-.5 3-.5 2.9-.5 2.9-.5 3-.5 2.9-.4 2.9-.5 3-.5 2.9-.4 2.9-.5" fill="none" stroke="#000" stroke-width="1.1" stroke-linejoin="round"/>
<path d="M627.7 1660.2l1.5 0 1.4 0 1.4 0 1.4 0 1.4 0 1.4 0 1.4 0 1.5 0 1.4 0 1.4 0 1.4 0 3.9 0 6.6 .1 6.5 0 6.6 0 6.6 0 6.6 0 6.5 .1 6.6 0 6.6 0 6.6 0 6.5 0 6.6 0 6.6 .1 6.6 0 6.5 0 6.6 0 6.6 0 6.6 0 6.5 .1 6.6 0 6.6 0 6.6 0 6.5 0 6.6 0 6.6 0 6.6 .1 6.5 0 6.6 0 6.6 0 6.6 0" fill="none" stroke="#000" stroke-width="1.1" stroke-linejoin="round"/>
<path d="M557.7 1671.6l1.4-.1 1.4-.1 1.4-.1 1.4 0 1.4-.1 1.4-.1 2.9-.2 3-.2 2.9-.1 2.9-.2 3-.2 2.9-.1 3-.2 2.9-.1 2.9-.2 3-.1 2.9-.2 2.9-.1 3-.2 2.9-.1 2.9-.2 3-.1 2.9-.1 2.9-.2 3-.1 2.9-.1 2.9-.1" fill="none" stroke="#000" stroke-width="1.1" stroke-linejoin="round"/>
<path d="M627.7 1668l1.5 0 1.4 0 1.4 0 1.4 0 1.4 0 1.4 0 1.4 0 1.5 0 1.4 0 1.4 0 1.4 0 3.9 0 6.6 0 6.5 .1 6.6 0 6.6 0 6.6 0 6.5 0 6.6 .1 6.6 0 6.6 0 6.5 0 6.6 0 6.6 0 6.6 .1 6.5 0 6.6 0 6.6 0 6.6 0 6.5 0 6.6 .1 6.6 0 6.6 0 6.5 0 6.6 0 6.6 0 6.6 0 6.5 0 6.6 .1 6.6 0 6.6 0" fill="none" stroke="#000" stroke-width="1.1" stroke-linejoin="round"/>
<path d="M557.7 1671.3l2.1-7 2-6.6 2.1-6.3 2-5.5 2.1-5.2 2.1-4.8 2-5 2.1-4.6 2-4.4 2.1-4.6 2.1-4.4 2-3.5 2.1-3.6 2-3 2.1-3 2.1-2.8 2-2.8 2.1-2.6 2-3 2.1-2 2.1-1.9 2-2.5 2.1-1.8 2-1.8 2.1-1.7 2.1-1.8 2-1 2.1-1.6 2-1 2.1-1.3 2.1-1.4 2-1.3 2.1-.9 2-1.1" fill="none" stroke="#7E2A82" stroke-width="1.15" stroke-linejoin="round"/>
<path d="M627.7 1567.6l2.1 2.2 2 1.2 2 1.4 2 1.3 2 .5 2.1 .3 2 .8 2 .9 2 .3 2 .8 2.1 .4 2 .2 2 .1 2 .6 2 .1 2.1 0 2 .6 2 .3 2-.1 2.1 .4 2 .3 2-.1 2 .2 2-.2 2.1 .2 2 .3 2-.1 2-.4 2 .5 2.1 0 2 .3 2 .2 2 .6 2 .2 2.1 0 2-.3 2 .2 2-.2 2-.3 2.1 .1 2 .4 2 .1 2 .3 2 .1 2.1 0 2 .1 2 .1 2 .1 2 .2 2.1 .6 2-.2 2 .1 2 .4 2 0 2.1-.1 2 .8 2 .2 2 .3 2 .1 2.1 0 2-.4 2 .1 2-.3 2.1 .2 2 .1 2 .6 2-.1 2 .1 2.1 .1 2 0 2-.1 2 .4 2 0 2.1-.2 2 .1 2 .3 2 0 2-.2 2.1 .5 2-.2 2-.2 2-.1 2 .4 2.1 .2 2 .3 2-.3 2 .2 2 0 2.1-.2 2 0 2 .4 2 0 2-.3 2.1 0 2 .1 2 .2 2 .4 2 .8 2.1-.1 2 .4 2-.4 2-.3 2-.2 2.1 .1" fill="none" stroke="#7E2A82" stroke-width="1.15" stroke-linejoin="round"/>
<path d="M557.7 1671.9l2.1-3.7 2-3.7 2.1-3.3 2-3.4 2.1-3.1 2.1-2.9 2-2.6 2.1-2.6 2-2.5 2.1-2.4 2.1-2.5 2-2.7 2.1-3 2-2.9 2.1-2.3 2.1-2.4 2-1.8 2.1-1.4 2-1.9 2.1-1.5 2.1-1.3 2-1.6 2.1-1.9 2-1 2.1-1.8 2.1-1.4 2-1.2 2.1-1 2-1.4 2.1-.9 2.1-1.1 2-1.1 2.1-1.1 2-1" fill="none" stroke="#4D4D4D" stroke-width="1.15" stroke-linejoin="round"/>
<path d="M627.7 1602.9l2.1 1.2 2 .7 2 .6 2 .9 2 .6 2.1 .2 2 .2 2 .3 2-.1 2 .1 2.1 .3 2 .6 2 .4 2 0 2-.2 2.1-.1 2 .1 2-.3 2 .3 2.1 .3 2 .3 2-.1 2 .1 2 .3 2.1 .1 2 .1 2 0 2 0 2 0 2.1-.1 2 0 2-.2 2-.1 2 .2 2.1 .2 2 0 2 .2 2 .2 2 0 2.1-.3 2 .3 2 0 2-.2 2-.3 2.1 .1 2-.2 2-.1 2 .1 2 .3 2.1 .3 2 .3 2 0 2 0 2-.1 2.1-.1 2-.1 2 .3 2 .2 2 .2 2.1 .5 2 0 2 0 2 .1 2.1 0 2-.4 2 .1 2-.4 2-.2 2.1-.1 2 .1 2-.2 2 .2 2 .2 2.1 0 2 .4 2 .2 2 0 2-.4 2.1-.4 2-.3 2-.2 2 0 2-.2 2.1 0 2-.3 2 .1 2 0 2 .3 2.1 .3 2 .4 2 .3 2-.1 2 .2 2.1-.1 2 .1 2 .2 2 .1 2-.2 2.1 .4 2 .2 2-.3 2 .2 2 .2 2.1-.2" fill="none" stroke="#4D4D4D" stroke-width="1.15" stroke-linejoin="round"/>
<path d="M557.7 1671.4l2.1-1.3 2-1 2.1-1.8 2-1.4 2.1-1.3 2.1-1.6 2-1.5 2.1-1.2 2-.7 2.1-1.4 2.1-1.2 2-1 2.1-.8 2-1.6 2.1-.9 2.1-1 2-1.6 2.1-1.9 2-1.1 2.1-.7 2.1-1.2 2-.7 2.1-.6 2-1 2.1-1.4 2.1-.9 2-1.2 2.1-1.1 2-1 2.1-1 2.1-1.2 2-1 2.1-1.1 2-.8" fill="none" stroke="#FF8A1F" stroke-width="1.15" stroke-linejoin="round"/>
<path d="M627.7 1632.1l2.1 .1 2 0 2 .5 2-.5 2 .2 2.1-.1 2 .2 2-.2 2 .4 2 0 2.1 .2 2 .2 2 .1 2 .3 2-.4 2.1 .2 2 0 2-.2 2-.4 2.1 .7 2 0 2-.2 2 .1 2 .5 2.1 .1 2-.1 2-.1 2 .1 2-.3 2.1-.3 2-.2 2 .1 2 0 2 .2 2.1 .2 2 .1 2 0 2 .1 2 .2 2.1-.2 2-.2 2 .1 2 .1 2-.2 2.1-.4 2 .3 2 .3 2 .1 2 .3 2.1 .8 2 .1 2-.5 2-.2 2-.4 2.1-.4 2-.1 2 0 2 .3 2 .4 2.1 .4 2-.3 2 0 2 0 2.1 0 2-.2 2 .3 2 0 2-.1 2.1-.1 2 .4 2 .1 2 .5 2-.3 2.1-.2 2-.3 2-.3 2-.6 2 .1 2.1 .6 2 .2 2 .7 2 .5 2 .4 2.1-.2 2-.1 2-.3 2 0 2-.3 2.1 .1 2 .1 2 .3 2 0 2 0 2.1-.1 2 .3 2-.4 2-.1 2 .4 2.1-.1 2-.1 2 0 2 .1 2-.1 2.1 .1" fill="none" stroke="#FF8A1F" stroke-width="1.15" stroke-linejoin="round"/>
<path d="M557.7 1671.4l2.1-.7 2-.4 2.1-.1 2-.2 2.1-.6 2.1-.4 2-.3 2.1-.7 2-.8 2.1-.4 2.1-.2 2-.4 2.1-.1 2-.2 2.1-.6 2.1-.8 2-.6 2.1-.2 2-.7 2.1-.1 2.1-.3 2-.5 2.1-.6 2-.5 2.1-.8 2.1-.7 2-.2 2.1-.6 2-.3 2.1 0 2.1-.3 2-.5 2.1-.2 2-.4" fill="none" stroke="#2DC92D" stroke-width="1.15" stroke-linejoin="round"/>
<path d="M627.7 1656.5l2.1 .2 2-.3 2-.1 2 0 2-.2 2.1-.4 2 .3 2 .1 2 .1 2 .1 2.1 .3 2-.5 2 .2 2-.2 2 .1 2.1 0 2 .3 2-.1 2 .2 2.1 .1 2 .1 2-.1 2-.1 2-.2 2.1 .2 2-.2 2 .4 2 .1 2 0 2.1-.3 2 0 2-.3 2-.2 2-.1 2.1 .4 2 0 2 .2 2 .4 2 .3 2.1-.1 2 .5 2 .1 2-.2 2-.3 2.1 0 2-.2 2 .2 2 0 2 .4 2.1-.2 2 .1 2-.2 2 .3 2 0 2.1 .3 2 .2 2-.3 2-.5 2-.1 2.1-.3 2-.3 2 0 2 .3 2.1-.3 2 0 2 .2 2 0 2-.5 2.1 .4 2-.2 2-.3 2 .3 2 .9 2.1-.3 2 .3 2-.1 2 .1 2-.3 2.1 0 2 0 2 .1 2 .1 2-.2 2.1 0 2 0 2 0 2 0 2-.2 2.1 .2 2 0 2-.3 2-.2 2 .5 2.1 .1 2 0 2 0 2-.1 2-.2 2.1-.3 2-.3 2 .4 2-.2 2 0 2.1 .1" fill="none" stroke="#2DC92D" stroke-width="1.15" stroke-linejoin="round"/>
<path d="M557.7 1671.8l2.1-.2 2-.5 2.1 0 2-.6 2.1-.6 2.1 0 2-.1 2.1-.3 2 .1 2.1-.2 2.1-.6 2 0 2.1-.1 2 .2 2.1-.1 2.1 0 2-.2 2.1 0 2-.4 2.1-.4 2.1-.3 2-.4 2.1-.4 2-.3 2.1 0 2.1 .3 2 0 2.1 .2 2 .2 2.1-.6 2.1-.1 2-.3 2.1-.3 2-.4" fill="none" stroke="#2F2FFF" stroke-width="1.15" stroke-linejoin="round"/>
<path d="M627.7 1664.8l2.1 0 2 .2 2-.2 2 .1 2 .7 2.1 .2 2 0 2 .3 2-.2 2 0 2.1-.2 2-.6 2 .2 2 .1 2-.5 2.1-.1 2 .5 2 .1 2 .1 2.1 0 2 0 2 .3 2 .2 2 0 2.1 .5 2 .1 2-.4 2-.8 2-.4 2.1-.3 2-.1 2 .2 2 .6 2 .2 2.1-.2 2 .5 2-.3 2-.4 2 .1 2.1 .1 2-.2 2 .1 2 0 2 .1 2.1-.2 2-.2 2-.1 2 .5 2 .2 2.1 0 2 .3 2 .3 2-.2 2-.1 2.1 .2 2 0 2 0 2-.2 2-.1 2.1-.2 2 .2 2-.5 2 .3 2.1-.3 2 0 2-.4 2 .3 2-.2 2.1 .4 2 .1 2-.2 2 .3 2 .3 2.1-.3 2 0 2 .2 2-.3 2-.4 2.1-.2 2 .4 2-.4 2 .2 2 0 2.1 .1 2-.3 2 .4 2-.3 2-.1 2.1-.2 2-.4 2 .1 2 .2 2 .4 2.1-.2 2 .4 2-.3 2-.2 2 .3 2.1-.1 2-.1 2 .2 2 .7 2-.4 2.1 .4" fill="none" stroke="#2F2FFF" stroke-width="1.15" stroke-linejoin="round"/>
<path d="M557.7 1672.1l2.1-.1 2-.4 2.1-.1 2-.8 2.1-.3 2.1-.5 2 .3 2.1-.3 2 .3 2.1 .4 2.1 .3 2-.1 2.1 .2 2-.3 2.1-.4 2.1 0 2-.1 2.1-.2 2-.4 2.1-.3 2.1-.2 2-.1 2.1-.6 2 .1 2.1 .4 2.1 .2 2 0 2.1-.2 2 .2 2.1-.8 2.1-.3 2-.2 2.1 .4 2-.2" fill="none" stroke="#2F2FFF" stroke-width="1.15" stroke-linejoin="round"/>
<path d="M627.7 1668.2l2.1 .2 2 .2 2 .4 2-.1 2 .2 2.1 .2 2-.3 2-.1 2 .1 2 0 2.1 0 2-.2 2 .1 2-.2 2-.4 2.1-.6 2 .3 2-.1 2 0 2.1 .1 2 .1 2 .1 2 0 2-.1 2.1 .1 2 0 2-.3 2 .1 2-.1 2.1 .1 2 .1 2 .5 2 0 2 .1 2.1-.2 2-.1 2-.1 2 .1 2-.2 2.1 .2 2 .1 2-.2 2 .1 2 .2 2.1 .1 2-.1 2 .4 2-.5 2-.3 2.1 .3 2-.1 2-.3 2-.2 2 .3 2.1 0 2 0 2-.3 2 .5 2-.2 2.1-.5 2 .4 2 .8 2-.2 2.1-.1 2 .6 2-.5 2-.4 2 .2 2.1 .3 2-.2 2 .2 2 0 2 .1 2.1-.4 2-.2 2 .1 2-.1 2-.3 2.1 .3 2-.1 2-.3 2-.1 2 .5 2.1-.1 2 .4 2-.2 2 .4 2 .2 2.1 .1 2-.2 2 .2 2-.4 2-.4 2.1 .3 2-.1 2 0 2 0 2-.4 2.1 0 2 0 2-.1 2 .2 2 .4 2.1-.1" fill="none" stroke="#2F2FFF" stroke-width="1.15" stroke-linejoin="round"/>
<line x1="627.7" y1="1568.8" x2="627.7" y2="1543.9" stroke="#7E2A82" stroke-width="1.3"/>
<line x1="627.7" y1="1579.2" x2="627.7" y2="1573" stroke="#000" stroke-width="1.3"/>
<line x1="627.7" y1="1642.5" x2="627.7" y2="1595.8" stroke="#000" stroke-width="1.3"/>
<line x1="627.7" y1="1647.7" x2="627.7" y2="1631.1" stroke="#FF8A1F" stroke-width="1.3"/>
<line x1="627.7" y1="1661.2" x2="627.7" y2="1650.8" stroke="#2DC92D" stroke-width="1.3"/>
<line x1="558.1" y1="1671.6" x2="558.1" y2="1554.3" stroke="#2F2FFF" stroke-width="1.6"/>
<line x1="558.1" y1="1633.2" x2="558.1" y2="1586.5" stroke="#2DC92D" stroke-width="1.6"/>
<text x="703.7" y="1473.4" font-size="27.3" font-weight="bold" text-anchor="middle">T18A</text>
<text x="656.2" y="1554.2" font-size="23.2" textLength="207.8" lengthAdjust="spacingAndGlyphs">K<tspan font-size="16.7">D</tspan> = 0.84 ± 0.11 nM</text>
<line x1="990.9" y1="1469.5" x2="990.9" y2="1678.9" stroke="#000" stroke-width="2.2"/>
<line x1="989.8" y1="1677.8" x2="1304.4" y2="1677.8" stroke="#000" stroke-width="2.2"/>
<line x1="982.4" y1="1677.8" x2="990.9" y2="1677.8" stroke="#000" stroke-width="2.2"/>
<text x="979.4" y="1682.9" font-size="14.3" font-weight="bold" text-anchor="end">0</text>
<line x1="982.4" y1="1626" x2="990.9" y2="1626" stroke="#000" stroke-width="2.2"/>
<text x="979.4" y="1631.1" font-size="14.3" font-weight="bold" text-anchor="end">5</text>
<line x1="982.4" y1="1574.2" x2="990.9" y2="1574.2" stroke="#000" stroke-width="2.2"/>
<text x="979.4" y="1579.3" font-size="14.3" font-weight="bold" text-anchor="end">10</text>
<line x1="982.4" y1="1522.3" x2="990.9" y2="1522.3" stroke="#000" stroke-width="2.2"/>
<text x="979.4" y="1527.5" font-size="14.3" font-weight="bold" text-anchor="end">15</text>
<line x1="982.4" y1="1470.5" x2="990.9" y2="1470.5" stroke="#000" stroke-width="2.2"/>
<text x="979.4" y="1475.6" font-size="14.3" font-weight="bold" text-anchor="end">20</text>
<line x1="990.9" y1="1677.8" x2="990.9" y2="1686.3" stroke="#000" stroke-width="2.2"/>
<text x="990.9" y="1701.6" font-size="14.3" font-weight="bold" text-anchor="middle">0</text>
<line x1="1069" y1="1677.8" x2="1069" y2="1686.3" stroke="#000" stroke-width="2.2"/>
<text x="1069" y="1701.6" font-size="14.3" font-weight="bold" text-anchor="middle">200</text>
<line x1="1147.1" y1="1677.8" x2="1147.1" y2="1686.3" stroke="#000" stroke-width="2.2"/>
<text x="1147.1" y="1701.6" font-size="14.3" font-weight="bold" text-anchor="middle">400</text>
<line x1="1225.2" y1="1677.8" x2="1225.2" y2="1686.3" stroke="#000" stroke-width="2.2"/>
<text x="1225.2" y="1701.6" font-size="14.3" font-weight="bold" text-anchor="middle">600</text>
<line x1="1303.3" y1="1677.8" x2="1303.3" y2="1686.3" stroke="#000" stroke-width="2.2"/>
<text x="1303.3" y="1701.6" font-size="14.3" font-weight="bold" text-anchor="middle">800</text>
<text x="1149.9" y="1728.9" font-size="19.8" text-anchor="middle">Time (s)</text>
<text x="954.2" y="1578.7" font-size="19.8" text-anchor="middle" transform="rotate(-90 954.2 1578.7)">Response  (RU)</text>
<path d="M990.9 1677.8l.9-1.7 1-1.7 .9-1.6 .9-1.5 1-1.5 .9-1.4 2-2.8 2-2.7 1.9-2.4 2-2.3 1.9-2.1 2-1.9 2-1.8 1.9-1.7 2-1.5 2-1.5 1.9-1.3 2-1.2 2-1.2 1.9-1.1 2-.9 1.9-1 2-.8 2-.8 1.9-.7 2-.7 2-.6" fill="none" stroke="#000" stroke-width="1.1" stroke-linejoin="round"/>
<path d="M1037.8 1643.6l1.4 .1 1.4 .1 1.4 .1 1.4 0 1.5 .1 1.4 .1 1.4 .1 1.4 .1 1.4 0 1.5 .1 1.4 .1 3.9 .2 7.4 .4 7.4 .4 7.4 .4 7.4 .4 7.4 .4 7.4 .3 7.4 .4 7.4 .3 7.4 .3 7.4 .3 7.5 .4 7.4 .2 7.4 .3 7.4 .3 7.4 .3 7.4 .3 7.4 .2 7.4 .3 7.4 .2 7.4 .3 7.4 .2 7.4 .2 7.4 .2 7.4 .2 7.4 .3 7.4 .2 7.4 .1 7.5 .2 7.4 .2" fill="none" stroke="#000" stroke-width="1.1" stroke-linejoin="round"/>
<path d="M990.9 1677.8l.9-.7 1-.7 .9-.7 .9-.6 1-.7 .9-.6 2-1.2 2-1.2 1.9-1.2 2-1.1 1.9-1 2-1 2-.9 1.9-.9 2-.8 2-.8 1.9-.8 2-.7 2-.7 1.9-.7 2-.6 1.9-.6 2-.5 2-.6 1.9-.5 2-.5 2-.4" fill="none" stroke="#000" stroke-width="1.1" stroke-linejoin="round"/>
<path d="M1037.8 1657.6l1.4 .1 1.4 0 1.4 .1 1.4 0 1.5 .1 1.4 .1 1.4 0 1.4 .1 1.4 0 1.5 .1 1.4 0 3.9 .2 7.4 .3 7.4 .3 7.4 .3 7.4 .2 7.4 .3 7.4 .3 7.4 .2 7.4 .3 7.4 .2 7.4 .2 7.5 .2 7.4 .3 7.4 .2 7.4 .2 7.4 .2 7.4 .2 7.4 .1 7.4 .2 7.4 .2 7.4 .2 7.4 .1 7.4 .2 7.4 .2 7.4 .1 7.4 .2 7.4 .1 7.4 .2 7.5 .1 7.4 .1" fill="none" stroke="#000" stroke-width="1.1" stroke-linejoin="round"/>
<path d="M990.9 1677.8l.9-.2 1-.2 .9-.2 .9-.2 1-.2 .9-.2 2-.4 2-.4 1.9-.4 2-.3 1.9-.4 2-.3 2-.4 1.9-.3 2-.3 2-.4 1.9-.3 2-.3 2-.3 1.9-.3 2-.2 1.9-.3 2-.3 2-.2 1.9-.3 2-.2 2-.3" fill="none" stroke="#000" stroke-width="1.1" stroke-linejoin="round"/>
<path d="M1037.8 1669.5l1.4 0 1.4 0 1.4 .1 1.4 0 1.5 0 1.4 0 1.4 .1 1.4 0 1.4 0 1.5 0 1.4 0 3.9 .1 7.4 .1 7.4 .1 7.4 .1 7.4 .1 7.4 .1 7.4 .1 7.4 .1 7.4 .1 7.4 0 7.4 .1 7.5 .1 7.4 .1 7.4 .1 7.4 .1 7.4 0 7.4 .1 7.4 .1 7.4 .1 7.4 0 7.4 .1 7.4 .1 7.4 .1 7.4 0 7.4 .1 7.4 .1 7.4 0 7.4 .1 7.5 0 7.4 .1" fill="none" stroke="#000" stroke-width="1.1" stroke-linejoin="round"/>
<path d="M990.9 1677.8l.9-.1 1 0 .9-.1 .9 0 1-.1 .9 0 2-.1 2-.1 1.9-.1 2-.1 1.9-.1 2-.1 2-.1 1.9-.1 2-.1 2-.1 1.9-.1 2 0 2-.1 1.9-.1 2-.1 1.9 0 2-.1 2-.1 1.9 0 2-.1 2-.1" fill="none" stroke="#000" stroke-width="1.1" stroke-linejoin="round"/>
<path d="M1037.8 1675.7l1.4 0 1.4 0 1.4 .1 1.4 0 1.5 0 1.4 0 1.4 0 1.4 0 1.4 0 1.5 0 1.4 0 3.9 0 7.4 .1 7.4 0 7.4 .1 7.4 0 7.4 0 7.4 .1 7.4 0 7.4 0 7.4 .1 7.4 0 7.5 .1 7.4 0 7.4 0 7.4 0 7.4 .1 7.4 0 7.4 0 7.4 .1 7.4 0 7.4 0 7.4 .1 7.4 0 7.4 0 7.4 0 7.4 .1 7.4 0 7.4 0 7.5 0 7.4 .1" fill="none" stroke="#000" stroke-width="1.1" stroke-linejoin="round"/>
<path d="M990.9 1677.9l2.1-3.7 2.2-3.7 2.1-3.3 2.1-3.1 2.1-2.5 2.2-2.4 2.1-2.2 2.1-2.3 2.2-2.2 2.1-1.6 2.1-1.9 2.2-1.8 2.1-1.7 2.1-1 2.1-1.3 2.2-1 2.1-.8 2.1-.7 2.2-1 2.1-1.1 2.1-.8 2.2-.6" fill="none" stroke="#7E2A82" stroke-width="1.15" stroke-linejoin="round"/>
<path d="M1037.8 1640l2 .4 2 .2 2 0 2-.4 2.1-.1 2 0 2-.1 2 .4 2 .5 2.1 .1 2 .1 2 .3 2 .1 2 .5 2.1 .3 2 .4 2 .1 2 .2 2-.2 2.1 .4 2-.1 2 .4 2 .4 2 .5 2.1 0 2 .1 2-.1 2 .1 2-.1 2.1 .1 2 .6 2 .4 2 .3 2 .3 2.1 .5 2 0 2 .2 2-.1 2 .1 2.1-.5 2 .1 2-.1 2-.1 2-.1 2.1 .2 2 .1 2 .4 2 .3 2 .4 2.1 .2 2 .1 2-.3 2 0 2-.2 2.1-.1 2 .2 2 .1 2 .6 2 .2 2 .2 2.1-.1 2 .6 2-.8 2 .4 2 .2 2.1-.1 2-.1 2 .6 2 0 2 .2 2.1 .2 2 0 2-.2 2 .4 2-.3 2.1 .2 2-.2 2 .4 2-.5 2 .2 2.1 0 2 .6 2-.2 2 .3 2 .4 2.1 .4 2 0 2 0 2 .1 2-.2 2.1-.1 2-.1 2 .3 2 .2 2 0 2.1 .1 2 0 2 .4 2-.1 2 .4 2.1 .2 2-.1 2 0 2 .2 2-.2 2.1-.2 2 .4 2-.2 2 0 2 .3 2.1 .6 2 .3 2 0 2 .1 2-.1 2.1-.3" fill="none" stroke="#7E2A82" stroke-width="1.15" stroke-linejoin="round"/>
<path d="M990.9 1678.2l2.1-1.5 2.2-1.5 2.1-2 2.1-1.3 2.1-1.4 2.2-1.1 2.1-1 2.1-.6 2.2-1.1 2.1-.9 2.1-1.1 2.2-1 2.1-.8 2.1-1.1 2.1-.6 2.2-.7 2.1-1 2.1-.7 2.2-.5 2.1-.9 2.1-.5 2.2-.2" fill="none" stroke="#4D4D4D" stroke-width="1.15" stroke-linejoin="round"/>
<path d="M1037.8 1657.6l2 .1 2 .2 2-.1 2-.1 2.1 .1 2 .2 2-.1 2 .5 2 0 2.1 .4 2 .1 2 .2 2-.1 2 0 2.1-.3 2 0 2 .4 2 .1 2 .1 2.1 .1 2-.1 2-.4 2 .1 2 0 2.1 .4 2 .1 2 .1 2 0 2 .2 2.1-.2 2 .4 2 .1 2 .3 2-.1 2.1 0 2-.4 2 .2 2-.2 2 .2 2.1 .2 2 .4 2 .2 2 .2 2 .2 2.1 .2 2 .2 2 .1 2-.1 2-.2 2.1 .1 2-.3 2-.3 2-.1 2 .3 2.1 .1 2 .4 2 .4 2 .1 2 .1 2-.2 2.1-.5 2 0 2 0 2 .1 2 .5 2.1 .3 2 0 2 .2 2 0 2-.4 2.1-.1 2 0 2-.1 2-.1 2 .4 2.1 .2 2 .4 2-.1 2 .2 2 .3 2.1 .1 2 0 2 0 2-.2 2-.5 2.1-.3 2-.3 2 .3 2 .2 2 .3 2.1 .4 2 .1 2 .3 2-.3 2-.1 2.1-.1 2 .4 2-.2 2 .1 2 .2 2.1 .2 2-.3 2 0 2 .5 2-.1 2.1 .1 2 .1 2-.1 2-.2 2 0 2.1-.2 2 .1 2-.1 2-.2 2 .1 2.1 0" fill="none" stroke="#4D4D4D" stroke-width="1.15" stroke-linejoin="round"/>
<path d="M990.9 1677.9l2.1-.8 2.2-.5 2.1-.7 2.1-.4 2.1-.2 2.2-.3 2.1-.3 2.1-.1 2.2-.3 2.1-.5 2.1 0 2.2-.1 2.1-.7 2.1-.5 2.1-.6 2.2-.3 2.1-.6 2.1-.1 2.2-.4 2.1-.3 2.1-.3 2.2-.2" fill="none" stroke="#FF8A1F" stroke-width="1.15" stroke-linejoin="round"/>
<path d="M1037.8 1669.8l2 .1 2 .1 2 .2 2 .1 2.1-.5 2-.1 2 .2 2 .1 2 .1 2.1 .2 2-.1 2-.1 2-.3 2-.2 2.1-.1 2 0 2-.2 2 0 2 0 2.1 .2 2 .4 2 .1 2 .1 2 .1 2.1-.1 2-.1 2 .2 2 .1 2-.2 2.1 0 2-.2 2 0 2 .2 2 .2 2.1-.2 2 .4 2-.3 2-.4 2-.1 2.1 .2 2-.1 2 .3 2 .2 2 .2 2.1-.3 2 .2 2-.1 2 .2 2-.1 2.1 .7 2-.1 2-.4 2-.3 2 .4 2.1-.4 2-.3 2 .3 2 .1 2 0 2-.2 2.1 .2 2 0 2-.1 2-.1 2-.1 2.1 .1 2 .1 2 .2 2 0 2 .2 2.1 .1 2 0 2-.3 2-.3 2-.3 2.1 0 2-.2 2 .1 2 .1 2 .4 2.1-.2 2 .3 2-.1 2 .4 2-.4 2.1 .3 2 .2 2 .4 2 0 2 .1 2.1 .4 2-.1 2-.1 2 0 2 0 2.1-.2 2 .1 2-.2 2 0 2-.1 2.1 0 2-.3 2 .2 2-.1 2 .1 2.1-.1 2 .2 2-.1 2 .2 2 .1 2.1-.1 2-.6 2 0 2-.2 2 0 2.1 .1" fill="none" stroke="#FF8A1F" stroke-width="1.15" stroke-linejoin="round"/>
<path d="M990.9 1677.6l2.1-.3 2.2-.2 2.1-.4 2.1-.2 2.1 .2 2.2 0 2.1 0 2.1 .5 2.2 .2 2.1-.3 2.1 .1 2.2-.1 2.1-.2 2.1-.3 2.1-.2 2.2-.3 2.1 0 2.1-.3 2.2 .1 2.1-.1 2.1-.1 2.2-.1" fill="none" stroke="#2DC92D" stroke-width="1.15" stroke-linejoin="round"/>
<path d="M1037.8 1675.4l2-.2 2 .1 2 .1 2 .5 2.1-.1 2 .2 2-.2 2-.2 2-.1 2.1 0 2-.1 2 .1 2 .3 2-.1 2.1 0 2 .1 2-.1 2 0 2 0 2.1-.1 2 .2 2 0 2 0 2 .1 2.1-.1 2 0 2 .2 2-.2 2 0 2.1 .1 2 .3 2 0 2 0 2 .3 2.1 0 2 .1 2 0 2 .2 2-.1 2.1 0 2-.3 2-.3 2-.2 2 .2 2.1 0 2 .4 2 .2 2 .1 2-.2 2.1 0 2-.1 2-.3 2-.1 2-.3 2.1 0 2-.2 2 .2 2-.1 2 .3 2 0 2.1 .2 2 0 2 .2 2 0 2-.1 2.1-.1 2 0 2 0 2 0 2 .4 2.1 .2 2 0 2-.2 2-.1 2-.4 2.1-.2 2-.3 2 .4 2-.2 2 .2 2.1 .3 2 .4 2 .1 2-.1 2 0 2.1-.1 2-.2 2 0 2 .2 2 .1 2.1-.1 2-.1 2 .1 2 0 2-.2 2.1 .2 2 .2 2-.2 2-.1 2 .1 2.1-.1 2-.1 2-.1 2 .1 2-.2 2.1-.1 2 .2 2 .3 2 .1 2 .3 2.1-.1 2-.1 2-.4 2-.1 2 0 2.1 .1" fill="none" stroke="#2DC92D" stroke-width="1.15" stroke-linejoin="round"/>
<path d="M990.9 1677.8l2.1-.2 2.2-.1 2.1 .1 2.1-.2 2.1 0 2.2-.2 2.1-.2 2.1 .2 2.2 .1 2.1-.2 2.1 .1 2.2 .2 2.1-.1 2.1-.3 2.1 0 2.2-.1 2.1-.1 2.1-.3 2.2-.1 2.1-.2 2.1 .2 2.2 0" fill="none" stroke="#2F2FFF" stroke-width="1.15" stroke-linejoin="round"/>
<path d="M1037.8 1676.7l2 .1 2 .1 2 0 2 .1 2.1-.1 2 0 2-.2 2 0 2 .2 2.1 0 2 0 2 .2 2-.1 2-.2 2.1 .2 2-.3 2-.3 2 .2 2-.1 2.1-.1 2 .1 2 .5 2-.2 2 .4 2.1-.1 2 .3 2-.5 2-.1 2-.3 2.1 .4 2-.3 2 .1 2 .7 2 .3 2.1-.4 2-.1 2 .2 2-.4 2-.1 2.1-.1 2 .3 2-.3 2-.1 2 .2 2.1-.1 2 .1 2 .1 2 0 2-.2 2.1 .1 2-.2 2-.1 2 .2 2 .2 2.1-.1 2 0 2 .1 2-.1 2-.2 2 .1 2.1 .3 2 0 2-.1 2 0 2 .2 2.1-.1 2 0 2 .1 2 .1 2-.2 2.1-.2 2-.2 2-.1 2-.2 2 0 2.1-.3 2 .2 2 .1 2 0 2 .3 2.1 .4 2-.1 2 0 2 .4 2-.1 2.1-.1 2 .1 2 0 2-.2 2-.1 2.1-.1 2 .1 2 0 2-.2 2 .1 2.1-.2 2 0 2 0 2-.1 2 .1 2.1 0 2-.2 2 .1 2 .5 2-.1 2.1 .3 2 .2 2 .2 2-.3 2 0 2.1-.1 2-.1 2-.3 2 .2 2 0 2.1 0" fill="none" stroke="#2F2FFF" stroke-width="1.15" stroke-linejoin="round"/>
<line x1="1037.8" y1="1641.5" x2="1037.8" y2="1626" stroke="#7E2A82" stroke-width="1.3"/>
<line x1="1037.8" y1="1643.6" x2="1037.8" y2="1637.4" stroke="#000" stroke-width="1.3"/>
<line x1="1037.8" y1="1669.5" x2="1037.8" y2="1662.3" stroke="#FF8A1F" stroke-width="1.3"/>
<line x1="991.3" y1="1677.8" x2="991.3" y2="1620.8" stroke="#2DC92D" stroke-width="1.6"/>
<line x1="991.3" y1="1620.8" x2="991.3" y2="1615.6" stroke="#FF8A1F" stroke-width="1.6"/>
<text x="1084" y="1473.4" font-size="27.3" font-weight="bold">T<tspan font-size="19" font-weight="normal" stroke="#000" stroke-width="0.45" dy="-8">D</tspan><tspan dy="8" dx="-0.8">3A</tspan><tspan font-size="19" font-weight="normal" stroke="#000" stroke-width="0.45" dy="-8" dx="-0.5">D</tspan><tspan font-size="18.4" dy="12" dx="-2">R273Q</tspan></text>
<text x="1104.6" y="1554.2" font-size="23.2" textLength="182.2" lengthAdjust="spacingAndGlyphs">K<tspan font-size="16.7">D</tspan> = 2.4 ± 0.3 nM</text>
<line x1="1433.8" y1="1466.5" x2="1433.8" y2="1675.3" stroke="#000" stroke-width="2.2"/>
<line x1="1432.7" y1="1674.2" x2="1745.3" y2="1674.2" stroke="#000" stroke-width="2.2"/>
<line x1="1425.3" y1="1674.2" x2="1433.8" y2="1674.2" stroke="#000" stroke-width="2.2"/>
<text x="1422.3" y="1679.7" font-size="15.2" font-weight="bold" text-anchor="end">0</text>
<line x1="1425.3" y1="1622.5" x2="1433.8" y2="1622.5" stroke="#000" stroke-width="2.2"/>
<text x="1422.3" y="1628" font-size="15.2" font-weight="bold" text-anchor="end">5</text>
<line x1="1425.3" y1="1570.8" x2="1433.8" y2="1570.8" stroke="#000" stroke-width="2.2"/>
<text x="1422.3" y="1576.3" font-size="15.2" font-weight="bold" text-anchor="end">10</text>
<line x1="1425.3" y1="1519.2" x2="1433.8" y2="1519.2" stroke="#000" stroke-width="2.2"/>
<text x="1422.3" y="1524.6" font-size="15.2" font-weight="bold" text-anchor="end">15</text>
<line x1="1425.3" y1="1467.5" x2="1433.8" y2="1467.5" stroke="#000" stroke-width="2.2"/>
<text x="1422.3" y="1473" font-size="15.2" font-weight="bold" text-anchor="end">20</text>
<line x1="1433.8" y1="1674.2" x2="1433.8" y2="1682.7" stroke="#000" stroke-width="2.2"/>
<text x="1433.8" y="1699.5" font-size="15.2" font-weight="bold" text-anchor="middle">0</text>
<line x1="1511.4" y1="1674.2" x2="1511.4" y2="1682.7" stroke="#000" stroke-width="2.2"/>
<text x="1511.4" y="1699.5" font-size="15.2" font-weight="bold" text-anchor="middle">200</text>
<line x1="1589" y1="1674.2" x2="1589" y2="1682.7" stroke="#000" stroke-width="2.2"/>
<text x="1589" y="1699.5" font-size="15.2" font-weight="bold" text-anchor="middle">400</text>
<line x1="1666.6" y1="1674.2" x2="1666.6" y2="1682.7" stroke="#000" stroke-width="2.2"/>
<text x="1666.6" y="1699.5" font-size="15.2" font-weight="bold" text-anchor="middle">600</text>
<line x1="1744.2" y1="1674.2" x2="1744.2" y2="1682.7" stroke="#000" stroke-width="2.2"/>
<text x="1744.2" y="1699.5" font-size="15.2" font-weight="bold" text-anchor="middle">800</text>
<text x="1587" y="1727.7" font-size="19.8" text-anchor="middle">Time (s)</text>
<text x="1394.1" y="1575.3" font-size="19.8" text-anchor="middle" transform="rotate(-90 1394.1 1575.3)">Response  (RU)</text>
<path d="M1433.8 1674.2l.9-2 1-1.9 .9-1.8 .9-1.8 1-1.7 .9-1.6 1.9-3.3 2-3 1.9-2.8 2-2.6 1.9-2.4 2-2.3 1.9-2 2-2 1.9-1.7 2-1.7 1.9-1.5 2-1.5 2-1.3 1.9-1.2 2-1.1 1.9-1.1 2-1 1.9-.9 2-.8 1.9-.8 2-.7" fill="none" stroke="#000" stroke-width="1.1" stroke-linejoin="round"/>
<path d="M1480.4 1637l1.4 .1 1.4 .1 1.4 .1 1.4 .1 1.4 .1 1.4 .1 1.4 .1 1.4 .1 1.5 .1 1.4 .1 1.4 .1 3.9 .3 7.3 .5 7.4 .5 7.3 .4 7.4 .5 7.4 .4 7.3 .5 7.4 .4 7.3 .4 7.4 .4 7.3 .4 7.4 .4 7.4 .3 7.3 .4 7.4 .3 7.3 .4 7.4 .3 7.4 .3 7.3 .3 7.4 .3 7.3 .3 7.4 .3 7.3 .2 7.4 .3 7.4 .3 7.3 .2 7.4 .3 7.3 .2 7.4 .2 7.4 .3" fill="none" stroke="#000" stroke-width="1.1" stroke-linejoin="round"/>
<path d="M1433.8 1674.2l.9-.9 1-.8 .9-.9 .9-.8 1-.8 .9-.8 1.9-1.5 2-1.5 1.9-1.4 2-1.4 1.9-1.3 2-1.2 1.9-1.2 2-1.1 1.9-1 2-1 1.9-1 2-.9 2-.8 1.9-.8 2-.8 1.9-.8 2-.7 1.9-.6 2-.7 1.9-.6 2-.5" fill="none" stroke="#000" stroke-width="1.1" stroke-linejoin="round"/>
<path d="M1480.4 1651.5l1.4 0 1.4 .1 1.4 .1 1.4 0 1.4 .1 1.4 .1 1.4 0 1.4 .1 1.5 0 1.4 .1 1.4 .1 3.9 .1 7.3 .4 7.4 .3 7.3 .3 7.4 .3 7.4 .2 7.3 .3 7.4 .3 7.3 .2 7.4 .3 7.3 .2 7.4 .3 7.4 .2 7.3 .2 7.4 .3 7.3 .2 7.4 .2 7.4 .2 7.3 .2 7.4 .2 7.3 .2 7.4 .1 7.3 .2 7.4 .2 7.4 .1 7.3 .2 7.4 .2 7.3 .1 7.4 .2 7.4 .1" fill="none" stroke="#000" stroke-width="1.1" stroke-linejoin="round"/>
<path d="M1433.8 1674.2l.9-.3 1-.3 .9-.3 .9-.2 1-.3 .9-.3 1.9-.5 2-.6 1.9-.5 2-.5 1.9-.5 2-.5 1.9-.5 2-.4 1.9-.5 2-.4 1.9-.5 2-.4 2-.4 1.9-.4 2-.4 1.9-.4 2-.4 1.9-.3 2-.4 1.9-.3 2-.4" fill="none" stroke="#000" stroke-width="1.1" stroke-linejoin="round"/>
<path d="M1480.4 1664.4l1.4 0 1.4 0 1.4 .1 1.4 0 1.4 0 1.4 .1 1.4 0 1.4 0 1.5 .1 1.4 0 1.4 0 3.9 .1 7.3 .2 7.4 .1 7.3 .2 7.4 .1 7.4 .2 7.3 .1 7.4 .1 7.3 .2 7.4 .1 7.3 .1 7.4 .1 7.4 .2 7.3 .1 7.4 .1 7.3 .1 7.4 .1 7.4 .1 7.3 .1 7.4 .1 7.3 .1 7.4 .1 7.3 .1 7.4 0 7.4 .1 7.3 .1 7.4 .1 7.3 .1 7.4 0 7.4 .1" fill="none" stroke="#000" stroke-width="1.1" stroke-linejoin="round"/>
<path d="M1433.8 1674.2l.9-.1 1-.1 .9-.1 .9-.1 1-.1 .9-.1 1.9-.1 2-.2 1.9-.2 2-.2 1.9-.1 2-.2 1.9-.2 2-.1 1.9-.2 2-.1 1.9-.2 2-.1 2-.1 1.9-.2 2-.1 1.9-.1 2-.2 1.9-.1 2-.1 1.9-.1 2-.1" fill="none" stroke="#000" stroke-width="1.1" stroke-linejoin="round"/>
<path d="M1480.4 1670.6l1.4 0 1.4 0 1.4 0 1.4 0 1.4 0 1.4 0 1.4 0 1.4 0 1.5 .1 1.4 0 1.4 0 3.9 0 7.3 0 7.4 .1 7.3 0 7.4 .1 7.4 0 7.3 0 7.4 .1 7.3 0 7.4 0 7.3 .1 7.4 0 7.4 0 7.3 .1 7.4 0 7.3 0 7.4 .1 7.4 0 7.3 0 7.4 .1 7.3 0 7.4 0 7.3 0 7.4 .1 7.4 0 7.3 0 7.4 0 7.3 .1 7.4 0 7.4 0" fill="none" stroke="#000" stroke-width="1.1" stroke-linejoin="round"/>
<path d="M1433.8 1674.5l2.1-4.5 2.1-4.1 2.1-3.6 2.2-3.8 2.1-3.3 2.1-2.3 2.1-2.9 2.1-2.5 2.1-1.8 2.2-2.2 2.1-2.5 2.1-1.4 2.1-1.6 2.1-2.1 2.1-1.7 2.2-1.2 2.1-1.4 2.1-.9 2.1-.7 2.1-.6 2.1-.9 2.2-.7" fill="none" stroke="#7E2A82" stroke-width="1.15" stroke-linejoin="round"/>
<path d="M1480.4 1631.8l2 .2 2 .4 2 .1 2.1-.2 2 .3 2 .3 2 0 2.1 .1 2 .5 2 .6 2 .3 2.1 .2 2 .5 2 .3 2 .1 2-.1 2.1 .1 2 .1 2-.3 2 .2 2.1 .4 2 .5 2 0 2 .5 2.1 .3 2 .3 2-.3 2 .2 2.1 .1 2-.2 2 .3 2 .6 2.1 .4 2 .4 2 .3 2-.2 2.1-.1 2-.2 2-.4 2 .2 2.1 .2 2 .2 2 .5 2 .6 2.1 0 2 .3 2 .1 2-.2 2.1 .3 2 .6 2 0 2 .3 2.1 .3 2 .1 2-.3 2 0 2-.2 2.1 .2 2 .2 2 .6 2 .6 2.1 .4 2 .1 2 0 2-.2 2.1 .1 2 .2 2 .4 2-.1 2.1 .4 2-.3 2 0 2-.2 2.1 .1 2-.3 2 0 2 .1 2.1 .4 2 .2 2 .3 2 .2 2.1 0 2 0 2-.1 2 .1 2.1 0 2 .4 2 0 2 .1 2.1 .1 2 .4 2-.3 2 .2 2 .4 2.1 .2 2-.2 2 .4 2-.2 2.1-.4 2-.1 2 .1 2 .1 2.1 .4 2 .4 2-.1 2 .4 2.1 0 2 0 2-.2 2 .5 2.1 .2 2 .2 2 .1 2 .2 2.1-.3" fill="none" stroke="#7E2A82" stroke-width="1.15" stroke-linejoin="round"/>
<path d="M1433.8 1673.8l2.1-2 2.1-2 2.1-1.6 2.2-1.8 2.1-1.4 2.1-1.5 2.1-1.3 2.1-1.5 2.1-1.4 2.2-.9 2.1-.7 2.1-1.3 2.1-1 2.1-.7 2.1-.9 2.2-1.7 2.1-.6 2.1-.5 2.1-.7 2.1-.8 2.1-.2 2.2-.7" fill="none" stroke="#4D4D4D" stroke-width="1.15" stroke-linejoin="round"/>
<path d="M1480.4 1651.6l2 .1 2 .1 2 0 2.1 .2 2 .2 2 .2 2-.1 2.1 .3 2-.1 2 .4 2 0 2.1 .4 2-.3 2 .1 2-.3 2 .3 2.1 .1 2 .3 2 .3 2 0 2.1-.2 2-.1 2 0 2-.1 2.1 .1 2 .2 2 0 2-.1 2.1 .1 2 .1 2 .1 2 .1 2.1 .1 2 .2 2 .3 2 0 2.1 .1 2 .1 2 .1 2-.5 2.1 .3 2 .2 2 .1 2 .2 2.1 .3 2-.2 2 .3 2 0 2.1-.3 2 .1 2 .3 2-.4 2.1 .3 2 .3 2 .1 2-.1 2 .5 2.1-.1 2 0 2 .3 2 .1 2.1-.4 2 .1 2 .1 2 0 2.1-.1 2 .2 2 .1 2 .2 2.1 0 2 .2 2 0 2-.1 2.1-.3 2-.1 2-.1 2 .1 2.1 .2 2 .3 2 .2 2 .2 2.1 0 2 .1 2-.3 2-.1 2.1 0 2-.1 2 .1 2 .2 2.1 0 2-.5 2 .4 2-.1 2 .3 2.1 .1 2 .4 2 0 2 .1 2.1 0 2 0 2 .3 2 .1 2.1-.2 2-.1 2 .1 2 0 2.1-.2 2 .2 2 .1 2 .2 2.1-.1 2-.1 2 .1 2 .1 2.1 0" fill="none" stroke="#4D4D4D" stroke-width="1.15" stroke-linejoin="round"/>
<path d="M1433.8 1674.4l2.1-.7 2.1-.7 2.1-.7 2.2-1 2.1-.8 2.1-.5 2.1-.9 2.1-.6 2.1-.4 2.2-.5 2.1-.5 2.1-.3 2.1-.6 2.1-.3 2.1-.5 2.2-.6 2.1-.6 2.1-.5 2.1-1 2.1-.6 2.1-.4 2.2-.4" fill="none" stroke="#FF8A1F" stroke-width="1.15" stroke-linejoin="round"/>
<path d="M1480.4 1662.9l2 0 2 .1 2-.2 2.1 .2 2-.1 2 .1 2 .2 2.1 .2 2-.2 2 .2 2-.2 2.1-.3 2 .2 2 .2 2 .1 2 .4 2.1 .1 2 .2 2 .2 2 0 2.1 .1 2 .2 2-.1 2-.2 2.1-.2 2-.1 2 .4 2-.1 2.1 .1 2 .2 2 0 2-.3 2.1 .2 2 .6 2-.1 2 .2 2.1-.1 2-.1 2-.3 2-.1 2.1 .2 2 .1 2 .1 2 0 2.1 .2 2-.2 2 0 2 0 2.1 .1 2-.1 2 0 2-.2 2.1-.3 2 .2 2 .3 2 .1 2 .2 2.1 .3 2-.2 2-.2 2 .2 2.1 .1 2 0 2 .2 2 .1 2.1-.1 2 .3 2-.2 2 .4 2.1 .1 2 .1 2-.4 2 0 2.1-.2 2 .1 2 0 2 .3 2.1-.2 2 .4 2-.1 2 .4 2.1-.3 2 .5 2-.6 2 .1 2.1-.5 2 .2 2-.3 2 .3 2.1 .4 2 .3 2 .2 2 .1 2 0 2.1-.5 2-.1 2-.3 2 .3 2.1-.2 2 0 2 .1 2 .3 2.1 0 2 .3 2 .1 2 .1 2.1-.2 2 .1 2 0 2 .3 2.1 0 2 .2 2-.3 2 0 2.1-.2" fill="none" stroke="#FF8A1F" stroke-width="1.15" stroke-linejoin="round"/>
<path d="M1433.8 1674.3l2.1-.2 2.1-.3 2.1-.4 2.2 0 2.1-.3 2.1-.3 2.1-.1 2.1-.1 2.1-.5 2.2 0 2.1-.4 2.1 0 2.1-.2 2.1-.1 2.1-.5 2.2-.1 2.1-.4 2.1-.3 2.1-.1 2.1-.1 2.1 0 2.2-.1" fill="none" stroke="#2DC92D" stroke-width="1.15" stroke-linejoin="round"/>
<path d="M1480.4 1670.2l2 .1 2-.2 2 .1 2.1-.1 2-.2 2-.1 2 0 2.1 .4 2 .1 2 .1 2 0 2.1 .1 2-.2 2-.1 2 .3 2-.3 2.1-.1 2-.1 2 .1 2-.4 2.1 .2 2-.2 2 .2 2 0 2.1 .1 2 .3 2 .1 2 .2 2.1-.1 2 0 2 0 2 0 2.1 0 2 .1 2 .1 2-.1 2.1 .2 2-.1 2-.3 2 0 2.1 .2 2-.1 2 0 2 0 2.1 0 2 .1 2 .1 2 0 2.1 0 2 0 2 0 2 0 2.1-.1 2-.1 2 .1 2-.4 2 0 2.1-.1 2 .2 2 .2 2 .3 2.1-.1 2 .1 2-.1 2-.1 2.1 .2 2 .1 2 0 2-.1 2.1 .4 2-.2 2-.2 2-.1 2.1 .1 2-.5 2 .1 2 .2 2.1 .1 2 .2 2 .2 2-.1 2.1 .2 2 .1 2 0 2-.1 2.1 0 2-.1 2 .2 2-.1 2.1 .3 2 .1 2-.1 2-.3 2 0 2.1-.3 2-.2 2-.2 2 .2 2.1-.2 2-.1 2 .1 2 .4 2.1 0 2 .1 2-.2 2 .1 2.1-.3 2-.3 2 .2 2 .4 2.1-.2 2 .1 2 .1 2-.1 2.1-.1" fill="none" stroke="#2DC92D" stroke-width="1.15" stroke-linejoin="round"/>
<path d="M1433.8 1674.2l2.1-.4 2.1 .1 2.1 .1 2.2 0 2.1-.4 2.1 .3 2.1-.2 2.1-.2 2.1 0 2.2 .2 2.1 0 2.1 .2 2.1-.2 2.1-.3 2.1-.2 2.2-.2 2.1-.5 2.1-.1 2.1 .3 2.1-.1 2.1 0 2.2 .2" fill="none" stroke="#2F2FFF" stroke-width="1.15" stroke-linejoin="round"/>
<path d="M1480.4 1672.6l2 .2 2 .1 2-.4 2.1 .2 2 .2 2-.2 2 0 2.1 .4 2-.4 2 0 2 0 2.1 0 2-.1 2 .4 2-.2 2 .2 2.1-.3 2 .2 2-.1 2 0 2.1 0 2 .2 2-.1 2 .1 2.1 .1 2 .3 2-.1 2-.2 2.1-.3 2-.1 2-.2 2-.1 2.1 .3 2 .1 2 .1 2 .4 2.1 0 2-.1 2-.2 2 .2 2.1-.6 2 .1 2 .3 2 .4 2.1-.1 2 .1 2 .1 2-.2 2.1-.4 2 .3 2 0 2 .2 2.1 .1 2 .3 2-.3 2 0 2-.2 2.1-.3 2-.2 2-.3 2-.3 2.1 .1 2-.1 2 .1 2 0 2.1 .2 2 .2 2 .4 2 .1 2.1 .2 2 0 2-.4 2 0 2.1 .1 2-.1 2 0 2 .1 2.1-.3 2-.2 2 .2 2 0 2.1 .2 2 .2 2 .1 2 .1 2.1-.1 2-.5 2-.1 2 0 2.1-.5 2 .3 2 .1 2 0 2 .3 2.1 .4 2 0 2 0 2 0 2.1-.3 2 0 2 .1 2-.2 2.1-.3 2 .1 2-.1 2-.3 2.1 .4 2 .4 2 .3 2-.1 2.1 .1 2-.1 2 .1 2-.2 2.1 .1" fill="none" stroke="#2F2FFF" stroke-width="1.15" stroke-linejoin="round"/>
<line x1="1480.4" y1="1638" x2="1480.4" y2="1610.1" stroke="#7E2A82" stroke-width="1.3"/>
<line x1="1480.4" y1="1651.5" x2="1480.4" y2="1637" stroke="#000" stroke-width="1.3"/>
<line x1="1434.2" y1="1674.2" x2="1434.2" y2="1649.4" stroke="#7E2A82" stroke-width="1.6"/>
<text x="1518.6" y="1473" font-size="27.3" font-weight="bold">T<tspan font-size="19" font-weight="normal" stroke="#000" stroke-width="0.45" dy="-8">D</tspan><tspan dy="8" dx="-0.8">3A</tspan><tspan font-size="19" font-weight="normal" stroke="#000" stroke-width="0.45" dy="-8" dx="-0.5">D</tspan><tspan font-size="18.4" dy="12" dx="-2">H345F</tspan></text>
<text x="1540.2" y="1553.9" font-size="23.2" textLength="182.6" lengthAdjust="spacingAndGlyphs">K<tspan font-size="16.7">D</tspan> = 2.3 ± 0.4 nM</text>
<line x1="1769.6" y1="1519" x2="1791.6" y2="1519" stroke="#7E2A82" stroke-width="1.3"/>
<text x="1803.6" y="1524.7" font-size="19">100 nM</text>
<line x1="1769.6" y1="1543.2" x2="1791.6" y2="1543.2" stroke="#4D4D4D" stroke-width="1.3"/>
<text x="1803.6" y="1548.9" font-size="19">30 nM</text>
<line x1="1769.6" y1="1567.3" x2="1791.6" y2="1567.3" stroke="#FF8A1F" stroke-width="1.3"/>
<text x="1803.6" y="1573" font-size="19">10 nM</text>
<line x1="1769.6" y1="1591.5" x2="1791.6" y2="1591.5" stroke="#2DC92D" stroke-width="1.3"/>
<text x="1803.6" y="1597.2" font-size="19">3 nM</text>
<line x1="1769.6" y1="1615.4" x2="1791.6" y2="1615.4" stroke="#2F2FFF" stroke-width="1.3"/>
<text x="1803.6" y="1621.1" font-size="19">1 nM</text>
<path d="M239.4 1847.8l1.2 .1 1.2 .2 1.2 .2 1.2 .2 1.2 .1 1.2 .3 1.2 .2 1.2 .2 1.2 .2 1.2 .3 1.2 .3 1.2 .3 1.2 .3 1.2 .3 1.2 .3 1.2 .4 1.2 .4 1.1 .4 1.2 .4 1.2 .4 1.2 .5 1.2 .5 1.2 .5 1.2 .5 1.2 .6 1.2 .6 1.2 .6 1.2 .7 1.2 .7 1.2 .7 1.2 .8 1.2 .8 1.2 .8 1.2 .9 1.2 .9 1.2 .9 1.2 1 1.2 1.1 1.2 1 1.2 1.2 1.2 1.1 1.2 1.2 1.2 1.3 1.1 1.3 1.2 1.3 1.2 1.4 1.2 1.4 1.2 1.5 1.2 1.5 1.2 1.6 1.2 1.6 1.2 1.6 1.2 1.7 1.2 1.7 1.2 1.7 1.2 1.8 1.2 1.8 1.2 1.9 1.2 1.8 1.2 1.9 1.2 1.9 1.2 1.9 1.2 2 1.2 1.9 1.2 2 1.2 1.9 1.2 2 1.2 1.9 1.2 2 1.1 1.9 1.2 1.9 1.2 1.9 1.2 1.9 1.2 1.8 1.2 1.9 1.2 1.8 1.2 1.7 1.2 1.8 1.2 1.7 1.2 1.6 1.2 1.7 1.2 1.5 1.2 1.6 1.2 1.5 1.2 1.5 1.2 1.4 1.2 1.3 1.2 1.4 1.2 1.2 1.2 1.3 1.2 1.2 1.2 1.1 1.2 1.1 1.2 1.1 1.2 1 1.1 1 1.2 .9 1.2 .9 1.2 .9 1.2 .8 1.2 .8 1.2 .8 1.2 .7 1.2 .7 1.2 .6 1.2 .6 1.2 .6 1.2 .6 1.2 .5 1.2 .5 1.2 .5 1.2 .5 1.2 .4 1.2 .4 1.2 .4 1.2 .4 1.2 .3 1.2 .4 1.2 .3" fill="none" stroke="#000" stroke-width="1.2" stroke-linejoin="round"/>
<path d="M236.9,1843.3L239.4,1840.8L241.9,1843.3L239.4,1845.8Z" fill="#000"/>
<path d="M236.9,1837.1L239.4,1834.6L241.9,1837.1L239.4,1839.6Z" fill="#000"/>
<path d="M236.9,1843.5L239.4,1841.0L241.9,1843.5L239.4,1846.0Z" fill="#000"/>
<path d="M254.7,1867.9L257.2,1865.4L259.7,1867.9L257.2,1870.4Z" fill="#000"/>
<path d="M254.7,1839.7L257.2,1837.2L259.7,1839.7L257.2,1842.2Z" fill="#000"/>
<path d="M254.7,1845.6L257.2,1843.1L259.7,1845.6L257.2,1848.1Z" fill="#000"/>
<path d="M272.4,1865.6L274.9,1863.1L277.4,1865.6L274.9,1868.1Z" fill="#000"/>
<path d="M272.4,1851.8L274.9,1849.3L277.4,1851.8L274.9,1854.3Z" fill="#000"/>
<path d="M272.4,1854.5L274.9,1852.0L277.4,1854.5L274.9,1857.0Z" fill="#000"/>
<path d="M290.1,1870.8L292.6,1868.3L295.1,1870.8L292.6,1873.3Z" fill="#000"/>
<path d="M290.1,1873.8L292.6,1871.3L295.1,1873.8L292.6,1876.3Z" fill="#000"/>
<path d="M290.1,1868.0L292.6,1865.5L295.1,1868.0L292.6,1870.5Z" fill="#000"/>
<path d="M307.9,1905.6L310.4,1903.1L312.9,1905.6L310.4,1908.1Z" fill="#000"/>
<path d="M307.9,1900.0L310.4,1897.5L312.9,1900.0L310.4,1902.5Z" fill="#000"/>
<path d="M307.9,1903.1L310.4,1900.6L312.9,1903.1L310.4,1905.6Z" fill="#000"/>
<path d="M325.6,1922.2L328.1,1919.7L330.6,1922.2L328.1,1924.7Z" fill="#000"/>
<path d="M325.6,1926.6L328.1,1924.1L330.6,1926.6L328.1,1929.1Z" fill="#000"/>
<path d="M325.6,1929.2L328.1,1926.7L330.6,1929.2L328.1,1931.7Z" fill="#000"/>
<path d="M343.3,1955.2L345.8,1952.7L348.3,1955.2L345.8,1957.7Z" fill="#000"/>
<path d="M343.3,1951.8L345.8,1949.3L348.3,1951.8L345.8,1954.3Z" fill="#000"/>
<path d="M343.3,1950.2L345.8,1947.7L348.3,1950.2L345.8,1952.7Z" fill="#000"/>
<path d="M361.1,1965.8L363.6,1963.3L366.1,1965.8L363.6,1968.3Z" fill="#000"/>
<path d="M361.1,1957.3L363.6,1954.8L366.1,1957.3L363.6,1959.8Z" fill="#000"/>
<path d="M361.1,1958.9L363.6,1956.4L366.1,1958.9L363.6,1961.4Z" fill="#000"/>
<path d="M378.8,1976.9L381.3,1974.4L383.8,1976.9L381.3,1979.4Z" fill="#000"/>
<path d="M378.8,1976.9L381.3,1974.4L383.8,1976.9L381.3,1979.4Z" fill="#000"/>
<path d="M378.8,1972.2L381.3,1969.7L383.8,1972.2L381.3,1974.7Z" fill="#000"/>
<path d="M175.1 1845.9l1.2 0 1.2 .1 1.1 0 1.2 .1 1.2 .1 1.2 0 1.2 .1 1.2 .1 1.2 .1 1.2 .1 1.2 .1 1.2 .1 1.2 .1 1.2 .1 1.2 .1 1.2 .1 1.2 .2 1.1 .1 1.2 .2 1.2 .2 1.2 .1 1.2 .2 1.2 .2 1.2 .3 1.2 .2 1.2 .2 1.2 .3 1.2 .3 1.2 .3 1.2 .3 1.2 .3 1.2 .4 1.1 .4 1.2 .4 1.2 .4 1.2 .5 1.2 .5 1.2 .5 1.2 .5 1.2 .6 1.2 .6 1.2 .6 1.2 .7 1.2 .8 1.2 .7 1.2 .8 1.2 .9 1.1 .9 1.2 .9 1.2 1 1.2 1 1.2 1.1 1.2 1.1 1.2 1.2 1.2 1.3 1.2 1.3 1.2 1.3 1.2 1.4 1.2 1.5 1.2 1.5 1.2 1.6 1.2 1.6 1.1 1.7 1.2 1.8 1.2 1.8 1.2 1.8 1.2 1.9 1.2 1.9 1.2 2 1.2 2 1.2 2.1 1.2 2.1 1.2 2.1 1.2 2.1 1.2 2.2 1.2 2.1 1.2 2.2 1.1 2.2 1.2 2.2 1.2 2.2 1.2 2.2 1.2 2.1 1.2 2.2 1.2 2.1 1.2 2.1 1.2 2.1 1.2 2 1.2 2 1.2 1.9 1.2 2 1.2 1.8 1.2 1.8 1.1 1.8 1.2 1.7 1.2 1.6 1.2 1.6 1.2 1.6 1.2 1.5 1.2 1.4 1.2 1.4 1.2 1.3 1.2 1.3 1.2 1.2 1.2 1.1 1.2 1.1 1.2 1.1 1.2 1 1.1 1 1.2 .9 1.2 .8 1.2 .9 1.2 .7 1.2 .8 1.2 .7 1.2 .6 1.2 .6 1.2 .6 1.2 .6 1.2 .5" fill="none" stroke="#FF5C8A" stroke-width="1.6" stroke-linejoin="round"/>
<circle cx="175.1" cy="1841.4" r="2.5" fill="#F4487A"/>
<circle cx="175.1" cy="1858.2" r="2.5" fill="#F4487A"/>
<circle cx="175.1" cy="1855.6" r="2.5" fill="#F4487A"/>
<circle cx="192.8" cy="1904.4" r="2.5" fill="#F4487A"/>
<circle cx="192.8" cy="1804.8" r="2.5" fill="#F4487A"/>
<circle cx="192.8" cy="1820.2" r="2.5" fill="#F4487A"/>
<circle cx="210.5" cy="1857.7" r="2.5" fill="#F4487A"/>
<circle cx="210.5" cy="1832.3" r="2.5" fill="#F4487A"/>
<circle cx="210.5" cy="1843.7" r="2.5" fill="#F4487A"/>
<circle cx="228.3" cy="1870.2" r="2.5" fill="#F4487A"/>
<circle cx="228.3" cy="1836.2" r="2.5" fill="#F4487A"/>
<circle cx="228.3" cy="1864.8" r="2.5" fill="#F4487A"/>
<circle cx="246.0" cy="1881.2" r="2.5" fill="#F4487A"/>
<circle cx="246.0" cy="1890.6" r="2.5" fill="#F4487A"/>
<circle cx="246.0" cy="1865.4" r="2.5" fill="#F4487A"/>
<circle cx="263.7" cy="1904.3" r="2.5" fill="#F4487A"/>
<circle cx="263.7" cy="1893.3" r="2.5" fill="#F4487A"/>
<circle cx="263.7" cy="1912.9" r="2.5" fill="#F4487A"/>
<circle cx="281.5" cy="1932.4" r="2.5" fill="#F4487A"/>
<circle cx="281.5" cy="1946.0" r="2.5" fill="#F4487A"/>
<circle cx="281.5" cy="1922.9" r="2.5" fill="#F4487A"/>
<circle cx="299.2" cy="1954.9" r="2.5" fill="#F4487A"/>
<circle cx="299.2" cy="1953.4" r="2.5" fill="#F4487A"/>
<circle cx="299.2" cy="1952.5" r="2.5" fill="#F4487A"/>
<path d="M175.1 1851.2l1.2 .3 1.2 .4 1.1 .3 1.2 .4 1.2 .3 1.2 .4 1.2 .4 1.2 .4 1.2 .5 1.2 .4 1.2 .5 1.2 .5 1.2 .6 1.2 .5 1.2 .6 1.2 .6 1.2 .6 1.1 .7 1.2 .6 1.2 .7 1.2 .8 1.2 .7 1.2 .8 1.2 .8 1.2 .9 1.2 .9 1.2 .9 1.2 .9 1.2 1 1.2 1 1.2 1.1 1.2 1.1 1.1 1.1 1.2 1.1 1.2 1.2 1.2 1.2 1.2 1.3 1.2 1.3 1.2 1.3 1.2 1.3 1.2 1.4 1.2 1.4 1.2 1.5 1.2 1.4 1.2 1.5 1.2 1.5 1.2 1.6 1.1 1.6 1.2 1.6 1.2 1.6 1.2 1.6 1.2 1.7 1.2 1.6 1.2 1.7 1.2 1.7 1.2 1.7 1.2 1.7 1.2 1.7 1.2 1.7 1.2 1.7 1.2 1.7 1.2 1.7 1.1 1.7 1.2 1.6 1.2 1.7 1.2 1.6 1.2 1.7 1.2 1.6 1.2 1.6 1.2 1.6 1.2 1.5 1.2 1.5 1.2 1.5 1.2 1.5 1.2 1.5 1.2 1.4 1.2 1.4 1.1 1.3 1.2 1.3 1.2 1.3 1.2 1.3 1.2 1.2 1.2 1.2 1.2 1.1 1.2 1.2 1.2 1 1.2 1.1 1.2 1 1.2 1 1.2 1 1.2 .9 1.2 .9 1.1 .8 1.2 .8 1.2 .8 1.2 .8 1.2 .7 1.2 .7 1.2 .7 1.2 .7 1.2 .6 1.2 .6 1.2 .6 1.2 .5 1.2 .6 1.2 .5 1.2 .5 1.1 .4 1.2 .5 1.2 .4 1.2 .4 1.2 .4 1.2 .4 1.2 .3 1.2 .4 1.2 .3 1.2 .3 1.2 .3 1.2 .3" fill="none" stroke="#1E9A98" stroke-width="1.6" stroke-linejoin="round"/>
<path d="M172.3,1802.3L177.8,1802.3L175.1,1807.0Z" fill="#1E9A98"/>
<path d="M172.3,1908.0L177.8,1908.0L175.1,1912.8Z" fill="#1E9A98"/>
<path d="M172.3,1839.6L177.8,1839.6L175.1,1844.4Z" fill="#1E9A98"/>
<path d="M190.1,1868.2L195.6,1868.2L192.8,1873.0Z" fill="#1E9A98"/>
<path d="M190.1,1865.7L195.6,1865.7L192.8,1870.4Z" fill="#1E9A98"/>
<path d="M190.1,1860.4L195.6,1860.4L192.8,1865.1Z" fill="#1E9A98"/>
<path d="M207.8,1909.5L213.3,1909.5L210.5,1914.3Z" fill="#1E9A98"/>
<path d="M207.8,1872.2L213.3,1872.2L210.5,1876.9Z" fill="#1E9A98"/>
<path d="M207.8,1885.4L213.3,1885.4L210.5,1890.2Z" fill="#1E9A98"/>
<path d="M225.5,1824.1L231.0,1824.1L228.3,1828.9Z" fill="#1E9A98"/>
<path d="M225.5,1882.0L231.0,1882.0L228.3,1886.7Z" fill="#1E9A98"/>
<path d="M225.5,1892.8L231.0,1892.8L228.3,1897.5Z" fill="#1E9A98"/>
<path d="M243.3,1915.0L248.8,1915.0L246.0,1919.7Z" fill="#1E9A98"/>
<path d="M243.3,1921.1L248.8,1921.1L246.0,1925.9Z" fill="#1E9A98"/>
<path d="M243.3,1927.2L248.8,1927.2L246.0,1932.0Z" fill="#1E9A98"/>
<path d="M261.0,1939.6L266.5,1939.6L263.7,1944.3Z" fill="#1E9A98"/>
<path d="M261.0,1928.2L266.5,1928.2L263.7,1933.0Z" fill="#1E9A98"/>
<path d="M261.0,1937.6L266.5,1937.6L263.7,1942.3Z" fill="#1E9A98"/>
<path d="M278.7,1942.0L284.2,1942.0L281.5,1946.8Z" fill="#1E9A98"/>
<path d="M278.7,1954.7L284.2,1954.7L281.5,1959.4Z" fill="#1E9A98"/>
<path d="M278.7,1952.2L284.2,1952.2L281.5,1957.0Z" fill="#1E9A98"/>
<path d="M296.5,1948.6L302.0,1948.6L299.2,1953.3Z" fill="#1E9A98"/>
<path d="M296.5,1958.2L302.0,1958.2L299.2,1963.0Z" fill="#1E9A98"/>
<path d="M296.5,1968.3L302.0,1968.3L299.2,1973.1Z" fill="#1E9A98"/>
<path d="M175.1 1845.2l1.4 0 1.5 0 1.5 0 1.5 0 1.5 0 1.4 0 1.5 0 1.5 0 1.5 0 1.4 0 1.5 .1 1.5 0 1.5 0 1.5 0 1.4 0 1.5 .1 1.5 0 1.5 0 1.4 .1 1.5 0 1.5 .1 1.5 .1 1.5 .1 1.4 .1 1.5 .1 1.5 .2 1.5 .1 1.4 .2 1.5 .3 1.5 .3 1.5 .3 1.4 .4 1.5 .5 1.5 .5 1.5 .6 1.5 .8 1.4 .8 1.5 1 1.5 1.2 1.5 1.3 1.4 1.6 1.5 1.7 1.5 2.1 1.5 2.2 1.5 2.6 1.4 2.9 1.5 3.3 1.5 3.6 1.5 3.9 1.4 4.2 1.5 4.6 1.5 4.9 1.5 5 1.5 5.3 1.4 5.4 1.5 5.4 1.5 5.4 1.5 5.3 1.4 5.1 1.5 4.9 1.5 4.6 1.5 4.4 1.5 4 1.4 3.6 1.5 3.3 1.5 3 1.5 2.6 1.4 2.4 1.5 2 1.5 1.9 1.5 1.5 1.5 1.4 1.4 1.2 1.5 1 1.5 .9 1.5 .8 1.4 .6 1.5 .6 1.5 .5 1.5 .4 1.5 .3 1.4 .3 1.5 .3 1.5 .2 1.5 .2 1.4 .1 1.5 .2 1.5 .1 1.5 .1 1.5 0 1.4 .1 1.5 .1 1.5 0 1.5 .1 1.4 0 1.5 0 1.5 .1 1.5 0 1.4 0 1.5 0 1.5 0 1.5 0 1.5 0 1.4 .1 1.5 0 1.5 0 1.5 0 1.4 0 1.5 0 1.5 0 1.5 0 1.5 0 1.4 0 1.5 0 1.5 0 1.5 0 1.4 0 1.5 0 1.5 0" fill="none" stroke="#3F1C80" stroke-width="1.6" stroke-linejoin="round"/>
<circle cx="175.1" cy="1858.1" r="2.5" fill="#3F1C80"/>
<circle cx="175.1" cy="1848.6" r="2.5" fill="#3F1C80"/>
<circle cx="175.1" cy="1812.3" r="2.5" fill="#3F1C80"/>
<circle cx="192.8" cy="1832.2" r="2.5" fill="#3F1C80"/>
<circle cx="192.8" cy="1877.7" r="2.5" fill="#3F1C80"/>
<circle cx="192.8" cy="1845.4" r="2.5" fill="#3F1C80"/>
<circle cx="210.5" cy="1858.2" r="2.5" fill="#3F1C80"/>
<circle cx="210.5" cy="1843.0" r="2.5" fill="#3F1C80"/>
<circle cx="210.5" cy="1877.6" r="2.5" fill="#3F1C80"/>
<circle cx="228.3" cy="1845.5" r="2.5" fill="#3F1C80"/>
<circle cx="228.3" cy="1845.7" r="2.5" fill="#3F1C80"/>
<circle cx="228.3" cy="1819.8" r="2.5" fill="#3F1C80"/>
<circle cx="246.0" cy="1869.2" r="2.5" fill="#3F1C80"/>
<circle cx="246.0" cy="1865.9" r="2.5" fill="#3F1C80"/>
<circle cx="246.0" cy="1899.7" r="2.5" fill="#3F1C80"/>
<circle cx="263.7" cy="1909.0" r="2.5" fill="#3F1C80"/>
<circle cx="263.7" cy="1955.3" r="2.5" fill="#3F1C80"/>
<circle cx="263.7" cy="1921.8" r="2.5" fill="#3F1C80"/>
<circle cx="281.5" cy="1971.2" r="2.5" fill="#3F1C80"/>
<circle cx="281.5" cy="1975.4" r="2.5" fill="#3F1C80"/>
<circle cx="281.5" cy="1973.7" r="2.5" fill="#3F1C80"/>
<circle cx="299.2" cy="1976.9" r="2.5" fill="#3F1C80"/>
<circle cx="299.2" cy="1973.0" r="2.5" fill="#3F1C80"/>
<circle cx="299.2" cy="1976.5" r="2.5" fill="#3F1C80"/>
<circle cx="317.0" cy="1966.5" r="2.5" fill="#3F1C80"/>
<circle cx="317.0" cy="1976.9" r="2.5" fill="#3F1C80"/>
<circle cx="317.0" cy="1976.8" r="2.5" fill="#3F1C80"/>
<circle cx="334.7" cy="1976.9" r="2.5" fill="#3F1C80"/>
<circle cx="334.7" cy="1971.5" r="2.5" fill="#3F1C80"/>
<circle cx="334.7" cy="1976.9" r="2.5" fill="#3F1C80"/>
<path d="M157.6 1848.5l1.3 .1 1.4 .2 1.3 .1 1.4 .2 1.3 .1 1.3 .2 1.4 .2 1.3 .2 1.4 .2 1.3 .2 1.3 .3 1.4 .2 1.3 .3 1.4 .2 1.3 .3 1.3 .4 1.4 .3 1.3 .3 1.4 .4 1.3 .4 1.3 .4 1.4 .4 1.3 .5 1.4 .5 1.3 .5 1.3 .5 1.4 .6 1.3 .6 1.4 .7 1.3 .6 1.3 .7 1.4 .8 1.3 .7 1.4 .9 1.3 .8 1.3 .9 1.4 .9 1.3 1 1.4 1 1.3 1.1 1.3 1.1 1.4 1.2 1.3 1.2 1.4 1.3 1.3 1.3 1.3 1.3 1.4 1.4 1.3 1.5 1.4 1.5 1.3 1.5 1.3 1.6 1.4 1.7 1.3 1.7 1.4 1.7 1.3 1.8 1.3 1.8 1.4 1.8 1.3 1.9 1.4 1.9 1.3 1.9 1.3 2 1.4 2 1.3 2 1.4 2 1.3 2 1.3 2 1.4 2.1 1.3 2 1.4 2 1.3 2 1.3 2 1.4 2 1.3 2 1.4 1.9 1.3 1.9 1.3 1.9 1.4 1.8 1.3 1.9 1.4 1.7 1.3 1.8 1.3 1.7 1.4 1.6 1.3 1.6 1.4 1.6 1.3 1.5 1.3 1.4 1.4 1.4 1.3 1.4 1.4 1.3 1.3 1.3 1.3 1.2 1.4 1.2 1.3 1.1 1.4 1.1 1.3 1 1.3 1 1.4 .9 1.3 .9 1.4 .9 1.3 .8 1.4 .8 1.3 .8 1.3 .7 1.4 .6 1.3 .7 1.4 .6 1.3 .6 1.3 .5 1.4 .5 1.3 .5 1.4 .5 1.3 .4 1.3 .4 1.4 .4 1.3 .4 1.4 .4 1.3 .3 1.3 .3 1.4 .3" fill="none" stroke="#B888FF" stroke-width="1.6" stroke-linejoin="round"/>
<rect x="155.1" y="1861.6" width="5.0" height="5.0" fill="#A56CF5"/>
<rect x="155.1" y="1871.8" width="5.0" height="5.0" fill="#A56CF5"/>
<rect x="155.1" y="1850.8" width="5.0" height="5.0" fill="#A56CF5"/>
<rect x="172.6" y="1840.4" width="5.0" height="5.0" fill="#A56CF5"/>
<rect x="172.6" y="1826.7" width="5.0" height="5.0" fill="#A56CF5"/>
<rect x="172.6" y="1846.4" width="5.0" height="5.0" fill="#A56CF5"/>
<rect x="190.3" y="1864.1" width="5.0" height="5.0" fill="#A56CF5"/>
<rect x="190.3" y="1868.5" width="5.0" height="5.0" fill="#A56CF5"/>
<rect x="190.3" y="1839.8" width="5.0" height="5.0" fill="#A56CF5"/>
<rect x="208.0" y="1835.5" width="5.0" height="5.0" fill="#A56CF5"/>
<rect x="208.0" y="1859.6" width="5.0" height="5.0" fill="#A56CF5"/>
<rect x="208.0" y="1886.1" width="5.0" height="5.0" fill="#A56CF5"/>
<rect x="225.8" y="1897.9" width="5.0" height="5.0" fill="#A56CF5"/>
<rect x="225.8" y="1857.4" width="5.0" height="5.0" fill="#A56CF5"/>
<rect x="225.8" y="1879.5" width="5.0" height="5.0" fill="#A56CF5"/>
<rect x="243.5" y="1931.2" width="5.0" height="5.0" fill="#A56CF5"/>
<rect x="243.5" y="1909.1" width="5.0" height="5.0" fill="#A56CF5"/>
<rect x="243.5" y="1923.6" width="5.0" height="5.0" fill="#A56CF5"/>
<rect x="261.2" y="1940.5" width="5.0" height="5.0" fill="#A56CF5"/>
<rect x="261.2" y="1938.9" width="5.0" height="5.0" fill="#A56CF5"/>
<rect x="261.2" y="1941.4" width="5.0" height="5.0" fill="#A56CF5"/>
<rect x="279.0" y="1947.7" width="5.0" height="5.0" fill="#A56CF5"/>
<rect x="279.0" y="1953.3" width="5.0" height="5.0" fill="#A56CF5"/>
<rect x="279.0" y="1958.0" width="5.0" height="5.0" fill="#A56CF5"/>
<rect x="296.7" y="1960.6" width="5.0" height="5.0" fill="#A56CF5"/>
<rect x="296.7" y="1957.3" width="5.0" height="5.0" fill="#A56CF5"/>
<rect x="296.7" y="1974.4" width="5.0" height="5.0" fill="#A56CF5"/>
<path d="M175.1 1845.8l1.2 0 1.2 .1 1.1 0 1.2 .1 1.2 .1 1.2 0 1.2 .1 1.2 .1 1.2 .1 1.2 0 1.2 .1 1.2 .1 1.2 .2 1.2 .1 1.2 .1 1.2 .1 1.2 .2 1.1 .2 1.2 .1 1.2 .2 1.2 .2 1.2 .2 1.2 .3 1.2 .2 1.2 .3 1.2 .2 1.2 .3 1.2 .4 1.2 .3 1.2 .4 1.2 .4 1.2 .4 1.1 .5 1.2 .5 1.2 .5 1.2 .5 1.2 .6 1.2 .7 1.2 .6 1.2 .7 1.2 .8 1.2 .8 1.2 .9 1.2 .9 1.2 .9 1.2 1.1 1.2 1 1.1 1.2 1.2 1.2 1.2 1.2 1.2 1.4 1.2 1.4 1.2 1.4 1.2 1.6 1.2 1.6 1.2 1.7 1.2 1.7 1.2 1.8 1.2 1.9 1.2 1.9 1.2 2 1.2 2.1 1.1 2.1 1.2 2.2 1.2 2.2 1.2 2.3 1.2 2.3 1.2 2.4 1.2 2.4 1.2 2.4 1.2 2.4 1.2 2.4 1.2 2.4 1.2 2.5 1.2 2.4 1.2 2.4 1.2 2.4 1.1 2.3 1.2 2.4 1.2 2.2 1.2 2.3 1.2 2.2 1.2 2.1 1.2 2.1 1.2 2 1.2 2 1.2 1.8 1.2 1.9 1.2 1.7 1.2 1.7 1.2 1.6 1.2 1.6 1.1 1.4 1.2 1.5 1.2 1.3 1.2 1.3 1.2 1.2 1.2 1.1 1.2 1.1 1.2 1.1 1.2 .9 1.2 1 1.2 .8 1.2 .8 1.2 .8 1.2 .7 1.2 .7 1.1 .6 1.2 .6 1.2 .6 1.2 .5 1.2 .5 1.2 .5 1.2 .4 1.2 .4 1.2 .4 1.2 .3 1.2 .4 1.2 .3" fill="none" stroke="#7FD4F7" stroke-width="1.6" stroke-linejoin="round"/>
<path d="M172.3,1827.0L177.8,1827.0L175.1,1822.3Z" fill="#6CCCF2"/>
<path d="M172.3,1812.8L177.8,1812.8L175.1,1808.0Z" fill="#6CCCF2"/>
<path d="M172.3,1898.1L177.8,1898.1L175.1,1893.3Z" fill="#6CCCF2"/>
<path d="M190.1,1851.7L195.6,1851.7L192.8,1846.9Z" fill="#6CCCF2"/>
<path d="M190.1,1829.1L195.6,1829.1L192.8,1824.4Z" fill="#6CCCF2"/>
<path d="M190.1,1822.5L195.6,1822.5L192.8,1817.8Z" fill="#6CCCF2"/>
<path d="M207.8,1839.9L213.3,1839.9L210.5,1835.2Z" fill="#6CCCF2"/>
<path d="M207.8,1823.7L213.3,1823.7L210.5,1818.9Z" fill="#6CCCF2"/>
<path d="M207.8,1846.9L213.3,1846.9L210.5,1842.2Z" fill="#6CCCF2"/>
<path d="M225.5,1851.8L231.0,1851.8L228.3,1847.1Z" fill="#6CCCF2"/>
<path d="M225.5,1858.7L231.0,1858.7L228.3,1853.9Z" fill="#6CCCF2"/>
<path d="M225.5,1881.6L231.0,1881.6L228.3,1876.9Z" fill="#6CCCF2"/>
<path d="M243.3,1897.1L248.8,1897.1L246.0,1892.4Z" fill="#6CCCF2"/>
<path d="M243.3,1877.2L248.8,1877.2L246.0,1872.5Z" fill="#6CCCF2"/>
<path d="M243.3,1892.8L248.8,1892.8L246.0,1888.0Z" fill="#6CCCF2"/>
<path d="M261.0,1900.8L266.5,1900.8L263.7,1896.1Z" fill="#6CCCF2"/>
<path d="M261.0,1900.5L266.5,1900.5L263.7,1895.8Z" fill="#6CCCF2"/>
<path d="M261.0,1894.0L266.5,1894.0L263.7,1889.2Z" fill="#6CCCF2"/>
<path d="M278.7,1949.3L284.2,1949.3L281.5,1944.5Z" fill="#6CCCF2"/>
<path d="M278.7,1935.4L284.2,1935.4L281.5,1930.7Z" fill="#6CCCF2"/>
<path d="M278.7,1957.9L284.2,1957.9L281.5,1953.2Z" fill="#6CCCF2"/>
<path d="M296.5,1973.7L302.0,1973.7L299.2,1969.0Z" fill="#6CCCF2"/>
<path d="M296.5,1966.5L302.0,1966.5L299.2,1961.8Z" fill="#6CCCF2"/>
<path d="M296.5,1964.9L302.0,1964.9L299.2,1960.2Z" fill="#6CCCF2"/>
<line x1="116.7" y1="1778.3" x2="116.7" y2="1978" stroke="#000" stroke-width="2.2"/>
<line x1="115.6" y1="1976.9" x2="415.2" y2="1976.9" stroke="#000" stroke-width="2.2"/>
<line x1="108.2" y1="1976.9" x2="116.7" y2="1976.9" stroke="#000" stroke-width="2.2"/>
<text x="105.2" y="1981.9" font-size="14.3" font-weight="bold" text-anchor="end">0</text>
<line x1="108.2" y1="1911" x2="116.7" y2="1911" stroke="#000" stroke-width="2.2"/>
<text x="105.2" y="1916" font-size="14.3" font-weight="bold" text-anchor="end">50</text>
<line x1="108.2" y1="1845.2" x2="116.7" y2="1845.2" stroke="#000" stroke-width="2.2"/>
<text x="105.2" y="1850.2" font-size="14.3" font-weight="bold" text-anchor="end">100</text>
<line x1="108.2" y1="1779.3" x2="116.7" y2="1779.3" stroke="#000" stroke-width="2.2"/>
<text x="105.2" y="1784.3" font-size="14.3" font-weight="bold" text-anchor="end">150</text>
<line x1="116.7" y1="1976.9" x2="116.7" y2="1985.4" stroke="#000" stroke-width="2.2"/>
<text x="117.7" y="2002.9" font-size="14.5" font-weight="bold" text-anchor="middle">10<tspan font-size="10.4" dy="-6">-4</tspan></text>
<line x1="191.1" y1="1976.9" x2="191.1" y2="1985.4" stroke="#000" stroke-width="2.2"/>
<text x="192.1" y="2002.9" font-size="14.5" font-weight="bold" text-anchor="middle">10<tspan font-size="10.4" dy="-6">-2</tspan></text>
<line x1="265.4" y1="1976.9" x2="265.4" y2="1985.4" stroke="#000" stroke-width="2.2"/>
<text x="266.4" y="2002.9" font-size="14.5" font-weight="bold" text-anchor="middle">10<tspan font-size="10.4" dy="-6">0</tspan></text>
<line x1="339.8" y1="1976.9" x2="339.8" y2="1985.4" stroke="#000" stroke-width="2.2"/>
<text x="340.8" y="2002.9" font-size="14.5" font-weight="bold" text-anchor="middle">10<tspan font-size="10.4" dy="-6">2</tspan></text>
<line x1="414.1" y1="1976.9" x2="414.1" y2="1985.4" stroke="#000" stroke-width="2.2"/>
<text x="415.1" y="2002.9" font-size="14.5" font-weight="bold" text-anchor="middle">10<tspan font-size="10.4" dy="-6">4</tspan></text>
<text x="260.4" y="2027.9" font-size="19" text-anchor="middle">Concentration (nM)</text>
<text x="72.7" y="1877.1" font-size="19.3" text-anchor="middle" transform="rotate(-90 72.7 1877.1)">Relative Infectivity (%)</text>
<text x="282.9" y="1791.6" font-size="26.8" font-weight="bold" text-anchor="middle">Wuhan-Hu-1</text>
<line x1="434" y1="1792.3" x2="480.6" y2="1792.3" stroke="#000" stroke-width="1.2"/>
<path d="M454.6,1792.3L457.3,1789.6L460.0,1792.3L457.3,1795.0Z" fill="#000"/>
<text x="491.6" y="1797.9" font-size="19">ACE2 Mono</text>
<line x1="434" y1="1820.1" x2="480.6" y2="1820.1" stroke="#FF5C8A" stroke-width="1.8"/>
<circle cx="457.3" cy="1820.1" r="2.4" fill="#F4487A"/>
<text x="491.6" y="1825.7" font-size="19">T0A</text>
<line x1="434" y1="1847.5" x2="480.6" y2="1847.5" stroke="#1E9A98" stroke-width="1.8"/>
<path d="M454.7,1845.6L459.9,1845.6L457.3,1850.1Z" fill="#1E9A98"/>
<text x="491.6" y="1853.1" font-size="19">T1A</text>
<line x1="434" y1="1875.3" x2="480.6" y2="1875.3" stroke="#3F1C80" stroke-width="1.8"/>
<circle cx="457.3" cy="1875.3" r="2.4" fill="#3F1C80"/>
<text x="491.6" y="1880.9" font-size="19">T3A</text>
<line x1="434" y1="1903.1" x2="480.6" y2="1903.1" stroke="#B888FF" stroke-width="1.8"/>
<rect x="454.9" y="1900.7" width="4.8" height="4.8" fill="#A56CF5"/>
<text x="491.6" y="1908.7" font-size="19">T5A</text>
<line x1="434" y1="1930.8" x2="480.6" y2="1930.8" stroke="#7FD4F7" stroke-width="1.8"/>
<path d="M454.7,1932.7L459.9,1932.7L457.3,1928.2Z" fill="#6CCCF2"/>
<text x="491.6" y="1936.4" font-size="19">T18A</text>
<path d="M805.6 1852.6l1.2 .1 1.1 .2 1.2 .2 1.2 .2 1.2 .2 1.2 .2 1.2 .3 1.2 .2 1.2 .3 1.2 .3 1.2 .2 1.2 .3 1.2 .4 1.1 .3 1.2 .4 1.2 .3 1.2 .4 1.2 .4 1.2 .4 1.2 .5 1.2 .5 1.2 .5 1.2 .5 1.2 .5 1.2 .6 1.1 .6 1.2 .6 1.2 .6 1.2 .7 1.2 .7 1.2 .8 1.2 .8 1.2 .8 1.2 .8 1.2 .9 1.2 .9 1.2 .9 1.1 1 1.2 1 1.2 1.1 1.2 1.1 1.2 1.1 1.2 1.2 1.2 1.2 1.2 1.2 1.2 1.3 1.2 1.3 1.2 1.4 1.2 1.4 1.1 1.4 1.2 1.5 1.2 1.4 1.2 1.6 1.2 1.5 1.2 1.6 1.2 1.7 1.2 1.6 1.2 1.7 1.2 1.7 1.2 1.7 1.2 1.7 1.1 1.8 1.2 1.7 1.2 1.8 1.2 1.8 1.2 1.7 1.2 1.8 1.2 1.8 1.2 1.8 1.2 1.8 1.2 1.7 1.2 1.8 1.2 1.7 1.1 1.8 1.2 1.7 1.2 1.6 1.2 1.7 1.2 1.6 1.2 1.7 1.2 1.5 1.2 1.6 1.2 1.5 1.2 1.5 1.2 1.4 1.2 1.4 1.2 1.4 1.1 1.4 1.2 1.3 1.2 1.2 1.2 1.3 1.2 1.2 1.2 1.1 1.2 1.1 1.2 1.1 1.2 1 1.2 1 1.2 1 1.2 .9 1.1 .9 1.2 .9 1.2 .8 1.2 .8 1.2 .7 1.2 .8 1.2 .7 1.2 .6 1.2 .7 1.2 .6 1.2 .6 1.2 .5 1.1 .6 1.2 .5 1.2 .4 1.2 .5 1.2 .4 1.2 .5 1.2 .4 1.2 .3 1.2 .4" fill="none" stroke="#000" stroke-width="1.2" stroke-linejoin="round"/>
<path d="M803.1,1852.1L805.6,1849.6L808.1,1852.1L805.6,1854.6Z" fill="#000"/>
<path d="M803.1,1835.2L805.6,1832.7L808.1,1835.2L805.6,1837.7Z" fill="#000"/>
<path d="M803.1,1836.9L805.6,1834.4L808.1,1836.9L805.6,1839.4Z" fill="#000"/>
<path d="M820.7,1862.7L823.2,1860.2L825.7,1862.7L823.2,1865.2Z" fill="#000"/>
<path d="M820.7,1860.0L823.2,1857.5L825.7,1860.0L823.2,1862.5Z" fill="#000"/>
<path d="M820.7,1862.9L823.2,1860.4L825.7,1862.9L823.2,1865.4Z" fill="#000"/>
<path d="M838.4,1857.1L840.9,1854.6L843.4,1857.1L840.9,1859.6Z" fill="#000"/>
<path d="M838.4,1864.7L840.9,1862.2L843.4,1864.7L840.9,1867.2Z" fill="#000"/>
<path d="M838.4,1855.0L840.9,1852.5L843.4,1855.0L840.9,1857.5Z" fill="#000"/>
<path d="M856.1,1898.9L858.6,1896.4L861.1,1898.9L858.6,1901.4Z" fill="#000"/>
<path d="M856.1,1861.0L858.6,1858.5L861.1,1861.0L858.6,1863.5Z" fill="#000"/>
<path d="M856.1,1879.4L858.6,1876.9L861.1,1879.4L858.6,1881.9Z" fill="#000"/>
<path d="M873.7,1894.0L876.2,1891.5L878.7,1894.0L876.2,1896.5Z" fill="#000"/>
<path d="M873.7,1901.9L876.2,1899.4L878.7,1901.9L876.2,1904.4Z" fill="#000"/>
<path d="M873.7,1904.3L876.2,1901.8L878.7,1904.3L876.2,1906.8Z" fill="#000"/>
<path d="M891.4,1923.0L893.9,1920.5L896.4,1923.0L893.9,1925.5Z" fill="#000"/>
<path d="M891.4,1920.1L893.9,1917.6L896.4,1920.1L893.9,1922.6Z" fill="#000"/>
<path d="M891.4,1928.3L893.9,1925.8L896.4,1928.3L893.9,1930.8Z" fill="#000"/>
<path d="M909.1,1950.0L911.6,1947.5L914.1,1950.0L911.6,1952.5Z" fill="#000"/>
<path d="M909.1,1944.5L911.6,1942.0L914.1,1944.5L911.6,1947.0Z" fill="#000"/>
<path d="M909.1,1954.7L911.6,1952.2L914.1,1954.7L911.6,1957.2Z" fill="#000"/>
<path d="M926.8,1971.9L929.3,1969.4L931.8,1971.9L929.3,1974.4Z" fill="#000"/>
<path d="M926.8,1961.2L929.3,1958.7L931.8,1961.2L929.3,1963.7Z" fill="#000"/>
<path d="M926.8,1967.2L929.3,1964.7L931.8,1967.2L929.3,1969.7Z" fill="#000"/>
<path d="M944.4,1978.0L946.9,1975.5L949.4,1978.0L946.9,1980.5Z" fill="#000"/>
<path d="M944.4,1975.3L946.9,1972.8L949.4,1975.3L946.9,1977.8Z" fill="#000"/>
<path d="M944.4,1973.5L946.9,1971.0L949.4,1973.5L946.9,1976.0Z" fill="#000"/>
<path d="M722.9 1847.8l1.4 .1 1.3 .1 1.4 .2 1.3 .1 1.4 .1 1.3 .2 1.3 .1 1.4 .2 1.3 .2 1.4 .1 1.3 .2 1.4 .2 1.3 .2 1.4 .2 1.3 .3 1.3 .2 1.4 .2 1.3 .3 1.4 .3 1.3 .3 1.4 .2 1.3 .4 1.4 .3 1.3 .3 1.3 .4 1.4 .3 1.3 .4 1.4 .4 1.3 .4 1.4 .5 1.3 .4 1.4 .5 1.3 .5 1.3 .5 1.4 .6 1.3 .6 1.4 .5 1.3 .7 1.4 .6 1.3 .7 1.4 .6 1.3 .8 1.3 .7 1.4 .8 1.3 .8 1.4 .8 1.3 .9 1.4 .8 1.3 1 1.4 .9 1.3 1 1.3 1 1.4 1.1 1.3 1 1.4 1.1 1.3 1.2 1.4 1.2 1.3 1.2 1.4 1.2 1.3 1.3 1.3 1.3 1.4 1.3 1.3 1.3 1.4 1.4 1.3 1.4 1.4 1.5 1.3 1.5 1.4 1.4 1.3 1.6 1.3 1.5 1.4 1.5 1.3 1.6 1.4 1.6 1.3 1.6 1.4 1.6 1.3 1.7 1.4 1.6 1.3 1.7 1.3 1.6 1.4 1.7 1.3 1.6 1.4 1.7 1.3 1.7 1.4 1.6 1.3 1.7 1.4 1.6 1.3 1.6 1.4 1.6 1.3 1.6 1.3 1.6 1.4 1.6 1.3 1.5 1.4 1.6 1.3 1.5 1.4 1.4 1.3 1.5 1.4 1.4 1.3 1.4 1.3 1.4 1.4 1.3 1.3 1.3 1.4 1.3 1.3 1.3 1.4 1.2 1.3 1.2 1.4 1.1 1.3 1.1 1.3 1.1 1.4 1.1 1.3 1 1.4 1 1.3 1 1.4 .9 1.3 .9 1.4 .9 1.3 .8 1.3 .8 1.4 .8 1.3 .8" fill="none" stroke="#FF5C8A" stroke-width="1.6" stroke-linejoin="round"/>
<circle cx="722.9" cy="1848.0" r="2.5" fill="#F4487A"/>
<circle cx="722.9" cy="1817.7" r="2.5" fill="#F4487A"/>
<circle cx="722.9" cy="1826.4" r="2.5" fill="#F4487A"/>
<circle cx="740.6" cy="1829.2" r="2.5" fill="#F4487A"/>
<circle cx="740.6" cy="1803.7" r="2.5" fill="#F4487A"/>
<circle cx="740.6" cy="1884.2" r="2.5" fill="#F4487A"/>
<circle cx="758.3" cy="1871.2" r="2.5" fill="#F4487A"/>
<circle cx="758.3" cy="1890.6" r="2.5" fill="#F4487A"/>
<circle cx="758.3" cy="1856.7" r="2.5" fill="#F4487A"/>
<circle cx="775.9" cy="1833.4" r="2.5" fill="#F4487A"/>
<circle cx="775.9" cy="1861.0" r="2.5" fill="#F4487A"/>
<circle cx="775.9" cy="1847.0" r="2.5" fill="#F4487A"/>
<circle cx="793.6" cy="1920.1" r="2.5" fill="#F4487A"/>
<circle cx="793.6" cy="1867.8" r="2.5" fill="#F4487A"/>
<circle cx="793.6" cy="1894.6" r="2.5" fill="#F4487A"/>
<circle cx="811.3" cy="1847.0" r="2.5" fill="#F4487A"/>
<circle cx="811.3" cy="1867.5" r="2.5" fill="#F4487A"/>
<circle cx="811.3" cy="1866.1" r="2.5" fill="#F4487A"/>
<circle cx="829.0" cy="1909.9" r="2.5" fill="#F4487A"/>
<circle cx="829.0" cy="1896.4" r="2.5" fill="#F4487A"/>
<circle cx="829.0" cy="1895.5" r="2.5" fill="#F4487A"/>
<circle cx="846.6" cy="1935.9" r="2.5" fill="#F4487A"/>
<circle cx="846.6" cy="1938.5" r="2.5" fill="#F4487A"/>
<circle cx="846.6" cy="1932.0" r="2.5" fill="#F4487A"/>
<circle cx="864.3" cy="1956.7" r="2.5" fill="#F4487A"/>
<circle cx="864.3" cy="1956.5" r="2.5" fill="#F4487A"/>
<circle cx="864.3" cy="1952.0" r="2.5" fill="#F4487A"/>
<path d="M722.9 1847.2l1.4 .1 1.3 .1 1.4 .1 1.3 .1 1.4 .1 1.3 .2 1.3 .1 1.4 .2 1.3 .1 1.4 .2 1.3 .2 1.4 .1 1.3 .2 1.4 .2 1.3 .3 1.3 .2 1.4 .2 1.3 .3 1.4 .2 1.3 .3 1.4 .3 1.3 .3 1.4 .4 1.3 .3 1.3 .4 1.4 .4 1.3 .4 1.4 .4 1.3 .5 1.4 .5 1.3 .5 1.4 .5 1.3 .6 1.3 .6 1.4 .6 1.3 .6 1.4 .7 1.3 .7 1.4 .8 1.3 .7 1.4 .9 1.3 .8 1.3 .9 1.4 .9 1.3 1 1.4 1 1.3 1.1 1.4 1 1.3 1.2 1.4 1.2 1.3 1.2 1.3 1.2 1.4 1.3 1.3 1.4 1.4 1.4 1.3 1.4 1.4 1.5 1.3 1.5 1.4 1.6 1.3 1.6 1.3 1.6 1.4 1.7 1.3 1.7 1.4 1.8 1.3 1.7 1.4 1.9 1.3 1.8 1.4 1.8 1.3 1.9 1.3 1.9 1.4 1.9 1.3 1.9 1.4 2 1.3 1.9 1.4 1.9 1.3 2 1.4 1.9 1.3 1.9 1.3 1.9 1.4 1.9 1.3 1.9 1.4 1.9 1.3 1.8 1.4 1.8 1.3 1.8 1.4 1.8 1.3 1.7 1.4 1.7 1.3 1.6 1.3 1.7 1.4 1.5 1.3 1.6 1.4 1.5 1.3 1.4 1.4 1.4 1.3 1.4 1.4 1.3 1.3 1.3 1.3 1.2 1.4 1.2 1.3 1.1 1.4 1.2 1.3 1 1.4 1 1.3 1 1.4 1 1.3 .9 1.3 .8 1.4 .8 1.3 .8 1.4 .8 1.3 .7 1.4 .7 1.3 .7 1.4 .6 1.3 .6 1.3 .5 1.4 .6 1.3 .5" fill="none" stroke="#1E9A98" stroke-width="1.6" stroke-linejoin="round"/>
<path d="M720.2,1797.2L725.7,1797.2L722.9,1801.9Z" fill="#1E9A98"/>
<path d="M720.2,1926.1L725.7,1926.1L722.9,1930.8Z" fill="#1E9A98"/>
<path d="M720.2,1820.0L725.7,1820.0L722.9,1824.8Z" fill="#1E9A98"/>
<path d="M737.9,1845.2L743.4,1845.2L740.6,1850.0Z" fill="#1E9A98"/>
<path d="M737.9,1812.7L743.4,1812.7L740.6,1817.5Z" fill="#1E9A98"/>
<path d="M737.9,1837.0L743.4,1837.0L740.6,1841.8Z" fill="#1E9A98"/>
<path d="M755.5,1804.3L761.0,1804.3L758.3,1809.0Z" fill="#1E9A98"/>
<path d="M755.5,1850.1L761.0,1850.1L758.3,1854.9Z" fill="#1E9A98"/>
<path d="M755.5,1864.1L761.0,1864.1L758.3,1868.8Z" fill="#1E9A98"/>
<path d="M773.2,1844.2L778.7,1844.2L775.9,1849.0Z" fill="#1E9A98"/>
<path d="M773.2,1847.9L778.7,1847.9L775.9,1852.6Z" fill="#1E9A98"/>
<path d="M773.2,1867.3L778.7,1867.3L775.9,1872.0Z" fill="#1E9A98"/>
<path d="M790.9,1877.7L796.4,1877.7L793.6,1882.5Z" fill="#1E9A98"/>
<path d="M790.9,1855.7L796.4,1855.7L793.6,1860.4Z" fill="#1E9A98"/>
<path d="M790.9,1856.0L796.4,1856.0L793.6,1860.8Z" fill="#1E9A98"/>
<path d="M808.5,1902.8L814.0,1902.8L811.3,1907.5Z" fill="#1E9A98"/>
<path d="M808.5,1900.2L814.0,1900.2L811.3,1905.0Z" fill="#1E9A98"/>
<path d="M808.5,1929.1L814.0,1929.1L811.3,1933.9Z" fill="#1E9A98"/>
<path d="M826.2,1889.6L831.7,1889.6L829.0,1894.4Z" fill="#1E9A98"/>
<path d="M826.2,1921.7L831.7,1921.7L829.0,1926.4Z" fill="#1E9A98"/>
<path d="M826.2,1895.4L831.7,1895.4L829.0,1900.1Z" fill="#1E9A98"/>
<path d="M843.9,1935.0L849.4,1935.0L846.6,1939.7Z" fill="#1E9A98"/>
<path d="M843.9,1913.8L849.4,1913.8L846.6,1918.6Z" fill="#1E9A98"/>
<path d="M843.9,1919.5L849.4,1919.5L846.6,1924.2Z" fill="#1E9A98"/>
<path d="M861.6,1953.2L867.1,1953.2L864.3,1958.0Z" fill="#1E9A98"/>
<path d="M861.6,1939.6L867.1,1939.6L864.3,1944.3Z" fill="#1E9A98"/>
<path d="M861.6,1968.1L867.1,1968.1L864.3,1972.9Z" fill="#1E9A98"/>
<path d="M722.9 1847.4l1.4 .1 1.3 .1 1.4 .1 1.3 .1 1.4 .2 1.3 .1 1.3 .2 1.4 .1 1.3 .2 1.4 .2 1.3 .2 1.4 .2 1.3 .2 1.4 .2 1.3 .2 1.3 .3 1.4 .3 1.3 .2 1.4 .3 1.3 .3 1.4 .4 1.3 .3 1.4 .4 1.3 .4 1.3 .4 1.4 .4 1.3 .4 1.4 .5 1.3 .5 1.4 .5 1.3 .6 1.4 .6 1.3 .6 1.3 .6 1.4 .7 1.3 .7 1.4 .7 1.3 .8 1.4 .8 1.3 .8 1.4 .9 1.3 .9 1.3 1 1.4 1 1.3 1 1.4 1.1 1.3 1.1 1.4 1.1 1.3 1.2 1.4 1.3 1.3 1.3 1.3 1.3 1.4 1.4 1.3 1.4 1.4 1.5 1.3 1.5 1.4 1.5 1.3 1.6 1.4 1.7 1.3 1.6 1.3 1.7 1.4 1.8 1.3 1.7 1.4 1.8 1.3 1.8 1.4 1.9 1.3 1.9 1.4 1.9 1.3 1.9 1.3 1.9 1.4 1.9 1.3 1.9 1.4 2 1.3 1.9 1.4 1.9 1.3 2 1.4 1.9 1.3 1.9 1.3 1.9 1.4 1.8 1.3 1.9 1.4 1.8 1.3 1.8 1.4 1.8 1.3 1.7 1.4 1.7 1.3 1.7 1.4 1.6 1.3 1.6 1.3 1.5 1.4 1.5 1.3 1.5 1.4 1.4 1.3 1.4 1.4 1.3 1.3 1.3 1.4 1.3 1.3 1.2 1.3 1.2 1.4 1.1 1.3 1.1 1.4 1 1.3 1 1.4 .9 1.3 .9 1.4 .9 1.3 .9 1.3 .8 1.4 .7 1.3 .8 1.4 .7 1.3 .6 1.4 .7 1.3 .6 1.4 .6 1.3 .5 1.3 .5 1.4 .5 1.3 .5" fill="none" stroke="#3F1C80" stroke-width="1.6" stroke-linejoin="round"/>
<circle cx="722.9" cy="1829.1" r="2.5" fill="#3F1C80"/>
<circle cx="722.9" cy="1873.1" r="2.5" fill="#3F1C80"/>
<circle cx="722.9" cy="1888.7" r="2.5" fill="#3F1C80"/>
<circle cx="740.6" cy="1925.4" r="2.5" fill="#3F1C80"/>
<circle cx="740.6" cy="1858.6" r="2.5" fill="#3F1C80"/>
<circle cx="740.6" cy="1817.0" r="2.5" fill="#3F1C80"/>
<circle cx="758.3" cy="1852.8" r="2.5" fill="#3F1C80"/>
<circle cx="758.3" cy="1840.6" r="2.5" fill="#3F1C80"/>
<circle cx="758.3" cy="1827.6" r="2.5" fill="#3F1C80"/>
<circle cx="775.9" cy="1883.3" r="2.5" fill="#3F1C80"/>
<circle cx="775.9" cy="1797.2" r="2.5" fill="#3F1C80"/>
<circle cx="775.9" cy="1883.2" r="2.5" fill="#3F1C80"/>
<circle cx="793.6" cy="1867.9" r="2.5" fill="#3F1C80"/>
<circle cx="793.6" cy="1814.7" r="2.5" fill="#3F1C80"/>
<circle cx="793.6" cy="1878.9" r="2.5" fill="#3F1C80"/>
<circle cx="811.3" cy="1895.6" r="2.5" fill="#3F1C80"/>
<circle cx="811.3" cy="1907.9" r="2.5" fill="#3F1C80"/>
<circle cx="811.3" cy="1891.3" r="2.5" fill="#3F1C80"/>
<circle cx="829.0" cy="1957.9" r="2.5" fill="#3F1C80"/>
<circle cx="829.0" cy="1933.6" r="2.5" fill="#3F1C80"/>
<circle cx="829.0" cy="1895.2" r="2.5" fill="#3F1C80"/>
<circle cx="846.6" cy="1942.4" r="2.5" fill="#3F1C80"/>
<circle cx="846.6" cy="1948.5" r="2.5" fill="#3F1C80"/>
<circle cx="846.6" cy="1940.2" r="2.5" fill="#3F1C80"/>
<circle cx="864.3" cy="1955.7" r="2.5" fill="#3F1C80"/>
<circle cx="864.3" cy="1958.7" r="2.5" fill="#3F1C80"/>
<circle cx="864.3" cy="1953.8" r="2.5" fill="#3F1C80"/>
<path d="M722.9 1855.9l1.4 .4 1.3 .3 1.4 .3 1.3 .4 1.4 .4 1.3 .4 1.3 .4 1.4 .4 1.3 .4 1.4 .5 1.3 .5 1.4 .5 1.3 .5 1.4 .6 1.3 .5 1.3 .6 1.4 .6 1.3 .7 1.4 .7 1.3 .7 1.4 .7 1.3 .7 1.4 .8 1.3 .8 1.3 .8 1.4 .9 1.3 .9 1.4 .9 1.3 1 1.4 1 1.3 1 1.4 1 1.3 1.1 1.3 1.1 1.4 1.1 1.3 1.2 1.4 1.2 1.3 1.2 1.4 1.3 1.3 1.3 1.4 1.3 1.3 1.4 1.3 1.3 1.4 1.4 1.3 1.4 1.4 1.5 1.3 1.5 1.4 1.5 1.3 1.5 1.4 1.5 1.3 1.5 1.3 1.6 1.4 1.6 1.3 1.6 1.4 1.6 1.3 1.6 1.4 1.6 1.3 1.6 1.4 1.6 1.3 1.6 1.3 1.6 1.4 1.6 1.3 1.6 1.4 1.6 1.3 1.6 1.4 1.5 1.3 1.6 1.4 1.5 1.3 1.5 1.3 1.5 1.4 1.5 1.3 1.5 1.4 1.4 1.3 1.4 1.4 1.4 1.3 1.3 1.4 1.4 1.3 1.3 1.3 1.2 1.4 1.3 1.3 1.2 1.4 1.2 1.3 1.1 1.4 1.1 1.3 1.1 1.4 1.1 1.3 1 1.4 1 1.3 1 1.3 .9 1.4 .9 1.3 .9 1.4 .8 1.3 .8 1.4 .8 1.3 .8 1.4 .7 1.3 .7 1.3 .7 1.4 .6 1.3 .7 1.4 .6 1.3 .5 1.4 .6 1.3 .5 1.4 .6 1.3 .4 1.3 .5 1.4 .5 1.3 .4 1.4 .4 1.3 .4 1.4 .4 1.3 .4 1.4 .3 1.3 .3 1.3 .4 1.4 .3 1.3 .3" fill="none" stroke="#B888FF" stroke-width="1.6" stroke-linejoin="round"/>
<rect x="720.4" y="1885.8" width="5.0" height="5.0" fill="#A56CF5"/>
<rect x="720.4" y="1874.6" width="5.0" height="5.0" fill="#A56CF5"/>
<rect x="720.4" y="1844.5" width="5.0" height="5.0" fill="#A56CF5"/>
<rect x="738.1" y="1870.4" width="5.0" height="5.0" fill="#A56CF5"/>
<rect x="738.1" y="1847.3" width="5.0" height="5.0" fill="#A56CF5"/>
<rect x="738.1" y="1841.1" width="5.0" height="5.0" fill="#A56CF5"/>
<rect x="755.8" y="1898.3" width="5.0" height="5.0" fill="#A56CF5"/>
<rect x="755.8" y="1846.9" width="5.0" height="5.0" fill="#A56CF5"/>
<rect x="755.8" y="1880.6" width="5.0" height="5.0" fill="#A56CF5"/>
<rect x="773.4" y="1842.2" width="5.0" height="5.0" fill="#A56CF5"/>
<rect x="773.4" y="1868.4" width="5.0" height="5.0" fill="#A56CF5"/>
<rect x="773.4" y="1892.8" width="5.0" height="5.0" fill="#A56CF5"/>
<rect x="791.1" y="1898.1" width="5.0" height="5.0" fill="#A56CF5"/>
<rect x="791.1" y="1897.8" width="5.0" height="5.0" fill="#A56CF5"/>
<rect x="791.1" y="1895.9" width="5.0" height="5.0" fill="#A56CF5"/>
<rect x="808.8" y="1902.2" width="5.0" height="5.0" fill="#A56CF5"/>
<rect x="808.8" y="1914.7" width="5.0" height="5.0" fill="#A56CF5"/>
<rect x="808.8" y="1898.3" width="5.0" height="5.0" fill="#A56CF5"/>
<rect x="826.5" y="1933.4" width="5.0" height="5.0" fill="#A56CF5"/>
<rect x="826.5" y="1943.4" width="5.0" height="5.0" fill="#A56CF5"/>
<rect x="826.5" y="1960.1" width="5.0" height="5.0" fill="#A56CF5"/>
<rect x="844.1" y="1971.9" width="5.0" height="5.0" fill="#A56CF5"/>
<rect x="844.1" y="1953.0" width="5.0" height="5.0" fill="#A56CF5"/>
<rect x="844.1" y="1947.8" width="5.0" height="5.0" fill="#A56CF5"/>
<rect x="861.8" y="1950.1" width="5.0" height="5.0" fill="#A56CF5"/>
<rect x="861.8" y="1970.0" width="5.0" height="5.0" fill="#A56CF5"/>
<rect x="861.8" y="1963.4" width="5.0" height="5.0" fill="#A56CF5"/>
<path d="M775.9 1850.3l1.2 .4 1.2 .5 1.1 .6 1.2 .6 1.2 .6 1.2 .7 1.2 .8 1.2 .8 1.1 .9 1.2 1 1.2 1.1 1.2 1.1 1.2 1.2 1.2 1.4 1.1 1.4 1.2 1.5 1.2 1.7 1.2 1.7 1.2 1.9 1.1 1.9 1.2 2.1 1.2 2.2 1.2 2.4 1.2 2.4 1.2 2.5 1.1 2.7 1.2 2.7 1.2 2.9 1.2 2.9 1.2 3 1.2 3.1 1.1 3.1 1.2 3.1 1.2 3.2 1.2 3.1 1.2 3.2 1.2 3.1 1.1 3.1 1.2 3.1 1.2 2.9 1.2 3 1.2 2.8 1.2 2.7 1.1 2.7 1.2 2.5 1.2 2.4 1.2 2.3 1.2 2.2 1.1 2.1 1.2 2 1.2 1.8 1.2 1.8 1.2 1.6 1.2 1.5 1.1 1.4 1.2 1.3 1.2 1.3 1.2 1.1 1.2 1 1.2 1 1.1 .9 1.2 .8 1.2 .8 1.2 .7 1.2 .6 1.2 .6 1.1 .6 1.2 .4 1.2 .5 1.2 .4 1.2 .4 1.1 .3 1.2 .4 1.2 .2 1.2 .3 1.2 .3 1.2 .2 1.1 .2 1.2 .2 1.2 .1 1.2 .2 1.2 .1 1.2 .1 1.1 .1 1.2 .2 1.2 0 1.2 .1 1.2 .1 1.2 .1 1.1 0 1.2 .1 1.2 .1 1.2 0 1.2 .1 1.2 0 1.1 0 1.2 .1 1.2 0 1.2 0 1.2 0 1.1 .1 1.2 0 1.2 0 1.2 0 1.2 0 1.2 .1 1.1 0 1.2 0 1.2 0 1.2 0 1.2 0 1.2 0 1.1 0 1.2 0 1.2 0 1.2 0 1.2 .1 1.2 0 1.1 0" fill="none" stroke="#7FD4F7" stroke-width="1.6" stroke-linejoin="round"/>
<path d="M773.2,1863.8L778.7,1863.8L775.9,1859.1Z" fill="#6CCCF2"/>
<path d="M773.2,1840.1L778.7,1840.1L775.9,1835.3Z" fill="#6CCCF2"/>
<path d="M773.2,1832.1L778.7,1832.1L775.9,1827.4Z" fill="#6CCCF2"/>
<path d="M790.9,1846.7L796.4,1846.7L793.6,1841.9Z" fill="#6CCCF2"/>
<path d="M790.9,1832.4L796.4,1832.4L793.6,1827.7Z" fill="#6CCCF2"/>
<path d="M790.9,1872.4L796.4,1872.4L793.6,1867.6Z" fill="#6CCCF2"/>
<path d="M808.5,1891.6L814.0,1891.6L811.3,1886.9Z" fill="#6CCCF2"/>
<path d="M808.5,1905.1L814.0,1905.1L811.3,1900.3Z" fill="#6CCCF2"/>
<path d="M808.5,1920.7L814.0,1920.7L811.3,1916.0Z" fill="#6CCCF2"/>
<path d="M826.2,1951.6L831.7,1951.6L829.0,1946.9Z" fill="#6CCCF2"/>
<path d="M826.2,1942.8L831.7,1942.8L829.0,1938.1Z" fill="#6CCCF2"/>
<path d="M826.2,1953.8L831.7,1953.8L829.0,1949.1Z" fill="#6CCCF2"/>
<path d="M843.9,1970.8L849.4,1970.8L846.6,1966.0Z" fill="#6CCCF2"/>
<path d="M843.9,1960.3L849.4,1960.3L846.6,1955.5Z" fill="#6CCCF2"/>
<path d="M843.9,1964.7L849.4,1964.7L846.6,1959.9Z" fill="#6CCCF2"/>
<path d="M861.6,1973.1L867.1,1973.1L864.3,1968.4Z" fill="#6CCCF2"/>
<path d="M861.6,1974.8L867.1,1974.8L864.3,1970.0Z" fill="#6CCCF2"/>
<path d="M861.6,1978.5L867.1,1978.5L864.3,1973.8Z" fill="#6CCCF2"/>
<path d="M879.2,1980.0L884.7,1980.0L882.0,1975.2Z" fill="#6CCCF2"/>
<path d="M879.2,1972.4L884.7,1972.4L882.0,1967.6Z" fill="#6CCCF2"/>
<path d="M879.2,1980.0L884.7,1980.0L882.0,1975.2Z" fill="#6CCCF2"/>
<line x1="683.3" y1="1778.3" x2="683.3" y2="1979.1" stroke="#000" stroke-width="2.2"/>
<line x1="682.2" y1="1978" x2="980.7" y2="1978" stroke="#000" stroke-width="2.2"/>
<line x1="674.8" y1="1978" x2="683.3" y2="1978" stroke="#000" stroke-width="2.2"/>
<text x="671.8" y="1983" font-size="14.3" font-weight="bold" text-anchor="end">0</text>
<line x1="674.8" y1="1911.8" x2="683.3" y2="1911.8" stroke="#000" stroke-width="2.2"/>
<text x="671.8" y="1916.8" font-size="14.3" font-weight="bold" text-anchor="end">50</text>
<line x1="674.8" y1="1845.5" x2="683.3" y2="1845.5" stroke="#000" stroke-width="2.2"/>
<text x="671.8" y="1850.5" font-size="14.3" font-weight="bold" text-anchor="end">100</text>
<line x1="674.8" y1="1779.3" x2="683.3" y2="1779.3" stroke="#000" stroke-width="2.2"/>
<text x="671.8" y="1784.3" font-size="14.3" font-weight="bold" text-anchor="end">150</text>
<line x1="683.3" y1="1978" x2="683.3" y2="1986.5" stroke="#000" stroke-width="2.2"/>
<text x="684.3" y="2004.0" font-size="14.5" font-weight="bold" text-anchor="middle">10<tspan font-size="10.4" dy="-6">-4</tspan></text>
<line x1="757.4" y1="1978" x2="757.4" y2="1986.5" stroke="#000" stroke-width="2.2"/>
<text x="758.4" y="2004.0" font-size="14.5" font-weight="bold" text-anchor="middle">10<tspan font-size="10.4" dy="-6">-2</tspan></text>
<line x1="831.5" y1="1978" x2="831.5" y2="1986.5" stroke="#000" stroke-width="2.2"/>
<text x="832.5" y="2004.0" font-size="14.5" font-weight="bold" text-anchor="middle">10<tspan font-size="10.4" dy="-6">0</tspan></text>
<line x1="905.5" y1="1978" x2="905.5" y2="1986.5" stroke="#000" stroke-width="2.2"/>
<text x="906.5" y="2004.0" font-size="14.5" font-weight="bold" text-anchor="middle">10<tspan font-size="10.4" dy="-6">2</tspan></text>
<line x1="979.6" y1="1978" x2="979.6" y2="1986.5" stroke="#000" stroke-width="2.2"/>
<text x="980.6" y="2004.0" font-size="14.5" font-weight="bold" text-anchor="middle">10<tspan font-size="10.4" dy="-6">4</tspan></text>
<text x="826.5" y="2029" font-size="19" text-anchor="middle">Concentration (nM)</text>
<text x="639.3" y="1877.7" font-size="19.3" text-anchor="middle" transform="rotate(-90 639.3 1877.7)">Relative Infectivity (%)</text>
<text x="854.5" y="1791.6" font-size="26.8" font-weight="bold" text-anchor="middle">Delta B.1.617.2</text>
<line x1="1000" y1="1792.3" x2="1046.4" y2="1792.3" stroke="#000" stroke-width="1.2"/>
<path d="M1020.5,1792.3L1023.2,1789.6L1025.9,1792.3L1023.2,1795.0Z" fill="#000"/>
<text x="1057.8" y="1797.9" font-size="19">ACE2 Mono</text>
<line x1="1000" y1="1820.1" x2="1046.4" y2="1820.1" stroke="#FF5C8A" stroke-width="1.8"/>
<circle cx="1023.2" cy="1820.1" r="2.4" fill="#F4487A"/>
<text x="1057.8" y="1825.7" font-size="19">T0A</text>
<line x1="1000" y1="1847.5" x2="1046.4" y2="1847.5" stroke="#1E9A98" stroke-width="1.8"/>
<path d="M1020.6,1845.6L1025.8,1845.6L1023.2,1850.1Z" fill="#1E9A98"/>
<text x="1057.8" y="1853.1" font-size="19">T1A</text>
<line x1="1000" y1="1875.3" x2="1046.4" y2="1875.3" stroke="#3F1C80" stroke-width="1.8"/>
<circle cx="1023.2" cy="1875.3" r="2.4" fill="#3F1C80"/>
<text x="1057.8" y="1880.9" font-size="19">T3A</text>
<line x1="1000" y1="1903.1" x2="1046.4" y2="1903.1" stroke="#B888FF" stroke-width="1.8"/>
<rect x="1020.8" y="1900.7" width="4.8" height="4.8" fill="#A56CF5"/>
<text x="1057.8" y="1908.7" font-size="19">T5A</text>
<line x1="1000" y1="1930.8" x2="1046.4" y2="1930.8" stroke="#7FD4F7" stroke-width="1.8"/>
<path d="M1020.6,1932.7L1025.8,1932.7L1023.2,1928.2Z" fill="#6CCCF2"/>
<text x="1057.8" y="1936.4" font-size="19">T18A</text>
<path d="M1506.9 1846.1l1.1 .1 1.2 0 1.1 .1 1.2 0 1.1 .1 1.2 .1 1.2 0 1.1 .1 1.2 .1 1.1 .1 1.2 0 1.1 .1 1.2 .1 1.2 .1 1.1 .1 1.2 .1 1.1 .1 1.2 .2 1.1 .1 1.2 .1 1.1 .2 1.2 .1 1.2 .1 1.1 .2 1.2 .2 1.1 .1 1.2 .2 1.1 .2 1.2 .2 1.1 .2 1.2 .3 1.2 .2 1.1 .2 1.2 .3 1.1 .3 1.2 .2 1.1 .3 1.2 .4 1.2 .3 1.1 .3 1.2 .4 1.1 .4 1.2 .3 1.1 .4 1.2 .5 1.1 .4 1.2 .5 1.2 .5 1.1 .5 1.2 .5 1.1 .6 1.2 .5 1.1 .6 1.2 .7 1.1 .6 1.2 .7 1.2 .7 1.1 .8 1.2 .7 1.1 .8 1.2 .8 1.1 .9 1.2 .9 1.2 .9 1.1 .9 1.2 1 1.1 1 1.2 1.1 1.1 1.1 1.2 1.1 1.1 1.1 1.2 1.2 1.2 1.2 1.1 1.3 1.2 1.3 1.1 1.3 1.2 1.3 1.1 1.4 1.2 1.4 1.1 1.5 1.2 1.4 1.2 1.5 1.1 1.5 1.2 1.6 1.1 1.5 1.2 1.6 1.1 1.6 1.2 1.7 1.2 1.6 1.1 1.7 1.2 1.6 1.1 1.7 1.2 1.7 1.1 1.7 1.2 1.7 1.1 1.7 1.2 1.7 1.2 1.6 1.1 1.7 1.2 1.7 1.1 1.7 1.2 1.6 1.1 1.7 1.2 1.6 1.1 1.6 1.2 1.6 1.2 1.6 1.1 1.5 1.2 1.5 1.1 1.5 1.2 1.5 1.1 1.4 1.2 1.4 1.2 1.4 1.1 1.3 1.2 1.4 1.1 1.2 1.2 1.3 1.1 1.2" fill="none" stroke="#000" stroke-width="1.2" stroke-linejoin="round"/>
<path d="M1504.4,1842.4L1506.9,1839.9L1509.4,1842.4L1506.9,1844.9Z" fill="#000"/>
<path d="M1504.4,1830.3L1506.9,1827.8L1509.4,1830.3L1506.9,1832.8Z" fill="#000"/>
<path d="M1504.4,1864.9L1506.9,1862.4L1509.4,1864.9L1506.9,1867.4Z" fill="#000"/>
<path d="M1521.6,1829.6L1524.1,1827.1L1526.6,1829.6L1524.1,1832.1Z" fill="#000"/>
<path d="M1521.6,1847.7L1524.1,1845.2L1526.6,1847.7L1524.1,1850.2Z" fill="#000"/>
<path d="M1521.6,1855.6L1524.1,1853.1L1526.6,1855.6L1524.1,1858.1Z" fill="#000"/>
<path d="M1538.9,1857.8L1541.4,1855.3L1543.9,1857.8L1541.4,1860.3Z" fill="#000"/>
<path d="M1538.9,1860.7L1541.4,1858.2L1543.9,1860.7L1541.4,1863.2Z" fill="#000"/>
<path d="M1538.9,1851.8L1541.4,1849.3L1543.9,1851.8L1541.4,1854.3Z" fill="#000"/>
<path d="M1556.2,1845.8L1558.7,1843.3L1561.2,1845.8L1558.7,1848.3Z" fill="#000"/>
<path d="M1556.2,1848.3L1558.7,1845.8L1561.2,1848.3L1558.7,1850.8Z" fill="#000"/>
<path d="M1556.2,1847.8L1558.7,1845.3L1561.2,1847.8L1558.7,1850.3Z" fill="#000"/>
<path d="M1573.5,1879.5L1576.0,1877.0L1578.5,1879.5L1576.0,1882.0Z" fill="#000"/>
<path d="M1573.5,1878.3L1576.0,1875.8L1578.5,1878.3L1576.0,1880.8Z" fill="#000"/>
<path d="M1573.5,1848.3L1576.0,1845.8L1578.5,1848.3L1576.0,1850.8Z" fill="#000"/>
<path d="M1590.7,1870.3L1593.2,1867.8L1595.7,1870.3L1593.2,1872.8Z" fill="#000"/>
<path d="M1590.7,1859.6L1593.2,1857.1L1595.7,1859.6L1593.2,1862.1Z" fill="#000"/>
<path d="M1590.7,1868.2L1593.2,1865.7L1595.7,1868.2L1593.2,1870.7Z" fill="#000"/>
<path d="M1608.0,1909.0L1610.5,1906.5L1613.0,1909.0L1610.5,1911.5Z" fill="#000"/>
<path d="M1608.0,1891.4L1610.5,1888.9L1613.0,1891.4L1610.5,1893.9Z" fill="#000"/>
<path d="M1608.0,1896.4L1610.5,1893.9L1613.0,1896.4L1610.5,1898.9Z" fill="#000"/>
<path d="M1625.3,1924.8L1627.8,1922.3L1630.3,1924.8L1627.8,1927.3Z" fill="#000"/>
<path d="M1625.3,1931.3L1627.8,1928.8L1630.3,1931.3L1627.8,1933.8Z" fill="#000"/>
<path d="M1625.3,1926.1L1627.8,1923.6L1630.3,1926.1L1627.8,1928.6Z" fill="#000"/>
<path d="M1642.5,1948.0L1645.0,1945.5L1647.5,1948.0L1645.0,1950.5Z" fill="#000"/>
<path d="M1642.5,1942.6L1645.0,1940.1L1647.5,1942.6L1645.0,1945.1Z" fill="#000"/>
<path d="M1642.5,1946.6L1645.0,1944.1L1647.5,1946.6L1645.0,1949.1Z" fill="#000"/>
<path d="M1436.3 1859.4l1.1 .5 1.2 .5 1.1 .5 1.2 .6 1.2 .6 1.1 .7 1.2 .6 1.1 .7 1.2 .8 1.1 .7 1.2 .8 1.2 .9 1.1 .9 1.2 .9 1.1 .9 1.2 1 1.1 1.1 1.2 1 1.1 1.1 1.2 1.2 1.2 1.2 1.1 1.2 1.2 1.3 1.1 1.4 1.2 1.3 1.1 1.4 1.2 1.5 1.1 1.5 1.2 1.5 1.2 1.6 1.1 1.6 1.2 1.6 1.1 1.7 1.2 1.7 1.1 1.7 1.2 1.7 1.2 1.8 1.1 1.8 1.2 1.8 1.1 1.9 1.2 1.8 1.1 1.8 1.2 1.9 1.1 1.9 1.2 1.8 1.2 1.9 1.1 1.8 1.2 1.9 1.1 1.8 1.2 1.8 1.1 1.8 1.2 1.8 1.1 1.7 1.2 1.7 1.2 1.7 1.1 1.7 1.2 1.6 1.1 1.6 1.2 1.5 1.1 1.5 1.2 1.5 1.1 1.5 1.2 1.4 1.2 1.3 1.1 1.3 1.2 1.3 1.1 1.2 1.2 1.2 1.1 1.1 1.2 1.2 1.2 1 1.1 1 1.2 1 1.1 1 1.2 .9 1.1 .8 1.2 .9 1.1 .7 1.2 .8 1.2 .7 1.1 .7 1.2 .7 1.1 .6 1.2 .6 1.1 .6 1.2 .5 1.1 .5 1.2 .5 1.2 .5 1.1 .4 1.2 .5 1.1 .4 1.2 .4 1.1 .3 1.2 .4 1.2 .3 1.1 .3 1.2 .3 1.1 .3 1.2 .2 1.1 .3 1.2 .2 1.1 .2 1.2 .2 1.2 .2 1.1 .2 1.2 .2 1.1 .2 1.2 .1 1.1 .2 1.2 .1 1.1 .1 1.2 .2 1.2 .1 1.1 .1 1.2 .1 1.1 .1 1.2 .1 1.1 .1" fill="none" stroke="#5A2CA0" stroke-width="1.6" stroke-linejoin="round"/>
<circle cx="1436.3" cy="1874.8" r="2.5" fill="#4B1F98"/>
<circle cx="1436.3" cy="1872.6" r="2.5" fill="#4B1F98"/>
<circle cx="1436.3" cy="1873.7" r="2.5" fill="#4B1F98"/>
<circle cx="1453.6" cy="1876.4" r="2.5" fill="#4B1F98"/>
<circle cx="1453.6" cy="1854.9" r="2.5" fill="#4B1F98"/>
<circle cx="1453.6" cy="1886.6" r="2.5" fill="#4B1F98"/>
<circle cx="1470.8" cy="1880.3" r="2.5" fill="#4B1F98"/>
<circle cx="1470.8" cy="1877.3" r="2.5" fill="#4B1F98"/>
<circle cx="1470.8" cy="1892.4" r="2.5" fill="#4B1F98"/>
<circle cx="1488.1" cy="1920.9" r="2.5" fill="#4B1F98"/>
<circle cx="1488.1" cy="1911.8" r="2.5" fill="#4B1F98"/>
<circle cx="1488.1" cy="1906.1" r="2.5" fill="#4B1F98"/>
<circle cx="1505.4" cy="1927.9" r="2.5" fill="#4B1F98"/>
<circle cx="1505.4" cy="1935.7" r="2.5" fill="#4B1F98"/>
<circle cx="1505.4" cy="1931.4" r="2.5" fill="#4B1F98"/>
<circle cx="1522.6" cy="1961.5" r="2.5" fill="#4B1F98"/>
<circle cx="1522.6" cy="1963.7" r="2.5" fill="#4B1F98"/>
<circle cx="1522.6" cy="1968.1" r="2.5" fill="#4B1F98"/>
<circle cx="1539.9" cy="1974.2" r="2.5" fill="#4B1F98"/>
<circle cx="1539.9" cy="1970.6" r="2.5" fill="#4B1F98"/>
<circle cx="1539.9" cy="1968.0" r="2.5" fill="#4B1F98"/>
<circle cx="1557.2" cy="1976.9" r="2.5" fill="#4B1F98"/>
<circle cx="1557.2" cy="1969.9" r="2.5" fill="#4B1F98"/>
<circle cx="1557.2" cy="1973.9" r="2.5" fill="#4B1F98"/>
<circle cx="1574.5" cy="1976.9" r="2.5" fill="#4B1F98"/>
<circle cx="1574.5" cy="1976.9" r="2.5" fill="#4B1F98"/>
<circle cx="1574.5" cy="1966.9" r="2.5" fill="#4B1F98"/>
<path d="M1436.3 1855.1l1.1 .2 1.2 .3 1.1 .3 1.2 .3 1.2 .3 1.1 .3 1.2 .4 1.1 .3 1.2 .4 1.1 .4 1.2 .4 1.2 .5 1.1 .4 1.2 .5 1.1 .5 1.2 .5 1.1 .6 1.2 .6 1.1 .6 1.2 .6 1.2 .7 1.1 .7 1.2 .7 1.1 .7 1.2 .8 1.1 .8 1.2 .9 1.1 .8 1.2 1 1.2 .9 1.1 1 1.2 1 1.1 1.1 1.2 1.1 1.1 1.1 1.2 1.2 1.2 1.2 1.1 1.2 1.2 1.3 1.1 1.3 1.2 1.4 1.1 1.4 1.2 1.4 1.1 1.4 1.2 1.5 1.2 1.5 1.1 1.6 1.2 1.6 1.1 1.6 1.2 1.6 1.1 1.6 1.2 1.7 1.1 1.7 1.2 1.7 1.2 1.7 1.1 1.7 1.2 1.8 1.1 1.7 1.2 1.7 1.1 1.8 1.2 1.7 1.1 1.8 1.2 1.7 1.2 1.7 1.1 1.7 1.2 1.7 1.1 1.7 1.2 1.6 1.1 1.7 1.2 1.6 1.2 1.6 1.1 1.5 1.2 1.6 1.1 1.4 1.2 1.5 1.1 1.4 1.2 1.4 1.1 1.4 1.2 1.3 1.2 1.3 1.1 1.3 1.2 1.2 1.1 1.2 1.2 1.1 1.1 1.2 1.2 1 1.1 1.1 1.2 1 1.2 .9 1.1 1 1.2 .8 1.1 .9 1.2 .8 1.1 .8 1.2 .8 1.2 .7 1.1 .7 1.2 .7 1.1 .6 1.2 .6 1.1 .6 1.2 .6 1.1 .5 1.2 .5 1.2 .5 1.1 .5 1.2 .5 1.1 .4 1.2 .4 1.1 .4 1.2 .3 1.1 .4 1.2 .3 1.2 .3 1.1 .3 1.2 .3 1.1 .3 1.2 .2 1.1 .3" fill="none" stroke="#1E9A98" stroke-width="1.6" stroke-linejoin="round"/>
<path d="M1433.8,1849.5L1436.3,1847.0L1438.8,1849.5L1436.3,1852.0Z" fill="#1E9A98"/>
<path d="M1433.8,1852.9L1436.3,1850.4L1438.8,1852.9L1436.3,1855.4Z" fill="#1E9A98"/>
<path d="M1433.8,1855.7L1436.3,1853.2L1438.8,1855.7L1436.3,1858.2Z" fill="#1E9A98"/>
<path d="M1451.1,1883.2L1453.6,1880.7L1456.1,1883.2L1453.6,1885.7Z" fill="#1E9A98"/>
<path d="M1451.1,1856.4L1453.6,1853.9L1456.1,1856.4L1453.6,1858.9Z" fill="#1E9A98"/>
<path d="M1451.1,1881.3L1453.6,1878.8L1456.1,1881.3L1453.6,1883.8Z" fill="#1E9A98"/>
<path d="M1468.3,1863.1L1470.8,1860.6L1473.3,1863.1L1470.8,1865.6Z" fill="#1E9A98"/>
<path d="M1468.3,1865.8L1470.8,1863.3L1473.3,1865.8L1470.8,1868.3Z" fill="#1E9A98"/>
<path d="M1468.3,1863.8L1470.8,1861.3L1473.3,1863.8L1470.8,1866.3Z" fill="#1E9A98"/>
<path d="M1485.6,1883.1L1488.1,1880.6L1490.6,1883.1L1488.1,1885.6Z" fill="#1E9A98"/>
<path d="M1485.6,1887.4L1488.1,1884.9L1490.6,1887.4L1488.1,1889.9Z" fill="#1E9A98"/>
<path d="M1485.6,1894.3L1488.1,1891.8L1490.6,1894.3L1488.1,1896.8Z" fill="#1E9A98"/>
<path d="M1502.9,1916.8L1505.4,1914.3L1507.9,1916.8L1505.4,1919.3Z" fill="#1E9A98"/>
<path d="M1502.9,1904.2L1505.4,1901.7L1507.9,1904.2L1505.4,1906.7Z" fill="#1E9A98"/>
<path d="M1502.9,1918.7L1505.4,1916.2L1507.9,1918.7L1505.4,1921.2Z" fill="#1E9A98"/>
<path d="M1520.1,1940.5L1522.6,1938.0L1525.1,1940.5L1522.6,1943.0Z" fill="#1E9A98"/>
<path d="M1520.1,1943.3L1522.6,1940.8L1525.1,1943.3L1522.6,1945.8Z" fill="#1E9A98"/>
<path d="M1520.1,1942.1L1522.6,1939.6L1525.1,1942.1L1522.6,1944.6Z" fill="#1E9A98"/>
<path d="M1537.4,1958.5L1539.9,1956.0L1542.4,1958.5L1539.9,1961.0Z" fill="#1E9A98"/>
<path d="M1537.4,1955.8L1539.9,1953.3L1542.4,1955.8L1539.9,1958.3Z" fill="#1E9A98"/>
<path d="M1537.4,1958.4L1539.9,1955.9L1542.4,1958.4L1539.9,1960.9Z" fill="#1E9A98"/>
<path d="M1554.7,1968.8L1557.2,1966.3L1559.7,1968.8L1557.2,1971.3Z" fill="#1E9A98"/>
<path d="M1554.7,1969.9L1557.2,1967.4L1559.7,1969.9L1557.2,1972.4Z" fill="#1E9A98"/>
<path d="M1554.7,1967.0L1557.2,1964.5L1559.7,1967.0L1557.2,1969.5Z" fill="#1E9A98"/>
<path d="M1572.0,1976.9L1574.5,1974.4L1577.0,1976.9L1574.5,1979.4Z" fill="#1E9A98"/>
<path d="M1572.0,1972.3L1574.5,1969.8L1577.0,1972.3L1574.5,1974.8Z" fill="#1E9A98"/>
<path d="M1572.0,1967.4L1574.5,1964.9L1577.0,1967.4L1574.5,1969.9Z" fill="#1E9A98"/>
<path d="M1436.3 1847l1.1 .1 1.2 .2 1.1 .1 1.2 .2 1.2 .1 1.1 .2 1.2 .2 1.1 .2 1.2 .2 1.1 .2 1.2 .3 1.2 .2 1.1 .3 1.2 .3 1.1 .3 1.2 .3 1.1 .3 1.2 .4 1.1 .4 1.2 .4 1.2 .4 1.1 .5 1.2 .5 1.1 .5 1.2 .5 1.1 .6 1.2 .6 1.1 .7 1.2 .7 1.2 .7 1.1 .7 1.2 .9 1.1 .8 1.2 .9 1.1 .9 1.2 1 1.2 1.1 1.1 1 1.2 1.2 1.1 1.2 1.2 1.2 1.1 1.3 1.2 1.4 1.1 1.4 1.2 1.4 1.2 1.6 1.1 1.5 1.2 1.7 1.1 1.6 1.2 1.8 1.1 1.8 1.2 1.8 1.1 1.9 1.2 1.9 1.2 2 1.1 2 1.2 2 1.1 2.1 1.2 2.1 1.1 2.1 1.2 2.2 1.1 2.2 1.2 2.1 1.2 2.2 1.1 2.2 1.2 2.2 1.1 2.1 1.2 2.2 1.1 2.1 1.2 2.1 1.2 2.1 1.1 2.1 1.2 2 1.1 2 1.2 1.9 1.1 1.9 1.2 1.9 1.1 1.8 1.2 1.7 1.2 1.7 1.1 1.7 1.2 1.6 1.1 1.5 1.2 1.5 1.1 1.4 1.2 1.4 1.1 1.3 1.2 1.3 1.2 1.2 1.1 1.2 1.2 1.1 1.1 1 1.2 1 1.1 1 1.2 .9 1.2 .9 1.1 .8 1.2 .8 1.1 .7 1.2 .7 1.1 .7 1.2 .6 1.1 .6 1.2 .6 1.2 .5 1.1 .5 1.2 .5 1.1 .4 1.2 .4 1.1 .4 1.2 .4 1.1 .4 1.2 .3 1.2 .3 1.1 .3 1.2 .3 1.1 .2 1.2 .3 1.1 .2" fill="none" stroke="#7FD4F7" stroke-width="1.6" stroke-linejoin="round"/>
<rect x="1433.8" y="1826.9" width="5.0" height="5.0" fill="#5FC5F0"/>
<rect x="1433.8" y="1840.0" width="5.0" height="5.0" fill="#5FC5F0"/>
<rect x="1433.8" y="1859.7" width="5.0" height="5.0" fill="#5FC5F0"/>
<rect x="1451.1" y="1849.9" width="5.0" height="5.0" fill="#5FC5F0"/>
<rect x="1451.1" y="1851.9" width="5.0" height="5.0" fill="#5FC5F0"/>
<rect x="1451.1" y="1850.5" width="5.0" height="5.0" fill="#5FC5F0"/>
<rect x="1468.3" y="1847.6" width="5.0" height="5.0" fill="#5FC5F0"/>
<rect x="1468.3" y="1870.8" width="5.0" height="5.0" fill="#5FC5F0"/>
<rect x="1468.3" y="1843.0" width="5.0" height="5.0" fill="#5FC5F0"/>
<rect x="1485.6" y="1884.0" width="5.0" height="5.0" fill="#5FC5F0"/>
<rect x="1485.6" y="1873.4" width="5.0" height="5.0" fill="#5FC5F0"/>
<rect x="1485.6" y="1861.2" width="5.0" height="5.0" fill="#5FC5F0"/>
<rect x="1502.9" y="1892.6" width="5.0" height="5.0" fill="#5FC5F0"/>
<rect x="1502.9" y="1905.5" width="5.0" height="5.0" fill="#5FC5F0"/>
<rect x="1502.9" y="1882.1" width="5.0" height="5.0" fill="#5FC5F0"/>
<rect x="1520.1" y="1927.8" width="5.0" height="5.0" fill="#5FC5F0"/>
<rect x="1520.1" y="1937.7" width="5.0" height="5.0" fill="#5FC5F0"/>
<rect x="1520.1" y="1930.2" width="5.0" height="5.0" fill="#5FC5F0"/>
<rect x="1537.4" y="1958.7" width="5.0" height="5.0" fill="#5FC5F0"/>
<rect x="1537.4" y="1951.2" width="5.0" height="5.0" fill="#5FC5F0"/>
<rect x="1537.4" y="1961.8" width="5.0" height="5.0" fill="#5FC5F0"/>
<rect x="1554.7" y="1963.4" width="5.0" height="5.0" fill="#5FC5F0"/>
<rect x="1554.7" y="1974.4" width="5.0" height="5.0" fill="#5FC5F0"/>
<rect x="1554.7" y="1960.2" width="5.0" height="5.0" fill="#5FC5F0"/>
<rect x="1572.0" y="1969.8" width="5.0" height="5.0" fill="#5FC5F0"/>
<rect x="1572.0" y="1964.6" width="5.0" height="5.0" fill="#5FC5F0"/>
<rect x="1572.0" y="1974.4" width="5.0" height="5.0" fill="#5FC5F0"/>
<line x1="1349.4" y1="1778.3" x2="1349.4" y2="1978" stroke="#000" stroke-width="2.2"/>
<line x1="1348.3" y1="1976.9" x2="1646.4" y2="1976.9" stroke="#000" stroke-width="2.2"/>
<line x1="1340.9" y1="1976.9" x2="1349.4" y2="1976.9" stroke="#000" stroke-width="2.2"/>
<text x="1337.9" y="1981.9" font-size="14.3" font-weight="bold" text-anchor="end">0</text>
<line x1="1340.9" y1="1911" x2="1349.4" y2="1911" stroke="#000" stroke-width="2.2"/>
<text x="1337.9" y="1916" font-size="14.3" font-weight="bold" text-anchor="end">50</text>
<line x1="1340.9" y1="1845.2" x2="1349.4" y2="1845.2" stroke="#000" stroke-width="2.2"/>
<text x="1337.9" y="1850.2" font-size="14.3" font-weight="bold" text-anchor="end">100</text>
<line x1="1340.9" y1="1779.3" x2="1349.4" y2="1779.3" stroke="#000" stroke-width="2.2"/>
<text x="1337.9" y="1784.3" font-size="14.3" font-weight="bold" text-anchor="end">150</text>
<line x1="1349.4" y1="1976.9" x2="1349.4" y2="1985.4" stroke="#000" stroke-width="2.2"/>
<text x="1350.4" y="2002.9" font-size="14.5" font-weight="bold" text-anchor="middle">10<tspan font-size="10.4" dy="-6">-4</tspan></text>
<line x1="1421.8" y1="1976.9" x2="1421.8" y2="1985.4" stroke="#000" stroke-width="2.2"/>
<text x="1422.8" y="2002.9" font-size="14.5" font-weight="bold" text-anchor="middle">10<tspan font-size="10.4" dy="-6">-2</tspan></text>
<line x1="1494.2" y1="1976.9" x2="1494.2" y2="1985.4" stroke="#000" stroke-width="2.2"/>
<text x="1495.2" y="2002.9" font-size="14.5" font-weight="bold" text-anchor="middle">10<tspan font-size="10.4" dy="-6">0</tspan></text>
<line x1="1566.6" y1="1976.9" x2="1566.6" y2="1985.4" stroke="#000" stroke-width="2.2"/>
<text x="1567.6" y="2002.9" font-size="14.5" font-weight="bold" text-anchor="middle">10<tspan font-size="10.4" dy="-6">2</tspan></text>
<line x1="1639" y1="1976.9" x2="1639" y2="1985.4" stroke="#000" stroke-width="2.2"/>
<text x="1640.0" y="2002.9" font-size="14.5" font-weight="bold" text-anchor="middle">10<tspan font-size="10.4" dy="-6">4</tspan></text>
<text x="1489.2" y="2027.9" font-size="19" text-anchor="middle">Concentration (nM)</text>
<text x="1305.4" y="1877.1" font-size="19.3" text-anchor="middle" transform="rotate(-90 1305.4 1877.1)">Relative Infectivity (%)</text>
<text x="1521.4" y="1780.3" font-size="26.8" font-weight="bold" text-anchor="middle">SARS-CoV-1</text>
<line x1="1691" y1="1792.7" x2="1712.5" y2="1792.7" stroke="#000" stroke-width="1.2"/>
<path d="M1699.0,1792.7L1701.8,1790.0L1704.5,1792.7L1701.8,1795.4Z" fill="#000"/>
<text x="1724" y="1798.7" font-size="19.6">ACE2 mono</text>
<line x1="1691" y1="1823.3" x2="1712.5" y2="1823.3" stroke="#5A2CA0" stroke-width="1.8"/>
<circle cx="1701.8" cy="1823.3" r="2.4" fill="#4B1F98"/>
<text x="1724" y="1829.2" font-size="19.6">T3A</text>
<line x1="1691" y1="1852.5" x2="1712.5" y2="1852.5" stroke="#1E9A98" stroke-width="1.8"/>
<path d="M1699.0,1852.5L1701.8,1849.8L1704.5,1852.5L1701.8,1855.2Z" fill="#1E9A98"/>
<text x="1724" y="1859.8" font-size="19.6" textLength="94.5" lengthAdjust="spacing">T<tspan font-size="15" dy="-6.1">D</tspan><tspan dy="6.1">3A</tspan><tspan font-size="15" dy="-6.1">D</tspan><tspan font-size="15.3" dy="11.3">R273Q</tspan></text>
<line x1="1691" y1="1887.8" x2="1712.5" y2="1887.8" stroke="#7FD4F7" stroke-width="1.8"/>
<rect x="1699.3" y="1885.4" width="4.8" height="4.8" fill="#5FC5F0"/>
<text x="1724" y="1894.5" font-size="19.6" textLength="92" lengthAdjust="spacing">T<tspan font-size="15" dy="-6.1">D</tspan><tspan dy="6.1">3A</tspan><tspan font-size="15" dy="-6.1">D</tspan><tspan font-size="15.3" dy="11.3">H345F</tspan></text>
<path d="M239.4 2172.7l1.2 .4 1.2 .4 1.2 .4 1.2 .4 1.2 .5 1.1 .4 1.2 .5 1.2 .5 1.2 .5 1.2 .5 1.2 .6 1.2 .6 1.2 .6 1.2 .6 1.2 .6 1.2 .7 1.2 .6 1.2 .7 1.2 .7 1.2 .8 1.2 .8 1.2 .7 1.2 .9 1.2 .8 1.2 .8 1.2 .9 1.2 .9 1.2 1 1.2 .9 1.1 1 1.2 1 1.2 1 1.2 1.1 1.2 1 1.2 1.1 1.2 1.2 1.2 1.1 1.2 1.2 1.2 1.1 1.2 1.3 1.2 1.2 1.2 1.2 1.2 1.3 1.2 1.3 1.2 1.3 1.2 1.3 1.2 1.3 1.2 1.3 1.2 1.4 1.2 1.4 1.2 1.3 1.2 1.4 1.1 1.4 1.2 1.4 1.2 1.4 1.2 1.4 1.2 1.4 1.2 1.4 1.2 1.4 1.2 1.4 1.2 1.4 1.2 1.4 1.2 1.4 1.2 1.4 1.2 1.4 1.2 1.3 1.2 1.4 1.2 1.3 1.2 1.4 1.2 1.3 1.2 1.3 1.2 1.2 1.2 1.3 1.2 1.3 1.2 1.2 1.2 1.2 1.1 1.2 1.2 1.1 1.2 1.2 1.2 1.1 1.2 1.1 1.2 1 1.2 1.1 1.2 1 1.2 1 1.2 1 1.2 1 1.2 .9 1.2 .9 1.2 .9 1.2 .8 1.2 .9 1.2 .8 1.2 .7 1.2 .8 1.2 .8 1.2 .7 1.2 .7 1.2 .6 1.1 .7 1.2 .6 1.2 .6 1.2 .6 1.2 .6 1.2 .5 1.2 .6 1.2 .5 1.2 .5 1.2 .5 1.2 .4 1.2 .5 1.2 .4 1.2 .4 1.2 .4 1.2 .4 1.2 .4 1.2 .3 1.2 .4 1.2 .3" fill="none" stroke="#000" stroke-width="1.2" stroke-linejoin="round"/>
<path d="M236.9,2177.5L239.4,2175.0L241.9,2177.5L239.4,2180.0Z" fill="#000"/>
<path d="M236.9,2169.4L239.4,2166.9L241.9,2169.4L239.4,2171.9Z" fill="#000"/>
<path d="M236.9,2165.2L239.4,2162.7L241.9,2165.2L239.4,2167.7Z" fill="#000"/>
<path d="M254.6,2191.5L257.1,2189.0L259.6,2191.5L257.1,2194.0Z" fill="#000"/>
<path d="M254.6,2171.1L257.1,2168.6L259.6,2171.1L257.1,2173.6Z" fill="#000"/>
<path d="M254.6,2177.1L257.1,2174.6L259.6,2177.1L257.1,2179.6Z" fill="#000"/>
<path d="M272.3,2183.4L274.8,2180.9L277.3,2183.4L274.8,2185.9Z" fill="#000"/>
<path d="M272.3,2189.1L274.8,2186.6L277.3,2189.1L274.8,2191.6Z" fill="#000"/>
<path d="M272.3,2179.3L274.8,2176.8L277.3,2179.3L274.8,2181.8Z" fill="#000"/>
<path d="M290.1,2218.4L292.6,2215.9L295.1,2218.4L292.6,2220.9Z" fill="#000"/>
<path d="M290.1,2191.5L292.6,2189.0L295.1,2191.5L292.6,2194.0Z" fill="#000"/>
<path d="M290.1,2197.2L292.6,2194.7L295.1,2197.2L292.6,2199.7Z" fill="#000"/>
<path d="M307.8,2234.6L310.3,2232.1L312.8,2234.6L310.3,2237.1Z" fill="#000"/>
<path d="M307.8,2223.8L310.3,2221.3L312.8,2223.8L310.3,2226.3Z" fill="#000"/>
<path d="M307.8,2225.7L310.3,2223.2L312.8,2225.7L310.3,2228.2Z" fill="#000"/>
<path d="M325.5,2262.0L328.0,2259.5L330.5,2262.0L328.0,2264.5Z" fill="#000"/>
<path d="M325.5,2245.0L328.0,2242.5L330.5,2245.0L328.0,2247.5Z" fill="#000"/>
<path d="M325.5,2253.6L328.0,2251.1L330.5,2253.6L328.0,2256.1Z" fill="#000"/>
<path d="M343.3,2266.7L345.8,2264.2L348.3,2266.7L345.8,2269.2Z" fill="#000"/>
<path d="M343.3,2268.9L345.8,2266.4L348.3,2268.9L345.8,2271.4Z" fill="#000"/>
<path d="M343.3,2267.8L345.8,2265.3L348.3,2267.8L345.8,2270.3Z" fill="#000"/>
<path d="M361.0,2275.5L363.5,2273.0L366.0,2275.5L363.5,2278.0Z" fill="#000"/>
<path d="M361.0,2275.3L363.5,2272.8L366.0,2275.3L363.5,2277.8Z" fill="#000"/>
<path d="M361.0,2284.5L363.5,2282.0L366.0,2284.5L363.5,2287.0Z" fill="#000"/>
<path d="M378.7,2283.7L381.2,2281.2L383.7,2283.7L381.2,2286.2Z" fill="#000"/>
<path d="M378.7,2289.3L381.2,2286.8L383.7,2289.3L381.2,2291.8Z" fill="#000"/>
<path d="M378.7,2288.9L381.2,2286.4L383.7,2288.9L381.2,2291.4Z" fill="#000"/>
<path d="M175 2160.9l1.2 .3 1.2 .2 1.2 .3 1.2 .3 1.2 .3 1.2 .3 1.2 .3 1.2 .4 1.2 .4 1.2 .5 1.2 .4 1.2 .6 1.2 .5 1.1 .6 1.2 .6 1.2 .7 1.2 .7 1.2 .8 1.2 .9 1.2 .9 1.2 .9 1.2 1 1.2 1.1 1.2 1.2 1.2 1.2 1.2 1.3 1.2 1.4 1.1 1.5 1.2 1.5 1.2 1.6 1.2 1.7 1.2 1.8 1.2 1.9 1.2 1.9 1.2 2.1 1.2 2.1 1.2 2.2 1.2 2.3 1.2 2.3 1.2 2.4 1.2 2.5 1.1 2.5 1.2 2.6 1.2 2.6 1.2 2.6 1.2 2.7 1.2 2.7 1.2 2.6 1.2 2.7 1.2 2.7 1.2 2.6 1.2 2.6 1.2 2.6 1.2 2.6 1.2 2.4 1.2 2.5 1.1 2.3 1.2 2.3 1.2 2.3 1.2 2.1 1.2 2.1 1.2 1.9 1.2 2 1.2 1.8 1.2 1.7 1.2 1.7 1.2 1.5 1.2 1.5 1.2 1.4 1.2 1.3 1.1 1.3 1.2 1.2 1.2 1.1 1.2 1 1.2 1 1.2 .9 1.2 .9 1.2 .8 1.2 .7 1.2 .7 1.2 .7 1.2 .6 1.2 .5 1.2 .6 1.1 .5 1.2 .4 1.2 .4 1.2 .4 1.2 .4 1.2 .3 1.2 .3 1.2 .3 1.2 .3 1.2 .2 1.2 .2 1.2 .3 1.2 .2 1.2 .1 1.1 .2 1.2 .2 1.2 .1 1.2 .1 1.2 .1 1.2 .2 1.2 .1 1.2 .1 1.2 0 1.2 .1 1.2 .1 1.2 .1 1.2 0 1.2 .1 1.1 .1 1.2 0 1.2 0 1.2 .1 1.2 0 1.2 .1 1.2 0" fill="none" stroke="#FF5C8A" stroke-width="1.6" stroke-linejoin="round"/>
<circle cx="175.0" cy="2143.2" r="2.5" fill="#F4487A"/>
<circle cx="175.0" cy="2146.3" r="2.5" fill="#F4487A"/>
<circle cx="175.0" cy="2161.4" r="2.5" fill="#F4487A"/>
<circle cx="192.8" cy="2154.5" r="2.5" fill="#F4487A"/>
<circle cx="192.8" cy="2179.2" r="2.5" fill="#F4487A"/>
<circle cx="192.8" cy="2201.5" r="2.5" fill="#F4487A"/>
<circle cx="210.5" cy="2154.0" r="2.5" fill="#F4487A"/>
<circle cx="210.5" cy="2174.9" r="2.5" fill="#F4487A"/>
<circle cx="210.5" cy="2219.0" r="2.5" fill="#F4487A"/>
<circle cx="228.2" cy="2231.0" r="2.5" fill="#F4487A"/>
<circle cx="228.2" cy="2224.8" r="2.5" fill="#F4487A"/>
<circle cx="228.2" cy="2211.2" r="2.5" fill="#F4487A"/>
<circle cx="246.0" cy="2239.7" r="2.5" fill="#F4487A"/>
<circle cx="246.0" cy="2250.4" r="2.5" fill="#F4487A"/>
<circle cx="246.0" cy="2258.2" r="2.5" fill="#F4487A"/>
<circle cx="263.7" cy="2272.8" r="2.5" fill="#F4487A"/>
<circle cx="263.7" cy="2278.5" r="2.5" fill="#F4487A"/>
<circle cx="263.7" cy="2275.1" r="2.5" fill="#F4487A"/>
<circle cx="281.4" cy="2290.2" r="2.5" fill="#F4487A"/>
<circle cx="281.4" cy="2290.2" r="2.5" fill="#F4487A"/>
<circle cx="281.4" cy="2276.4" r="2.5" fill="#F4487A"/>
<circle cx="299.2" cy="2290.2" r="2.5" fill="#F4487A"/>
<circle cx="299.2" cy="2288.0" r="2.5" fill="#F4487A"/>
<circle cx="299.2" cy="2290.2" r="2.5" fill="#F4487A"/>
<circle cx="316.9" cy="2290.2" r="2.5" fill="#F4487A"/>
<circle cx="316.9" cy="2290.2" r="2.5" fill="#F4487A"/>
<circle cx="316.9" cy="2285.2" r="2.5" fill="#F4487A"/>
<path d="M175 2169.7l1.2 .6 1.2 .7 1.2 .7 1.2 .7 1.2 .8 1.2 .8 1.2 .8 1.2 .9 1.2 .9 1.2 .9 1.2 1 1.2 1.1 1.2 1 1.1 1.1 1.2 1.2 1.2 1.2 1.2 1.3 1.2 1.3 1.2 1.3 1.2 1.4 1.2 1.4 1.2 1.5 1.2 1.5 1.2 1.6 1.2 1.6 1.2 1.6 1.2 1.7 1.1 1.7 1.2 1.7 1.2 1.8 1.2 1.8 1.2 1.8 1.2 1.9 1.2 1.9 1.2 1.9 1.2 1.9 1.2 1.9 1.2 2 1.2 1.9 1.2 2 1.2 1.9 1.1 2 1.2 1.9 1.2 1.9 1.2 2 1.2 1.9 1.2 1.8 1.2 1.9 1.2 1.8 1.2 1.8 1.2 1.8 1.2 1.7 1.2 1.7 1.2 1.7 1.2 1.6 1.2 1.6 1.1 1.5 1.2 1.5 1.2 1.5 1.2 1.4 1.2 1.4 1.2 1.3 1.2 1.3 1.2 1.3 1.2 1.1 1.2 1.2 1.2 1.1 1.2 1.1 1.2 1 1.2 1 1.1 .9 1.2 .9 1.2 .9 1.2 .8 1.2 .8 1.2 .8 1.2 .7 1.2 .7 1.2 .6 1.2 .6 1.2 .6 1.2 .6 1.2 .5 1.2 .6 1.1 .4 1.2 .5 1.2 .4 1.2 .5 1.2 .4 1.2 .3 1.2 .4 1.2 .3 1.2 .3 1.2 .3 1.2 .3 1.2 .3 1.2 .2 1.2 .3 1.1 .2 1.2 .2 1.2 .2 1.2 .2 1.2 .2 1.2 .2 1.2 .2 1.2 .1 1.2 .2 1.2 .1 1.2 .1 1.2 .1 1.2 .2 1.2 .1 1.1 .1 1.2 .1 1.2 .1 1.2 .1 1.2 0 1.2 .1 1.2 .1" fill="none" stroke="#1E9A98" stroke-width="1.6" stroke-linejoin="round"/>
<path d="M172.3,2160.2L177.8,2160.2L175.0,2165.0Z" fill="#1E9A98"/>
<path d="M172.3,2178.2L177.8,2178.2L175.0,2182.9Z" fill="#1E9A98"/>
<path d="M172.3,2156.7L177.8,2156.7L175.0,2161.4Z" fill="#1E9A98"/>
<path d="M190.0,2180.0L195.5,2180.0L192.8,2184.8Z" fill="#1E9A98"/>
<path d="M190.0,2208.1L195.5,2208.1L192.8,2212.8Z" fill="#1E9A98"/>
<path d="M190.0,2163.3L195.5,2163.3L192.8,2168.1Z" fill="#1E9A98"/>
<path d="M207.8,2204.5L213.3,2204.5L210.5,2209.3Z" fill="#1E9A98"/>
<path d="M207.8,2193.6L213.3,2193.6L210.5,2198.3Z" fill="#1E9A98"/>
<path d="M207.8,2175.0L213.3,2175.0L210.5,2179.8Z" fill="#1E9A98"/>
<path d="M225.5,2228.0L231.0,2228.0L228.2,2232.8Z" fill="#1E9A98"/>
<path d="M225.5,2244.8L231.0,2244.8L228.2,2249.5Z" fill="#1E9A98"/>
<path d="M225.5,2239.9L231.0,2239.9L228.2,2244.6Z" fill="#1E9A98"/>
<path d="M243.2,2246.5L248.7,2246.5L246.0,2251.2Z" fill="#1E9A98"/>
<path d="M243.2,2271.2L248.7,2271.2L246.0,2276.0Z" fill="#1E9A98"/>
<path d="M243.2,2254.0L248.7,2254.0L246.0,2258.8Z" fill="#1E9A98"/>
<path d="M261.0,2269.8L266.5,2269.8L263.7,2274.6Z" fill="#1E9A98"/>
<path d="M261.0,2282.6L266.5,2282.6L263.7,2287.4Z" fill="#1E9A98"/>
<path d="M261.0,2271.5L266.5,2271.5L263.7,2276.3Z" fill="#1E9A98"/>
<path d="M278.7,2277.2L284.2,2277.2L281.4,2281.9Z" fill="#1E9A98"/>
<path d="M278.7,2287.3L284.2,2287.3L281.4,2292.0Z" fill="#1E9A98"/>
<path d="M278.7,2285.1L284.2,2285.1L281.4,2289.8Z" fill="#1E9A98"/>
<path d="M296.4,2281.4L301.9,2281.4L299.2,2286.1Z" fill="#1E9A98"/>
<path d="M296.4,2288.2L301.9,2288.2L299.2,2292.9Z" fill="#1E9A98"/>
<path d="M296.4,2288.2L301.9,2288.2L299.2,2292.9Z" fill="#1E9A98"/>
<path d="M314.1,2280.3L319.6,2280.3L316.9,2285.0Z" fill="#1E9A98"/>
<path d="M314.1,2286.4L319.6,2286.4L316.9,2291.1Z" fill="#1E9A98"/>
<path d="M314.1,2288.2L319.6,2288.2L316.9,2292.9Z" fill="#1E9A98"/>
<path d="M175 2160.1l1.2 .1 1.2 .2 1.2 .2 1.2 .2 1.2 .2 1.2 .3 1.2 .3 1.2 .3 1.2 .3 1.2 .3 1.2 .4 1.2 .4 1.2 .5 1.1 .5 1.2 .5 1.2 .6 1.2 .6 1.2 .7 1.2 .7 1.2 .8 1.2 .8 1.2 .9 1.2 1 1.2 1.1 1.2 1.1 1.2 1.2 1.2 1.3 1.1 1.4 1.2 1.5 1.2 1.5 1.2 1.7 1.2 1.7 1.2 1.9 1.2 2 1.2 2 1.2 2.2 1.2 2.2 1.2 2.4 1.2 2.4 1.2 2.5 1.2 2.6 1.1 2.7 1.2 2.7 1.2 2.8 1.2 2.9 1.2 2.9 1.2 2.9 1.2 2.9 1.2 2.9 1.2 2.9 1.2 2.9 1.2 2.9 1.2 2.8 1.2 2.8 1.2 2.7 1.2 2.7 1.1 2.5 1.2 2.5 1.2 2.4 1.2 2.3 1.2 2.2 1.2 2.1 1.2 2.1 1.2 1.9 1.2 1.8 1.2 1.7 1.2 1.6 1.2 1.5 1.2 1.5 1.2 1.3 1.1 1.3 1.2 1.2 1.2 1 1.2 1.1 1.2 .9 1.2 .9 1.2 .8 1.2 .8 1.2 .7 1.2 .6 1.2 .6 1.2 .6 1.2 .5 1.2 .5 1.1 .4 1.2 .4 1.2 .4 1.2 .3 1.2 .3 1.2 .3 1.2 .3 1.2 .2 1.2 .2 1.2 .3 1.2 .1 1.2 .2 1.2 .2 1.2 .1 1.1 .1 1.2 .2 1.2 .1 1.2 .1 1.2 .1 1.2 .1 1.2 0 1.2 .1 1.2 .1 1.2 0 1.2 .1 1.2 0 1.2 .1 1.2 0 1.1 .1 1.2 0 1.2 0 1.2 .1 1.2 0 1.2 0 1.2 .1" fill="none" stroke="#3F1C80" stroke-width="1.6" stroke-linejoin="round"/>
<circle cx="175.0" cy="2161.0" r="2.5" fill="#3F1C80"/>
<circle cx="175.0" cy="2189.7" r="2.5" fill="#3F1C80"/>
<circle cx="175.0" cy="2099.5" r="2.5" fill="#3F1C80"/>
<circle cx="192.8" cy="2153.7" r="2.5" fill="#3F1C80"/>
<circle cx="192.8" cy="2149.9" r="2.5" fill="#3F1C80"/>
<circle cx="192.8" cy="2169.5" r="2.5" fill="#3F1C80"/>
<circle cx="210.5" cy="2178.4" r="2.5" fill="#3F1C80"/>
<circle cx="210.5" cy="2172.4" r="2.5" fill="#3F1C80"/>
<circle cx="210.5" cy="2175.4" r="2.5" fill="#3F1C80"/>
<circle cx="228.2" cy="2224.0" r="2.5" fill="#3F1C80"/>
<circle cx="228.2" cy="2202.9" r="2.5" fill="#3F1C80"/>
<circle cx="228.2" cy="2205.0" r="2.5" fill="#3F1C80"/>
<circle cx="246.0" cy="2255.9" r="2.5" fill="#3F1C80"/>
<circle cx="246.0" cy="2263.5" r="2.5" fill="#3F1C80"/>
<circle cx="246.0" cy="2265.5" r="2.5" fill="#3F1C80"/>
<circle cx="263.7" cy="2288.1" r="2.5" fill="#3F1C80"/>
<circle cx="263.7" cy="2275.6" r="2.5" fill="#3F1C80"/>
<circle cx="263.7" cy="2281.7" r="2.5" fill="#3F1C80"/>
<circle cx="281.4" cy="2279.2" r="2.5" fill="#3F1C80"/>
<circle cx="281.4" cy="2290.2" r="2.5" fill="#3F1C80"/>
<circle cx="281.4" cy="2280.5" r="2.5" fill="#3F1C80"/>
<circle cx="299.2" cy="2289.0" r="2.5" fill="#3F1C80"/>
<circle cx="299.2" cy="2290.2" r="2.5" fill="#3F1C80"/>
<circle cx="299.2" cy="2280.5" r="2.5" fill="#3F1C80"/>
<circle cx="316.9" cy="2288.7" r="2.5" fill="#3F1C80"/>
<circle cx="316.9" cy="2283.4" r="2.5" fill="#3F1C80"/>
<circle cx="316.9" cy="2280.8" r="2.5" fill="#3F1C80"/>
<path d="M175 2164.2l1.2 .4 1.2 .5 1.2 .4 1.2 .6 1.2 .5 1.2 .6 1.2 .7 1.2 .6 1.2 .8 1.2 .7 1.2 .9 1.2 .8 1.2 .9 1.1 1 1.2 1 1.2 1.1 1.2 1.2 1.2 1.2 1.2 1.3 1.2 1.3 1.2 1.4 1.2 1.5 1.2 1.6 1.2 1.6 1.2 1.7 1.2 1.7 1.2 1.8 1.1 1.9 1.2 2 1.2 2 1.2 2.1 1.2 2.1 1.2 2.2 1.2 2.3 1.2 2.2 1.2 2.4 1.2 2.3 1.2 2.4 1.2 2.4 1.2 2.4 1.2 2.5 1.1 2.4 1.2 2.5 1.2 2.4 1.2 2.4 1.2 2.4 1.2 2.3 1.2 2.3 1.2 2.3 1.2 2.3 1.2 2.1 1.2 2.2 1.2 2 1.2 2 1.2 2 1.2 1.9 1.1 1.8 1.2 1.7 1.2 1.7 1.2 1.6 1.2 1.6 1.2 1.4 1.2 1.4 1.2 1.4 1.2 1.2 1.2 1.2 1.2 1.2 1.2 1.1 1.2 1 1.2 1 1.1 .9 1.2 .8 1.2 .8 1.2 .8 1.2 .7 1.2 .7 1.2 .6 1.2 .6 1.2 .6 1.2 .5 1.2 .5 1.2 .4 1.2 .5 1.2 .4 1.1 .3 1.2 .4 1.2 .3 1.2 .3 1.2 .3 1.2 .3 1.2 .2 1.2 .2 1.2 .2 1.2 .2 1.2 .2 1.2 .2 1.2 .2 1.2 .1 1.1 .2 1.2 .1 1.2 .1 1.2 .1 1.2 .1 1.2 .1 1.2 .1 1.2 .1 1.2 .1 1.2 0 1.2 .1 1.2 .1 1.2 0 1.2 .1 1.1 0 1.2 .1 1.2 0 1.2 .1 1.2 0 1.2 0 1.2 .1" fill="none" stroke="#B888FF" stroke-width="1.6" stroke-linejoin="round"/>
<rect x="172.5" y="2183.5" width="5.0" height="5.0" fill="#A56CF5"/>
<rect x="172.5" y="2146.8" width="5.0" height="5.0" fill="#A56CF5"/>
<rect x="172.5" y="2139.6" width="5.0" height="5.0" fill="#A56CF5"/>
<rect x="190.3" y="2158.6" width="5.0" height="5.0" fill="#A56CF5"/>
<rect x="190.3" y="2145.6" width="5.0" height="5.0" fill="#A56CF5"/>
<rect x="190.3" y="2171.9" width="5.0" height="5.0" fill="#A56CF5"/>
<rect x="208.0" y="2217.6" width="5.0" height="5.0" fill="#A56CF5"/>
<rect x="208.0" y="2195.8" width="5.0" height="5.0" fill="#A56CF5"/>
<rect x="208.0" y="2187.1" width="5.0" height="5.0" fill="#A56CF5"/>
<rect x="225.7" y="2224.2" width="5.0" height="5.0" fill="#A56CF5"/>
<rect x="225.7" y="2237.0" width="5.0" height="5.0" fill="#A56CF5"/>
<rect x="225.7" y="2255.4" width="5.0" height="5.0" fill="#A56CF5"/>
<rect x="243.5" y="2240.0" width="5.0" height="5.0" fill="#A56CF5"/>
<rect x="243.5" y="2260.2" width="5.0" height="5.0" fill="#A56CF5"/>
<rect x="243.5" y="2255.7" width="5.0" height="5.0" fill="#A56CF5"/>
<rect x="261.2" y="2282.1" width="5.0" height="5.0" fill="#A56CF5"/>
<rect x="261.2" y="2283.6" width="5.0" height="5.0" fill="#A56CF5"/>
<rect x="261.2" y="2271.9" width="5.0" height="5.0" fill="#A56CF5"/>
<rect x="278.9" y="2277.0" width="5.0" height="5.0" fill="#A56CF5"/>
<rect x="278.9" y="2287.7" width="5.0" height="5.0" fill="#A56CF5"/>
<rect x="278.9" y="2287.7" width="5.0" height="5.0" fill="#A56CF5"/>
<rect x="296.7" y="2287.7" width="5.0" height="5.0" fill="#A56CF5"/>
<rect x="296.7" y="2287.7" width="5.0" height="5.0" fill="#A56CF5"/>
<rect x="296.7" y="2287.7" width="5.0" height="5.0" fill="#A56CF5"/>
<rect x="314.4" y="2287.7" width="5.0" height="5.0" fill="#A56CF5"/>
<rect x="314.4" y="2287.7" width="5.0" height="5.0" fill="#A56CF5"/>
<rect x="314.4" y="2272.3" width="5.0" height="5.0" fill="#A56CF5"/>
<path d="M175 2187.3l1.2 1 1.2 1.1 1.2 1.2 1.2 1.2 1.2 1.3 1.2 1.3 1.2 1.4 1.2 1.4 1.2 1.5 1.2 1.5 1.2 1.5 1.2 1.7 1.2 1.6 1.1 1.7 1.2 1.8 1.2 1.8 1.2 1.8 1.2 1.9 1.2 1.9 1.2 1.9 1.2 2 1.2 2 1.2 2 1.2 2 1.2 2 1.2 2 1.2 2 1.1 2 1.2 2 1.2 2 1.2 2 1.2 1.9 1.2 2 1.2 1.9 1.2 1.8 1.2 1.8 1.2 1.8 1.2 1.8 1.2 1.7 1.2 1.6 1.2 1.6 1.1 1.6 1.2 1.5 1.2 1.5 1.2 1.4 1.2 1.3 1.2 1.3 1.2 1.3 1.2 1.2 1.2 1.1 1.2 1.1 1.2 1.1 1.2 1 1.2 .9 1.2 .9 1.2 .9 1.1 .8 1.2 .8 1.2 .7 1.2 .7 1.2 .7 1.2 .6 1.2 .6 1.2 .6 1.2 .5 1.2 .5 1.2 .5 1.2 .5 1.2 .4 1.2 .4 1.1 .4 1.2 .3 1.2 .3 1.2 .4 1.2 .3 1.2 .2 1.2 .3 1.2 .2 1.2 .3 1.2 .2 1.2 .2 1.2 .2 1.2 .1 1.2 .2 1.1 .2 1.2 .1 1.2 .2 1.2 .1 1.2 .1 1.2 .1 1.2 .1 1.2 .1 1.2 .1 1.2 .1 1.2 .1 1.2 .1 1.2 0 1.2 .1 1.1 .1 1.2 0 1.2 .1 1.2 0 1.2 .1 1.2 0 1.2 .1 1.2 0 1.2 .1 1.2 0 1.2 0 1.2 .1 1.2 0 1.2 0 1.1 0 1.2 .1 1.2 0 1.2 0 1.2 0 1.2 0 1.2 .1" fill="none" stroke="#7FD4F7" stroke-width="1.6" stroke-linejoin="round"/>
<path d="M172.3,2208.1L177.8,2208.1L175.0,2203.3Z" fill="#6CCCF2"/>
<path d="M172.3,2194.1L177.8,2194.1L175.0,2189.4Z" fill="#6CCCF2"/>
<path d="M172.3,2193.7L177.8,2193.7L175.0,2189.0Z" fill="#6CCCF2"/>
<path d="M190.0,2213.8L195.5,2213.8L192.8,2209.0Z" fill="#6CCCF2"/>
<path d="M190.0,2193.6L195.5,2193.6L192.8,2188.8Z" fill="#6CCCF2"/>
<path d="M190.0,2208.3L195.5,2208.3L192.8,2203.5Z" fill="#6CCCF2"/>
<path d="M207.8,2234.9L213.3,2234.9L210.5,2230.2Z" fill="#6CCCF2"/>
<path d="M207.8,2239.2L213.3,2239.2L210.5,2234.5Z" fill="#6CCCF2"/>
<path d="M207.8,2250.1L213.3,2250.1L210.5,2245.4Z" fill="#6CCCF2"/>
<path d="M225.5,2263.4L231.0,2263.4L228.2,2258.7Z" fill="#6CCCF2"/>
<path d="M225.5,2258.1L231.0,2258.1L228.2,2253.4Z" fill="#6CCCF2"/>
<path d="M225.5,2264.0L231.0,2264.0L228.2,2259.2Z" fill="#6CCCF2"/>
<path d="M243.2,2284.9L248.7,2284.9L246.0,2280.1Z" fill="#6CCCF2"/>
<path d="M243.2,2290.3L248.7,2290.3L246.0,2285.6Z" fill="#6CCCF2"/>
<path d="M243.2,2267.4L248.7,2267.4L246.0,2262.6Z" fill="#6CCCF2"/>
<path d="M261.0,2292.2L266.5,2292.2L263.7,2287.4Z" fill="#6CCCF2"/>
<path d="M261.0,2292.2L266.5,2292.2L263.7,2287.4Z" fill="#6CCCF2"/>
<path d="M261.0,2292.2L266.5,2292.2L263.7,2287.4Z" fill="#6CCCF2"/>
<path d="M278.7,2288.2L284.2,2288.2L281.4,2283.5Z" fill="#6CCCF2"/>
<path d="M278.7,2289.7L284.2,2289.7L281.4,2284.9Z" fill="#6CCCF2"/>
<path d="M278.7,2292.2L284.2,2292.2L281.4,2287.4Z" fill="#6CCCF2"/>
<path d="M296.4,2292.2L301.9,2292.2L299.2,2287.4Z" fill="#6CCCF2"/>
<path d="M296.4,2290.2L301.9,2290.2L299.2,2285.4Z" fill="#6CCCF2"/>
<path d="M296.4,2292.2L301.9,2292.2L299.2,2287.4Z" fill="#6CCCF2"/>
<path d="M314.1,2292.2L319.6,2292.2L316.9,2287.4Z" fill="#6CCCF2"/>
<path d="M314.1,2292.2L319.6,2292.2L316.9,2287.4Z" fill="#6CCCF2"/>
<path d="M314.1,2290.5L319.6,2290.5L316.9,2285.7Z" fill="#6CCCF2"/>
<line x1="116.7" y1="2091.3" x2="116.7" y2="2291.3" stroke="#000" stroke-width="2.2"/>
<line x1="115.6" y1="2290.2" x2="415.1" y2="2290.2" stroke="#000" stroke-width="2.2"/>
<line x1="108.2" y1="2290.2" x2="116.7" y2="2290.2" stroke="#000" stroke-width="2.2"/>
<text x="105.2" y="2295.2" font-size="14.3" font-weight="bold" text-anchor="end">0</text>
<line x1="108.2" y1="2224.2" x2="116.7" y2="2224.2" stroke="#000" stroke-width="2.2"/>
<text x="105.2" y="2229.2" font-size="14.3" font-weight="bold" text-anchor="end">50</text>
<line x1="108.2" y1="2158.3" x2="116.7" y2="2158.3" stroke="#000" stroke-width="2.2"/>
<text x="105.2" y="2163.3" font-size="14.3" font-weight="bold" text-anchor="end">100</text>
<line x1="108.2" y1="2092.3" x2="116.7" y2="2092.3" stroke="#000" stroke-width="2.2"/>
<text x="105.2" y="2097.3" font-size="14.3" font-weight="bold" text-anchor="end">150</text>
<line x1="116.7" y1="2290.2" x2="116.7" y2="2298.7" stroke="#000" stroke-width="2.2"/>
<text x="117.7" y="2316.2" font-size="14.5" font-weight="bold" text-anchor="middle">10<tspan font-size="10.4" dy="-6">-4</tspan></text>
<line x1="191" y1="2290.2" x2="191" y2="2298.7" stroke="#000" stroke-width="2.2"/>
<text x="192.0" y="2316.2" font-size="14.5" font-weight="bold" text-anchor="middle">10<tspan font-size="10.4" dy="-6">-2</tspan></text>
<line x1="265.4" y1="2290.2" x2="265.4" y2="2298.7" stroke="#000" stroke-width="2.2"/>
<text x="266.4" y="2316.2" font-size="14.5" font-weight="bold" text-anchor="middle">10<tspan font-size="10.4" dy="-6">0</tspan></text>
<line x1="339.7" y1="2290.2" x2="339.7" y2="2298.7" stroke="#000" stroke-width="2.2"/>
<text x="340.7" y="2316.2" font-size="14.5" font-weight="bold" text-anchor="middle">10<tspan font-size="10.4" dy="-6">2</tspan></text>
<line x1="414" y1="2290.2" x2="414" y2="2298.7" stroke="#000" stroke-width="2.2"/>
<text x="415.0" y="2316.2" font-size="14.5" font-weight="bold" text-anchor="middle">10<tspan font-size="10.4" dy="-6">4</tspan></text>
<text x="260.4" y="2341.2" font-size="19" text-anchor="middle">Concentration (nM)</text>
<text x="72.7" y="2190.2" font-size="19.3" text-anchor="middle" transform="rotate(-90 72.7 2190.2)">Relative Infectivity (%)</text>
<text x="292.6" y="2098" font-size="26.8" font-weight="bold" text-anchor="middle">Omicron BA.1</text>
<line x1="434" y1="2105" x2="480.6" y2="2105" stroke="#000" stroke-width="1.2"/>
<path d="M454.6,2105.0L457.3,2102.3L460.0,2105.0L457.3,2107.7Z" fill="#000"/>
<text x="491.6" y="2110.6" font-size="19">ACE2 Mono</text>
<line x1="434" y1="2133.1" x2="480.6" y2="2133.1" stroke="#FF5C8A" stroke-width="1.8"/>
<circle cx="457.3" cy="2133.1" r="2.4" fill="#F4487A"/>
<text x="491.6" y="2138.7" font-size="19">T0A</text>
<line x1="434" y1="2160.9" x2="480.6" y2="2160.9" stroke="#1E9A98" stroke-width="1.8"/>
<path d="M454.7,2159.0L459.9,2159.0L457.3,2163.5Z" fill="#1E9A98"/>
<text x="491.6" y="2166.5" font-size="19">T1A</text>
<line x1="434" y1="2188.6" x2="480.6" y2="2188.6" stroke="#3F1C80" stroke-width="1.8"/>
<circle cx="457.3" cy="2188.6" r="2.4" fill="#3F1C80"/>
<text x="491.6" y="2194.2" font-size="19">T3A</text>
<line x1="434" y1="2216" x2="480.6" y2="2216" stroke="#B888FF" stroke-width="1.8"/>
<rect x="454.9" y="2213.6" width="4.8" height="4.8" fill="#A56CF5"/>
<text x="491.6" y="2221.6" font-size="19">T5A</text>
<line x1="434" y1="2243.8" x2="480.6" y2="2243.8" stroke="#7FD4F7" stroke-width="1.8"/>
<path d="M454.7,2245.7L459.9,2245.7L457.3,2241.2Z" fill="#6CCCF2"/>
<text x="491.6" y="2249.4" font-size="19">T18A</text>
<path d="M760.4 2166.6l1.3 .3 1.3 .3 1.4 .3 1.3 .4 1.4 .4 1.3 .4 1.3 .4 1.4 .5 1.3 .5 1.4 .6 1.3 .5 1.3 .7 1.4 .7 1.3 .7 1.4 .8 1.3 .9 1.4 .9 1.3 .9 1.3 1.1 1.4 1.1 1.3 1.2 1.4 1.2 1.3 1.4 1.3 1.4 1.4 1.5 1.3 1.6 1.4 1.7 1.3 1.7 1.4 1.9 1.3 1.9 1.3 2 1.4 2.1 1.3 2.2 1.4 2.3 1.3 2.4 1.3 2.4 1.4 2.5 1.3 2.6 1.4 2.6 1.3 2.7 1.4 2.7 1.3 2.7 1.3 2.8 1.4 2.7 1.3 2.8 1.4 2.8 1.3 2.7 1.3 2.7 1.4 2.7 1.3 2.7 1.4 2.5 1.3 2.6 1.3 2.5 1.4 2.4 1.3 2.3 1.4 2.2 1.3 2.2 1.4 2.1 1.3 1.9 1.3 1.9 1.4 1.9 1.3 1.7 1.4 1.6 1.3 1.6 1.3 1.4 1.4 1.4 1.3 1.3 1.4 1.2 1.3 1.2 1.4 1.1 1.3 1 1.3 .9 1.4 .9 1.3 .8 1.4 .8 1.3 .7 1.3 .7 1.4 .6 1.3 .6 1.4 .5 1.3 .5 1.4 .5 1.3 .4 1.3 .4 1.4 .3 1.3 .4 1.4 .3 1.3 .3 1.3 .3 1.4 .2 1.3 .2 1.4 .2 1.3 .2 1.4 .2 1.3 .2 1.3 .1 1.4 .2 1.3 .1 1.4 .1 1.3 .1 1.3 .1 1.4 .1 1.3 .1 1.4 .1 1.3 .1 1.3 0 1.4 .1 1.3 0 1.4 .1 1.3 0 1.4 .1 1.3 0 1.3 .1 1.4 0 1.3 0 1.4 .1 1.3 0 1.3 0 1.4 0" fill="none" stroke="#5A2CA0" stroke-width="1.6" stroke-linejoin="round"/>
<circle cx="760.4" cy="2182.9" r="2.5" fill="#4B1F98"/>
<circle cx="760.4" cy="2163.1" r="2.5" fill="#4B1F98"/>
<circle cx="760.4" cy="2166.7" r="2.5" fill="#4B1F98"/>
<circle cx="778.1" cy="2166.3" r="2.5" fill="#4B1F98"/>
<circle cx="778.1" cy="2189.7" r="2.5" fill="#4B1F98"/>
<circle cx="778.1" cy="2158.5" r="2.5" fill="#4B1F98"/>
<circle cx="795.8" cy="2186.8" r="2.5" fill="#4B1F98"/>
<circle cx="795.8" cy="2201.8" r="2.5" fill="#4B1F98"/>
<circle cx="795.8" cy="2204.0" r="2.5" fill="#4B1F98"/>
<circle cx="813.5" cy="2230.2" r="2.5" fill="#4B1F98"/>
<circle cx="813.5" cy="2224.3" r="2.5" fill="#4B1F98"/>
<circle cx="813.5" cy="2205.5" r="2.5" fill="#4B1F98"/>
<circle cx="831.2" cy="2245.9" r="2.5" fill="#4B1F98"/>
<circle cx="831.2" cy="2256.8" r="2.5" fill="#4B1F98"/>
<circle cx="831.2" cy="2256.9" r="2.5" fill="#4B1F98"/>
<circle cx="848.9" cy="2266.3" r="2.5" fill="#4B1F98"/>
<circle cx="848.9" cy="2272.5" r="2.5" fill="#4B1F98"/>
<circle cx="848.9" cy="2282.6" r="2.5" fill="#4B1F98"/>
<circle cx="866.6" cy="2290.5" r="2.5" fill="#4B1F98"/>
<circle cx="866.6" cy="2291.9" r="2.5" fill="#4B1F98"/>
<circle cx="866.6" cy="2288.9" r="2.5" fill="#4B1F98"/>
<circle cx="884.3" cy="2289.9" r="2.5" fill="#4B1F98"/>
<circle cx="884.3" cy="2295.6" r="2.5" fill="#4B1F98"/>
<circle cx="884.3" cy="2292.4" r="2.5" fill="#4B1F98"/>
<circle cx="902.1" cy="2293.1" r="2.5" fill="#4B1F98"/>
<circle cx="902.1" cy="2292.0" r="2.5" fill="#4B1F98"/>
<circle cx="902.1" cy="2296.6" r="2.5" fill="#4B1F98"/>
<path d="M760.4 2170.4l1.3 .4 1.3 .6 1.4 .5 1.3 .6 1.4 .6 1.3 .7 1.3 .7 1.4 .8 1.3 .8 1.4 .9 1.3 1 1.3 1 1.4 1.1 1.3 1.2 1.4 1.2 1.3 1.3 1.4 1.4 1.3 1.5 1.3 1.6 1.4 1.6 1.3 1.7 1.4 1.9 1.3 1.9 1.3 2 1.4 2.1 1.3 2.1 1.4 2.3 1.3 2.3 1.4 2.4 1.3 2.5 1.3 2.5 1.4 2.6 1.3 2.6 1.4 2.7 1.3 2.7 1.3 2.7 1.4 2.8 1.3 2.7 1.4 2.8 1.3 2.7 1.4 2.7 1.3 2.6 1.3 2.7 1.4 2.5 1.3 2.5 1.4 2.5 1.3 2.4 1.3 2.3 1.4 2.2 1.3 2.2 1.4 2 1.3 2 1.3 1.9 1.4 1.8 1.3 1.7 1.4 1.6 1.3 1.6 1.4 1.4 1.3 1.4 1.3 1.3 1.4 1.2 1.3 1.2 1.4 1 1.3 1 1.3 1 1.4 .9 1.3 .8 1.4 .7 1.3 .8 1.4 .6 1.3 .6 1.3 .6 1.4 .5 1.3 .5 1.4 .5 1.3 .4 1.3 .4 1.4 .4 1.3 .3 1.4 .3 1.3 .3 1.4 .3 1.3 .2 1.3 .2 1.4 .2 1.3 .2 1.4 .2 1.3 .2 1.3 .1 1.4 .2 1.3 .1 1.4 .1 1.3 .1 1.4 .1 1.3 .1 1.3 .1 1.4 .1 1.3 .1 1.4 0 1.3 .1 1.3 0 1.4 .1 1.3 0 1.4 .1 1.3 0 1.3 .1 1.4 0 1.3 0 1.4 .1 1.3 0 1.4 0 1.3 0 1.3 .1 1.4 0 1.3 0 1.4 0 1.3 0 1.3 0 1.4 .1" fill="none" stroke="#7FD4F7" stroke-width="1.6" stroke-linejoin="round"/>
<rect x="757.9" y="2163.1" width="5.0" height="5.0" fill="#5FC5F0"/>
<rect x="757.9" y="2184.1" width="5.0" height="5.0" fill="#5FC5F0"/>
<rect x="757.9" y="2156.2" width="5.0" height="5.0" fill="#5FC5F0"/>
<rect x="775.6" y="2163.9" width="5.0" height="5.0" fill="#5FC5F0"/>
<rect x="775.6" y="2206.7" width="5.0" height="5.0" fill="#5FC5F0"/>
<rect x="775.6" y="2197.1" width="5.0" height="5.0" fill="#5FC5F0"/>
<rect x="793.3" y="2198.4" width="5.0" height="5.0" fill="#5FC5F0"/>
<rect x="793.3" y="2204.2" width="5.0" height="5.0" fill="#5FC5F0"/>
<rect x="793.3" y="2200.3" width="5.0" height="5.0" fill="#5FC5F0"/>
<rect x="811.0" y="2243.2" width="5.0" height="5.0" fill="#5FC5F0"/>
<rect x="811.0" y="2225.2" width="5.0" height="5.0" fill="#5FC5F0"/>
<rect x="811.0" y="2226.3" width="5.0" height="5.0" fill="#5FC5F0"/>
<rect x="828.7" y="2265.0" width="5.0" height="5.0" fill="#5FC5F0"/>
<rect x="828.7" y="2256.6" width="5.0" height="5.0" fill="#5FC5F0"/>
<rect x="828.7" y="2261.8" width="5.0" height="5.0" fill="#5FC5F0"/>
<rect x="846.4" y="2288.6" width="5.0" height="5.0" fill="#5FC5F0"/>
<rect x="846.4" y="2280.6" width="5.0" height="5.0" fill="#5FC5F0"/>
<rect x="846.4" y="2289.3" width="5.0" height="5.0" fill="#5FC5F0"/>
<rect x="864.1" y="2284.9" width="5.0" height="5.0" fill="#5FC5F0"/>
<rect x="864.1" y="2290.5" width="5.0" height="5.0" fill="#5FC5F0"/>
<rect x="864.1" y="2291.3" width="5.0" height="5.0" fill="#5FC5F0"/>
<rect x="881.8" y="2294.1" width="5.0" height="5.0" fill="#5FC5F0"/>
<rect x="881.8" y="2285.7" width="5.0" height="5.0" fill="#5FC5F0"/>
<rect x="881.8" y="2293.7" width="5.0" height="5.0" fill="#5FC5F0"/>
<rect x="899.6" y="2294.1" width="5.0" height="5.0" fill="#5FC5F0"/>
<rect x="899.6" y="2294.1" width="5.0" height="5.0" fill="#5FC5F0"/>
<rect x="899.6" y="2290.6" width="5.0" height="5.0" fill="#5FC5F0"/>
<path d="M760.4 2165.7l1.3 .2 1.3 .2 1.4 .2 1.3 .2 1.4 .2 1.3 .3 1.3 .2 1.4 .3 1.3 .3 1.4 .4 1.3 .3 1.3 .4 1.4 .4 1.3 .4 1.4 .5 1.3 .5 1.4 .6 1.3 .5 1.3 .6 1.4 .7 1.3 .7 1.4 .7 1.3 .8 1.3 .9 1.4 .8 1.3 1 1.4 1 1.3 1.1 1.4 1.1 1.3 1.2 1.3 1.2 1.4 1.3 1.3 1.4 1.4 1.5 1.3 1.5 1.3 1.6 1.4 1.7 1.3 1.7 1.4 1.8 1.3 1.9 1.4 2 1.3 2 1.3 2.1 1.4 2.1 1.3 2.2 1.4 2.3 1.3 2.3 1.3 2.4 1.4 2.4 1.3 2.4 1.4 2.4 1.3 2.5 1.3 2.5 1.4 2.5 1.3 2.5 1.4 2.5 1.3 2.4 1.4 2.5 1.3 2.4 1.3 2.4 1.4 2.3 1.3 2.3 1.4 2.3 1.3 2.2 1.3 2.1 1.4 2.1 1.3 2 1.4 2 1.3 1.9 1.4 1.8 1.3 1.7 1.3 1.7 1.4 1.6 1.3 1.5 1.4 1.5 1.3 1.3 1.3 1.4 1.4 1.2 1.3 1.2 1.4 1.1 1.3 1.1 1.4 1 1.3 .9 1.3 .9 1.4 .8 1.3 .8 1.4 .7 1.3 .7 1.3 .7 1.4 .6 1.3 .6 1.4 .5 1.3 .5 1.4 .5 1.3 .4 1.3 .4 1.4 .4 1.3 .3 1.4 .4 1.3 .3 1.3 .3 1.4 .2 1.3 .3 1.4 .2 1.3 .2 1.3 .2 1.4 .2 1.3 .2 1.4 .2 1.3 .1 1.4 .2 1.3 .1 1.3 .1 1.4 .1 1.3 .1 1.4 .1 1.3 .1 1.3 .1 1.4 .1" fill="none" stroke="#1E9A98" stroke-width="1.6" stroke-linejoin="round"/>
<path d="M757.9,2163.1L760.4,2160.6L762.9,2163.1L760.4,2165.6Z" fill="#1E9A98"/>
<path d="M757.9,2158.5L760.4,2156.0L762.9,2158.5L760.4,2161.0Z" fill="#1E9A98"/>
<path d="M757.9,2171.9L760.4,2169.4L762.9,2171.9L760.4,2174.4Z" fill="#1E9A98"/>
<path d="M775.6,2178.9L778.1,2176.4L780.6,2178.9L778.1,2181.4Z" fill="#1E9A98"/>
<path d="M775.6,2190.2L778.1,2187.7L780.6,2190.2L778.1,2192.7Z" fill="#1E9A98"/>
<path d="M775.6,2159.3L778.1,2156.8L780.6,2159.3L778.1,2161.8Z" fill="#1E9A98"/>
<path d="M793.3,2178.2L795.8,2175.7L798.3,2178.2L795.8,2180.7Z" fill="#1E9A98"/>
<path d="M793.3,2176.3L795.8,2173.8L798.3,2176.3L795.8,2178.8Z" fill="#1E9A98"/>
<path d="M793.3,2186.2L795.8,2183.7L798.3,2186.2L795.8,2188.7Z" fill="#1E9A98"/>
<path d="M811.0,2186.3L813.5,2183.8L816.0,2186.3L813.5,2188.8Z" fill="#1E9A98"/>
<path d="M811.0,2188.8L813.5,2186.3L816.0,2188.8L813.5,2191.3Z" fill="#1E9A98"/>
<path d="M811.0,2198.4L813.5,2195.9L816.0,2198.4L813.5,2200.9Z" fill="#1E9A98"/>
<path d="M828.7,2231.3L831.2,2228.8L833.7,2231.3L831.2,2233.8Z" fill="#1E9A98"/>
<path d="M828.7,2229.8L831.2,2227.3L833.7,2229.8L831.2,2232.3Z" fill="#1E9A98"/>
<path d="M828.7,2233.1L831.2,2230.6L833.7,2233.1L831.2,2235.6Z" fill="#1E9A98"/>
<path d="M846.4,2258.0L848.9,2255.5L851.4,2258.0L848.9,2260.5Z" fill="#1E9A98"/>
<path d="M846.4,2261.7L848.9,2259.2L851.4,2261.7L848.9,2264.2Z" fill="#1E9A98"/>
<path d="M846.4,2254.8L848.9,2252.3L851.4,2254.8L848.9,2257.3Z" fill="#1E9A98"/>
<path d="M864.1,2280.8L866.6,2278.3L869.1,2280.8L866.6,2283.3Z" fill="#1E9A98"/>
<path d="M864.1,2280.8L866.6,2278.3L869.1,2280.8L866.6,2283.3Z" fill="#1E9A98"/>
<path d="M864.1,2271.9L866.6,2269.4L869.1,2271.9L866.6,2274.4Z" fill="#1E9A98"/>
<path d="M881.8,2292.6L884.3,2290.1L886.8,2292.6L884.3,2295.1Z" fill="#1E9A98"/>
<path d="M881.8,2296.1L884.3,2293.6L886.8,2296.1L884.3,2298.6Z" fill="#1E9A98"/>
<path d="M881.8,2288.0L884.3,2285.5L886.8,2288.0L884.3,2290.5Z" fill="#1E9A98"/>
<path d="M899.6,2296.6L902.1,2294.1L904.6,2296.6L902.1,2299.1Z" fill="#1E9A98"/>
<path d="M899.6,2292.8L902.1,2290.3L904.6,2292.8L902.1,2295.3Z" fill="#1E9A98"/>
<path d="M899.6,2290.0L902.1,2287.5L904.6,2290.0L902.1,2292.5Z" fill="#1E9A98"/>
<line x1="686.1" y1="2091.7" x2="686.1" y2="2297.7" stroke="#000" stroke-width="2.2"/>
<line x1="685" y1="2296.6" x2="990.6" y2="2296.6" stroke="#000" stroke-width="2.2"/>
<line x1="677.6" y1="2296.6" x2="686.1" y2="2296.6" stroke="#000" stroke-width="2.2"/>
<text x="674.6" y="2301.6" font-size="14.3" font-weight="bold" text-anchor="end">0</text>
<line x1="677.6" y1="2228.6" x2="686.1" y2="2228.6" stroke="#000" stroke-width="2.2"/>
<text x="674.6" y="2233.6" font-size="14.3" font-weight="bold" text-anchor="end">50</text>
<line x1="677.6" y1="2160.7" x2="686.1" y2="2160.7" stroke="#000" stroke-width="2.2"/>
<text x="674.6" y="2165.7" font-size="14.3" font-weight="bold" text-anchor="end">100</text>
<line x1="677.6" y1="2092.7" x2="686.1" y2="2092.7" stroke="#000" stroke-width="2.2"/>
<text x="674.6" y="2097.7" font-size="14.3" font-weight="bold" text-anchor="end">150</text>
<line x1="686.1" y1="2296.6" x2="686.1" y2="2305.1" stroke="#000" stroke-width="2.2"/>
<text x="687.1" y="2322.6" font-size="14.5" font-weight="bold" text-anchor="middle">10<tspan font-size="10.4" dy="-6">-4</tspan></text>
<line x1="760.4" y1="2296.6" x2="760.4" y2="2305.1" stroke="#000" stroke-width="2.2"/>
<text x="761.4" y="2322.6" font-size="14.5" font-weight="bold" text-anchor="middle">10<tspan font-size="10.4" dy="-6">-2</tspan></text>
<line x1="834.6" y1="2296.6" x2="834.6" y2="2305.1" stroke="#000" stroke-width="2.2"/>
<text x="835.6" y="2322.6" font-size="14.5" font-weight="bold" text-anchor="middle">10<tspan font-size="10.4" dy="-6">0</tspan></text>
<line x1="908.9" y1="2296.6" x2="908.9" y2="2305.1" stroke="#000" stroke-width="2.2"/>
<text x="909.9" y="2322.6" font-size="14.5" font-weight="bold" text-anchor="middle">10<tspan font-size="10.4" dy="-6">2</tspan></text>
<line x1="983.1" y1="2296.6" x2="983.1" y2="2305.1" stroke="#000" stroke-width="2.2"/>
<text x="984.1" y="2322.6" font-size="14.5" font-weight="bold" text-anchor="middle">10<tspan font-size="10.4" dy="-6">4</tspan></text>
<text x="829.6" y="2347.6" font-size="19" text-anchor="middle">Concentration (nM)</text>
<text x="642.1" y="2193.6" font-size="19.3" text-anchor="middle" transform="rotate(-90 642.1 2193.6)">Relative Infectivity (%)</text>
<text x="871.9" y="2094" font-size="26.8" font-weight="bold" text-anchor="middle">Arcturus XBB.1.16</text>
<line x1="1009.5" y1="2106.5" x2="1057" y2="2106.5" stroke="#5A2CA0" stroke-width="1.8"/>
<circle cx="1033.2" cy="2106.5" r="2.4" fill="#4B1F98"/>
<text x="1069.4" y="2113.7" font-size="18.8">T3A</text>
<line x1="1009.5" y1="2132.2" x2="1057" y2="2132.2" stroke="#7FD4F7" stroke-width="1.8"/>
<rect x="1030.8" y="2129.8" width="4.8" height="4.8" fill="#5FC5F0"/>
<text x="1069.4" y="2142.0" font-size="18.8">T<tspan font-size="13.8" dy="-7.6">D</tspan><tspan dy="7.6">3A</tspan><tspan font-size="13.8" dy="-7.6">D</tspan><tspan font-size="15.8" dy="13.2">H345F</tspan></text>
<line x1="1009.5" y1="2164.5" x2="1057" y2="2164.5" stroke="#1E9A98" stroke-width="1.8"/>
<path d="M1030.5,2164.5L1033.2,2161.8L1036.0,2164.5L1033.2,2167.2Z" fill="#1E9A98"/>
<text x="1069.4" y="2174.6" font-size="18.8">T<tspan font-size="13.8" dy="-7.6">D</tspan><tspan dy="7.6">3A</tspan><tspan font-size="13.8" dy="-7.6">D</tspan><tspan font-size="15.8" dy="13.2">R273Q</tspan></text>
<text x="3" y="66.5" font-size="70.5" font-weight="bold" textLength="36.5" lengthAdjust="spacingAndGlyphs">a</text>
<text x="0" y="582.5" font-size="70" font-weight="bold">b</text>
<text x="2.5" y="1200" font-size="71" font-weight="bold">c</text>
<text x="0.5" y="1814.5" font-size="71" font-weight="bold">d</text>
<text x="1230.5" y="1814.2" font-size="71.5" font-weight="bold">e</text></svg></body></html>
